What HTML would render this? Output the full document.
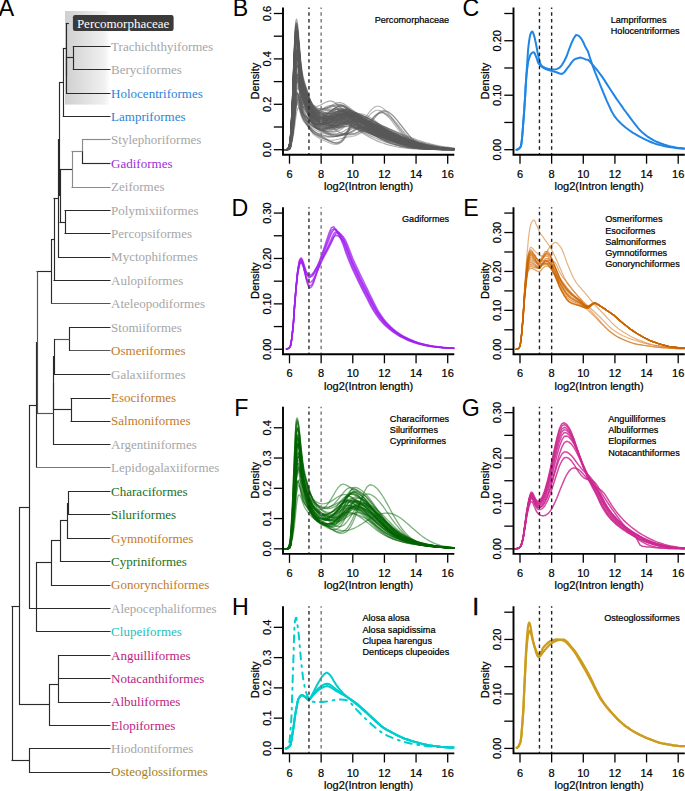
<!DOCTYPE html>
<html><head><meta charset="utf-8"><style>html,body{margin:0;padding:0;background:#fff;}svg{display:block;}</style></head><body>
<svg width="685" height="791" viewBox="0 0 685 791">
<rect width="685" height="791" fill="#fff"/>
<defs><linearGradient id="gbox" x1="0" x2="1" y1="0" y2="0"><stop offset="0" stop-color="#cfcfcf"/><stop offset="0.88" stop-color="#f1f1f1"/><stop offset="1" stop-color="#ffffff"/></linearGradient></defs>
<rect x="65" y="11" width="45" height="93.6" fill="url(#gbox)"/>
<line x1="65.80" y1="23.50" x2="68.90" y2="23.50" stroke="#2a2a2a" stroke-width="1.15"/>
<line x1="66.50" y1="23.00" x2="66.50" y2="76.00" stroke="#2a2a2a" stroke-width="1.15"/>
<line x1="72.80" y1="46.50" x2="110.50" y2="46.50" stroke="#2a2a2a" stroke-width="1.15"/>
<line x1="72.80" y1="69.50" x2="110.50" y2="69.50" stroke="#2a2a2a" stroke-width="1.15"/>
<line x1="73.50" y1="46.00" x2="73.50" y2="70.00" stroke="#2a2a2a" stroke-width="1.15"/>
<line x1="66.30" y1="57.50" x2="73.30" y2="57.50" stroke="#2a2a2a" stroke-width="1.15"/>
<line x1="66.30" y1="93.50" x2="110.50" y2="93.50" stroke="#2a2a2a" stroke-width="1.15"/>
<line x1="66.50" y1="57.00" x2="66.50" y2="94.00" stroke="#2a2a2a" stroke-width="1.15"/>
<line x1="62.80" y1="48.50" x2="66.30" y2="48.50" stroke="#2a2a2a" stroke-width="1.15"/>
<line x1="63.50" y1="48.00" x2="63.50" y2="117.00" stroke="#2a2a2a" stroke-width="1.15"/>
<line x1="62.80" y1="116.50" x2="110.50" y2="116.50" stroke="#2a2a2a" stroke-width="1.15"/>
<line x1="59.20" y1="82.50" x2="63.30" y2="82.50" stroke="#2a2a2a" stroke-width="1.15"/>
<line x1="59.50" y1="82.00" x2="59.50" y2="196.00" stroke="#2a2a2a" stroke-width="1.15"/>
<line x1="82.00" y1="139.50" x2="110.50" y2="139.50" stroke="#8a8a8a" stroke-width="1.15"/>
<line x1="82.00" y1="163.50" x2="110.50" y2="163.50" stroke="#2a2a2a" stroke-width="1.15"/>
<line x1="82.50" y1="139.00" x2="82.50" y2="152.00" stroke="#8a8a8a" stroke-width="1.15"/>
<line x1="82.50" y1="151.00" x2="82.50" y2="164.00" stroke="#2a2a2a" stroke-width="1.15"/>
<line x1="71.50" y1="151.50" x2="82.50" y2="151.50" stroke="#8a8a8a" stroke-width="1.15"/>
<line x1="71.50" y1="187.50" x2="110.50" y2="187.50" stroke="#8a8a8a" stroke-width="1.15"/>
<line x1="72.50" y1="151.00" x2="72.50" y2="188.00" stroke="#8a8a8a" stroke-width="1.15"/>
<line x1="59.50" y1="169.50" x2="72.00" y2="169.50" stroke="#2a2a2a" stroke-width="1.15"/>
<line x1="64.50" y1="210.50" x2="110.50" y2="210.50" stroke="#2a2a2a" stroke-width="1.15"/>
<line x1="64.50" y1="233.50" x2="110.50" y2="233.50" stroke="#2a2a2a" stroke-width="1.15"/>
<line x1="65.50" y1="210.00" x2="65.50" y2="234.00" stroke="#2a2a2a" stroke-width="1.15"/>
<line x1="59.50" y1="222.50" x2="65.00" y2="222.50" stroke="#2a2a2a" stroke-width="1.15"/>
<line x1="60.50" y1="169.00" x2="60.50" y2="223.00" stroke="#2a2a2a" stroke-width="1.15"/>
<line x1="58.10" y1="195.50" x2="60.00" y2="195.50" stroke="#2a2a2a" stroke-width="1.15"/>
<line x1="58.50" y1="139.00" x2="58.50" y2="258.00" stroke="#2a2a2a" stroke-width="1.15"/>
<line x1="58.10" y1="139.50" x2="59.70" y2="139.50" stroke="#2a2a2a" stroke-width="1.15"/>
<line x1="58.10" y1="257.50" x2="110.50" y2="257.50" stroke="#2a2a2a" stroke-width="1.15"/>
<line x1="53.50" y1="198.50" x2="58.60" y2="198.50" stroke="#2a2a2a" stroke-width="1.15"/>
<line x1="54.50" y1="198.00" x2="54.50" y2="281.00" stroke="#2a2a2a" stroke-width="1.15"/>
<line x1="53.50" y1="280.50" x2="110.50" y2="280.50" stroke="#2a2a2a" stroke-width="1.15"/>
<line x1="51.00" y1="239.50" x2="54.00" y2="239.50" stroke="#2a2a2a" stroke-width="1.15"/>
<line x1="51.50" y1="239.00" x2="51.50" y2="304.00" stroke="#2a2a2a" stroke-width="1.15"/>
<line x1="51.00" y1="303.50" x2="110.50" y2="303.50" stroke="#555" stroke-width="1.15"/>
<line x1="36.50" y1="271.50" x2="51.50" y2="271.50" stroke="#2a2a2a" stroke-width="1.15"/>
<line x1="37.50" y1="271.00" x2="37.50" y2="414.00" stroke="#555" stroke-width="1.15"/>
<line x1="69.00" y1="327.50" x2="110.50" y2="327.50" stroke="#2a2a2a" stroke-width="1.15"/>
<line x1="69.00" y1="350.50" x2="110.50" y2="350.50" stroke="#555" stroke-width="1.15"/>
<line x1="69.50" y1="327.00" x2="69.50" y2="351.00" stroke="#2a2a2a" stroke-width="1.15"/>
<line x1="54.00" y1="339.50" x2="69.50" y2="339.50" stroke="#555" stroke-width="1.15"/>
<line x1="54.00" y1="374.50" x2="110.50" y2="374.50" stroke="#2a2a2a" stroke-width="1.15"/>
<line x1="54.50" y1="339.00" x2="54.50" y2="375.00" stroke="#2a2a2a" stroke-width="1.15"/>
<line x1="53.30" y1="356.50" x2="54.50" y2="356.50" stroke="#2a2a2a" stroke-width="1.15"/>
<line x1="70.50" y1="398.50" x2="110.50" y2="398.50" stroke="#2a2a2a" stroke-width="1.15"/>
<line x1="70.50" y1="421.50" x2="110.50" y2="421.50" stroke="#2a2a2a" stroke-width="1.15"/>
<line x1="71.50" y1="398.00" x2="71.50" y2="422.00" stroke="#2a2a2a" stroke-width="1.15"/>
<line x1="53.30" y1="409.50" x2="71.00" y2="409.50" stroke="#2a2a2a" stroke-width="1.15"/>
<line x1="53.50" y1="356.00" x2="53.50" y2="410.00" stroke="#2a2a2a" stroke-width="1.15"/>
<line x1="53.00" y1="383.50" x2="53.80" y2="383.50" stroke="#2a2a2a" stroke-width="1.15"/>
<line x1="53.00" y1="444.50" x2="110.50" y2="444.50" stroke="#2a2a2a" stroke-width="1.15"/>
<line x1="53.50" y1="383.00" x2="53.50" y2="445.00" stroke="#2a2a2a" stroke-width="1.15"/>
<line x1="36.50" y1="413.50" x2="53.50" y2="413.50" stroke="#555" stroke-width="1.15"/>
<line x1="36.00" y1="342.50" x2="37.00" y2="342.50" stroke="#2a2a2a" stroke-width="1.15"/>
<line x1="36.50" y1="342.00" x2="36.50" y2="468.00" stroke="#2a2a2a" stroke-width="1.15"/>
<line x1="36.00" y1="467.50" x2="110.50" y2="467.50" stroke="#777" stroke-width="1.15"/>
<line x1="29.00" y1="405.50" x2="36.50" y2="405.50" stroke="#2a2a2a" stroke-width="1.15"/>
<line x1="29.50" y1="405.00" x2="29.50" y2="609.00" stroke="#2a2a2a" stroke-width="1.15"/>
<line x1="68.00" y1="491.50" x2="110.50" y2="491.50" stroke="#2a2a2a" stroke-width="1.15"/>
<line x1="68.00" y1="514.50" x2="110.50" y2="514.50" stroke="#2a2a2a" stroke-width="1.15"/>
<line x1="68.50" y1="491.00" x2="68.50" y2="515.00" stroke="#2a2a2a" stroke-width="1.15"/>
<line x1="67.00" y1="503.50" x2="68.50" y2="503.50" stroke="#2a2a2a" stroke-width="1.15"/>
<line x1="67.00" y1="538.50" x2="110.50" y2="538.50" stroke="#2a2a2a" stroke-width="1.15"/>
<line x1="67.50" y1="503.00" x2="67.50" y2="539.00" stroke="#2a2a2a" stroke-width="1.15"/>
<line x1="60.00" y1="520.50" x2="67.50" y2="520.50" stroke="#2a2a2a" stroke-width="1.15"/>
<line x1="60.00" y1="561.50" x2="110.50" y2="561.50" stroke="#2a2a2a" stroke-width="1.15"/>
<line x1="60.50" y1="520.00" x2="60.50" y2="562.00" stroke="#2a2a2a" stroke-width="1.15"/>
<line x1="51.00" y1="540.50" x2="60.50" y2="540.50" stroke="#2a2a2a" stroke-width="1.15"/>
<line x1="51.00" y1="585.50" x2="110.50" y2="585.50" stroke="#2a2a2a" stroke-width="1.15"/>
<line x1="51.50" y1="540.00" x2="51.50" y2="586.00" stroke="#2a2a2a" stroke-width="1.15"/>
<line x1="36.00" y1="562.50" x2="51.50" y2="562.50" stroke="#2a2a2a" stroke-width="1.15"/>
<line x1="36.00" y1="631.50" x2="110.50" y2="631.50" stroke="#2a2a2a" stroke-width="1.15"/>
<line x1="36.50" y1="562.00" x2="36.50" y2="632.00" stroke="#2a2a2a" stroke-width="1.15"/>
<line x1="29.00" y1="608.50" x2="110.50" y2="608.50" stroke="#2a2a2a" stroke-width="1.15"/>
<line x1="19.00" y1="507.50" x2="29.50" y2="507.50" stroke="#2a2a2a" stroke-width="1.15"/>
<line x1="19.50" y1="507.00" x2="19.50" y2="705.00" stroke="#2a2a2a" stroke-width="1.15"/>
<line x1="58.00" y1="655.50" x2="110.50" y2="655.50" stroke="#2a2a2a" stroke-width="1.15"/>
<line x1="58.00" y1="678.50" x2="110.50" y2="678.50" stroke="#2a2a2a" stroke-width="1.15"/>
<line x1="58.00" y1="702.50" x2="110.50" y2="702.50" stroke="#2a2a2a" stroke-width="1.15"/>
<line x1="58.50" y1="655.00" x2="58.50" y2="703.00" stroke="#2a2a2a" stroke-width="1.15"/>
<line x1="49.00" y1="684.50" x2="58.50" y2="684.50" stroke="#2a2a2a" stroke-width="1.15"/>
<line x1="49.00" y1="725.50" x2="110.50" y2="725.50" stroke="#2a2a2a" stroke-width="1.15"/>
<line x1="49.50" y1="684.00" x2="49.50" y2="726.00" stroke="#2a2a2a" stroke-width="1.15"/>
<line x1="19.00" y1="704.50" x2="49.50" y2="704.50" stroke="#2a2a2a" stroke-width="1.15"/>
<line x1="11.50" y1="606.50" x2="19.50" y2="606.50" stroke="#2a2a2a" stroke-width="1.15"/>
<line x1="29.00" y1="748.50" x2="110.50" y2="748.50" stroke="#2a2a2a" stroke-width="1.15"/>
<line x1="29.00" y1="772.50" x2="110.50" y2="772.50" stroke="#2a2a2a" stroke-width="1.15"/>
<line x1="29.50" y1="748.00" x2="29.50" y2="773.00" stroke="#2a2a2a" stroke-width="1.15"/>
<line x1="11.50" y1="760.50" x2="29.50" y2="760.50" stroke="#2a2a2a" stroke-width="1.15"/>
<line x1="12.50" y1="606.00" x2="12.50" y2="761.00" stroke="#2a2a2a" stroke-width="1.15"/>
<rect x="72.9" y="15" width="100.7" height="15.9" rx="2.2" fill="#3a3a3a"/>
<g font-family="&quot;Liberation Serif&quot;, serif" font-size="13">
<text x="76.9" y="28.1" fill="#ffffff">Percomorphaceae</text>
<text x="111.1" y="50.90" fill="#a6a6a6">Trachichthyiformes</text>
<text x="111.1" y="73.90" fill="#a6a6a6">Beryciformes</text>
<text x="111.1" y="97.50" fill="#2a84d8">Holocentriformes</text>
<text x="111.1" y="120.70" fill="#2a84d8">Lampriformes</text>
<text x="111.1" y="144.00" fill="#a6a6a6">Stylephoriformes</text>
<text x="111.1" y="167.80" fill="#9a2ed8">Gadiformes</text>
<text x="111.1" y="191.40" fill="#a6a6a6">Zeiformes</text>
<text x="111.1" y="214.80" fill="#a6a6a6">Polymixiiformes</text>
<text x="111.1" y="238.00" fill="#a6a6a6">Percopsiformes</text>
<text x="111.1" y="261.40" fill="#a6a6a6">Myctophiformes</text>
<text x="111.1" y="284.80" fill="#a6a6a6">Aulopiformes</text>
<text x="111.1" y="308.00" fill="#a6a6a6">Ateleopodiformes</text>
<text x="111.1" y="332.00" fill="#a6a6a6">Stomiiformes</text>
<text x="111.1" y="355.00" fill="#c27a2c">Osmeriformes</text>
<text x="111.1" y="378.80" fill="#a6a6a6">Galaxiiformes</text>
<text x="111.1" y="402.40" fill="#c27a2c">Esociformes</text>
<text x="111.1" y="425.40" fill="#c27a2c">Salmoniformes</text>
<text x="111.1" y="448.60" fill="#a6a6a6">Argentiniformes</text>
<text x="111.1" y="472.00" fill="#a6a6a6">Lepidogalaxiiformes</text>
<text x="111.1" y="496.00" fill="#1a701a">Characiformes</text>
<text x="111.1" y="518.80" fill="#1a701a">Siluriformes</text>
<text x="111.1" y="542.60" fill="#c27a2c">Gymnotiformes</text>
<text x="111.1" y="565.80" fill="#1a701a">Cypriniformes</text>
<text x="111.1" y="589.40" fill="#c27a2c">Gonorynchiformes</text>
<text x="111.1" y="612.80" fill="#a6a6a6">Alepocephaliformes</text>
<text x="111.1" y="635.80" fill="#1cc0c0">Clupeiformes</text>
<text x="111.1" y="659.80" fill="#bc2282">Anguilliformes</text>
<text x="111.1" y="683.00" fill="#bc2282">Notacanthiformes</text>
<text x="111.1" y="706.40" fill="#bc2282">Albuliformes</text>
<text x="111.1" y="729.80" fill="#bc2282">Elopiformes</text>
<text x="111.1" y="753.00" fill="#a6a6a6">Hiodontiformes</text>
<text x="111.1" y="776.40" fill="#a27e16">Osteoglossiformes</text>
</g>
<text x="-1.4" y="15.9" font-family="&quot;Liberation Sans&quot;, sans-serif" font-size="23.5" fill="#000">A</text>
<g font-family="&quot;Liberation Sans&quot;, sans-serif" font-size="11" fill="#000" stroke="#000" stroke-width="0.22"><clipPath id="clipB"><rect x="283.00" y="7.60" width="171.30" height="147.10"/></clipPath>
<g fill="none" stroke-linejoin="round" stroke-linecap="round" clip-path="url(#clipB)">
<path d="M283.5,149.7L284.0,149.7 284.5,149.7 285.1,149.7 285.6,149.7 286.1,149.7 286.6,149.6 287.1,149.5 287.7,149.3 288.2,148.9 288.7,148.3 289.2,147.3 289.8,145.5 290.3,142.6 290.8,137.8 291.3,131.0 291.8,122.8 292.4,113.5 292.9,103.1 293.4,91.7 293.9,79.7 294.5,67.8 295.0,56.9 295.5,47.9 296.0,41.7 296.5,38.8 297.1,38.6 297.6,40.3 298.1,43.5 298.6,48.0 299.2,53.2 299.7,58.7 300.2,64.0 300.7,68.9 301.2,73.2 301.8,76.9 302.3,80.0 302.8,82.6 303.3,84.7 303.8,86.5 304.4,88.2 304.9,89.7 305.4,91.1 305.9,92.6 306.5,94.0 307.0,95.4 307.5,96.9 308.0,98.3 308.5,99.8 309.1,101.2 309.6,102.6 310.1,103.8 310.6,105.0 311.2,106.1 311.7,107.1 312.2,108.0 312.7,108.8 313.2,109.6 313.8,110.3 314.3,111.0 314.8,111.6 317.2,113.7 319.6,115.2 321.9,116.3 324.3,117.1 326.7,117.5 329.0,117.7 331.4,117.5 333.8,117.0 336.1,116.5 338.5,116.1 340.9,116.0 343.3,116.5 345.6,117.8 348.0,119.4 350.4,121.0 352.7,122.5 355.1,123.9 357.5,125.3 359.8,126.5 362.2,127.8 364.6,128.9 367.0,130.0 369.3,131.1 371.7,132.1 374.1,133.1 376.4,134.0 378.8,135.0 381.2,135.9 383.6,136.8 385.9,137.6 388.3,138.5 390.7,139.3 393.0,140.1 395.4,140.8 397.8,141.5 400.1,142.2 402.5,142.9 404.9,143.5 407.3,144.1 409.6,144.6 412.0,145.1 414.4,145.6 416.7,146.1 419.1,146.5 421.5,146.8 423.8,147.2 426.2,147.5 428.6,147.8 431.0,148.0 433.3,148.2 435.7,148.4 438.1,148.6 440.4,148.8 442.8,148.9 445.2,149.0 447.5,149.1 449.9,149.2 452.3,149.3 454.7,149.4" stroke="#5a5a5a" stroke-width="1.2" stroke-opacity="0.5"/>
<path d="M283.5,149.7L284.0,149.7 284.5,149.7 285.1,149.7 285.6,149.7 286.1,149.6 286.6,149.5 287.1,149.3 287.7,149.0 288.2,148.4 288.7,147.5 289.2,145.9 289.8,143.4 290.3,139.6 290.8,133.9 291.3,126.0 291.8,116.5 292.4,105.6 292.9,93.7 293.4,80.9 293.9,68.1 294.5,56.1 295.0,46.0 295.5,38.7 296.0,34.8 296.5,34.4 297.1,36.2 297.6,39.8 298.1,44.8 298.6,50.8 299.2,57.2 299.7,63.5 300.2,69.5 300.7,74.9 301.2,79.5 301.8,83.4 302.3,86.7 302.8,89.5 303.3,91.9 303.8,94.0 304.4,95.9 304.9,97.7 305.4,99.5 305.9,101.1 306.5,102.8 307.0,104.4 307.5,106.0 308.0,107.6 308.5,109.1 309.1,110.6 309.6,111.9 310.1,113.2 310.6,114.3 311.2,115.4 311.7,116.4 312.2,117.2 312.7,118.0 313.2,118.7 313.8,119.4 314.3,119.9 314.8,120.4 317.2,122.1 319.6,122.9 321.9,123.3 324.3,123.4 326.7,123.2 329.0,122.7 331.4,122.1 333.8,121.4 336.1,120.7 338.5,120.2 340.9,120.0 343.3,120.3 345.6,121.1 348.0,122.3 350.4,123.5 352.7,124.7 355.1,125.8 357.5,127.0 359.8,128.1 362.2,129.1 364.6,130.2 367.0,131.2 369.3,132.2 371.7,133.2 374.1,134.2 376.4,135.1 378.8,136.0 381.2,136.9 383.6,137.8 385.9,138.7 388.3,139.5 390.7,140.3 393.0,141.1 395.4,141.8 397.8,142.6 400.1,143.2 402.5,143.8 404.9,144.4 407.3,145.0 409.6,145.5 412.0,146.0 414.4,146.4 416.7,146.8 419.1,147.2 421.5,147.5 423.8,147.8 426.2,148.0 428.6,148.3 431.0,148.5 433.3,148.6 435.7,148.8 438.1,148.9 440.4,149.1 442.8,149.2 445.2,149.3 447.5,149.3 449.9,149.4 452.3,149.4 454.7,149.5" stroke="#5a5a5a" stroke-width="1.2" stroke-opacity="0.5"/>
<path d="M283.5,149.7L284.0,149.7 284.5,149.7 285.1,149.7 285.6,149.6 286.1,149.6 286.6,149.5 287.1,149.2 287.7,148.8 288.2,148.1 288.7,146.9 289.2,145.0 289.8,142.1 290.3,137.5 290.8,130.7 291.3,121.4 291.8,110.3 292.4,97.8 292.9,84.3 293.4,70.2 293.9,56.2 294.5,43.4 295.0,32.9 295.5,25.7 296.0,22.4 296.5,22.5 297.1,24.8 297.6,29.0 298.1,34.7 298.6,41.3 299.2,48.1 299.7,54.9 300.2,61.1 300.7,66.6 301.2,71.4 301.8,75.3 302.3,78.7 302.8,81.5 303.3,83.9 303.8,86.0 304.4,88.0 304.9,89.8 305.4,91.6 305.9,93.4 306.5,95.1 307.0,96.8 307.5,98.5 308.0,100.2 308.5,101.8 309.1,103.4 309.6,104.9 310.1,106.3 310.6,107.5 311.2,108.6 311.7,109.7 312.2,110.6 312.7,111.5 313.2,112.2 313.8,112.9 314.3,113.5 314.8,114.0 317.2,115.8 319.6,116.8 321.9,117.4 324.3,117.6 326.7,117.7 329.0,117.6 331.4,117.2 333.8,116.7 336.1,116.1 338.5,115.5 340.9,115.0 343.3,114.7 345.6,114.8 348.0,115.5 350.4,116.7 352.7,118.1 355.1,119.5 357.5,121.0 359.8,122.5 362.2,124.0 364.6,125.5 367.0,127.0 369.3,128.5 371.7,129.9 374.1,131.4 376.4,132.8 378.8,134.1 381.2,135.4 383.6,136.6 385.9,137.8 388.3,139.0 390.7,140.0 393.0,141.0 395.4,141.9 397.8,142.8 400.1,143.6 402.5,144.3 404.9,145.0 407.3,145.6 409.6,146.1 412.0,146.6 414.4,147.0 416.7,147.4 419.1,147.8 421.5,148.1 423.8,148.3 426.2,148.5 428.6,148.7 431.0,148.9 433.3,149.0 435.7,149.2 438.1,149.3 440.4,149.3 442.8,149.4 445.2,149.5 447.5,149.5 449.9,149.6 452.3,149.6 454.7,149.6" stroke="#5a5a5a" stroke-width="1.2" stroke-opacity="0.5"/>
<path d="M283.5,149.7L284.0,149.7 284.5,149.7 285.1,149.7 285.6,149.7 286.1,149.7 286.6,149.7 287.1,149.7 287.7,149.6 288.2,149.6 288.7,149.5 289.2,149.2 289.8,148.7 290.3,147.8 290.8,145.8 291.3,142.9 291.8,139.6 292.4,136.1 292.9,132.3 293.4,127.9 293.9,123.0 294.5,117.7 295.0,112.1 295.5,106.8 296.0,102.0 296.5,98.2 297.1,95.6 297.6,94.4 298.1,94.2 298.6,94.7 299.2,95.8 299.7,97.3 300.2,99.1 300.7,100.9 301.2,102.7 301.8,104.2 302.3,105.5 302.8,106.6 303.3,107.4 303.8,108.1 304.4,108.7 304.9,109.2 305.4,109.6 305.9,110.1 306.5,110.6 307.0,111.1 307.5,111.6 308.0,112.2 308.5,112.9 309.1,113.6 309.6,114.2 310.1,114.8 310.6,115.3 311.2,115.9 311.7,116.4 312.2,116.8 312.7,117.2 313.2,117.6 313.8,118.0 314.3,118.3 314.8,118.6 317.2,119.6 319.6,120.3 321.9,120.8 324.3,121.0 326.7,120.9 329.0,120.6 331.4,119.9 333.8,118.9 336.1,117.7 338.5,116.2 340.9,114.6 343.3,113.3 345.6,112.2 348.0,111.8 350.4,112.1 352.7,113.1 355.1,114.4 357.5,115.7 359.8,117.0 362.2,118.4 364.6,119.9 367.0,121.3 369.3,122.8 371.7,124.3 374.1,125.8 376.4,127.3 378.8,128.7 381.2,130.2 383.6,131.6 385.9,132.9 388.3,134.3 390.7,135.6 393.0,136.8 395.4,138.0 397.8,139.1 400.1,140.1 402.5,141.1 404.9,142.0 407.3,142.9 409.6,143.7 412.0,144.4 414.4,145.0 416.7,145.6 419.1,146.2 421.5,146.6 423.8,147.1 426.2,147.5 428.6,147.8 431.0,148.1 433.3,148.3 435.7,148.5 438.1,148.7 440.4,148.9 442.8,149.0 445.2,149.2 447.5,149.3 449.9,149.3 452.3,149.4 454.7,149.5" stroke="#5a5a5a" stroke-width="1.2" stroke-opacity="0.5"/>
<path d="M283.5,149.7L284.0,149.7 284.5,149.7 285.1,149.7 285.6,149.7 286.1,149.7 286.6,149.7 287.1,149.7 287.7,149.6 288.2,149.6 288.7,149.5 289.2,149.3 289.8,148.8 290.3,147.8 290.8,145.8 291.3,142.8 291.8,139.4 292.4,136.1 292.9,132.6 293.4,128.7 293.9,124.4 294.5,119.7 295.0,114.9 295.5,110.3 296.0,106.2 296.5,102.8 297.1,100.5 297.6,99.3 298.1,98.9 298.6,99.0 299.2,99.6 299.7,100.6 300.2,101.7 300.7,102.9 301.2,103.9 301.8,104.9 302.3,105.6 302.8,106.2 303.3,106.6 303.8,106.9 304.4,107.1 304.9,107.2 305.4,107.4 305.9,107.6 306.5,107.9 307.0,108.2 307.5,108.5 308.0,109.0 308.5,109.5 309.1,110.0 309.6,110.5 310.1,111.0 310.6,111.5 311.2,111.9 311.7,112.4 312.2,112.8 312.7,113.1 313.2,113.5 313.8,113.9 314.3,114.2 314.8,114.5 317.2,115.8 319.6,116.8 321.9,117.8 324.3,118.6 326.7,119.2 329.0,119.7 331.4,119.9 333.8,120.0 336.1,119.8 338.5,119.5 340.9,119.2 343.3,119.0 345.6,119.1 348.0,119.5 350.4,120.4 352.7,121.6 355.1,122.8 357.5,124.0 359.8,125.2 362.2,126.3 364.6,127.4 367.0,128.6 369.3,129.7 371.7,130.8 374.1,131.8 376.4,132.9 378.8,134.0 381.2,135.1 383.6,136.1 385.9,137.1 388.3,138.1 390.7,139.1 393.0,140.0 395.4,140.9 397.8,141.8 400.1,142.6 402.5,143.3 404.9,144.0 407.3,144.7 409.6,145.3 412.0,145.8 414.4,146.3 416.7,146.8 419.1,147.2 421.5,147.5 423.8,147.8 426.2,148.1 428.6,148.4 431.0,148.6 433.3,148.8 435.7,148.9 438.1,149.1 440.4,149.2 442.8,149.3 445.2,149.3 447.5,149.4 449.9,149.5 452.3,149.5 454.7,149.6" stroke="#5a5a5a" stroke-width="1.2" stroke-opacity="0.5"/>
<path d="M283.5,149.7L284.0,149.7 284.5,149.7 285.1,149.7 285.6,149.7 286.1,149.7 286.6,149.7 287.1,149.6 287.7,149.5 288.2,149.3 288.7,149.0 289.2,148.5 289.8,147.5 290.3,145.7 290.8,142.6 291.3,138.1 291.8,132.6 292.4,126.4 292.9,119.4 293.4,111.5 293.9,102.9 294.5,93.9 295.0,85.1 295.5,77.2 296.0,70.9 296.5,66.8 297.1,65.1 297.6,65.2 298.1,66.6 298.6,69.2 299.2,72.5 299.7,76.3 300.2,80.2 300.7,83.9 301.2,87.3 301.8,90.3 302.3,92.8 302.8,94.9 303.3,96.6 303.8,98.0 304.4,99.3 304.9,100.4 305.4,101.5 305.9,102.6 306.5,103.6 307.0,104.7 307.5,105.8 308.0,106.9 308.5,108.0 309.1,109.1 309.6,110.2 310.1,111.2 310.6,112.1 311.2,112.9 311.7,113.7 312.2,114.5 312.7,115.1 313.2,115.8 313.8,116.3 314.3,116.9 314.8,117.3 317.2,119.1 319.6,120.4 321.9,121.5 324.3,122.5 326.7,123.5 329.0,124.4 331.4,125.1 333.8,125.6 336.1,125.8 338.5,125.5 340.9,124.8 343.3,123.5 345.6,121.8 348.0,119.9 350.4,118.0 352.7,116.5 355.1,115.6 357.5,115.5 359.8,116.4 362.2,117.4 364.6,118.5 367.0,119.6 369.3,120.7 371.7,121.8 374.1,123.0 376.4,124.2 378.8,125.4 381.2,126.6 383.6,127.8 385.9,129.0 388.3,130.2 390.7,131.4 393.0,132.6 395.4,133.7 397.8,134.9 400.1,136.0 402.5,137.1 404.9,138.1 407.3,139.1 409.6,140.0 412.0,140.9 414.4,141.8 416.7,142.6 419.1,143.3 421.5,144.0 423.8,144.6 426.2,145.2 428.6,145.8 431.0,146.2 433.3,146.7 435.7,147.1 438.1,147.4 440.4,147.7 442.8,148.0 445.2,148.3 447.5,148.5 449.9,148.7 452.3,148.8 454.7,149.0" stroke="#5a5a5a" stroke-width="1.2" stroke-opacity="0.5"/>
<path d="M283.5,149.7L284.0,149.7 284.5,149.7 285.1,149.7 285.6,149.7 286.1,149.6 286.6,149.6 287.1,149.5 287.7,149.3 288.2,148.9 288.7,148.3 289.2,147.2 289.8,145.5 290.3,142.7 290.8,138.3 291.3,132.1 291.8,124.6 292.4,115.9 292.9,106.3 293.4,95.7 293.9,84.7 294.5,74.0 295.0,64.4 295.5,56.7 296.0,51.7 296.5,49.7 297.1,50.1 297.6,52.1 298.1,55.6 298.6,60.1 299.2,65.2 299.7,70.4 300.2,75.5 300.7,80.1 301.2,84.2 301.8,87.6 302.3,90.6 302.8,93.0 303.3,95.1 303.8,96.8 304.4,98.5 304.9,99.9 305.4,101.4 305.9,102.8 306.5,104.1 307.0,105.5 307.5,106.9 308.0,108.2 308.5,109.6 309.1,110.9 309.6,112.1 310.1,113.2 310.6,114.3 311.2,115.3 311.7,116.2 312.2,117.0 312.7,117.7 313.2,118.4 313.8,119.0 314.3,119.6 314.8,120.1 317.2,121.9 319.6,123.1 321.9,124.0 324.3,124.7 326.7,125.2 329.0,125.6 331.4,125.7 333.8,125.6 336.1,125.3 338.5,124.8 340.9,124.2 343.3,123.7 345.6,123.4 348.0,123.5 350.4,124.0 352.7,125.0 355.1,126.1 357.5,127.2 359.8,128.3 362.2,129.4 364.6,130.5 367.0,131.6 369.3,132.6 371.7,133.6 374.1,134.7 376.4,135.6 378.8,136.6 381.2,137.6 383.6,138.5 385.9,139.4 388.3,140.2 390.7,141.1 393.0,141.8 395.4,142.6 397.8,143.3 400.1,143.9 402.5,144.6 404.9,145.1 407.3,145.6 409.6,146.1 412.0,146.6 414.4,147.0 416.7,147.3 419.1,147.7 421.5,147.9 423.8,148.2 426.2,148.4 428.6,148.6 431.0,148.8 433.3,148.9 435.7,149.1 438.1,149.2 440.4,149.3 442.8,149.3 445.2,149.4 447.5,149.5 449.9,149.5 452.3,149.5 454.7,149.6" stroke="#5a5a5a" stroke-width="1.2" stroke-opacity="0.5"/>
<path d="M283.5,149.7L284.0,149.7 284.5,149.7 285.1,149.7 285.6,149.7 286.1,149.6 286.6,149.5 287.1,149.4 287.7,149.1 288.2,148.6 288.7,147.7 289.2,146.2 289.8,143.9 290.3,140.1 290.8,134.1 291.3,125.7 291.8,115.7 292.4,104.5 292.9,92.3 293.4,79.2 293.9,65.8 294.5,53.1 295.0,42.0 295.5,33.5 296.0,28.4 296.5,26.9 297.1,27.8 297.6,30.6 298.1,35.0 298.6,40.4 299.2,46.4 299.7,52.4 300.2,58.1 300.7,63.2 301.2,67.6 301.8,71.3 302.3,74.4 302.8,76.9 303.3,79.0 303.8,80.9 304.4,82.6 304.9,84.2 305.4,85.7 305.9,87.2 306.5,88.8 307.0,90.3 307.5,91.8 308.0,93.4 308.5,95.0 309.1,96.5 309.6,97.9 310.1,99.2 310.6,100.4 311.2,101.6 311.7,102.6 312.2,103.6 312.7,104.4 313.2,105.2 313.8,105.9 314.3,106.6 314.8,107.2 317.2,109.3 319.6,110.7 321.9,111.8 324.3,112.6 326.7,113.2 329.0,113.6 331.4,113.7 333.8,113.5 336.1,113.0 338.5,112.4 340.9,111.7 343.3,111.1 345.6,110.8 348.0,110.9 350.4,111.5 352.7,112.9 355.1,114.4 357.5,116.0 359.8,117.6 362.2,119.1 364.6,120.7 367.0,122.2 369.3,123.7 371.7,125.3 374.1,126.7 376.4,128.2 378.8,129.7 381.2,131.1 383.6,132.4 385.9,133.8 388.3,135.1 390.7,136.3 393.0,137.5 395.4,138.6 397.8,139.7 400.1,140.7 402.5,141.6 404.9,142.5 407.3,143.3 409.6,144.1 412.0,144.8 414.4,145.4 416.7,146.0 419.1,146.5 421.5,146.9 423.8,147.3 426.2,147.7 428.6,148.0 431.0,148.3 433.3,148.5 435.7,148.7 438.1,148.9 440.4,149.0 442.8,149.1 445.2,149.2 447.5,149.3 449.9,149.4 452.3,149.5 454.7,149.5" stroke="#5a5a5a" stroke-width="1.2" stroke-opacity="0.5"/>
<path d="M283.5,149.7L284.0,149.7 284.5,149.7 285.1,149.7 285.6,149.7 286.1,149.7 286.6,149.6 287.1,149.5 287.7,149.3 288.2,149.0 288.7,148.5 289.2,147.6 289.8,146.0 290.3,143.5 290.8,139.4 291.3,133.6 291.8,126.5 292.4,118.5 292.9,109.5 293.4,99.5 293.9,89.0 294.5,78.7 295.0,69.2 295.5,61.5 296.0,56.2 296.5,53.7 297.1,53.7 297.6,55.3 298.1,58.3 298.6,62.3 299.2,66.9 299.7,71.8 300.2,76.6 300.7,81.0 301.2,84.9 301.8,88.2 302.3,90.9 302.8,93.2 303.3,95.2 303.8,96.8 304.4,98.3 304.9,99.6 305.4,100.9 305.9,102.2 306.5,103.4 307.0,104.6 307.5,105.9 308.0,107.1 308.5,108.3 309.1,109.5 309.6,110.5 310.1,111.5 310.6,112.5 311.2,113.3 311.7,114.0 312.2,114.7 312.7,115.3 313.2,115.8 313.8,116.3 314.3,116.7 314.8,117.0 317.2,117.9 319.6,118.0 321.9,117.5 324.3,116.6 326.7,115.3 329.0,113.8 331.4,112.2 333.8,110.7 336.1,109.4 338.5,108.6 340.9,108.5 343.3,109.3 345.6,110.6 348.0,112.1 350.4,113.5 352.7,114.9 355.1,116.4 357.5,117.8 359.8,119.3 362.2,120.8 364.6,122.2 367.0,123.7 369.3,125.2 371.7,126.7 374.1,128.1 376.4,129.6 378.8,131.0 381.2,132.4 383.6,133.7 385.9,135.0 388.3,136.3 390.7,137.5 393.0,138.7 395.4,139.8 397.8,140.8 400.1,141.7 402.5,142.6 404.9,143.4 407.3,144.2 409.6,144.9 412.0,145.5 414.4,146.0 416.7,146.5 419.1,147.0 421.5,147.4 423.8,147.7 426.2,148.0 428.6,148.3 431.0,148.5 433.3,148.7 435.7,148.9 438.1,149.0 440.4,149.1 442.8,149.2 445.2,149.3 447.5,149.4 449.9,149.5 452.3,149.5 454.7,149.5" stroke="#5a5a5a" stroke-width="1.2" stroke-opacity="0.5"/>
<path d="M283.5,149.7L284.0,149.7 284.5,149.7 285.1,149.7 285.6,149.7 286.1,149.6 286.6,149.5 287.1,149.3 287.7,148.9 288.2,148.3 288.7,147.3 289.2,145.7 289.8,143.1 290.3,139.1 290.8,133.3 291.3,125.3 291.8,115.5 292.4,104.4 292.9,92.0 293.4,78.9 293.9,65.8 294.5,53.5 295.0,43.3 295.5,36.1 296.0,32.4 296.5,32.3 297.1,34.4 297.6,38.4 298.1,43.8 298.6,50.2 299.2,57.0 299.7,63.7 300.2,70.0 300.7,75.7 301.2,80.6 301.8,84.7 302.3,88.3 302.8,91.2 303.3,93.8 303.8,96.1 304.4,98.2 304.9,100.2 305.4,102.0 305.9,103.8 306.5,105.6 307.0,107.3 307.5,109.0 308.0,110.6 308.5,112.2 309.1,113.7 309.6,115.1 310.1,116.4 310.6,117.6 311.2,118.7 311.7,119.7 312.2,120.5 312.7,121.3 313.2,122.0 313.8,122.6 314.3,123.2 314.8,123.6 317.2,125.0 319.6,125.5 321.9,125.4 324.3,124.9 326.7,123.9 329.0,122.5 331.4,120.7 333.8,118.6 336.1,116.3 338.5,114.0 340.9,111.9 343.3,110.2 345.6,109.2 348.0,109.2 350.4,110.0 352.7,111.1 355.1,112.3 357.5,113.5 359.8,114.9 362.2,116.3 364.6,117.8 367.0,119.4 369.3,121.0 371.7,122.6 374.1,124.2 376.4,125.9 378.8,127.5 381.2,129.1 383.6,130.7 385.9,132.2 388.3,133.7 390.7,135.1 393.0,136.5 395.4,137.8 397.8,139.0 400.1,140.1 402.5,141.2 404.9,142.2 407.3,143.1 409.6,143.9 412.0,144.6 414.4,145.3 416.7,145.9 419.1,146.5 421.5,146.9 423.8,147.3 426.2,147.7 428.6,148.0 431.0,148.3 433.3,148.5 435.7,148.7 438.1,148.9 440.4,149.0 442.8,149.2 445.2,149.3 447.5,149.4 449.9,149.4 452.3,149.5 454.7,149.5" stroke="#5a5a5a" stroke-width="1.2" stroke-opacity="0.5"/>
<path d="M283.5,149.7L284.0,149.7 284.5,149.7 285.1,149.7 285.6,149.7 286.1,149.7 286.6,149.7 287.1,149.6 287.7,149.5 288.2,149.4 288.7,149.1 289.2,148.6 289.8,147.7 290.3,146.0 290.8,143.1 291.3,138.8 291.8,133.6 292.4,127.9 292.9,121.5 293.4,114.3 293.9,106.4 294.5,98.2 295.0,90.2 295.5,83.0 296.0,77.3 296.5,73.4 297.1,71.8 297.6,71.8 298.1,72.9 298.6,75.1 299.2,77.9 299.7,81.2 300.2,84.5 300.7,87.8 301.2,90.7 301.8,93.2 302.3,95.3 302.8,97.1 303.3,98.5 303.8,99.7 304.4,100.7 304.9,101.7 305.4,102.6 305.9,103.4 306.5,104.3 307.0,105.2 307.5,106.2 308.0,107.1 308.5,108.1 309.1,109.1 309.6,110.0 310.1,110.9 310.6,111.7 311.2,112.5 311.7,113.2 312.2,113.8 312.7,114.4 313.2,115.0 313.8,115.5 314.3,116.0 314.8,116.4 317.2,118.0 319.6,119.1 321.9,119.8 324.3,120.2 326.7,120.3 329.0,120.0 331.4,119.3 333.8,118.2 336.1,116.9 338.5,115.4 340.9,113.9 343.3,112.7 345.6,112.1 348.0,112.1 350.4,113.0 352.7,114.2 355.1,115.4 357.5,116.6 359.8,117.8 362.2,119.0 364.6,120.3 367.0,121.5 369.3,122.8 371.7,124.1 374.1,125.4 376.4,126.7 378.8,128.1 381.2,129.4 383.6,130.7 385.9,132.0 388.3,133.3 390.7,134.5 393.0,135.8 395.4,136.9 397.8,138.1 400.1,139.2 402.5,140.2 404.9,141.1 407.3,142.0 409.6,142.9 412.0,143.6 414.4,144.4 416.7,145.0 419.1,145.6 421.5,146.1 423.8,146.6 426.2,147.0 428.6,147.4 431.0,147.7 433.3,148.0 435.7,148.3 438.1,148.5 440.4,148.7 442.8,148.9 445.2,149.0 447.5,149.1 449.9,149.2 452.3,149.3 454.7,149.4" stroke="#5a5a5a" stroke-width="1.2" stroke-opacity="0.5"/>
<path d="M283.5,149.7L284.0,149.7 284.5,149.7 285.1,149.7 285.6,149.7 286.1,149.7 286.6,149.7 287.1,149.6 287.7,149.5 288.2,149.3 288.7,149.0 289.2,148.4 289.8,147.4 290.3,145.6 290.8,142.7 291.3,138.4 291.8,133.0 292.4,126.6 292.9,119.1 293.4,110.4 293.9,100.8 294.5,90.7 295.0,80.9 295.5,72.0 296.0,64.9 296.5,60.3 297.1,58.5 297.6,58.9 298.1,60.9 298.6,64.2 299.2,68.5 299.7,73.3 300.2,78.3 300.7,83.2 301.2,87.6 301.8,91.6 302.3,95.0 302.8,97.9 303.3,100.3 303.8,102.4 304.4,104.2 304.9,105.9 305.4,107.4 305.9,108.8 306.5,110.3 307.0,111.6 307.5,113.0 308.0,114.4 308.5,115.7 309.1,117.0 309.6,118.2 310.1,119.3 310.6,120.4 311.2,121.3 311.7,122.2 312.2,123.0 312.7,123.7 313.2,124.4 313.8,125.0 314.3,125.5 314.8,126.0 317.2,127.5 319.6,128.2 321.9,128.5 324.3,128.4 326.7,127.9 329.0,127.1 331.4,125.9 333.8,124.5 336.1,122.8 338.5,121.0 340.9,119.4 343.3,118.1 345.6,117.4 348.0,117.4 350.4,118.1 352.7,119.1 355.1,120.1 357.5,121.1 359.8,122.2 362.2,123.2 364.6,124.3 367.0,125.5 369.3,126.6 371.7,127.7 374.1,128.8 376.4,130.0 378.8,131.1 381.2,132.2 383.6,133.3 385.9,134.3 388.3,135.4 390.7,136.4 393.0,137.4 395.4,138.3 397.8,139.3 400.1,140.1 402.5,141.0 404.9,141.7 407.3,142.5 409.6,143.2 412.0,143.8 414.4,144.4 416.7,145.0 419.1,145.5 421.5,146.0 423.8,146.4 426.2,146.8 428.6,147.2 431.0,147.5 433.3,147.8 435.7,148.0 438.1,148.3 440.4,148.5 442.8,148.6 445.2,148.8 447.5,148.9 449.9,149.1 452.3,149.2 454.7,149.2" stroke="#5a5a5a" stroke-width="1.2" stroke-opacity="0.5"/>
<path d="M283.5,149.7L284.0,149.7 284.5,149.7 285.1,149.7 285.6,149.7 286.1,149.7 286.6,149.7 287.1,149.7 287.7,149.6 288.2,149.6 288.7,149.4 289.2,149.2 289.8,148.7 290.3,147.8 290.8,146.1 291.3,143.7 291.8,140.7 292.4,137.5 292.9,133.9 293.4,129.8 293.9,125.3 294.5,120.4 295.0,115.5 295.5,110.9 296.0,106.9 296.5,104.0 297.1,102.4 297.6,101.9 298.1,102.2 298.6,103.2 299.2,104.6 299.7,106.4 300.2,108.3 300.7,110.2 301.2,112.0 301.8,113.5 302.3,114.8 302.8,115.9 303.3,116.8 303.8,117.5 304.4,118.1 304.9,118.7 305.4,119.2 305.9,119.7 306.5,120.2 307.0,120.7 307.5,121.3 308.0,121.9 308.5,122.5 309.1,123.1 309.6,123.6 310.1,124.2 310.6,124.7 311.2,125.1 311.7,125.6 312.2,126.0 312.7,126.3 313.2,126.7 313.8,127.0 314.3,127.3 314.8,127.5 317.2,128.4 319.6,128.9 321.9,129.1 324.3,129.0 326.7,128.4 329.0,127.4 331.4,125.9 333.8,124.0 336.1,121.8 338.5,119.4 340.9,117.1 343.3,115.2 345.6,114.0 348.0,113.7 350.4,114.3 352.7,115.1 355.1,116.0 357.5,116.9 359.8,117.9 362.2,118.9 364.6,119.9 367.0,121.0 369.3,122.2 371.7,123.4 374.1,124.6 376.4,125.9 378.8,127.1 381.2,128.4 383.6,129.7 385.9,131.0 388.3,132.3 390.7,133.5 393.0,134.8 395.4,135.9 397.8,137.1 400.1,138.2 402.5,139.3 404.9,140.3 407.3,141.2 409.6,142.1 412.0,142.9 414.4,143.7 416.7,144.3 419.1,145.0 421.5,145.6 423.8,146.1 426.2,146.6 428.6,147.0 431.0,147.4 433.3,147.7 435.7,148.0 438.1,148.2 440.4,148.5 442.8,148.7 445.2,148.8 447.5,149.0 449.9,149.1 452.3,149.2 454.7,149.3" stroke="#5a5a5a" stroke-width="1.2" stroke-opacity="0.5"/>
<path d="M283.5,149.7L284.0,149.7 284.5,149.7 285.1,149.7 285.6,149.6 286.1,149.6 286.6,149.5 287.1,149.3 287.7,148.9 288.2,148.2 288.7,147.1 289.2,145.3 289.8,142.5 290.3,138.2 290.8,131.7 291.3,122.9 291.8,112.3 292.4,100.5 292.9,87.7 293.4,74.2 293.9,60.9 294.5,48.7 295.0,38.7 295.5,31.7 296.0,28.5 296.5,28.4 297.1,30.6 297.6,34.5 298.1,39.8 298.6,46.0 299.2,52.5 299.7,58.9 300.2,64.7 300.7,70.0 301.2,74.4 301.8,78.2 302.3,81.4 302.8,84.0 303.3,86.3 303.8,88.3 304.4,90.1 304.9,91.8 305.4,93.5 305.9,95.2 306.5,96.8 307.0,98.4 307.5,100.0 308.0,101.6 308.5,103.1 309.1,104.6 309.6,106.0 310.1,107.3 310.6,108.5 311.2,109.6 311.7,110.6 312.2,111.5 312.7,112.3 313.2,113.0 313.8,113.7 314.3,114.2 314.8,114.8 317.2,116.5 319.6,117.5 321.9,118.0 324.3,118.3 326.7,118.4 329.0,118.3 331.4,118.0 333.8,117.5 336.1,116.8 338.5,116.2 340.9,115.6 343.3,115.3 345.6,115.4 348.0,115.9 350.4,117.0 352.7,118.4 355.1,119.7 357.5,121.0 359.8,122.3 362.2,123.6 364.6,124.8 367.0,126.0 369.3,127.2 371.7,128.4 374.1,129.5 376.4,130.6 378.8,131.7 381.2,132.7 383.6,133.8 385.9,134.7 388.3,135.7 390.7,136.7 393.0,137.6 395.4,138.4 397.8,139.3 400.1,140.1 402.5,140.9 404.9,141.6 407.3,142.3 409.6,143.0 412.0,143.6 414.4,144.2 416.7,144.7 419.1,145.2 421.5,145.7 423.8,146.1 426.2,146.5 428.6,146.9 431.0,147.2 433.3,147.5 435.7,147.8 438.1,148.0 440.4,148.3 442.8,148.4 445.2,148.6 447.5,148.8 449.9,148.9 452.3,149.0 454.7,149.1" stroke="#5a5a5a" stroke-width="1.2" stroke-opacity="0.5"/>
<path d="M283.5,149.7L284.0,149.7 284.5,149.7 285.1,149.7 285.6,149.7 286.1,149.7 286.6,149.7 287.1,149.6 287.7,149.5 288.2,149.4 288.7,149.1 289.2,148.6 289.8,147.8 290.3,146.3 290.8,143.9 291.3,140.3 291.8,135.9 292.4,130.9 292.9,125.1 293.4,118.6 293.9,111.4 294.5,104.1 295.0,97.0 295.5,90.7 296.0,85.9 296.5,82.8 297.1,81.8 297.6,82.2 298.1,83.7 298.6,86.1 299.2,89.1 299.7,92.4 300.2,95.8 300.7,99.1 301.2,102.0 301.8,104.6 302.3,106.8 302.8,108.6 303.3,110.2 303.8,111.5 304.4,112.6 304.9,113.6 305.4,114.6 305.9,115.6 306.5,116.5 307.0,117.4 307.5,118.4 308.0,119.3 308.5,120.2 309.1,121.1 309.6,122.0 310.1,122.8 310.6,123.5 311.2,124.2 311.7,124.8 312.2,125.4 312.7,125.9 313.2,126.4 313.8,126.8 314.3,127.2 314.8,127.6 317.2,128.8 319.6,129.4 321.9,129.8 324.3,129.8 326.7,129.5 329.0,128.9 331.4,127.9 333.8,126.5 336.1,124.7 338.5,122.5 340.9,120.2 343.3,117.9 345.6,116.0 348.0,114.6 350.4,114.0 352.7,114.4 355.1,115.2 357.5,116.1 359.8,117.0 362.2,118.0 364.6,119.0 367.0,120.1 369.3,121.2 371.7,122.3 374.1,123.5 376.4,124.6 378.8,125.8 381.2,127.0 383.6,128.2 385.9,129.4 388.3,130.6 390.7,131.8 393.0,133.0 395.4,134.1 397.8,135.2 400.1,136.3 402.5,137.4 404.9,138.4 407.3,139.3 409.6,140.3 412.0,141.1 414.4,141.9 416.7,142.7 419.1,143.4 421.5,144.1 423.8,144.7 426.2,145.2 428.6,145.8 431.0,146.2 433.3,146.6 435.7,147.0 438.1,147.4 440.4,147.7 442.8,148.0 445.2,148.2 447.5,148.4 449.9,148.6 452.3,148.8 454.7,148.9" stroke="#5a5a5a" stroke-width="1.2" stroke-opacity="0.5"/>
<path d="M283.5,149.7L284.0,149.7 284.5,149.7 285.1,149.7 285.6,149.7 286.1,149.7 286.6,149.7 287.1,149.7 287.7,149.7 288.2,149.6 288.7,149.5 289.2,149.3 289.8,148.9 290.3,147.9 290.8,146.0 291.3,143.0 291.8,139.6 292.4,136.4 292.9,133.0 293.4,129.2 293.9,124.9 294.5,120.2 295.0,115.3 295.5,110.3 296.0,105.8 296.5,101.9 297.1,99.0 297.6,97.2 298.1,96.4 298.6,96.2 299.2,96.6 299.7,97.4 300.2,98.5 300.7,99.7 301.2,100.8 301.8,101.8 302.3,102.7 302.8,103.3 303.3,103.8 303.8,104.1 304.4,104.4 304.9,104.6 305.4,104.8 305.9,105.0 306.5,105.3 307.0,105.6 307.5,106.0 308.0,106.4 308.5,107.0 309.1,107.5 309.6,108.0 310.1,108.5 310.6,109.0 311.2,109.4 311.7,109.9 312.2,110.3 312.7,110.6 313.2,110.9 313.8,111.3 314.3,111.5 314.8,111.8 317.2,112.7 319.6,113.2 321.9,113.3 324.3,113.0 326.7,112.4 329.0,111.4 331.4,110.1 333.8,108.7 336.1,107.3 338.5,106.4 340.9,106.0 343.3,106.6 345.6,108.0 348.0,109.8 350.4,111.6 352.7,113.4 355.1,115.2 357.5,117.0 359.8,118.7 362.2,120.4 364.6,122.1 367.0,123.8 369.3,125.4 371.7,127.0 374.1,128.6 376.4,130.1 378.8,131.5 381.2,132.9 383.6,134.3 385.9,135.6 388.3,136.8 390.7,137.9 393.0,139.0 395.4,140.1 397.8,141.1 400.1,142.0 402.5,142.8 404.9,143.6 407.3,144.3 409.6,144.9 412.0,145.5 414.4,146.1 416.7,146.5 419.1,147.0 421.5,147.4 423.8,147.7 426.2,148.0 428.6,148.2 431.0,148.5 433.3,148.7 435.7,148.8 438.1,149.0 440.4,149.1 442.8,149.2 445.2,149.3 447.5,149.4 449.9,149.4 452.3,149.5 454.7,149.5" stroke="#5a5a5a" stroke-width="1.2" stroke-opacity="0.5"/>
<path d="M283.5,149.7L284.0,149.7 284.5,149.7 285.1,149.7 285.6,149.7 286.1,149.7 286.6,149.6 287.1,149.6 287.7,149.5 288.2,149.3 288.7,148.9 289.2,148.2 289.8,147.1 290.3,145.0 290.8,141.4 291.3,136.2 291.8,130.1 292.4,123.6 292.9,116.6 293.4,108.8 293.9,100.7 294.5,92.5 295.0,84.8 295.5,78.2 296.0,73.4 296.5,70.5 297.1,69.7 297.6,70.0 298.1,71.4 298.6,73.6 299.2,76.4 299.7,79.4 300.2,82.3 300.7,85.0 301.2,87.4 301.8,89.3 302.3,90.9 302.8,92.2 303.3,93.2 303.8,94.0 304.4,94.7 304.9,95.3 305.4,96.0 305.9,96.7 306.5,97.4 307.0,98.1 307.5,99.0 308.0,99.8 308.5,100.8 309.1,101.7 309.6,102.6 310.1,103.4 310.6,104.1 311.2,104.8 311.7,105.5 312.2,106.1 312.7,106.7 313.2,107.2 313.8,107.7 314.3,108.1 314.8,108.5 317.2,110.0 319.6,111.1 321.9,112.0 324.3,112.8 326.7,113.4 329.0,113.9 331.4,114.1 333.8,114.3 336.1,114.3 338.5,114.2 340.9,114.1 343.3,114.1 345.6,114.3 348.0,114.9 350.4,116.0 352.7,117.4 355.1,118.9 357.5,120.4 359.8,121.9 362.2,123.3 364.6,124.7 367.0,126.1 369.3,127.4 371.7,128.6 374.1,129.9 376.4,131.1 378.8,132.3 381.2,133.4 383.6,134.5 385.9,135.6 388.3,136.6 390.7,137.6 393.0,138.6 395.4,139.5 397.8,140.4 400.1,141.2 402.5,142.0 404.9,142.8 407.3,143.5 409.6,144.1 412.0,144.7 414.4,145.3 416.7,145.8 419.1,146.3 421.5,146.7 423.8,147.1 426.2,147.4 428.6,147.7 431.0,148.0 433.3,148.2 435.7,148.5 438.1,148.6 440.4,148.8 442.8,148.9 445.2,149.1 447.5,149.2 449.9,149.3 452.3,149.3 454.7,149.4" stroke="#5a5a5a" stroke-width="1.2" stroke-opacity="0.5"/>
<path d="M283.5,149.7L284.0,149.7 284.5,149.7 285.1,149.7 285.6,149.7 286.1,149.6 286.6,149.5 287.1,149.3 287.7,148.9 288.2,148.3 288.7,147.2 289.2,145.5 289.8,142.8 290.3,138.5 290.8,132.2 291.3,123.4 291.8,112.8 292.4,100.9 292.9,87.8 293.4,73.9 293.9,59.9 294.5,46.9 295.0,36.0 295.5,28.1 296.0,24.1 296.5,23.7 297.1,25.6 297.6,29.5 298.1,35.0 298.6,41.4 299.2,48.3 299.7,55.1 300.2,61.5 300.7,67.2 301.2,72.2 301.8,76.3 302.3,79.8 302.8,82.8 303.3,85.3 303.8,87.5 304.4,89.6 304.9,91.5 305.4,93.3 305.9,95.1 306.5,96.9 307.0,98.6 307.5,100.4 308.0,102.1 308.5,103.8 309.1,105.4 309.6,106.9 310.1,108.3 310.6,109.6 311.2,110.7 311.7,111.8 312.2,112.8 312.7,113.7 313.2,114.5 313.8,115.2 314.3,115.9 314.8,116.5 317.2,118.5 319.6,119.8 321.9,120.8 324.3,121.6 326.7,122.3 329.0,122.8 331.4,123.0 333.8,123.0 336.1,122.5 338.5,121.6 340.9,120.3 343.3,118.7 345.6,116.9 348.0,115.2 350.4,113.8 352.7,112.8 355.1,112.7 357.5,113.3 359.8,114.4 362.2,115.5 364.6,116.7 367.0,117.8 369.3,119.0 371.7,120.2 374.1,121.4 376.4,122.6 378.8,123.8 381.2,125.0 383.6,126.2 385.9,127.4 388.3,128.6 390.7,129.8 393.0,131.0 395.4,132.1 397.8,133.3 400.1,134.4 402.5,135.5 404.9,136.5 407.3,137.6 409.6,138.5 412.0,139.5 414.4,140.4 416.7,141.2 419.1,142.0 421.5,142.7 423.8,143.4 426.2,144.1 428.6,144.7 431.0,145.2 433.3,145.7 435.7,146.2 438.1,146.6 440.4,147.0 442.8,147.3 445.2,147.6 447.5,147.9 449.9,148.1 452.3,148.4 454.7,148.6" stroke="#5a5a5a" stroke-width="1.2" stroke-opacity="0.5"/>
<path d="M283.5,149.7L284.0,149.7 284.5,149.7 285.1,149.7 285.6,149.7 286.1,149.7 286.6,149.6 287.1,149.5 287.7,149.4 288.2,149.1 288.7,148.5 289.2,147.7 289.8,146.2 290.3,143.9 290.8,140.2 291.3,135.0 291.8,128.5 292.4,120.9 292.9,112.4 293.4,102.9 293.9,92.8 294.5,82.9 295.0,73.8 295.5,66.3 296.0,61.2 296.5,58.9 297.1,58.9 297.6,60.6 298.1,63.7 298.6,67.8 299.2,72.6 299.7,77.5 300.2,82.4 300.7,86.9 301.2,91.0 301.8,94.4 302.3,97.4 302.8,99.8 303.3,101.9 303.8,103.7 304.4,105.4 304.9,106.9 305.4,108.3 305.9,109.6 306.5,111.0 307.0,112.3 307.5,113.6 308.0,114.9 308.5,116.2 309.1,117.4 309.6,118.6 310.1,119.7 310.6,120.7 311.2,121.6 311.7,122.4 312.2,123.2 312.7,123.9 313.2,124.6 313.8,125.2 314.3,125.7 314.8,126.2 317.2,127.9 319.6,129.1 321.9,130.1 324.3,130.8 326.7,131.5 329.0,132.0 331.4,132.2 333.8,132.2 336.1,131.7 338.5,130.8 340.9,129.4 343.3,127.7 345.6,125.9 348.0,124.1 350.4,122.5 352.7,121.5 355.1,121.2 357.5,121.7 359.8,122.4 362.2,123.1 364.6,123.9 367.0,124.6 369.3,125.4 371.7,126.2 374.1,127.0 376.4,127.9 378.8,128.8 381.2,129.7 383.6,130.6 385.9,131.5 388.3,132.5 390.7,133.4 393.0,134.3 395.4,135.3 397.8,136.2 400.1,137.1 402.5,138.0 404.9,138.9 407.3,139.8 409.6,140.6 412.0,141.4 414.4,142.1 416.7,142.8 419.1,143.5 421.5,144.1 423.8,144.7 426.2,145.2 428.6,145.7 431.0,146.1 433.3,146.6 435.7,146.9 438.1,147.3 440.4,147.6 442.8,147.9 445.2,148.1 447.5,148.3 449.9,148.5 452.3,148.7 454.7,148.8" stroke="#5a5a5a" stroke-width="1.2" stroke-opacity="0.5"/>
<path d="M283.5,149.7L284.0,149.7 284.5,149.7 285.1,149.7 285.6,149.7 286.1,149.6 286.6,149.6 287.1,149.4 287.7,149.1 288.2,148.7 288.7,147.8 289.2,146.5 289.8,144.4 290.3,140.9 290.8,135.5 291.3,128.0 291.8,119.0 292.4,108.8 292.9,97.6 293.4,85.6 293.9,73.2 294.5,61.5 295.0,51.3 295.5,43.4 296.0,38.8 296.5,37.5 297.1,38.4 297.6,41.1 298.1,45.3 298.6,50.4 299.2,56.1 299.7,61.9 300.2,67.3 300.7,72.2 301.2,76.5 301.8,80.1 302.3,83.1 302.8,85.6 303.3,87.7 303.8,89.5 304.4,91.2 304.9,92.8 305.4,94.3 305.9,95.8 306.5,97.2 307.0,98.7 307.5,100.2 308.0,101.6 308.5,103.1 309.1,104.5 309.6,105.9 310.1,107.1 310.6,108.2 311.2,109.3 311.7,110.2 312.2,111.1 312.7,111.9 313.2,112.6 313.8,113.2 314.3,113.8 314.8,114.3 317.2,116.1 319.6,117.2 321.9,117.8 324.3,118.2 326.7,118.4 329.0,118.3 331.4,117.8 333.8,117.1 336.1,116.1 338.5,115.0 340.9,114.0 343.3,113.3 345.6,113.2 348.0,113.6 350.4,114.9 352.7,116.3 355.1,117.8 357.5,119.3 359.8,120.9 362.2,122.4 364.6,124.0 367.0,125.6 369.3,127.1 371.7,128.7 374.1,130.2 376.4,131.6 378.8,133.1 381.2,134.4 383.6,135.7 385.9,137.0 388.3,138.2 390.7,139.3 393.0,140.4 395.4,141.4 397.8,142.3 400.1,143.2 402.5,143.9 404.9,144.6 407.3,145.3 409.6,145.9 412.0,146.4 414.4,146.9 416.7,147.3 419.1,147.6 421.5,147.9 423.8,148.2 426.2,148.5 428.6,148.7 431.0,148.8 433.3,149.0 435.7,149.1 438.1,149.2 440.4,149.3 442.8,149.4 445.2,149.5 447.5,149.5 449.9,149.5 452.3,149.6 454.7,149.6" stroke="#5a5a5a" stroke-width="1.2" stroke-opacity="0.5"/>
<path d="M283.5,149.7L284.0,149.7 284.5,149.7 285.1,149.7 285.6,149.7 286.1,149.7 286.6,149.7 287.1,149.6 287.7,149.5 288.2,149.3 288.7,149.0 289.2,148.4 289.8,147.4 290.3,145.5 290.8,142.2 291.3,137.3 291.8,131.5 292.4,125.2 292.9,118.2 293.4,110.5 293.9,102.1 294.5,93.5 295.0,85.2 295.5,77.9 296.0,72.2 296.5,68.5 297.1,67.0 297.6,67.0 298.1,68.3 298.6,70.5 299.2,73.4 299.7,76.6 300.2,79.9 300.7,83.0 301.2,85.8 301.8,88.2 302.3,90.2 302.8,91.8 303.3,93.1 303.8,94.2 304.4,95.1 304.9,95.9 305.4,96.8 305.9,97.6 306.5,98.4 307.0,99.3 307.5,100.2 308.0,101.2 308.5,102.3 309.1,103.3 309.6,104.2 310.1,105.2 310.6,106.0 311.2,106.9 311.7,107.6 312.2,108.4 312.7,109.1 313.2,109.7 313.8,110.3 314.3,110.9 314.8,111.4 317.2,113.6 319.6,115.5 321.9,117.3 324.3,119.1 326.7,120.9 329.0,122.5 331.4,124.0 333.8,125.1 336.1,125.8 338.5,126.1 340.9,125.9 343.3,125.3 345.6,124.3 348.0,123.1 350.4,121.9 352.7,120.9 355.1,120.3 357.5,120.3 359.8,121.0 362.2,121.7 364.6,122.5 367.0,123.2 369.3,124.0 371.7,124.8 374.1,125.6 376.4,126.4 378.8,127.3 381.2,128.2 383.6,129.1 385.9,130.0 388.3,131.0 390.7,132.0 393.0,133.0 395.4,134.0 397.8,135.0 400.1,136.0 402.5,137.0 404.9,138.0 407.3,138.9 409.6,139.8 412.0,140.6 414.4,141.5 416.7,142.2 419.1,143.0 421.5,143.6 423.8,144.3 426.2,144.9 428.6,145.4 431.0,145.9 433.3,146.4 435.7,146.8 438.1,147.2 440.4,147.5 442.8,147.8 445.2,148.0 447.5,148.3 449.9,148.5 452.3,148.7 454.7,148.8" stroke="#5a5a5a" stroke-width="1.2" stroke-opacity="0.5"/>
<path d="M283.5,149.7L284.0,149.7 284.5,149.7 285.1,149.7 285.6,149.7 286.1,149.7 286.6,149.6 287.1,149.5 287.7,149.3 288.2,149.0 288.7,148.5 289.2,147.6 289.8,146.1 290.3,143.7 290.8,139.7 291.3,134.1 291.8,127.3 292.4,119.8 292.9,111.5 293.4,102.5 293.9,93.1 294.5,84.0 295.0,75.8 295.5,69.3 296.0,64.9 296.5,63.2 297.1,63.3 297.6,64.8 298.1,67.5 298.6,71.1 299.2,75.1 299.7,79.3 300.2,83.2 300.7,86.9 301.2,90.1 301.8,92.7 302.3,95.0 302.8,96.8 303.3,98.3 303.8,99.6 304.4,100.8 304.9,101.9 305.4,103.0 305.9,104.0 306.5,105.1 307.0,106.2 307.5,107.2 308.0,108.3 308.5,109.5 309.1,110.5 309.6,111.5 310.1,112.5 310.6,113.4 311.2,114.2 311.7,114.9 312.2,115.6 312.7,116.2 313.2,116.7 313.8,117.3 314.3,117.7 314.8,118.1 317.2,119.5 319.6,120.3 321.9,120.7 324.3,120.7 326.7,120.3 329.0,119.5 331.4,118.3 333.8,116.7 336.1,115.0 338.5,113.2 340.9,111.9 343.3,111.2 345.6,111.4 348.0,112.6 350.4,114.0 352.7,115.4 355.1,116.8 357.5,118.3 359.8,119.8 362.2,121.2 364.6,122.7 367.0,124.2 369.3,125.6 371.7,127.1 374.1,128.5 376.4,129.9 378.8,131.2 381.2,132.5 383.6,133.8 385.9,135.1 388.3,136.3 390.7,137.4 393.0,138.5 395.4,139.5 397.8,140.5 400.1,141.4 402.5,142.2 404.9,143.0 407.3,143.8 409.6,144.5 412.0,145.1 414.4,145.6 416.7,146.1 419.1,146.6 421.5,147.0 423.8,147.4 426.2,147.7 428.6,148.0 431.0,148.3 433.3,148.5 435.7,148.7 438.1,148.8 440.4,149.0 442.8,149.1 445.2,149.2 447.5,149.3 449.9,149.4 452.3,149.4 454.7,149.5" stroke="#5a5a5a" stroke-width="1.2" stroke-opacity="0.5"/>
<path d="M283.5,149.7L284.0,149.7 284.5,149.7 285.1,149.7 285.6,149.7 286.1,149.6 286.6,149.5 287.1,149.3 287.7,148.9 288.2,148.3 288.7,147.3 289.2,145.6 289.8,143.0 290.3,138.9 290.8,132.7 291.3,124.1 291.8,113.9 292.4,102.6 292.9,90.3 293.4,77.5 293.9,64.7 294.5,52.9 295.0,43.1 295.5,36.2 296.0,32.7 296.5,32.4 297.1,34.2 297.6,37.7 298.1,42.6 298.6,48.2 299.2,54.3 299.7,60.2 300.2,65.6 300.7,70.5 301.2,74.6 301.8,78.1 302.3,81.0 302.8,83.4 303.3,85.4 303.8,87.2 304.4,88.9 304.9,90.5 305.4,92.0 305.9,93.5 306.5,95.0 307.0,96.4 307.5,97.9 308.0,99.4 308.5,100.9 309.1,102.3 309.6,103.7 310.1,104.9 310.6,106.1 311.2,107.2 311.7,108.1 312.2,109.0 312.7,109.9 313.2,110.6 313.8,111.3 314.3,111.9 314.8,112.5 317.2,114.6 319.6,116.0 321.9,117.1 324.3,118.0 326.7,118.6 329.0,118.8 331.4,118.8 333.8,118.3 336.1,117.6 338.5,116.5 340.9,115.4 343.3,114.2 345.6,113.3 348.0,112.8 350.4,112.8 352.7,113.5 355.1,114.6 357.5,115.7 359.8,116.8 362.2,117.9 364.6,119.0 367.0,120.1 369.3,121.2 371.7,122.4 374.1,123.6 376.4,124.8 378.8,126.0 381.2,127.2 383.6,128.5 385.9,129.8 388.3,131.0 390.7,132.3 393.0,133.5 395.4,134.7 397.8,135.9 400.1,137.0 402.5,138.1 404.9,139.2 407.3,140.1 409.6,141.1 412.0,142.0 414.4,142.8 416.7,143.5 419.1,144.2 421.5,144.9 423.8,145.5 426.2,146.0 428.6,146.5 431.0,146.9 433.3,147.3 435.7,147.6 438.1,147.9 440.4,148.2 442.8,148.4 445.2,148.6 447.5,148.8 449.9,148.9 452.3,149.1 454.7,149.2" stroke="#5a5a5a" stroke-width="1.2" stroke-opacity="0.5"/>
<path d="M283.5,149.7L284.0,149.7 284.5,149.7 285.1,149.7 285.6,149.7 286.1,149.6 286.6,149.5 287.1,149.4 287.7,149.1 288.2,148.6 288.7,147.8 289.2,146.4 289.8,144.2 290.3,140.7 290.8,135.5 291.3,128.3 291.8,119.3 292.4,108.8 292.9,96.8 293.4,83.8 293.9,70.4 294.5,57.5 295.0,46.1 295.5,37.4 296.0,32.1 296.5,30.7 297.1,32.0 297.6,35.3 298.1,40.4 298.6,46.6 299.2,53.5 299.7,60.5 300.2,67.2 300.7,73.4 301.2,78.8 301.8,83.5 302.3,87.4 302.8,90.8 303.3,93.6 303.8,96.2 304.4,98.5 304.9,100.6 305.4,102.6 305.9,104.6 306.5,106.4 307.0,108.3 307.5,110.1 308.0,111.8 308.5,113.5 309.1,115.1 309.6,116.7 310.1,118.1 310.6,119.4 311.2,120.6 311.7,121.7 312.2,122.7 312.7,123.6 313.2,124.5 313.8,125.3 314.3,126.0 314.8,126.6 317.2,128.9 319.6,130.5 321.9,131.8 324.3,132.9 326.7,134.0 329.0,134.9 331.4,135.7 333.8,136.2 336.1,136.3 338.5,136.0 340.9,135.3 343.3,134.2 345.6,132.8 348.0,131.2 350.4,129.7 352.7,128.6 355.1,127.9 357.5,127.9 359.8,128.3 362.2,128.8 364.6,129.3 367.0,129.8 369.3,130.3 371.7,130.8 374.1,131.5 376.4,132.1 378.8,132.8 381.2,133.5 383.6,134.2 385.9,135.0 388.3,135.8 390.7,136.5 393.0,137.3 395.4,138.1 397.8,138.9 400.1,139.7 402.5,140.5 404.9,141.2 407.3,141.9 409.6,142.6 412.0,143.3 414.4,143.9 416.7,144.5 419.1,145.0 421.5,145.5 423.8,146.0 426.2,146.4 428.6,146.8 431.0,147.2 433.3,147.5 435.7,147.8 438.1,148.0 440.4,148.3 442.8,148.5 445.2,148.6 447.5,148.8 449.9,148.9 452.3,149.1 454.7,149.2" stroke="#5a5a5a" stroke-width="1.2" stroke-opacity="0.5"/>
<path d="M283.5,149.7L284.0,149.7 284.5,149.7 285.1,149.7 285.6,149.7 286.1,149.7 286.6,149.7 287.1,149.7 287.7,149.6 288.2,149.5 288.7,149.4 289.2,149.1 289.8,148.5 290.3,147.5 290.8,145.6 291.3,142.7 291.8,139.4 292.4,135.7 292.9,131.7 293.4,127.1 293.9,122.0 294.5,116.6 295.0,111.2 295.5,106.2 296.0,102.1 296.5,99.1 297.1,97.5 297.6,97.1 298.1,97.6 298.6,98.7 299.2,100.3 299.7,102.2 300.2,104.3 300.7,106.4 301.2,108.2 301.8,109.9 302.3,111.2 302.8,112.3 303.3,113.3 303.8,114.0 304.4,114.6 304.9,115.2 305.4,115.8 305.9,116.3 306.5,116.8 307.0,117.4 307.5,118.0 308.0,118.6 308.5,119.3 309.1,119.9 309.6,120.6 310.1,121.1 310.6,121.7 311.2,122.2 311.7,122.7 312.2,123.1 312.7,123.5 313.2,123.9 313.8,124.2 314.3,124.5 314.8,124.8 317.2,125.8 319.6,126.6 321.9,127.1 324.3,127.5 326.7,127.9 329.0,128.0 331.4,128.1 333.8,128.0 336.1,127.7 338.5,127.3 340.9,126.8 343.3,126.4 345.6,126.0 348.0,125.8 350.4,125.9 352.7,126.4 355.1,127.2 357.5,128.1 359.8,128.9 362.2,129.8 364.6,130.7 367.0,131.5 369.3,132.4 371.7,133.2 374.1,134.1 376.4,134.9 378.8,135.7 381.2,136.5 383.6,137.3 385.9,138.1 388.3,138.9 390.7,139.6 393.0,140.4 395.4,141.1 397.8,141.8 400.1,142.4 402.5,143.0 404.9,143.6 407.3,144.2 409.6,144.7 412.0,145.2 414.4,145.7 416.7,146.1 419.1,146.5 421.5,146.9 423.8,147.2 426.2,147.5 428.6,147.8 431.0,148.0 433.3,148.3 435.7,148.5 438.1,148.6 440.4,148.8 442.8,148.9 445.2,149.0 447.5,149.1 449.9,149.2 452.3,149.3 454.7,149.4" stroke="#5a5a5a" stroke-width="1.2" stroke-opacity="0.5"/>
<path d="M283.5,149.7L284.0,149.7 284.5,149.7 285.1,149.7 285.6,149.7 286.1,149.6 286.6,149.5 287.1,149.3 287.7,149.0 288.2,148.5 288.7,147.5 289.2,146.0 289.8,143.5 290.3,139.6 290.8,133.7 291.3,125.5 291.8,115.6 292.4,104.5 292.9,92.3 293.4,79.3 293.9,66.2 294.5,53.9 295.0,43.5 295.5,35.7 296.0,31.5 296.5,30.8 297.1,32.2 297.6,35.6 298.1,40.4 298.6,46.2 299.2,52.4 299.7,58.6 300.2,64.5 300.7,69.7 301.2,74.2 301.8,78.0 302.3,81.2 302.8,83.9 303.3,86.1 303.8,88.1 304.4,89.9 304.9,91.6 305.4,93.3 305.9,94.9 306.5,96.5 307.0,98.1 307.5,99.7 308.0,101.2 308.5,102.8 309.1,104.3 309.6,105.7 310.1,107.0 310.6,108.2 311.2,109.3 311.7,110.4 312.2,111.3 312.7,112.2 313.2,113.0 313.8,113.7 314.3,114.3 314.8,114.9 317.2,117.1 319.6,118.6 321.9,119.8 324.3,120.8 326.7,121.6 329.0,122.2 331.4,122.5 333.8,122.5 336.1,122.1 338.5,121.5 340.9,120.7 343.3,119.8 345.6,119.0 348.0,118.5 350.4,118.4 352.7,118.8 355.1,119.7 357.5,120.7 359.8,121.7 362.2,122.6 364.6,123.5 367.0,124.3 369.3,125.2 371.7,126.1 374.1,127.0 376.4,127.9 378.8,128.8 381.2,129.7 383.6,130.6 385.9,131.6 388.3,132.5 390.7,133.5 393.0,134.4 395.4,135.3 397.8,136.3 400.1,137.2 402.5,138.1 404.9,138.9 407.3,139.8 409.6,140.6 412.0,141.3 414.4,142.1 416.7,142.8 419.1,143.4 421.5,144.0 423.8,144.6 426.2,145.1 428.6,145.6 431.0,146.1 433.3,146.5 435.7,146.8 438.1,147.2 440.4,147.5 442.8,147.8 445.2,148.0 447.5,148.3 449.9,148.4 452.3,148.6 454.7,148.8" stroke="#5a5a5a" stroke-width="1.2" stroke-opacity="0.5"/>
<path d="M283.5,149.7L284.0,149.7 284.5,149.7 285.1,149.7 285.6,149.6 286.1,149.6 286.6,149.5 287.1,149.2 287.7,148.8 288.2,148.1 288.7,147.0 289.2,145.1 289.8,142.3 290.3,137.9 290.8,131.5 291.3,122.8 291.8,112.4 292.4,100.8 292.9,88.1 293.4,74.8 293.9,61.8 294.5,50.1 295.0,40.5 295.5,34.2 296.0,31.5 296.5,31.9 297.1,34.4 297.6,38.7 298.1,44.2 298.6,50.6 299.2,57.2 299.7,63.6 300.2,69.5 300.7,74.8 301.2,79.3 301.8,83.1 302.3,86.3 302.8,89.0 303.3,91.3 303.8,93.4 304.4,95.3 304.9,97.1 305.4,98.9 305.9,100.6 306.5,102.2 307.0,103.9 307.5,105.5 308.0,107.1 308.5,108.6 309.1,110.1 309.6,111.5 310.1,112.8 310.6,113.9 311.2,115.0 311.7,116.0 312.2,116.9 312.7,117.7 313.2,118.4 313.8,119.1 314.3,119.7 314.8,120.2 317.2,122.1 319.6,123.2 321.9,124.1 324.3,124.7 326.7,125.1 329.0,125.4 331.4,125.5 333.8,125.4 336.1,125.1 338.5,124.8 340.9,124.4 343.3,124.2 345.6,124.2 348.0,124.5 350.4,125.2 352.7,126.2 355.1,127.2 357.5,128.2 359.8,129.2 362.2,130.1 364.6,131.1 367.0,132.0 369.3,132.9 371.7,133.8 374.1,134.7 376.4,135.6 378.8,136.4 381.2,137.3 383.6,138.1 385.9,138.9 388.3,139.8 390.7,140.5 393.0,141.3 395.4,142.0 397.8,142.7 400.1,143.4 402.5,144.0 404.9,144.6 407.3,145.1 409.6,145.6 412.0,146.1 414.4,146.5 416.7,146.9 419.1,147.3 421.5,147.6 423.8,147.9 426.2,148.1 428.6,148.4 431.0,148.6 433.3,148.7 435.7,148.9 438.1,149.0 440.4,149.1 442.8,149.2 445.2,149.3 447.5,149.4 449.9,149.4 452.3,149.5 454.7,149.5" stroke="#5a5a5a" stroke-width="1.2" stroke-opacity="0.5"/>
<path d="M283.5,149.7L284.0,149.7 284.5,149.7 285.1,149.7 285.6,149.7 286.1,149.6 286.6,149.5 287.1,149.4 287.7,149.1 288.2,148.6 288.7,147.7 289.2,146.3 289.8,144.1 290.3,140.6 290.8,135.2 291.3,127.9 291.8,118.8 292.4,108.3 292.9,96.5 293.4,83.6 293.9,70.4 294.5,57.8 295.0,46.9 295.5,38.5 296.0,33.6 296.5,32.4 297.1,33.7 297.6,37.1 298.1,42.0 298.6,48.1 299.2,54.8 299.7,61.5 300.2,68.0 300.7,73.8 301.2,79.0 301.8,83.4 302.3,87.1 302.8,90.2 303.3,92.9 303.8,95.3 304.4,97.4 304.9,99.4 305.4,101.3 305.9,103.1 306.5,104.9 307.0,106.7 307.5,108.3 308.0,110.0 308.5,111.6 309.1,113.1 309.6,114.5 310.1,115.8 310.6,117.0 311.2,118.1 311.7,119.1 312.2,119.9 312.7,120.7 313.2,121.4 313.8,122.0 314.3,122.5 314.8,122.9 317.2,124.1 319.6,124.3 321.9,123.8 324.3,122.8 326.7,121.4 329.0,119.6 331.4,117.5 333.8,115.3 336.1,113.1 338.5,111.2 340.9,109.9 343.3,109.2 345.6,109.4 348.0,110.4 350.4,111.6 352.7,112.8 355.1,114.0 357.5,115.3 359.8,116.7 362.2,118.1 364.6,119.5 367.0,120.9 369.3,122.4 371.7,123.8 374.1,125.2 376.4,126.7 378.8,128.1 381.2,129.5 383.6,130.9 385.9,132.2 388.3,133.5 390.7,134.8 393.0,136.0 395.4,137.1 397.8,138.2 400.1,139.3 402.5,140.3 404.9,141.2 407.3,142.0 409.6,142.8 412.0,143.6 414.4,144.3 416.7,144.9 419.1,145.5 421.5,146.0 423.8,146.5 426.2,146.9 428.6,147.3 431.0,147.6 433.3,147.9 435.7,148.1 438.1,148.4 440.4,148.6 442.8,148.8 445.2,148.9 447.5,149.0 449.9,149.1 452.3,149.2 454.7,149.3" stroke="#5a5a5a" stroke-width="1.2" stroke-opacity="0.5"/>
<path d="M283.5,149.7L284.0,149.7 284.5,149.7 285.1,149.7 285.6,149.7 286.1,149.6 286.6,149.5 287.1,149.3 287.7,149.0 288.2,148.5 288.7,147.5 289.2,146.0 289.8,143.7 290.3,139.9 290.8,134.2 291.3,126.3 291.8,116.9 292.4,106.6 292.9,95.3 293.4,83.5 293.9,71.7 294.5,60.8 295.0,51.7 295.5,45.2 296.0,41.8 296.5,41.4 297.1,42.9 297.6,46.0 298.1,50.4 298.6,55.5 299.2,61.0 299.7,66.3 300.2,71.3 300.7,75.8 301.2,79.5 301.8,82.7 302.3,85.3 302.8,87.5 303.3,89.3 303.8,91.0 304.4,92.4 304.9,93.8 305.4,95.2 305.9,96.5 306.5,97.9 307.0,99.2 307.5,100.6 308.0,101.9 308.5,103.3 309.1,104.6 309.6,105.8 310.1,106.9 310.6,107.9 311.2,108.9 311.7,109.7 312.2,110.5 312.7,111.2 313.2,111.8 313.8,112.3 314.3,112.8 314.8,113.2 317.2,114.5 319.6,115.1 321.9,115.1 324.3,114.6 326.7,113.7 329.0,112.5 331.4,110.9 333.8,109.2 336.1,107.6 338.5,106.2 340.9,105.4 343.3,105.5 345.6,106.5 348.0,108.1 350.4,109.7 352.7,111.4 355.1,113.0 357.5,114.7 359.8,116.3 362.2,117.9 364.6,119.5 367.0,121.1 369.3,122.7 371.7,124.2 374.1,125.7 376.4,127.2 378.8,128.6 381.2,130.0 383.6,131.4 385.9,132.7 388.3,134.0 390.7,135.2 393.0,136.3 395.4,137.4 397.8,138.5 400.1,139.5 402.5,140.5 404.9,141.3 407.3,142.2 409.6,142.9 412.0,143.7 414.4,144.3 416.7,144.9 419.1,145.5 421.5,146.0 423.8,146.4 426.2,146.9 428.6,147.2 431.0,147.6 433.3,147.8 435.7,148.1 438.1,148.3 440.4,148.5 442.8,148.7 445.2,148.9 447.5,149.0 449.9,149.1 452.3,149.2 454.7,149.3" stroke="#5a5a5a" stroke-width="1.2" stroke-opacity="0.5"/>
<path d="M283.5,149.7L284.0,149.7 284.5,149.7 285.1,149.7 285.6,149.7 286.1,149.6 286.6,149.5 287.1,149.4 287.7,149.1 288.2,148.6 288.7,147.7 289.2,146.2 289.8,144.0 290.3,140.4 290.8,135.0 291.3,127.5 291.8,118.3 292.4,107.7 292.9,95.8 293.4,82.9 293.9,69.6 294.5,57.0 295.0,46.1 295.5,37.8 296.0,33.0 296.5,31.9 297.1,33.3 297.6,36.7 298.1,41.7 298.6,47.8 299.2,54.5 299.7,61.3 300.2,67.7 300.7,73.5 301.2,78.6 301.8,83.0 302.3,86.7 302.8,89.8 303.3,92.5 303.8,94.9 304.4,97.0 304.9,99.0 305.4,100.9 305.9,102.8 306.5,104.5 307.0,106.3 307.5,108.0 308.0,109.7 308.5,111.4 309.1,112.9 309.6,114.4 310.1,115.8 310.6,117.0 311.2,118.2 311.7,119.3 312.2,120.3 312.7,121.2 313.2,122.0 313.8,122.8 314.3,123.5 314.8,124.1 317.2,126.4 319.6,128.1 321.9,129.5 324.3,130.8 326.7,132.1 329.0,133.2 331.4,134.2 333.8,135.0 336.1,135.4 338.5,135.4 340.9,134.9 343.3,133.9 345.6,132.5 348.0,130.7 350.4,128.7 352.7,126.6 355.1,124.7 357.5,123.2 359.8,122.3 362.2,122.1 364.6,122.5 367.0,122.9 369.3,123.3 371.7,123.8 374.1,124.3 376.4,124.9 378.8,125.5 381.2,126.2 383.6,126.9 385.9,127.7 388.3,128.6 390.7,129.5 393.0,130.4 395.4,131.3 397.8,132.3 400.1,133.2 402.5,134.2 404.9,135.2 407.3,136.1 409.6,137.0 412.0,138.0 414.4,138.8 416.7,139.7 419.1,140.5 421.5,141.3 423.8,142.1 426.2,142.8 428.6,143.4 431.0,144.1 433.3,144.6 435.7,145.2 438.1,145.7 440.4,146.1 442.8,146.5 445.2,146.9 447.5,147.2 449.9,147.6 452.3,147.8 454.7,148.1" stroke="#5a5a5a" stroke-width="1.2" stroke-opacity="0.5"/>
<path d="M283.5,149.7L284.0,149.7 284.5,149.7 285.1,149.7 285.6,149.7 286.1,149.7 286.6,149.6 287.1,149.6 287.7,149.4 288.2,149.2 288.7,148.8 289.2,148.0 289.8,146.8 290.3,144.6 290.8,141.0 291.3,135.8 291.8,129.5 292.4,122.3 292.9,114.1 293.4,105.0 293.9,95.2 294.5,85.1 295.0,75.7 295.5,67.5 296.0,61.4 296.5,57.8 297.1,56.9 297.6,57.8 298.1,60.0 298.6,63.4 299.2,67.6 299.7,72.1 300.2,76.6 300.7,80.9 301.2,84.7 301.8,88.0 302.3,90.8 302.8,93.1 303.3,95.0 303.8,96.7 304.4,98.1 304.9,99.5 305.4,100.7 305.9,102.0 306.5,103.2 307.0,104.4 307.5,105.7 308.0,106.9 308.5,108.2 309.1,109.4 309.6,110.5 310.1,111.6 310.6,112.6 311.2,113.5 311.7,114.4 312.2,115.2 312.7,115.9 313.2,116.6 313.8,117.2 314.3,117.7 314.8,118.2 317.2,120.0 319.6,121.2 321.9,122.2 324.3,122.9 326.7,123.5 329.0,123.9 331.4,124.0 333.8,123.8 336.1,123.4 338.5,122.8 340.9,122.1 343.3,121.5 345.6,121.2 348.0,121.4 350.4,122.2 352.7,123.4 355.1,124.6 357.5,125.8 359.8,126.9 362.2,128.1 364.6,129.2 367.0,130.3 369.3,131.3 371.7,132.3 374.1,133.3 376.4,134.3 378.8,135.2 381.2,136.1 383.6,137.0 385.9,137.9 388.3,138.7 390.7,139.5 393.0,140.3 395.4,141.0 397.8,141.7 400.1,142.4 402.5,143.0 404.9,143.7 407.3,144.2 409.6,144.8 412.0,145.3 414.4,145.7 416.7,146.2 419.1,146.5 421.5,146.9 423.8,147.2 426.2,147.5 428.6,147.8 431.0,148.1 433.3,148.3 435.7,148.5 438.1,148.6 440.4,148.8 442.8,148.9 445.2,149.0 447.5,149.1 449.9,149.2 452.3,149.3 454.7,149.4" stroke="#5a5a5a" stroke-width="1.2" stroke-opacity="0.5"/>
<path d="M283.5,149.7L284.0,149.7 284.5,149.7 285.1,149.7 285.6,149.7 286.1,149.6 286.6,149.5 287.1,149.4 287.7,149.1 288.2,148.6 288.7,147.7 289.2,146.2 289.8,143.9 290.3,140.3 290.8,134.7 291.3,127.0 291.8,117.6 292.4,106.9 292.9,94.9 293.4,82.1 293.9,68.9 294.5,56.4 295.0,45.6 295.5,37.4 296.0,32.7 296.5,31.6 297.1,32.8 297.6,36.0 298.1,40.8 298.6,46.7 299.2,53.0 299.7,59.4 300.2,65.5 300.7,71.0 301.2,75.8 301.8,79.8 302.3,83.2 302.8,86.0 303.3,88.4 303.8,90.5 304.4,92.4 304.9,94.1 305.4,95.7 305.9,97.3 306.5,98.8 307.0,100.3 307.5,101.8 308.0,103.2 308.5,104.6 309.1,105.9 309.6,107.1 310.1,108.2 310.6,109.1 311.2,110.0 311.7,110.7 312.2,111.3 312.7,111.9 313.2,112.3 313.8,112.7 314.3,113.0 314.8,113.2 317.2,113.4 319.6,112.7 321.9,111.8 324.3,111.0 326.7,110.4 329.0,110.3 331.4,110.9 333.8,112.2 336.1,113.7 338.5,115.4 340.9,117.1 343.3,118.9 345.6,120.7 348.0,122.5 350.4,124.3 352.7,126.1 355.1,127.9 357.5,129.6 359.8,131.2 362.2,132.8 364.6,134.3 367.0,135.7 369.3,137.1 371.7,138.3 374.1,139.5 376.4,140.6 378.8,141.6 381.2,142.5 383.6,143.3 385.9,144.1 388.3,144.8 390.7,145.4 393.0,146.0 395.4,146.5 397.8,147.0 400.1,147.4 402.5,147.7 404.9,148.0 407.3,148.3 409.6,148.5 412.0,148.7 414.4,148.9 416.7,149.0 419.1,149.1 421.5,149.2 423.8,149.3 426.2,149.4 428.6,149.5 431.0,149.5 433.3,149.5 435.7,149.6 438.1,149.6 440.4,149.6 442.8,149.6 445.2,149.7 447.5,149.7 449.9,149.7 452.3,149.7 454.7,149.7" stroke="#5a5a5a" stroke-width="1.2" stroke-opacity="0.5"/>
<path d="M283.5,149.7L284.0,149.7 284.5,149.7 285.1,149.7 285.6,149.7 286.1,149.6 286.6,149.5 287.1,149.3 287.7,148.9 288.2,148.3 288.7,147.3 289.2,145.7 289.8,143.1 290.3,139.1 290.8,133.3 291.3,125.2 291.8,115.6 292.4,104.7 292.9,92.8 293.4,80.2 293.9,67.7 294.5,56.2 295.0,46.8 295.5,40.1 296.0,37.0 296.5,37.0 297.1,39.1 297.6,42.9 298.1,48.0 298.6,53.9 299.2,60.2 299.7,66.3 300.2,72.1 300.7,77.2 301.2,81.6 301.8,85.3 302.3,88.4 302.8,91.0 303.3,93.3 303.8,95.3 304.4,97.1 304.9,98.9 305.4,100.6 305.9,102.2 306.5,103.8 307.0,105.4 307.5,106.9 308.0,108.4 308.5,110.0 309.1,111.4 309.6,112.7 310.1,114.0 310.6,115.1 311.2,116.2 311.7,117.2 312.2,118.1 312.7,118.9 313.2,119.7 313.8,120.4 314.3,121.0 314.8,121.6 317.2,123.6 319.6,125.1 321.9,126.2 324.3,127.0 326.7,127.6 329.0,127.8 331.4,127.5 333.8,126.7 336.1,125.4 338.5,123.6 340.9,121.6 343.3,119.6 345.6,118.0 348.0,116.9 350.4,116.8 352.7,117.6 355.1,118.5 357.5,119.5 359.8,120.5 362.2,121.5 364.6,122.5 367.0,123.6 369.3,124.8 371.7,126.0 374.1,127.2 376.4,128.5 378.8,129.7 381.2,131.0 383.6,132.3 385.9,133.5 388.3,134.8 390.7,136.0 393.0,137.2 395.4,138.3 397.8,139.4 400.1,140.5 402.5,141.4 404.9,142.3 407.3,143.2 409.6,144.0 412.0,144.7 414.4,145.3 416.7,145.9 419.1,146.4 421.5,146.9 423.8,147.3 426.2,147.7 428.6,148.0 431.0,148.2 433.3,148.5 435.7,148.7 438.1,148.9 440.4,149.0 442.8,149.1 445.2,149.2 447.5,149.3 449.9,149.4 452.3,149.5 454.7,149.5" stroke="#5a5a5a" stroke-width="1.2" stroke-opacity="0.5"/>
<path d="M283.5,149.7L284.0,149.7 284.5,149.7 285.1,149.7 285.6,149.7 286.1,149.7 286.6,149.7 287.1,149.7 287.7,149.6 288.2,149.6 288.7,149.4 289.2,149.2 289.8,148.6 290.3,147.6 290.8,145.7 291.3,142.8 291.8,139.4 292.4,135.6 292.9,131.3 293.4,126.3 293.9,120.7 294.5,114.4 295.0,108.0 295.5,101.8 296.0,96.2 296.5,91.8 297.1,88.9 297.6,87.8 298.1,87.8 298.6,88.7 299.2,90.4 299.7,92.6 300.2,95.1 300.7,97.7 301.2,100.1 301.8,102.3 302.3,104.3 302.8,105.9 303.3,107.2 303.8,108.3 304.4,109.3 304.9,110.1 305.4,110.8 305.9,111.6 306.5,112.3 307.0,113.0 307.5,113.8 308.0,114.6 308.5,115.4 309.1,116.2 309.6,116.9 310.1,117.7 310.6,118.3 311.2,119.0 311.7,119.6 312.2,120.1 312.7,120.6 313.2,121.1 313.8,121.5 314.3,121.9 314.8,122.2 317.2,123.5 319.6,124.2 321.9,124.4 324.3,124.3 326.7,123.8 329.0,122.7 331.4,121.3 333.8,119.4 336.1,117.3 338.5,115.3 340.9,113.6 343.3,112.5 345.6,112.3 348.0,113.1 350.4,114.3 352.7,115.5 355.1,116.7 357.5,117.9 359.8,119.2 362.2,120.5 364.6,121.8 367.0,123.1 369.3,124.4 371.7,125.7 374.1,127.0 376.4,128.4 378.8,129.7 381.2,131.0 383.6,132.3 385.9,133.5 388.3,134.8 390.7,136.0 393.0,137.1 395.4,138.2 397.8,139.3 400.1,140.3 402.5,141.2 404.9,142.1 407.3,142.9 409.6,143.7 412.0,144.3 414.4,145.0 416.7,145.6 419.1,146.1 421.5,146.6 423.8,147.0 426.2,147.4 428.6,147.7 431.0,148.0 433.3,148.3 435.7,148.5 438.1,148.7 440.4,148.8 442.8,149.0 445.2,149.1 447.5,149.2 449.9,149.3 452.3,149.4 454.7,149.4" stroke="#5a5a5a" stroke-width="1.2" stroke-opacity="0.5"/>
<path d="M283.5,149.7L284.0,149.7 284.5,149.7 285.1,149.7 285.6,149.7 286.1,149.6 286.6,149.5 287.1,149.3 287.7,149.0 288.2,148.5 288.7,147.5 289.2,146.0 289.8,143.5 290.3,139.6 290.8,133.5 291.3,125.2 291.8,115.0 292.4,103.7 292.9,91.1 293.4,77.7 293.9,64.1 294.5,51.3 295.0,40.2 295.5,31.9 296.0,27.2 296.5,26.2 297.1,27.5 297.6,30.7 298.1,35.6 298.6,41.5 299.2,47.8 299.7,54.3 300.2,60.3 300.7,65.7 301.2,70.4 301.8,74.4 302.3,77.7 302.8,80.5 303.3,82.8 303.8,84.9 304.4,86.7 304.9,88.5 305.4,90.1 305.9,91.8 306.5,93.4 307.0,95.0 307.5,96.6 308.0,98.3 308.5,99.8 309.1,101.4 309.6,102.8 310.1,104.1 310.6,105.4 311.2,106.5 311.7,107.5 312.2,108.5 312.7,109.3 313.2,110.1 313.8,110.8 314.3,111.5 314.8,112.0 317.2,114.0 319.6,115.2 321.9,115.9 324.3,116.4 326.7,116.5 329.0,116.3 331.4,115.9 333.8,115.3 336.1,114.6 338.5,113.8 340.9,113.3 343.3,113.1 345.6,113.3 348.0,114.2 350.4,115.6 352.7,116.9 355.1,118.1 357.5,119.4 359.8,120.6 362.2,121.7 364.6,122.9 367.0,124.0 369.3,125.2 371.7,126.3 374.1,127.4 376.4,128.6 378.8,129.7 381.2,130.8 383.6,132.0 385.9,133.1 388.3,134.2 390.7,135.3 393.0,136.3 395.4,137.3 397.8,138.3 400.1,139.3 402.5,140.2 404.9,141.1 407.3,141.9 409.6,142.7 412.0,143.4 414.4,144.0 416.7,144.7 419.1,145.2 421.5,145.8 423.8,146.2 426.2,146.7 428.6,147.1 431.0,147.4 433.3,147.7 435.7,148.0 438.1,148.2 440.4,148.4 442.8,148.6 445.2,148.8 447.5,148.9 449.9,149.1 452.3,149.2 454.7,149.3" stroke="#5a5a5a" stroke-width="1.2" stroke-opacity="0.5"/>
<path d="M283.5,149.7L284.0,149.7 284.5,149.7 285.1,149.7 285.6,149.7 286.1,149.7 286.6,149.6 287.1,149.6 287.7,149.5 288.2,149.2 288.7,148.9 289.2,148.2 289.8,147.0 290.3,144.9 290.8,141.4 291.3,136.3 291.8,130.1 292.4,123.1 292.9,115.1 293.4,106.2 293.9,96.4 294.5,86.4 295.0,76.9 295.5,68.5 296.0,62.0 296.5,58.1 297.1,56.8 297.6,57.4 298.1,59.4 298.6,62.6 299.2,66.5 299.7,70.9 300.2,75.4 300.7,79.6 301.2,83.4 301.8,86.8 302.3,89.5 302.8,91.9 303.3,93.8 303.8,95.4 304.4,96.9 304.9,98.2 305.4,99.4 305.9,100.6 306.5,101.8 307.0,103.0 307.5,104.2 308.0,105.5 308.5,106.7 309.1,107.9 309.6,109.1 310.1,110.1 310.6,111.1 311.2,112.0 311.7,112.9 312.2,113.7 312.7,114.4 313.2,115.0 313.8,115.6 314.3,116.1 314.8,116.6 317.2,118.2 319.6,119.2 321.9,119.8 324.3,120.2 326.7,120.4 329.0,120.3 331.4,120.1 333.8,119.6 336.1,119.0 338.5,118.4 340.9,117.9 343.3,117.7 345.6,117.8 348.0,118.4 350.4,119.6 352.7,120.9 355.1,122.2 357.5,123.5 359.8,124.8 362.2,126.0 364.6,127.2 367.0,128.4 369.3,129.6 371.7,130.7 374.1,131.8 376.4,132.9 378.8,133.9 381.2,134.9 383.6,135.9 385.9,136.9 388.3,137.8 390.7,138.6 393.0,139.5 395.4,140.3 397.8,141.1 400.1,141.8 402.5,142.5 404.9,143.1 407.3,143.7 409.6,144.3 412.0,144.9 414.4,145.4 416.7,145.8 419.1,146.2 421.5,146.6 423.8,147.0 426.2,147.3 428.6,147.6 431.0,147.9 433.3,148.1 435.7,148.3 438.1,148.5 440.4,148.7 442.8,148.8 445.2,149.0 447.5,149.1 449.9,149.2 452.3,149.2 454.7,149.3" stroke="#5a5a5a" stroke-width="1.2" stroke-opacity="0.5"/>
<path d="M283.5,149.7L284.0,149.7 284.5,149.7 285.1,149.7 285.6,149.7 286.1,149.6 286.6,149.5 287.1,149.3 287.7,149.0 288.2,148.5 288.7,147.5 289.2,146.0 289.8,143.5 290.3,139.7 290.8,134.0 291.3,126.2 291.8,116.6 292.4,105.5 292.9,93.3 293.4,80.1 293.9,66.7 294.5,54.1 295.0,43.3 295.5,35.3 296.0,31.0 296.5,30.3 297.1,32.0 297.6,35.6 298.1,40.8 298.6,47.1 299.2,53.9 299.7,60.7 300.2,67.0 300.7,72.8 301.2,77.8 301.8,82.1 302.3,85.7 302.8,88.7 303.3,91.3 303.8,93.6 304.4,95.6 304.9,97.5 305.4,99.3 305.9,101.1 306.5,102.8 307.0,104.4 307.5,106.0 308.0,107.5 308.5,109.0 309.1,110.4 309.6,111.7 310.1,112.9 310.6,114.0 311.2,114.9 311.7,115.7 312.2,116.4 312.7,117.1 313.2,117.6 313.8,118.0 314.3,118.3 314.8,118.6 317.2,119.0 319.6,118.4 321.9,117.2 324.3,115.7 326.7,114.0 329.0,112.4 331.4,111.0 333.8,110.0 336.1,109.4 338.5,109.5 340.9,110.2 343.3,111.4 345.6,112.7 348.0,114.0 350.4,115.3 352.7,116.7 355.1,118.1 357.5,119.5 359.8,121.0 362.2,122.4 364.6,123.8 367.0,125.2 369.3,126.6 371.7,127.9 374.1,129.3 376.4,130.6 378.8,131.8 381.2,133.0 383.6,134.2 385.9,135.3 388.3,136.4 390.7,137.5 393.0,138.5 395.4,139.4 397.8,140.3 400.1,141.1 402.5,141.9 404.9,142.7 407.3,143.4 409.6,144.0 412.0,144.6 414.4,145.1 416.7,145.7 419.1,146.1 421.5,146.5 423.8,146.9 426.2,147.3 428.6,147.6 431.0,147.8 433.3,148.1 435.7,148.3 438.1,148.5 440.4,148.7 442.8,148.8 445.2,148.9 447.5,149.1 449.9,149.2 452.3,149.2 454.7,149.3" stroke="#5a5a5a" stroke-width="1.2" stroke-opacity="0.5"/>
<path d="M283.5,149.7L284.0,149.7 284.5,149.7 285.1,149.7 285.6,149.7 286.1,149.6 286.6,149.6 287.1,149.4 287.7,149.2 288.2,148.7 288.7,148.0 289.2,146.7 289.8,144.6 290.3,141.3 290.8,136.1 291.3,128.8 291.8,119.9 292.4,109.6 292.9,98.0 293.4,85.3 293.9,72.1 294.5,59.3 295.0,47.8 295.5,38.7 296.0,32.8 296.5,30.8 297.1,31.4 297.6,34.1 298.1,38.5 298.6,44.2 299.2,50.5 299.7,57.1 300.2,63.4 300.7,69.1 301.2,74.2 301.8,78.6 302.3,82.2 302.8,85.3 303.3,88.0 303.8,90.2 304.4,92.3 304.9,94.2 305.4,96.0 305.9,97.8 306.5,99.5 307.0,101.2 307.5,102.9 308.0,104.5 308.5,106.2 309.1,107.7 309.6,109.2 310.1,110.6 310.6,111.8 311.2,112.9 311.7,114.0 312.2,114.9 312.7,115.8 313.2,116.6 313.8,117.3 314.3,117.9 314.8,118.5 317.2,120.3 319.6,121.3 321.9,121.9 324.3,122.3 326.7,122.4 329.0,122.3 331.4,122.0 333.8,121.6 336.1,121.0 338.5,120.5 340.9,120.0 343.3,119.8 345.6,119.9 348.0,120.4 350.4,121.4 352.7,122.6 355.1,123.8 357.5,124.9 359.8,126.1 362.2,127.2 364.6,128.3 367.0,129.4 369.3,130.4 371.7,131.5 374.1,132.5 376.4,133.5 378.8,134.4 381.2,135.4 383.6,136.3 385.9,137.2 388.3,138.0 390.7,138.9 393.0,139.7 395.4,140.4 397.8,141.2 400.1,141.9 402.5,142.6 404.9,143.2 407.3,143.8 409.6,144.4 412.0,144.9 414.4,145.4 416.7,145.9 419.1,146.3 421.5,146.7 423.8,147.0 426.2,147.3 428.6,147.6 431.0,147.9 433.3,148.1 435.7,148.3 438.1,148.5 440.4,148.7 442.8,148.8 445.2,149.0 447.5,149.1 449.9,149.2 452.3,149.3 454.7,149.3" stroke="#5a5a5a" stroke-width="1.2" stroke-opacity="0.5"/>
<path d="M283.5,149.7L284.0,149.7 284.5,149.7 285.1,149.7 285.6,149.7 286.1,149.7 286.6,149.6 287.1,149.5 287.7,149.4 288.2,149.1 288.7,148.6 289.2,147.8 289.8,146.4 290.3,144.0 290.8,140.1 291.3,134.6 291.8,127.8 292.4,120.0 292.9,111.2 293.4,101.4 293.9,91.0 294.5,80.5 295.0,70.7 295.5,62.5 296.0,56.5 296.5,53.4 297.1,52.9 297.6,54.1 298.1,56.9 298.6,60.7 299.2,65.3 299.7,70.2 300.2,75.0 300.7,79.5 301.2,83.6 301.8,87.0 302.3,90.0 302.8,92.4 303.3,94.4 303.8,96.2 304.4,97.8 304.9,99.2 305.4,100.5 305.9,101.9 306.5,103.2 307.0,104.5 307.5,105.8 308.0,107.1 308.5,108.4 309.1,109.7 309.6,110.9 310.1,112.1 310.6,113.1 311.2,114.1 311.7,115.0 312.2,115.9 312.7,116.7 313.2,117.4 313.8,118.1 314.3,118.7 314.8,119.3 317.2,121.4 319.6,123.0 321.9,124.3 324.3,125.4 326.7,126.3 329.0,126.9 331.4,127.0 333.8,126.7 336.1,125.9 338.5,124.6 340.9,122.9 343.3,120.9 345.6,119.1 348.0,117.5 350.4,116.5 352.7,116.4 355.1,117.0 357.5,117.8 359.8,118.7 362.2,119.5 364.6,120.4 367.0,121.3 369.3,122.2 371.7,123.2 374.1,124.2 376.4,125.3 378.8,126.4 381.2,127.5 383.6,128.7 385.9,129.9 388.3,131.0 390.7,132.2 393.0,133.4 395.4,134.6 397.8,135.7 400.1,136.8 402.5,137.9 404.9,138.9 407.3,139.9 409.6,140.8 412.0,141.7 414.4,142.5 416.7,143.3 419.1,144.0 421.5,144.7 423.8,145.3 426.2,145.8 428.6,146.3 431.0,146.7 433.3,147.1 435.7,147.5 438.1,147.8 440.4,148.1 442.8,148.3 445.2,148.5 447.5,148.7 449.9,148.9 452.3,149.0 454.7,149.1" stroke="#5a5a5a" stroke-width="1.2" stroke-opacity="0.5"/>
<path d="M283.5,149.7L284.0,149.7 284.5,149.7 285.1,149.7 285.6,149.7 286.1,149.6 286.6,149.6 287.1,149.4 287.7,149.2 288.2,148.7 288.7,147.9 289.2,146.7 289.8,144.5 290.3,141.1 290.8,135.7 291.3,128.0 291.8,118.8 292.4,108.4 292.9,97.0 293.4,84.7 293.9,72.0 294.5,59.7 295.0,48.8 295.5,40.3 296.0,34.9 296.5,33.0 297.1,33.6 297.6,36.0 298.1,40.0 298.6,45.1 299.2,50.7 299.7,56.5 300.2,62.0 300.7,67.1 301.2,71.4 301.8,75.1 302.3,78.2 302.8,80.7 303.3,82.8 303.8,84.7 304.4,86.3 304.9,87.9 305.4,89.4 305.9,90.9 306.5,92.3 307.0,93.8 307.5,95.3 308.0,96.8 308.5,98.3 309.1,99.8 309.6,101.1 310.1,102.4 310.6,103.5 311.2,104.6 311.7,105.6 312.2,106.5 312.7,107.3 313.2,108.0 313.8,108.6 314.3,109.2 314.8,109.7 317.2,111.4 319.6,112.4 321.9,113.0 324.3,113.2 326.7,113.3 329.0,113.1 331.4,112.8 333.8,112.3 336.1,111.6 338.5,111.0 340.9,110.6 343.3,110.4 345.6,110.6 348.0,111.4 350.4,112.8 352.7,114.3 355.1,115.9 357.5,117.4 359.8,119.0 362.2,120.5 364.6,121.9 367.0,123.4 369.3,124.8 371.7,126.2 374.1,127.5 376.4,128.8 378.8,130.0 381.2,131.2 383.6,132.4 385.9,133.5 388.3,134.6 390.7,135.7 393.0,136.7 395.4,137.6 397.8,138.5 400.1,139.4 402.5,140.2 404.9,141.0 407.3,141.8 409.6,142.5 412.0,143.1 414.4,143.8 416.7,144.3 419.1,144.9 421.5,145.4 423.8,145.8 426.2,146.3 428.6,146.6 431.0,147.0 433.3,147.3 435.7,147.6 438.1,147.9 440.4,148.1 442.8,148.3 445.2,148.5 447.5,148.7 449.9,148.8 452.3,148.9 454.7,149.0" stroke="#5a5a5a" stroke-width="1.2" stroke-opacity="0.5"/>
<path d="M283.5,149.7L284.0,149.7 284.5,149.7 285.1,149.7 285.6,149.7 286.1,149.7 286.6,149.7 287.1,149.6 287.7,149.5 288.2,149.4 288.7,149.1 289.2,148.6 289.8,147.7 290.3,146.0 290.8,143.0 291.3,138.5 291.8,133.3 292.4,127.7 292.9,121.5 293.4,114.6 293.9,107.1 294.5,99.3 295.0,91.7 295.5,84.9 296.0,79.4 296.5,75.7 297.1,74.0 297.6,73.7 298.1,74.5 298.6,76.2 299.2,78.6 299.7,81.3 300.2,84.1 300.7,86.8 301.2,89.2 301.8,91.3 302.3,92.9 302.8,94.3 303.3,95.4 303.8,96.2 304.4,96.9 304.9,97.6 305.4,98.2 305.9,98.9 306.5,99.5 307.0,100.2 307.5,101.0 308.0,101.8 308.5,102.6 309.1,103.5 309.6,104.3 310.1,105.0 310.6,105.7 311.2,106.3 311.7,106.8 312.2,107.3 312.7,107.8 313.2,108.2 313.8,108.5 314.3,108.8 314.8,109.1 317.2,109.9 319.6,110.1 321.9,110.1 324.3,109.9 326.7,109.6 329.0,109.3 331.4,109.0 333.8,109.0 336.1,109.2 338.5,109.7 340.9,110.7 343.3,112.1 345.6,113.8 348.0,115.6 350.4,117.4 352.7,119.2 355.1,121.0 357.5,122.8 359.8,124.6 362.2,126.3 364.6,128.0 367.0,129.7 369.3,131.3 371.7,132.8 374.1,134.3 376.4,135.7 378.8,137.0 381.2,138.2 383.6,139.3 385.9,140.4 388.3,141.4 390.7,142.3 393.0,143.2 395.4,144.0 397.8,144.7 400.1,145.3 402.5,145.9 404.9,146.4 407.3,146.8 409.6,147.2 412.0,147.6 414.4,147.9 416.7,148.2 419.1,148.4 421.5,148.6 423.8,148.8 426.2,149.0 428.6,149.1 431.0,149.2 433.3,149.3 435.7,149.4 438.1,149.4 440.4,149.5 442.8,149.5 445.2,149.6 447.5,149.6 449.9,149.6 452.3,149.6 454.7,149.6" stroke="#5a5a5a" stroke-width="1.2" stroke-opacity="0.5"/>
<path d="M283.5,149.7L284.0,149.7 284.5,149.7 285.1,149.7 285.6,149.7 286.1,149.7 286.6,149.7 287.1,149.6 287.7,149.5 288.2,149.4 288.7,149.1 289.2,148.6 289.8,147.7 290.3,146.1 290.8,143.3 291.3,139.1 291.8,134.2 292.4,128.6 292.9,122.4 293.4,115.4 293.9,107.8 294.5,99.8 295.0,92.1 295.5,85.2 296.0,79.7 296.5,76.0 297.1,74.5 297.6,74.6 298.1,75.8 298.6,77.9 299.2,80.8 299.7,84.0 300.2,87.3 300.7,90.5 301.2,93.3 301.8,95.8 302.3,97.9 302.8,99.7 303.3,101.1 303.8,102.3 304.4,103.3 304.9,104.3 305.4,105.2 305.9,106.0 306.5,106.9 307.0,107.8 307.5,108.8 308.0,109.7 308.5,110.7 309.1,111.7 309.6,112.6 310.1,113.5 310.6,114.3 311.2,115.0 311.7,115.7 312.2,116.3 312.7,116.9 313.2,117.5 313.8,118.0 314.3,118.4 314.8,118.9 317.2,120.4 319.6,121.6 321.9,122.5 324.3,123.3 326.7,124.0 329.0,124.5 331.4,124.8 333.8,124.9 336.1,124.6 338.5,124.1 340.9,123.3 343.3,122.4 345.6,121.6 348.0,121.0 350.4,120.9 352.7,121.4 355.1,122.5 357.5,123.6 359.8,124.7 362.2,125.8 364.6,126.8 367.0,127.9 369.3,128.9 371.7,129.9 374.1,130.9 376.4,131.9 378.8,132.9 381.2,133.8 383.6,134.8 385.9,135.7 388.3,136.5 390.7,137.4 393.0,138.2 395.4,139.1 397.8,139.8 400.1,140.6 402.5,141.3 404.9,142.0 407.3,142.7 409.6,143.3 412.0,143.9 414.4,144.5 416.7,145.0 419.1,145.5 421.5,145.9 423.8,146.3 426.2,146.7 428.6,147.1 431.0,147.4 433.3,147.7 435.7,147.9 438.1,148.1 440.4,148.4 442.8,148.5 445.2,148.7 447.5,148.8 449.9,149.0 452.3,149.1 454.7,149.2" stroke="#5a5a5a" stroke-width="1.2" stroke-opacity="0.5"/>
<path d="M283.5,149.7L284.0,149.7 284.5,149.7 285.1,149.7 285.6,149.7 286.1,149.7 286.6,149.7 287.1,149.7 287.7,149.6 288.2,149.5 288.7,149.3 289.2,149.0 289.8,148.4 290.3,147.3 290.8,145.3 291.3,142.4 291.8,138.9 292.4,135.0 292.9,130.5 293.4,125.4 293.9,119.8 294.5,113.8 295.0,107.8 295.5,102.4 296.0,97.9 296.5,94.7 297.1,93.2 297.6,93.0 298.1,93.7 298.6,95.2 299.2,97.2 299.7,99.7 300.2,102.2 300.7,104.8 301.2,107.1 301.8,109.1 302.3,110.8 302.8,112.3 303.3,113.5 303.8,114.5 304.4,115.3 304.9,116.1 305.4,116.8 305.9,117.5 306.5,118.2 307.0,119.0 307.5,119.7 308.0,120.4 308.5,121.2 309.1,122.0 309.6,122.7 310.1,123.3 310.6,124.0 311.2,124.6 311.7,125.1 312.2,125.6 312.7,126.1 313.2,126.6 313.8,127.0 314.3,127.4 314.8,127.7 317.2,129.0 319.6,130.1 321.9,131.0 324.3,131.8 326.7,132.6 329.0,133.2 331.4,133.7 333.8,133.9 336.1,133.8 338.5,133.4 340.9,132.6 343.3,131.5 345.6,130.1 348.0,128.7 350.4,127.4 352.7,126.3 355.1,125.7 357.5,125.7 359.8,126.3 362.2,126.9 364.6,127.5 367.0,128.2 369.3,128.9 371.7,129.7 374.1,130.5 376.4,131.4 378.8,132.3 381.2,133.2 383.6,134.2 385.9,135.1 388.3,136.1 390.7,137.1 393.0,138.0 395.4,139.0 397.8,139.9 400.1,140.8 402.5,141.6 404.9,142.4 407.3,143.2 409.6,143.9 412.0,144.6 414.4,145.2 416.7,145.7 419.1,146.2 421.5,146.7 423.8,147.1 426.2,147.5 428.6,147.8 431.0,148.1 433.3,148.3 435.7,148.6 438.1,148.8 440.4,148.9 442.8,149.1 445.2,149.2 447.5,149.3 449.9,149.3 452.3,149.4 454.7,149.5" stroke="#5a5a5a" stroke-width="1.2" stroke-opacity="0.5"/>
<path d="M283.5,149.7L284.0,149.7 284.5,149.7 285.1,149.7 285.6,149.7 286.1,149.6 286.6,149.5 287.1,149.3 287.7,149.0 288.2,148.4 288.7,147.4 289.2,145.7 289.8,143.0 290.3,138.8 290.8,132.3 291.3,123.3 291.8,112.4 292.4,100.3 292.9,87.0 293.4,72.9 293.9,58.6 294.5,45.1 295.0,33.5 295.5,25.0 296.0,20.2 296.5,19.1 297.1,20.6 297.6,24.0 298.1,29.1 298.6,35.2 299.2,41.8 299.7,48.5 300.2,54.7 300.7,60.3 301.2,65.1 301.8,69.1 302.3,72.5 302.8,75.3 303.3,77.7 303.8,79.8 304.4,81.7 304.9,83.5 305.4,85.2 305.9,86.9 306.5,88.6 307.0,90.3 307.5,92.0 308.0,93.7 308.5,95.4 309.1,97.0 309.6,98.5 310.1,99.9 310.6,101.3 311.2,102.5 311.7,103.6 312.2,104.7 312.7,105.6 313.2,106.5 313.8,107.3 314.3,108.0 314.8,108.7 317.2,111.1 319.6,112.8 321.9,114.1 324.3,115.2 326.7,116.0 329.0,116.5 331.4,116.6 333.8,116.4 336.1,115.9 338.5,115.4 340.9,115.0 343.3,115.0 345.6,115.6 348.0,116.9 350.4,118.5 352.7,120.2 355.1,121.7 357.5,123.2 359.8,124.7 362.2,126.1 364.6,127.5 367.0,128.9 369.3,130.2 371.7,131.5 374.1,132.8 376.4,134.0 378.8,135.2 381.2,136.4 383.6,137.5 385.9,138.5 388.3,139.6 390.7,140.5 393.0,141.5 395.4,142.3 397.8,143.1 400.1,143.9 402.5,144.6 404.9,145.2 407.3,145.8 409.6,146.3 412.0,146.8 414.4,147.2 416.7,147.5 419.1,147.9 421.5,148.1 423.8,148.4 426.2,148.6 428.6,148.8 431.0,149.0 433.3,149.1 435.7,149.2 438.1,149.3 440.4,149.4 442.8,149.4 445.2,149.5 447.5,149.5 449.9,149.6 452.3,149.6 454.7,149.6" stroke="#5a5a5a" stroke-width="1.2" stroke-opacity="0.5"/>
<path d="M283.5,149.7L284.0,149.7 284.5,149.7 285.1,149.7 285.6,149.7 286.1,149.7 286.6,149.6 287.1,149.6 287.7,149.5 288.2,149.3 288.7,148.9 289.2,148.2 289.8,147.1 290.3,145.1 290.8,141.9 291.3,137.1 291.8,131.1 292.4,124.1 292.9,115.9 293.4,106.4 293.9,96.0 294.5,85.2 295.0,74.6 295.5,65.1 296.0,57.6 296.5,52.7 297.1,51.0 297.6,51.5 298.1,53.7 298.6,57.3 299.2,61.9 299.7,67.0 300.2,72.4 300.7,77.6 301.2,82.3 301.8,86.5 302.3,90.1 302.8,93.1 303.3,95.6 303.8,97.8 304.4,99.7 304.9,101.4 305.4,103.0 305.9,104.6 306.5,106.1 307.0,107.5 307.5,109.0 308.0,110.4 308.5,111.8 309.1,113.2 309.6,114.5 310.1,115.6 310.6,116.7 311.2,117.7 311.7,118.7 312.2,119.5 312.7,120.3 313.2,120.9 313.8,121.5 314.3,122.1 314.8,122.5 317.2,124.0 319.6,124.5 321.9,124.6 324.3,124.2 326.7,123.5 329.0,122.6 331.4,121.4 333.8,120.0 336.1,118.5 338.5,117.2 340.9,116.1 343.3,115.4 345.6,115.3 348.0,115.8 350.4,116.9 352.7,118.0 355.1,119.2 357.5,120.4 359.8,121.7 362.2,123.0 364.6,124.3 367.0,125.7 369.3,127.0 371.7,128.4 374.1,129.7 376.4,131.1 378.8,132.4 381.2,133.6 383.6,134.9 385.9,136.1 388.3,137.2 390.7,138.3 393.0,139.4 395.4,140.4 397.8,141.3 400.1,142.2 402.5,143.0 404.9,143.7 407.3,144.4 409.6,145.1 412.0,145.6 414.4,146.2 416.7,146.6 419.1,147.0 421.5,147.4 423.8,147.7 426.2,148.0 428.6,148.3 431.0,148.5 433.3,148.7 435.7,148.9 438.1,149.0 440.4,149.1 442.8,149.2 445.2,149.3 447.5,149.4 449.9,149.4 452.3,149.5 454.7,149.5" stroke="#5a5a5a" stroke-width="1.2" stroke-opacity="0.5"/>
<path d="M283.5,149.7L284.0,149.7 284.5,149.7 285.1,149.7 285.6,149.7 286.1,149.7 286.6,149.6 287.1,149.5 287.7,149.4 288.2,149.1 288.7,148.5 289.2,147.6 289.8,146.1 290.3,143.6 290.8,139.5 291.3,133.5 291.8,126.2 292.4,117.9 292.9,108.6 293.4,98.1 293.9,87.0 294.5,75.8 295.0,65.5 295.5,56.7 296.0,50.4 296.5,47.1 297.1,46.6 297.6,48.0 298.1,50.9 298.6,55.0 299.2,59.9 299.7,65.1 300.2,70.2 300.7,75.0 301.2,79.3 301.8,83.0 302.3,86.1 302.8,88.6 303.3,90.8 303.8,92.7 304.4,94.3 304.9,95.8 305.4,97.2 305.9,98.6 306.5,100.0 307.0,101.4 307.5,102.8 308.0,104.2 308.5,105.5 309.1,106.9 309.6,108.1 310.1,109.3 310.6,110.4 311.2,111.4 311.7,112.3 312.2,113.1 312.7,113.9 313.2,114.6 313.8,115.2 314.3,115.7 314.8,116.2 317.2,117.9 319.6,118.8 321.9,119.3 324.3,119.5 326.7,119.5 329.0,119.2 331.4,118.6 333.8,117.8 336.1,116.9 338.5,115.9 340.9,115.0 343.3,114.3 345.6,114.0 348.0,114.2 350.4,115.1 352.7,116.3 355.1,117.6 357.5,118.9 359.8,120.1 362.2,121.4 364.6,122.6 367.0,123.8 369.3,125.0 371.7,126.2 374.1,127.3 376.4,128.5 378.8,129.6 381.2,130.7 383.6,131.8 385.9,132.9 388.3,134.0 390.7,135.0 393.0,136.0 395.4,137.0 397.8,137.9 400.1,138.8 402.5,139.7 404.9,140.5 407.3,141.3 409.6,142.1 412.0,142.8 414.4,143.4 416.7,144.0 419.1,144.6 421.5,145.2 423.8,145.7 426.2,146.1 428.6,146.5 431.0,146.9 433.3,147.2 435.7,147.5 438.1,147.8 440.4,148.1 442.8,148.3 445.2,148.5 447.5,148.7 449.9,148.8 452.3,148.9 454.7,149.1" stroke="#5a5a5a" stroke-width="1.2" stroke-opacity="0.5"/>
<path d="M283.5,149.7L284.0,149.7 284.5,149.7 285.1,149.7 285.6,149.7 286.1,149.7 286.6,149.7 287.1,149.6 287.7,149.6 288.2,149.4 288.7,149.2 289.2,148.8 289.8,148.0 290.3,146.6 290.8,144.2 291.3,140.7 291.8,136.4 292.4,131.4 292.9,125.7 293.4,119.0 293.9,111.7 294.5,103.9 295.0,96.2 295.5,89.2 296.0,83.3 296.5,79.3 297.1,77.4 297.6,77.2 298.1,78.3 298.6,80.4 299.2,83.3 299.7,86.7 300.2,90.2 300.7,93.7 301.2,96.8 301.8,99.7 302.3,102.0 302.8,104.0 303.3,105.7 303.8,107.1 304.4,108.3 304.9,109.3 305.4,110.3 305.9,111.2 306.5,112.1 307.0,113.0 307.5,113.9 308.0,114.8 308.5,115.7 309.1,116.6 309.6,117.3 310.1,118.1 310.6,118.7 311.2,119.3 311.7,119.8 312.2,120.2 312.7,120.6 313.2,120.9 313.8,121.1 314.3,121.3 314.8,121.4 317.2,121.4 319.6,120.5 321.9,119.1 324.3,117.2 326.7,115.1 329.0,112.9 331.4,110.7 333.8,108.8 336.1,107.2 338.5,106.2 340.9,106.0 343.3,106.5 345.6,107.6 348.0,108.8 350.4,110.2 352.7,111.6 355.1,113.1 357.5,114.7 359.8,116.4 362.2,118.1 364.6,119.9 367.0,121.7 369.3,123.4 371.7,125.2 374.1,126.9 376.4,128.7 378.8,130.3 381.2,131.9 383.6,133.5 385.9,135.0 388.3,136.4 390.7,137.7 393.0,138.9 395.4,140.1 397.8,141.2 400.1,142.2 402.5,143.1 404.9,143.9 407.3,144.6 409.6,145.3 412.0,145.9 414.4,146.4 416.7,146.9 419.1,147.3 421.5,147.7 423.8,148.0 426.2,148.3 428.6,148.5 431.0,148.7 433.3,148.9 435.7,149.0 438.1,149.2 440.4,149.3 442.8,149.3 445.2,149.4 447.5,149.5 449.9,149.5 452.3,149.6 454.7,149.6" stroke="#5a5a5a" stroke-width="1.2" stroke-opacity="0.5"/>
<path d="M283.5,149.7L284.0,149.7 284.5,149.7 285.1,149.7 285.6,149.7 286.1,149.6 286.6,149.5 287.1,149.4 287.7,149.1 288.2,148.7 288.7,147.9 289.2,146.5 289.8,144.4 290.3,141.0 290.8,135.6 291.3,128.1 291.8,119.1 292.4,109.4 292.9,98.8 293.4,87.7 293.9,76.4 294.5,65.8 295.0,56.7 295.5,49.9 296.0,46.1 296.5,45.1 297.1,45.9 297.6,48.3 298.1,52.0 298.6,56.4 299.2,61.2 299.7,66.0 300.2,70.5 300.7,74.5 301.2,77.9 301.8,80.8 302.3,83.1 302.8,85.0 303.3,86.6 303.8,87.9 304.4,89.2 304.9,90.4 305.4,91.6 305.9,92.7 306.5,93.9 307.0,95.1 307.5,96.4 308.0,97.6 308.5,98.9 309.1,100.2 309.6,101.4 310.1,102.5 310.6,103.6 311.2,104.6 311.7,105.5 312.2,106.4 312.7,107.2 313.2,107.9 313.8,108.6 314.3,109.3 314.8,109.9 317.2,112.4 319.6,114.6 321.9,116.8 324.3,119.0 326.7,121.3 329.0,123.7 331.4,126.0 333.8,128.2 336.1,130.2 338.5,131.9 340.9,133.1 343.3,133.8 345.6,133.8 348.0,133.4 350.4,132.3 352.7,131.0 355.1,129.5 357.5,128.1 359.8,127.1 362.2,126.7 364.6,127.0 367.0,127.5 369.3,128.1 371.7,128.6 374.1,129.2 376.4,129.8 378.8,130.5 381.2,131.2 383.6,132.0 385.9,132.8 388.3,133.7 390.7,134.5 393.0,135.4 395.4,136.3 397.8,137.2 400.1,138.1 402.5,139.0 404.9,139.9 407.3,140.7 409.6,141.5 412.0,142.3 414.4,143.0 416.7,143.7 419.1,144.4 421.5,145.0 423.8,145.5 426.2,146.0 428.6,146.5 431.0,146.9 433.3,147.3 435.7,147.6 438.1,147.9 440.4,148.2 442.8,148.4 445.2,148.6 447.5,148.8 449.9,148.9 452.3,149.1 454.7,149.2" stroke="#5a5a5a" stroke-width="1.2" stroke-opacity="0.5"/>
<path d="M283.5,149.7L284.0,149.7 284.5,149.7 285.1,149.7 285.6,149.7 286.1,149.7 286.6,149.6 287.1,149.5 287.7,149.4 288.2,149.1 288.7,148.6 289.2,147.7 289.8,146.2 290.3,143.6 290.8,139.4 291.3,133.3 291.8,126.0 292.4,117.7 292.9,108.5 293.4,98.4 293.9,87.6 294.5,76.7 295.0,66.7 295.5,58.2 296.0,52.0 296.5,48.8 297.1,48.2 297.6,49.3 298.1,51.9 298.6,55.6 299.2,60.0 299.7,64.8 300.2,69.5 300.7,73.8 301.2,77.7 301.8,80.9 302.3,83.7 302.8,85.9 303.3,87.8 303.8,89.3 304.4,90.7 304.9,92.0 305.4,93.2 305.9,94.4 306.5,95.6 307.0,96.8 307.5,98.0 308.0,99.2 308.5,100.5 309.1,101.7 309.6,102.8 310.1,103.9 310.6,104.8 311.2,105.7 311.7,106.4 312.2,107.1 312.7,107.8 313.2,108.3 313.8,108.8 314.3,109.2 314.8,109.5 317.2,110.4 319.6,110.5 321.9,110.0 324.3,109.1 326.7,108.0 329.0,106.7 331.4,105.4 333.8,104.2 336.1,103.2 338.5,102.7 340.9,102.7 343.3,103.5 345.6,105.0 348.0,106.7 350.4,108.4 352.7,110.2 355.1,112.0 357.5,113.8 359.8,115.6 362.2,117.4 364.6,119.2 367.0,120.9 369.3,122.6 371.7,124.3 374.1,125.9 376.4,127.5 378.8,129.0 381.2,130.5 383.6,131.9 385.9,133.3 388.3,134.6 390.7,135.8 393.0,137.0 395.4,138.1 397.8,139.2 400.1,140.2 402.5,141.1 404.9,142.0 407.3,142.8 409.6,143.5 412.0,144.2 414.4,144.8 416.7,145.4 419.1,145.9 421.5,146.4 423.8,146.8 426.2,147.2 428.6,147.5 431.0,147.8 433.3,148.1 435.7,148.3 438.1,148.5 440.4,148.7 442.8,148.9 445.2,149.0 447.5,149.1 449.9,149.2 452.3,149.3 454.7,149.4" stroke="#5a5a5a" stroke-width="1.2" stroke-opacity="0.5"/>
<path d="M283.5,149.7L284.0,149.7 284.5,149.7 285.1,149.7 285.6,149.7 286.1,149.6 286.6,149.5 287.1,149.4 287.7,149.1 288.2,148.6 288.7,147.7 289.2,146.3 289.8,144.1 290.3,140.6 290.8,135.4 291.3,128.2 291.8,119.3 292.4,109.1 292.9,97.8 293.4,85.6 293.9,73.2 294.5,61.4 295.0,51.3 295.5,43.7 296.0,39.4 296.5,38.6 297.1,40.0 297.6,43.3 298.1,48.0 298.6,53.8 299.2,60.0 299.7,66.3 300.2,72.2 300.7,77.6 301.2,82.3 301.8,86.2 302.3,89.6 302.8,92.5 303.3,94.9 303.8,97.0 304.4,99.0 304.9,100.8 305.4,102.5 305.9,104.2 306.5,105.9 307.0,107.5 307.5,109.1 308.0,110.6 308.5,112.1 309.1,113.6 309.6,114.9 310.1,116.2 310.6,117.3 311.2,118.4 311.7,119.3 312.2,120.2 312.7,121.0 313.2,121.7 313.8,122.3 314.3,122.8 314.8,123.3 317.2,124.9 319.6,125.7 321.9,126.1 324.3,126.1 326.7,126.0 329.0,125.6 331.4,125.0 333.8,124.2 336.1,123.4 338.5,122.5 340.9,121.8 343.3,121.3 345.6,121.2 348.0,121.6 350.4,122.6 352.7,123.6 355.1,124.7 357.5,125.8 359.8,126.9 362.2,128.0 364.6,129.1 367.0,130.2 369.3,131.3 371.7,132.4 374.1,133.5 376.4,134.5 378.8,135.6 381.2,136.6 383.6,137.6 385.9,138.5 388.3,139.4 390.7,140.3 393.0,141.1 395.4,141.9 397.8,142.7 400.1,143.4 402.5,144.0 404.9,144.6 407.3,145.2 409.6,145.7 412.0,146.2 414.4,146.6 416.7,147.0 419.1,147.4 421.5,147.7 423.8,148.0 426.2,148.2 428.6,148.4 431.0,148.6 433.3,148.8 435.7,148.9 438.1,149.1 440.4,149.2 442.8,149.3 445.2,149.3 447.5,149.4 449.9,149.5 452.3,149.5 454.7,149.5" stroke="#5a5a5a" stroke-width="1.2" stroke-opacity="0.5"/>
<path d="M283.5,149.7L284.0,149.7 284.5,149.7 285.1,149.7 285.6,149.7 286.1,149.6 286.6,149.5 287.1,149.3 287.7,148.9 288.2,148.3 288.7,147.3 289.2,145.6 289.8,142.9 290.3,138.8 290.8,132.5 291.3,123.9 291.8,113.5 292.4,101.8 292.9,88.9 293.4,75.2 293.9,61.5 294.5,48.7 295.0,38.0 295.5,30.2 296.0,26.2 296.5,25.7 297.1,27.6 297.6,31.4 298.1,36.7 298.6,43.0 299.2,49.7 299.7,56.4 300.2,62.7 300.7,68.2 301.2,73.1 301.8,77.1 302.3,80.5 302.8,83.4 303.3,85.9 303.8,88.0 304.4,90.0 304.9,91.8 305.4,93.6 305.9,95.3 306.5,97.0 307.0,98.7 307.5,100.4 308.0,102.0 308.5,103.6 309.1,105.1 309.6,106.5 310.1,107.8 310.6,109.0 311.2,110.1 311.7,111.1 312.2,112.0 312.7,112.8 313.2,113.5 313.8,114.2 314.3,114.8 314.8,115.3 317.2,116.8 319.6,117.5 321.9,117.6 324.3,117.3 326.7,116.6 329.0,115.7 331.4,114.5 333.8,113.1 336.1,111.8 338.5,110.6 340.9,109.8 343.3,109.7 345.6,110.2 348.0,111.4 350.4,112.7 352.7,114.1 355.1,115.4 357.5,116.8 359.8,118.1 362.2,119.5 364.6,120.9 367.0,122.3 369.3,123.7 371.7,125.1 374.1,126.6 376.4,128.0 378.8,129.4 381.2,130.8 383.6,132.2 385.9,133.5 388.3,134.8 390.7,136.1 393.0,137.3 395.4,138.5 397.8,139.6 400.1,140.6 402.5,141.6 404.9,142.5 407.3,143.3 409.6,144.1 412.0,144.8 414.4,145.4 416.7,146.0 419.1,146.5 421.5,146.9 423.8,147.3 426.2,147.7 428.6,148.0 431.0,148.3 433.3,148.5 435.7,148.7 438.1,148.9 440.4,149.0 442.8,149.1 445.2,149.2 447.5,149.3 449.9,149.4 452.3,149.5 454.7,149.5" stroke="#5a5a5a" stroke-width="1.2" stroke-opacity="0.5"/>
<path d="M283.5,149.7L284.0,149.7 284.5,149.7 285.1,149.7 285.6,149.7 286.1,149.6 286.6,149.6 287.1,149.5 287.7,149.3 288.2,148.9 288.7,148.2 289.2,147.1 289.8,145.2 290.3,142.1 290.8,137.1 291.3,130.0 291.8,121.3 292.4,111.4 292.9,100.2 293.4,87.8 293.9,74.8 294.5,61.8 295.0,50.0 295.5,40.3 296.0,33.6 296.5,30.5 297.1,30.4 297.6,32.5 298.1,36.3 298.6,41.4 299.2,47.3 299.7,53.5 300.2,59.6 300.7,65.2 301.2,70.2 301.8,74.5 302.3,78.1 302.8,81.1 303.3,83.6 303.8,85.8 304.4,87.7 304.9,89.5 305.4,91.3 305.9,92.9 306.5,94.6 307.0,96.2 307.5,97.9 308.0,99.5 308.5,101.1 309.1,102.7 309.6,104.2 310.1,105.5 310.6,106.8 311.2,108.0 311.7,109.1 312.2,110.0 312.7,110.9 313.2,111.7 313.8,112.5 314.3,113.1 314.8,113.7 317.2,115.8 319.6,117.1 321.9,118.0 324.3,118.7 326.7,119.3 329.0,119.6 331.4,119.8 333.8,119.7 336.1,119.3 338.5,118.7 340.9,117.9 343.3,117.0 345.6,116.1 348.0,115.4 350.4,115.0 352.7,115.2 355.1,116.0 357.5,117.2 359.8,118.4 362.2,119.7 364.6,120.9 367.0,122.1 369.3,123.3 371.7,124.5 374.1,125.7 376.4,126.9 378.8,128.1 381.2,129.3 383.6,130.4 385.9,131.5 388.3,132.6 390.7,133.7 393.0,134.7 395.4,135.7 397.8,136.7 400.1,137.7 402.5,138.6 404.9,139.5 407.3,140.3 409.6,141.1 412.0,141.9 414.4,142.6 416.7,143.3 419.1,143.9 421.5,144.5 423.8,145.0 426.2,145.5 428.6,146.0 431.0,146.4 433.3,146.8 435.7,147.1 438.1,147.5 440.4,147.7 442.8,148.0 445.2,148.2 447.5,148.4 449.9,148.6 452.3,148.8 454.7,148.9" stroke="#5a5a5a" stroke-width="1.2" stroke-opacity="0.5"/>
<path d="M283.5,149.7L284.0,149.7 284.5,149.7 285.1,149.7 285.6,149.7 286.1,149.7 286.6,149.7 287.1,149.6 287.7,149.5 288.2,149.3 288.7,149.0 289.2,148.4 289.8,147.4 290.3,145.6 290.8,142.7 291.3,138.3 291.8,132.9 292.4,126.7 292.9,119.4 293.4,111.2 293.9,102.1 294.5,92.6 295.0,83.3 295.5,75.0 296.0,68.4 296.5,64.1 297.1,62.5 297.6,62.8 298.1,64.5 298.6,67.5 299.2,71.4 299.7,75.7 300.2,80.2 300.7,84.5 301.2,88.4 301.8,91.9 302.3,94.9 302.8,97.4 303.3,99.4 303.8,101.2 304.4,102.7 304.9,104.1 305.4,105.4 305.9,106.6 306.5,107.8 307.0,109.0 307.5,110.2 308.0,111.4 308.5,112.6 309.1,113.7 309.6,114.7 310.1,115.7 310.6,116.6 311.2,117.4 311.7,118.2 312.2,118.8 312.7,119.4 313.2,119.9 313.8,120.4 314.3,120.7 314.8,121.1 317.2,121.9 319.6,121.9 321.9,121.3 324.3,120.2 326.7,118.8 329.0,117.2 331.4,115.5 333.8,113.8 336.1,112.2 338.5,111.1 340.9,110.6 343.3,110.8 345.6,111.7 348.0,113.0 350.4,114.3 352.7,115.7 355.1,117.2 357.5,118.7 359.8,120.3 362.2,121.8 364.6,123.4 367.0,125.1 369.3,126.7 371.7,128.3 374.1,129.8 376.4,131.4 378.8,132.9 381.2,134.3 383.6,135.7 385.9,137.0 388.3,138.3 390.7,139.4 393.0,140.5 395.4,141.6 397.8,142.5 400.1,143.4 402.5,144.2 404.9,144.9 407.3,145.6 409.6,146.1 412.0,146.7 414.4,147.1 416.7,147.5 419.1,147.9 421.5,148.2 423.8,148.4 426.2,148.6 428.6,148.8 431.0,149.0 433.3,149.1 435.7,149.2 438.1,149.3 440.4,149.4 442.8,149.5 445.2,149.5 447.5,149.5 449.9,149.6 452.3,149.6 454.7,149.6" stroke="#5a5a5a" stroke-width="1.2" stroke-opacity="0.5"/>
<path d="M283.5,149.7L284.0,149.7 284.5,149.7 285.1,149.7 285.6,149.6 286.1,149.6 286.6,149.5 287.1,149.2 287.7,148.8 288.2,148.1 288.7,146.9 289.2,145.0 289.8,142.1 290.3,137.6 290.8,131.0 291.3,122.0 291.8,111.3 292.4,99.1 292.9,85.9 293.4,72.1 293.9,58.4 294.5,46.0 295.0,35.9 295.5,29.0 296.0,26.0 296.5,26.2 297.1,28.7 297.6,33.0 298.1,38.8 298.6,45.4 299.2,52.3 299.7,59.0 300.2,65.3 300.7,70.8 301.2,75.6 301.8,79.6 302.3,83.0 302.8,85.9 303.3,88.3 303.8,90.5 304.4,92.5 304.9,94.4 305.4,96.3 305.9,98.1 306.5,99.8 307.0,101.6 307.5,103.3 308.0,104.9 308.5,106.6 309.1,108.2 309.6,109.6 310.1,111.0 310.6,112.2 311.2,113.4 311.7,114.4 312.2,115.4 312.7,116.2 313.2,117.0 313.8,117.7 314.3,118.4 314.8,119.0 317.2,121.0 319.6,122.4 321.9,123.5 324.3,124.4 326.7,125.3 329.0,126.1 331.4,126.6 333.8,126.9 336.1,126.7 338.5,126.1 340.9,125.1 343.3,123.6 345.6,121.9 348.0,120.2 350.4,118.8 352.7,117.9 355.1,117.8 357.5,118.6 359.8,119.6 362.2,120.6 364.6,121.7 367.0,122.7 369.3,123.8 371.7,124.8 374.1,125.9 376.4,127.0 378.8,128.1 381.2,129.3 383.6,130.4 385.9,131.5 388.3,132.6 390.7,133.7 393.0,134.7 395.4,135.8 397.8,136.8 400.1,137.8 402.5,138.8 404.9,139.7 407.3,140.6 409.6,141.4 412.0,142.2 414.4,142.9 416.7,143.6 419.1,144.3 421.5,144.9 423.8,145.4 426.2,145.9 428.6,146.4 431.0,146.8 433.3,147.2 435.7,147.5 438.1,147.8 440.4,148.1 442.8,148.3 445.2,148.5 447.5,148.7 449.9,148.8 452.3,149.0 454.7,149.1" stroke="#5a5a5a" stroke-width="1.2" stroke-opacity="0.5"/>
<path d="M283.5,149.7L284.0,149.7 284.5,149.7 285.1,149.7 285.6,149.7 286.1,149.6 286.6,149.6 287.1,149.4 287.7,149.2 288.2,148.7 288.7,148.0 289.2,146.8 289.8,144.8 290.3,141.8 290.8,137.2 291.3,130.8 291.8,122.9 292.4,113.9 292.9,103.8 293.4,92.9 293.9,81.7 294.5,71.0 295.0,61.8 295.5,54.8 296.0,50.7 296.5,49.7 297.1,50.9 297.6,53.7 298.1,57.9 298.6,63.0 299.2,68.6 299.7,74.3 300.2,79.7 300.7,84.6 301.2,88.8 301.8,92.5 302.3,95.6 302.8,98.2 303.3,100.4 303.8,102.4 304.4,104.1 304.9,105.8 305.4,107.4 305.9,108.9 306.5,110.4 307.0,111.9 307.5,113.3 308.0,114.7 308.5,116.1 309.1,117.4 309.6,118.6 310.1,119.8 310.6,120.8 311.2,121.8 311.7,122.7 312.2,123.5 312.7,124.2 313.2,124.8 313.8,125.4 314.3,125.9 314.8,126.4 317.2,128.0 319.6,128.8 321.9,129.2 324.3,129.1 326.7,128.7 329.0,127.9 331.4,126.5 333.8,124.8 336.1,122.8 338.5,120.6 340.9,118.7 343.3,117.2 345.6,116.5 348.0,116.8 350.4,117.8 352.7,118.7 355.1,119.8 357.5,120.8 359.8,121.9 362.2,122.9 364.6,124.0 367.0,125.2 369.3,126.3 371.7,127.4 374.1,128.6 376.4,129.7 378.8,130.9 381.2,132.0 383.6,133.2 385.9,134.3 388.3,135.4 390.7,136.4 393.0,137.5 395.4,138.4 397.8,139.4 400.1,140.3 402.5,141.2 404.9,142.0 407.3,142.8 409.6,143.5 412.0,144.1 414.4,144.8 416.7,145.3 419.1,145.8 421.5,146.3 423.8,146.7 426.2,147.1 428.6,147.5 431.0,147.8 433.3,148.0 435.7,148.3 438.1,148.5 440.4,148.7 442.8,148.8 445.2,149.0 447.5,149.1 449.9,149.2 452.3,149.3 454.7,149.3" stroke="#5a5a5a" stroke-width="1.2" stroke-opacity="0.5"/>
<path d="M283.5,149.7L284.0,149.7 284.5,149.7 285.1,149.7 285.6,149.7 286.1,149.7 286.6,149.6 287.1,149.6 287.7,149.5 288.2,149.2 288.7,148.9 289.2,148.2 289.8,147.0 290.3,144.9 290.8,141.3 291.3,136.0 291.8,129.8 292.4,123.1 292.9,115.7 293.4,107.6 293.9,99.0 294.5,90.3 295.0,82.1 295.5,75.1 296.0,69.9 296.5,66.9 297.1,66.0 297.6,66.4 298.1,68.0 298.6,70.5 299.2,73.5 299.7,76.8 300.2,80.1 300.7,83.2 301.2,85.9 301.8,88.2 302.3,90.0 302.8,91.5 303.3,92.7 303.8,93.7 304.4,94.6 304.9,95.4 305.4,96.2 305.9,97.0 306.5,97.8 307.0,98.6 307.5,99.6 308.0,100.5 308.5,101.5 309.1,102.5 309.6,103.5 310.1,104.4 310.6,105.2 311.2,106.0 311.7,106.7 312.2,107.4 312.7,108.0 313.2,108.6 313.8,109.2 314.3,109.7 314.8,110.2 317.2,112.0 319.6,113.5 321.9,114.7 324.3,115.8 326.7,116.6 329.0,117.3 331.4,117.7 333.8,117.9 336.1,117.7 338.5,117.5 340.9,117.1 343.3,116.9 345.6,116.9 348.0,117.3 350.4,118.2 352.7,119.6 355.1,120.9 357.5,122.1 359.8,123.3 362.2,124.5 364.6,125.6 367.0,126.7 369.3,127.8 371.7,128.8 374.1,129.9 376.4,130.9 378.8,131.9 381.2,133.0 383.6,134.0 385.9,135.0 388.3,135.9 390.7,136.9 393.0,137.8 395.4,138.8 397.8,139.6 400.1,140.5 402.5,141.3 404.9,142.1 407.3,142.8 409.6,143.5 412.0,144.1 414.4,144.7 416.7,145.3 419.1,145.8 421.5,146.3 423.8,146.7 426.2,147.1 428.6,147.4 431.0,147.7 433.3,148.0 435.7,148.2 438.1,148.4 440.4,148.6 442.8,148.8 445.2,148.9 447.5,149.1 449.9,149.2 452.3,149.3 454.7,149.3" stroke="#5a5a5a" stroke-width="1.2" stroke-opacity="0.5"/>
<path d="M283.5,149.7L284.0,149.7 284.5,149.7 285.1,149.7 285.6,149.7 286.1,149.6 286.6,149.5 287.1,149.3 287.7,149.0 288.2,148.4 288.7,147.5 289.2,145.9 289.8,143.4 290.3,139.5 290.8,133.6 291.3,125.4 291.8,115.4 292.4,104.3 292.9,92.1 293.4,79.2 293.9,66.1 294.5,53.8 295.0,43.4 295.5,35.8 296.0,31.6 296.5,30.9 297.1,32.4 297.6,35.8 298.1,40.6 298.6,46.4 299.2,52.6 299.7,58.8 300.2,64.6 300.7,69.8 301.2,74.3 301.8,78.1 302.3,81.2 302.8,83.8 303.3,86.1 303.8,88.1 304.4,89.9 304.9,91.6 305.4,93.2 305.9,94.8 306.5,96.4 307.0,98.0 307.5,99.5 308.0,101.1 308.5,102.6 309.1,104.1 309.6,105.5 310.1,106.8 310.6,108.0 311.2,109.1 311.7,110.1 312.2,111.0 312.7,111.8 313.2,112.5 313.8,113.2 314.3,113.8 314.8,114.3 317.2,116.0 319.6,117.0 321.9,117.6 324.3,117.8 326.7,117.6 329.0,117.2 331.4,116.4 333.8,115.2 336.1,113.8 338.5,112.3 340.9,110.9 343.3,109.8 345.6,109.3 348.0,109.5 350.4,110.6 352.7,112.0 355.1,113.5 357.5,114.9 359.8,116.4 362.2,117.9 364.6,119.4 367.0,120.9 369.3,122.4 371.7,123.9 374.1,125.4 376.4,126.8 378.8,128.3 381.2,129.7 383.6,131.0 385.9,132.3 388.3,133.6 390.7,134.8 393.0,136.0 395.4,137.2 397.8,138.3 400.1,139.3 402.5,140.3 404.9,141.2 407.3,142.0 409.6,142.8 412.0,143.6 414.4,144.2 416.7,144.9 419.1,145.4 421.5,145.9 423.8,146.4 426.2,146.8 428.6,147.2 431.0,147.6 433.3,147.9 435.7,148.1 438.1,148.4 440.4,148.6 442.8,148.7 445.2,148.9 447.5,149.0 449.9,149.1 452.3,149.2 454.7,149.3" stroke="#5a5a5a" stroke-width="1.2" stroke-opacity="0.5"/>
<path d="M283.5,149.7L284.0,149.7 284.5,149.7 285.1,149.7 285.6,149.7 286.1,149.7 286.6,149.6 287.1,149.6 287.7,149.5 288.2,149.3 288.7,148.9 289.2,148.2 289.8,147.1 290.3,145.1 290.8,141.7 291.3,136.8 291.8,130.8 292.4,123.9 292.9,116.0 293.4,107.0 293.9,97.2 294.5,87.0 295.0,77.3 295.5,68.6 296.0,61.9 296.5,57.7 297.1,56.3 297.6,56.8 298.1,58.8 298.6,62.1 299.2,66.2 299.7,70.8 300.2,75.5 300.7,80.0 301.2,84.1 301.8,87.6 302.3,90.6 302.8,93.2 303.3,95.3 303.8,97.1 304.4,98.7 304.9,100.1 305.4,101.4 305.9,102.8 306.5,104.0 307.0,105.3 307.5,106.6 308.0,107.9 308.5,109.2 309.1,110.4 309.6,111.6 310.1,112.7 310.6,113.8 311.2,114.7 311.7,115.6 312.2,116.4 312.7,117.2 313.2,117.8 313.8,118.5 314.3,119.0 314.8,119.5 317.2,121.3 319.6,122.5 321.9,123.3 324.3,123.7 326.7,123.9 329.0,123.7 331.4,123.1 333.8,122.1 336.1,120.7 338.5,119.0 340.9,117.2 343.3,115.5 345.6,114.3 348.0,113.6 350.4,113.8 352.7,114.8 355.1,115.9 357.5,117.0 359.8,118.1 362.2,119.2 364.6,120.4 367.0,121.5 369.3,122.6 371.7,123.8 374.1,124.9 376.4,126.1 378.8,127.3 381.2,128.4 383.6,129.6 385.9,130.7 388.3,131.9 390.7,133.0 393.0,134.1 395.4,135.2 397.8,136.2 400.1,137.2 402.5,138.2 404.9,139.2 407.3,140.1 409.6,140.9 412.0,141.7 414.4,142.5 416.7,143.2 419.1,143.9 421.5,144.5 423.8,145.1 426.2,145.6 428.6,146.1 431.0,146.5 433.3,146.9 435.7,147.3 438.1,147.6 440.4,147.9 442.8,148.1 445.2,148.3 447.5,148.5 449.9,148.7 452.3,148.8 454.7,149.0" stroke="#5a5a5a" stroke-width="1.2" stroke-opacity="0.5"/>
<path d="M283.5,149.7L284.0,149.7 284.5,149.7 285.1,149.7 285.6,149.7 286.1,149.6 286.6,149.6 287.1,149.5 287.7,149.3 288.2,148.9 288.7,148.3 289.2,147.2 289.8,145.5 290.3,142.6 290.8,138.0 291.3,131.5 291.8,123.8 292.4,115.2 292.9,106.0 293.4,96.0 293.9,85.8 294.5,76.0 295.0,67.3 295.5,60.4 296.0,56.1 296.5,54.5 297.1,54.8 297.6,56.6 298.1,59.5 298.6,63.4 299.2,67.6 299.7,71.9 300.2,76.0 300.7,79.7 301.2,82.9 301.8,85.6 302.3,87.8 302.8,89.5 303.3,91.0 303.8,92.3 304.4,93.4 304.9,94.5 305.4,95.6 305.9,96.6 306.5,97.7 307.0,98.7 307.5,99.9 308.0,101.0 308.5,102.2 309.1,103.3 309.6,104.4 310.1,105.3 310.6,106.3 311.2,107.1 311.7,107.9 312.2,108.6 312.7,109.3 313.2,109.9 313.8,110.4 314.3,110.9 314.8,111.3 317.2,112.9 319.6,113.9 321.9,114.5 324.3,114.9 326.7,115.1 329.0,115.0 331.4,114.6 333.8,114.0 336.1,113.2 338.5,112.4 340.9,111.6 343.3,111.0 345.6,110.8 348.0,111.2 350.4,112.1 352.7,113.6 355.1,115.0 357.5,116.4 359.8,117.8 362.2,119.2 364.6,120.6 367.0,121.9 369.3,123.2 371.7,124.6 374.1,125.9 376.4,127.2 378.8,128.4 381.2,129.7 383.6,130.9 385.9,132.2 388.3,133.4 390.7,134.5 393.0,135.7 395.4,136.8 397.8,137.8 400.1,138.8 402.5,139.8 404.9,140.7 407.3,141.6 409.6,142.4 412.0,143.1 414.4,143.8 416.7,144.5 419.1,145.1 421.5,145.6 423.8,146.1 426.2,146.6 428.6,147.0 431.0,147.3 433.3,147.7 435.7,147.9 438.1,148.2 440.4,148.4 442.8,148.6 445.2,148.8 447.5,148.9 449.9,149.1 452.3,149.2 454.7,149.3" stroke="#5a5a5a" stroke-width="1.2" stroke-opacity="0.5"/>
<path d="M283.5,149.7L284.0,149.7 284.5,149.7 285.1,149.7 285.6,149.7 286.1,149.6 286.6,149.6 287.1,149.4 287.7,149.2 288.2,148.8 288.7,148.1 289.2,146.9 289.8,145.0 290.3,141.9 290.8,137.0 291.3,130.0 291.8,121.6 292.4,112.2 292.9,101.9 293.4,90.7 293.9,79.1 294.5,68.0 295.0,58.1 295.5,50.4 296.0,45.5 296.5,43.8 297.1,44.2 297.6,46.4 298.1,50.0 298.6,54.6 299.2,59.7 299.7,65.0 300.2,70.0 300.7,74.5 301.2,78.4 301.8,81.8 302.3,84.5 302.8,86.8 303.3,88.8 303.8,90.4 304.4,91.9 304.9,93.3 305.4,94.7 305.9,96.0 306.5,97.4 307.0,98.7 307.5,100.1 308.0,101.4 308.5,102.8 309.1,104.1 309.6,105.3 310.1,106.5 310.6,107.6 311.2,108.5 311.7,109.4 312.2,110.3 312.7,111.0 313.2,111.7 313.8,112.3 314.3,112.9 314.8,113.3 317.2,115.0 319.6,116.0 321.9,116.6 324.3,116.9 326.7,116.8 329.0,116.5 331.4,115.9 333.8,115.0 336.1,114.1 338.5,113.3 340.9,112.8 343.3,112.7 345.6,113.4 348.0,114.8 350.4,116.3 352.7,117.9 355.1,119.4 357.5,121.0 359.8,122.5 362.2,124.0 364.6,125.5 367.0,127.0 369.3,128.4 371.7,129.8 374.1,131.1 376.4,132.4 378.8,133.7 381.2,134.9 383.6,136.1 385.9,137.2 388.3,138.3 390.7,139.3 393.0,140.3 395.4,141.2 397.8,142.1 400.1,142.9 402.5,143.6 404.9,144.3 407.3,144.9 409.6,145.5 412.0,146.0 414.4,146.5 416.7,146.9 419.1,147.3 421.5,147.6 423.8,147.9 426.2,148.2 428.6,148.4 431.0,148.6 433.3,148.8 435.7,148.9 438.1,149.1 440.4,149.2 442.8,149.3 445.2,149.4 447.5,149.4 449.9,149.5 452.3,149.5 454.7,149.6" stroke="#5a5a5a" stroke-width="1.2" stroke-opacity="0.5"/>
<path d="M283.5,149.7L284.0,149.7 284.5,149.7 285.1,149.7 285.6,149.7 286.1,149.7 286.6,149.6 287.1,149.5 287.7,149.3 288.2,149.0 288.7,148.4 289.2,147.4 289.8,145.8 290.3,143.1 290.8,138.9 291.3,132.8 291.8,125.5 292.4,117.3 292.9,108.1 293.4,98.1 293.9,87.7 294.5,77.5 295.0,68.3 295.5,60.9 296.0,56.0 296.5,54.0 297.1,54.2 297.6,56.0 298.1,59.1 298.6,63.2 299.2,67.9 299.7,72.7 300.2,77.3 300.7,81.6 301.2,85.3 301.8,88.5 302.3,91.1 302.8,93.3 303.3,95.2 303.8,96.8 304.4,98.2 304.9,99.5 305.4,100.8 305.9,102.0 306.5,103.3 307.0,104.5 307.5,105.7 308.0,107.0 308.5,108.2 309.1,109.4 309.6,110.5 310.1,111.6 310.6,112.5 311.2,113.4 311.7,114.2 312.2,115.0 312.7,115.6 313.2,116.2 313.8,116.8 314.3,117.2 314.8,117.7 317.2,119.1 319.6,119.9 321.9,120.2 324.3,120.3 326.7,120.1 329.0,119.7 331.4,119.0 333.8,118.2 336.1,117.2 338.5,116.3 340.9,115.6 343.3,115.1 345.6,115.1 348.0,115.7 350.4,116.8 352.7,118.0 355.1,119.2 357.5,120.5 359.8,121.7 362.2,122.9 364.6,124.2 367.0,125.4 369.3,126.6 371.7,127.8 374.1,129.1 376.4,130.3 378.8,131.5 381.2,132.7 383.6,133.8 385.9,135.0 388.3,136.1 390.7,137.2 393.0,138.2 395.4,139.2 397.8,140.2 400.1,141.1 402.5,141.9 404.9,142.7 407.3,143.5 409.6,144.1 412.0,144.8 414.4,145.4 416.7,145.9 419.1,146.4 421.5,146.8 423.8,147.2 426.2,147.6 428.6,147.9 431.0,148.1 433.3,148.4 435.7,148.6 438.1,148.8 440.4,148.9 442.8,149.0 445.2,149.2 447.5,149.2 449.9,149.3 452.3,149.4 454.7,149.5" stroke="#5a5a5a" stroke-width="1.2" stroke-opacity="0.5"/>
<path d="M283.5,149.7L284.0,149.7 284.5,149.7 285.1,149.7 285.6,149.7 286.1,149.7 286.6,149.7 287.1,149.6 287.7,149.5 288.2,149.3 288.7,149.0 289.2,148.5 289.8,147.5 290.3,145.7 290.8,142.6 291.3,138.0 291.8,132.5 292.4,126.4 292.9,119.4 293.4,111.5 293.9,102.8 294.5,93.8 295.0,85.1 295.5,77.2 296.0,71.0 296.5,67.0 297.1,65.3 297.6,65.5 298.1,66.9 298.6,69.5 299.2,72.9 299.7,76.6 300.2,80.5 300.7,84.3 301.2,87.7 301.8,90.6 302.3,93.1 302.8,95.2 303.3,96.9 303.8,98.4 304.4,99.6 304.9,100.8 305.4,101.8 305.9,102.9 306.5,103.9 307.0,105.0 307.5,106.1 308.0,107.2 308.5,108.3 309.1,109.4 309.6,110.4 310.1,111.4 310.6,112.3 311.2,113.1 311.7,113.9 312.2,114.6 312.7,115.2 313.2,115.8 313.8,116.3 314.3,116.8 314.8,117.2 317.2,118.7 319.6,119.5 321.9,120.0 324.3,120.2 326.7,120.1 329.0,119.8 331.4,119.4 333.8,118.8 336.1,118.2 338.5,117.9 340.9,117.9 343.3,118.4 345.6,119.5 348.0,120.9 350.4,122.3 352.7,123.7 355.1,125.1 357.5,126.5 359.8,127.9 362.2,129.2 364.6,130.5 367.0,131.7 369.3,133.0 371.7,134.1 374.1,135.2 376.4,136.3 378.8,137.3 381.2,138.3 383.6,139.3 385.9,140.1 388.3,141.0 390.7,141.8 393.0,142.5 395.4,143.2 397.8,143.9 400.1,144.5 402.5,145.0 404.9,145.5 407.3,146.0 409.6,146.5 412.0,146.8 414.4,147.2 416.7,147.5 419.1,147.8 421.5,148.1 423.8,148.3 426.2,148.5 428.6,148.7 431.0,148.8 433.3,149.0 435.7,149.1 438.1,149.2 440.4,149.3 442.8,149.3 445.2,149.4 447.5,149.5 449.9,149.5 452.3,149.5 454.7,149.6" stroke="#5a5a5a" stroke-width="1.2" stroke-opacity="0.5"/>
<path d="M283.5,149.7L284.0,149.7 284.5,149.7 285.1,149.7 285.6,149.6 286.1,149.6 286.6,149.5 287.1,149.3 287.7,148.9 288.2,148.2 288.7,147.2 289.2,145.4 289.8,142.7 290.3,138.5 290.8,132.3 291.3,123.7 291.8,113.5 292.4,102.0 292.9,89.5 293.4,76.3 293.9,63.3 294.5,51.4 295.0,41.5 295.5,34.7 296.0,31.5 296.5,31.5 297.1,33.5 297.6,37.4 298.1,42.6 298.6,48.7 299.2,55.1 299.7,61.3 300.2,67.1 300.7,72.2 301.2,76.6 301.8,80.3 302.3,83.3 302.8,85.9 303.3,88.1 303.8,90.0 304.4,91.7 304.9,93.4 305.4,94.9 305.9,96.4 306.5,97.9 307.0,99.3 307.5,100.7 308.0,102.1 308.5,103.5 309.1,104.8 309.6,105.9 310.1,106.9 310.6,107.9 311.2,108.7 311.7,109.4 312.2,110.0 312.7,110.5 313.2,110.9 313.8,111.2 314.3,111.4 314.8,111.6 317.2,111.5 319.6,110.6 321.9,109.3 324.3,107.9 326.7,106.6 329.0,105.8 331.4,105.5 333.8,105.9 336.1,107.2 338.5,108.7 340.9,110.4 343.3,112.2 345.6,114.0 348.0,115.9 350.4,117.8 352.7,119.7 355.1,121.6 357.5,123.5 359.8,125.4 362.2,127.2 364.6,129.0 367.0,130.7 369.3,132.3 371.7,133.9 374.1,135.3 376.4,136.7 378.8,138.0 381.2,139.2 383.6,140.4 385.9,141.4 388.3,142.4 390.7,143.2 393.0,144.0 395.4,144.7 397.8,145.4 400.1,146.0 402.5,146.5 404.9,146.9 407.3,147.3 409.6,147.7 412.0,148.0 414.4,148.3 416.7,148.5 419.1,148.7 421.5,148.9 423.8,149.0 426.2,149.1 428.6,149.2 431.0,149.3 433.3,149.4 435.7,149.5 438.1,149.5 440.4,149.5 442.8,149.6 445.2,149.6 447.5,149.6 449.9,149.6 452.3,149.7 454.7,149.7" stroke="#5a5a5a" stroke-width="1.2" stroke-opacity="0.5"/>
<path d="M283.5,149.7L284.0,149.7 284.5,149.7 285.1,149.7 285.6,149.7 286.1,149.7 286.6,149.6 287.1,149.5 287.7,149.4 288.2,149.1 288.7,148.7 289.2,147.8 289.8,146.5 290.3,144.1 290.8,140.1 291.3,134.4 291.8,127.6 292.4,120.1 292.9,111.8 293.4,102.7 293.9,93.2 294.5,83.6 295.0,74.8 295.5,67.5 296.0,62.2 296.5,59.5 297.1,59.0 297.6,60.0 298.1,62.2 298.6,65.4 299.2,69.2 299.7,73.2 300.2,77.1 300.7,80.7 301.2,83.9 301.8,86.5 302.3,88.8 302.8,90.6 303.3,92.0 303.8,93.3 304.4,94.4 304.9,95.4 305.4,96.4 305.9,97.4 306.5,98.5 307.0,99.5 307.5,100.6 308.0,101.7 308.5,102.9 309.1,104.0 309.6,105.1 310.1,106.1 310.6,107.0 311.2,107.9 311.7,108.8 312.2,109.5 312.7,110.3 313.2,111.0 313.8,111.6 314.3,112.2 314.8,112.8 317.2,115.1 319.6,117.0 321.9,118.9 324.3,120.7 326.7,122.5 329.0,124.1 331.4,125.5 333.8,126.6 336.1,127.3 338.5,127.4 340.9,126.9 343.3,125.9 345.6,124.6 348.0,122.9 350.4,121.3 352.7,119.9 355.1,119.0 357.5,118.8 359.8,119.4 362.2,120.1 364.6,120.9 367.0,121.7 369.3,122.6 371.7,123.5 374.1,124.5 376.4,125.6 378.8,126.7 381.2,127.9 383.6,129.0 385.9,130.3 388.3,131.5 390.7,132.8 393.0,134.0 395.4,135.2 397.8,136.5 400.1,137.6 402.5,138.7 404.9,139.8 407.3,140.8 409.6,141.8 412.0,142.7 414.4,143.5 416.7,144.3 419.1,144.9 421.5,145.6 423.8,146.1 426.2,146.6 428.6,147.1 431.0,147.5 433.3,147.8 435.7,148.1 438.1,148.4 440.4,148.6 442.8,148.8 445.2,149.0 447.5,149.1 449.9,149.2 452.3,149.3 454.7,149.4" stroke="#5a5a5a" stroke-width="1.2" stroke-opacity="0.5"/>
<path d="M283.5,149.7L284.0,149.7 284.5,149.7 285.1,149.7 285.6,149.6 286.1,149.6 286.6,149.5 287.1,149.3 287.7,148.9 288.2,148.2 288.7,147.1 289.2,145.4 289.8,142.7 290.3,138.5 290.8,132.2 291.3,123.7 291.8,113.6 292.4,102.5 292.9,90.6 293.4,78.2 293.9,66.1 294.5,55.1 295.0,46.2 295.5,40.3 296.0,37.8 296.5,38.0 297.1,40.1 297.6,43.7 298.1,48.6 298.6,54.2 299.2,59.9 299.7,65.5 300.2,70.7 300.7,75.2 301.2,79.0 301.8,82.2 302.3,84.9 302.8,87.1 303.3,89.0 303.8,90.7 304.4,92.2 304.9,93.7 305.4,95.1 305.9,96.6 306.5,98.0 307.0,99.4 307.5,100.8 308.0,102.2 308.5,103.6 309.1,105.0 309.6,106.3 310.1,107.4 310.6,108.5 311.2,109.5 311.7,110.4 312.2,111.3 312.7,112.0 313.2,112.7 313.8,113.3 314.3,113.9 314.8,114.4 317.2,116.3 319.6,117.5 321.9,118.4 324.3,119.0 326.7,119.3 329.0,119.4 331.4,119.1 333.8,118.4 336.1,117.5 338.5,116.4 340.9,115.3 343.3,114.4 345.6,113.9 348.0,114.0 350.4,114.8 352.7,116.1 355.1,117.4 357.5,118.7 359.8,120.0 362.2,121.2 364.6,122.5 367.0,123.7 369.3,124.9 371.7,126.2 374.1,127.4 376.4,128.6 378.8,129.8 381.2,131.0 383.6,132.2 385.9,133.3 388.3,134.5 390.7,135.6 393.0,136.6 395.4,137.7 397.8,138.7 400.1,139.6 402.5,140.5 404.9,141.4 407.3,142.2 409.6,143.0 412.0,143.7 414.4,144.4 416.7,145.0 419.1,145.5 421.5,146.0 423.8,146.5 426.2,146.9 428.6,147.3 431.0,147.6 433.3,147.9 435.7,148.2 438.1,148.4 440.4,148.6 442.8,148.8 445.2,148.9 447.5,149.0 449.9,149.1 452.3,149.2 454.7,149.3" stroke="#5a5a5a" stroke-width="1.2" stroke-opacity="0.5"/>
<path d="M283.5,149.7L284.0,149.7 284.5,149.7 285.1,149.7 285.6,149.7 286.1,149.7 286.6,149.6 287.1,149.5 287.7,149.4 288.2,149.1 288.7,148.6 289.2,147.7 289.8,146.2 290.3,143.6 290.8,139.2 291.3,132.7 291.8,124.9 292.4,116.1 292.9,106.2 293.4,95.1 293.9,83.2 294.5,71.0 295.0,59.4 295.5,49.3 296.0,41.6 296.5,37.1 297.1,35.7 297.6,36.5 298.1,39.0 298.6,42.9 299.2,47.7 299.7,53.0 300.2,58.3 300.7,63.4 301.2,67.9 301.8,71.8 302.3,75.0 302.8,77.7 303.3,80.0 303.8,81.9 304.4,83.6 304.9,85.1 305.4,86.6 305.9,88.0 306.5,89.4 307.0,90.9 307.5,92.3 308.0,93.8 308.5,95.3 309.1,96.8 309.6,98.2 310.1,99.5 310.6,100.8 311.2,101.9 311.7,103.0 312.2,104.0 312.7,104.9 313.2,105.7 313.8,106.5 314.3,107.3 314.8,107.9 317.2,110.5 319.6,112.4 321.9,114.1 324.3,115.6 326.7,116.9 329.0,118.0 331.4,118.8 333.8,119.2 336.1,119.2 338.5,118.9 340.9,118.5 343.3,118.0 345.6,117.9 348.0,118.2 350.4,119.2 352.7,120.7 355.1,122.2 357.5,123.5 359.8,124.9 362.2,126.1 364.6,127.3 367.0,128.5 369.3,129.6 371.7,130.7 374.1,131.8 376.4,132.9 378.8,133.9 381.2,134.9 383.6,135.9 385.9,136.8 388.3,137.8 390.7,138.7 393.0,139.5 395.4,140.4 397.8,141.2 400.1,142.0 402.5,142.7 404.9,143.4 407.3,144.0 409.6,144.6 412.0,145.2 414.4,145.7 416.7,146.2 419.1,146.6 421.5,147.0 423.8,147.3 426.2,147.7 428.6,147.9 431.0,148.2 433.3,148.4 435.7,148.6 438.1,148.8 440.4,148.9 442.8,149.0 445.2,149.2 447.5,149.2 449.9,149.3 452.3,149.4 454.7,149.4" stroke="#5a5a5a" stroke-width="1.2" stroke-opacity="0.5"/>
<path d="M283.5,149.7L284.0,149.7 284.5,149.7 285.1,149.7 285.6,149.7 286.1,149.6 286.6,149.5 287.1,149.3 287.7,148.9 288.2,148.3 288.7,147.3 289.2,145.7 289.8,143.1 290.3,139.2 290.8,133.4 291.3,125.5 291.8,115.9 292.4,105.0 292.9,93.1 293.4,80.5 293.9,67.9 294.5,56.4 295.0,46.8 295.5,40.1 296.0,37.0 296.5,37.0 297.1,39.0 297.6,42.9 298.1,48.1 298.6,54.2 299.2,60.6 299.7,66.9 300.2,72.8 300.7,78.0 301.2,82.5 301.8,86.4 302.3,89.6 302.8,92.3 303.3,94.7 303.8,96.8 304.4,98.7 304.9,100.5 305.4,102.3 305.9,103.9 306.5,105.6 307.0,107.2 307.5,108.8 308.0,110.3 308.5,111.8 309.1,113.3 309.6,114.6 310.1,115.9 310.6,117.0 311.2,118.1 311.7,119.1 312.2,120.0 312.7,120.8 313.2,121.5 313.8,122.2 314.3,122.7 314.8,123.3 317.2,125.1 319.6,126.3 321.9,127.1 324.3,127.6 326.7,127.9 329.0,127.9 331.4,127.6 333.8,127.0 336.1,126.2 338.5,125.3 340.9,124.3 343.3,123.5 345.6,123.1 348.0,123.1 350.4,123.7 352.7,124.6 355.1,125.5 357.5,126.3 359.8,127.1 362.2,127.9 364.6,128.7 367.0,129.5 369.3,130.3 371.7,131.0 374.1,131.8 376.4,132.6 378.8,133.4 381.2,134.2 383.6,135.0 385.9,135.8 388.3,136.6 390.7,137.4 393.0,138.2 395.4,139.0 397.8,139.7 400.1,140.5 402.5,141.2 404.9,141.9 407.3,142.5 409.6,143.1 412.0,143.7 414.4,144.3 416.7,144.8 419.1,145.3 421.5,145.8 423.8,146.2 426.2,146.6 428.6,146.9 431.0,147.3 433.3,147.6 435.7,147.8 438.1,148.1 440.4,148.3 442.8,148.5 445.2,148.6 447.5,148.8 449.9,148.9 452.3,149.0 454.7,149.1" stroke="#5a5a5a" stroke-width="1.2" stroke-opacity="0.5"/>
<path d="M283.5,149.7L284.0,149.7 284.5,149.7 285.1,149.7 285.6,149.7 286.1,149.6 286.6,149.6 287.1,149.4 287.7,149.2 288.2,148.7 288.7,147.9 289.2,146.6 289.8,144.5 290.3,141.1 290.8,135.7 291.3,128.2 291.8,119.1 292.4,109.0 292.9,97.8 293.4,85.9 293.9,73.6 294.5,61.9 295.0,51.6 295.5,43.6 296.0,38.8 296.5,37.3 297.1,38.0 297.6,40.5 298.1,44.5 298.6,49.4 299.2,54.9 299.7,60.5 300.2,65.8 300.7,70.6 301.2,74.7 301.8,78.2 302.3,81.1 302.8,83.5 303.3,85.5 303.8,87.3 304.4,88.8 304.9,90.3 305.4,91.8 305.9,93.2 306.5,94.6 307.0,96.0 307.5,97.5 308.0,98.9 308.5,100.4 309.1,101.8 309.6,103.1 310.1,104.3 310.6,105.5 311.2,106.5 311.7,107.5 312.2,108.3 312.7,109.1 313.2,109.9 313.8,110.5 314.3,111.1 314.8,111.7 317.2,113.6 319.6,114.8 321.9,115.8 324.3,116.5 326.7,117.0 329.0,117.3 331.4,117.4 333.8,117.1 336.1,116.7 338.5,116.0 340.9,115.3 343.3,114.8 345.6,114.5 348.0,114.7 350.4,115.5 352.7,116.8 355.1,118.3 357.5,119.7 359.8,121.2 362.2,122.6 364.6,124.0 367.0,125.4 369.3,126.7 371.7,128.0 374.1,129.3 376.4,130.6 378.8,131.8 381.2,133.0 383.6,134.1 385.9,135.2 388.3,136.3 390.7,137.4 393.0,138.3 395.4,139.3 397.8,140.2 400.1,141.1 402.5,141.9 404.9,142.6 407.3,143.3 409.6,144.0 412.0,144.6 414.4,145.2 416.7,145.7 419.1,146.2 421.5,146.6 423.8,147.0 426.2,147.3 428.6,147.7 431.0,147.9 433.3,148.2 435.7,148.4 438.1,148.6 440.4,148.8 442.8,148.9 445.2,149.0 447.5,149.1 449.9,149.2 452.3,149.3 454.7,149.4" stroke="#5a5a5a" stroke-width="1.2" stroke-opacity="0.5"/>
<path d="M283.5,149.7L284.0,149.7 284.5,149.7 285.1,149.7 285.6,149.7 286.1,149.7 286.6,149.6 287.1,149.6 287.7,149.5 288.2,149.3 288.7,148.9 289.2,148.3 289.8,147.3 290.3,145.4 290.8,142.2 291.3,137.6 291.8,132.1 292.4,126.2 292.9,119.7 293.4,112.6 293.9,105.1 294.5,97.6 295.0,90.6 295.5,84.6 296.0,80.2 296.5,77.7 297.1,77.0 297.6,77.4 298.1,78.8 298.6,81.0 299.2,83.7 299.7,86.6 300.2,89.5 300.7,92.1 301.2,94.4 301.8,96.3 302.3,97.9 302.8,99.2 303.3,100.2 303.8,101.0 304.4,101.8 304.9,102.5 305.4,103.2 305.9,103.8 306.5,104.6 307.0,105.3 307.5,106.1 308.0,106.9 308.5,107.8 309.1,108.7 309.6,109.5 310.1,110.3 310.6,111.0 311.2,111.7 311.7,112.4 312.2,113.0 312.7,113.5 313.2,114.1 313.8,114.6 314.3,115.0 314.8,115.5 317.2,117.2 319.6,118.5 321.9,119.7 324.3,120.8 326.7,121.6 329.0,122.3 331.4,122.7 333.8,122.8 336.1,122.7 338.5,122.5 340.9,122.3 343.3,122.3 345.6,122.7 348.0,123.6 350.4,124.8 352.7,126.1 355.1,127.2 357.5,128.3 359.8,129.3 362.2,130.2 364.6,131.1 367.0,132.0 369.3,132.8 371.7,133.6 374.1,134.3 376.4,135.1 378.8,135.8 381.2,136.5 383.6,137.3 385.9,138.0 388.3,138.7 390.7,139.4 393.0,140.1 395.4,140.7 397.8,141.4 400.1,142.0 402.5,142.6 404.9,143.2 407.3,143.7 409.6,144.2 412.0,144.7 414.4,145.2 416.7,145.6 419.1,146.1 421.5,146.4 423.8,146.8 426.2,147.1 428.6,147.4 431.0,147.7 433.3,147.9 435.7,148.1 438.1,148.3 440.4,148.5 442.8,148.7 445.2,148.8 447.5,148.9 449.9,149.0 452.3,149.1 454.7,149.2" stroke="#5a5a5a" stroke-width="1.2" stroke-opacity="0.5"/>
<path d="M283.5,149.7L284.0,149.7 284.5,149.7 285.1,149.7 285.6,149.7 286.1,149.7 286.6,149.7 287.1,149.7 287.7,149.6 288.2,149.6 288.7,149.5 289.2,149.2 289.8,148.8 290.3,147.9 290.8,146.3 291.3,143.8 291.8,140.8 292.4,137.7 292.9,134.2 293.4,130.2 293.9,125.7 294.5,120.8 295.0,115.8 295.5,110.9 296.0,106.6 296.5,103.3 297.1,101.1 297.6,100.2 298.1,100.2 298.6,100.8 299.2,102.0 299.7,103.6 300.2,105.5 300.7,107.3 301.2,109.0 301.8,110.6 302.3,111.9 302.8,113.0 303.3,113.9 303.8,114.7 304.4,115.3 304.9,115.8 305.4,116.3 305.9,116.8 306.5,117.3 307.0,117.8 307.5,118.4 308.0,119.0 308.5,119.6 309.1,120.2 309.6,120.8 310.1,121.4 310.6,121.9 311.2,122.4 311.7,122.9 312.2,123.3 312.7,123.7 313.2,124.1 313.8,124.5 314.3,124.8 314.8,125.1 317.2,126.3 319.6,127.2 321.9,128.0 324.3,128.6 326.7,129.1 329.0,129.5 331.4,129.6 333.8,129.5 336.1,129.1 338.5,128.6 340.9,127.9 343.3,127.2 345.6,126.7 348.0,126.5 350.4,126.8 352.7,127.6 355.1,128.5 357.5,129.3 359.8,130.2 362.2,131.0 364.6,131.8 367.0,132.6 369.3,133.4 371.7,134.2 374.1,134.9 376.4,135.7 378.8,136.4 381.2,137.1 383.6,137.8 385.9,138.5 388.3,139.2 390.7,139.9 393.0,140.6 395.4,141.2 397.8,141.8 400.1,142.4 402.5,143.0 404.9,143.6 407.3,144.1 409.6,144.6 412.0,145.1 414.4,145.5 416.7,145.9 419.1,146.3 421.5,146.7 423.8,147.0 426.2,147.3 428.6,147.6 431.0,147.9 433.3,148.1 435.7,148.3 438.1,148.5 440.4,148.6 442.8,148.8 445.2,148.9 447.5,149.0 449.9,149.1 452.3,149.2 454.7,149.3" stroke="#5a5a5a" stroke-width="1.2" stroke-opacity="0.5"/>
<path d="M283.5,149.7L284.0,149.7 284.5,149.7 285.1,149.7 285.6,149.7 286.1,149.7 286.6,149.6 287.1,149.6 287.7,149.5 288.2,149.3 288.7,148.9 289.2,148.3 289.8,147.2 290.3,145.3 290.8,142.1 291.3,137.6 291.8,132.1 292.4,126.1 292.9,119.3 293.4,111.8 293.9,103.9 294.5,96.0 295.0,88.5 295.5,82.2 296.0,77.6 296.5,75.1 297.1,74.5 297.6,75.2 298.1,77.0 298.6,79.6 299.2,82.7 299.7,86.1 300.2,89.5 300.7,92.6 301.2,95.3 301.8,97.6 302.3,99.6 302.8,101.2 303.3,102.5 303.8,103.6 304.4,104.6 304.9,105.5 305.4,106.4 305.9,107.2 306.5,108.1 307.0,109.0 307.5,109.9 308.0,110.8 308.5,111.8 309.1,112.7 309.6,113.6 310.1,114.4 310.6,115.1 311.2,115.8 311.7,116.5 312.2,117.1 312.7,117.6 313.2,118.1 313.8,118.6 314.3,119.0 314.8,119.4 317.2,120.7 319.6,121.5 321.9,122.1 324.3,122.4 326.7,122.4 329.0,122.2 331.4,121.7 333.8,120.8 336.1,119.7 338.5,118.4 340.9,116.9 343.3,115.6 345.6,114.4 348.0,113.7 350.4,113.5 352.7,114.0 355.1,115.0 357.5,116.1 359.8,117.1 362.2,118.1 364.6,119.2 367.0,120.2 369.3,121.3 371.7,122.4 374.1,123.5 376.4,124.6 378.8,125.7 381.2,126.8 383.6,128.0 385.9,129.1 388.3,130.2 390.7,131.4 393.0,132.5 395.4,133.6 397.8,134.7 400.1,135.8 402.5,136.8 404.9,137.8 407.3,138.7 409.6,139.7 412.0,140.5 414.4,141.4 416.7,142.2 419.1,142.9 421.5,143.6 423.8,144.2 426.2,144.8 428.6,145.3 431.0,145.8 433.3,146.3 435.7,146.7 438.1,147.1 440.4,147.4 442.8,147.7 445.2,148.0 447.5,148.2 449.9,148.4 452.3,148.6 454.7,148.8" stroke="#5a5a5a" stroke-width="1.2" stroke-opacity="0.5"/>
<path d="M283.5,149.7L284.0,149.7 284.5,149.7 285.1,149.7 285.6,149.7 286.1,149.6 286.6,149.6 287.1,149.5 287.7,149.3 288.2,148.9 288.7,148.3 289.2,147.2 289.8,145.4 290.3,142.4 290.8,137.6 291.3,130.8 291.8,122.5 292.4,113.1 292.9,102.5 293.4,90.9 293.9,78.6 294.5,66.5 295.0,55.5 295.5,46.4 296.0,40.2 296.5,37.4 297.1,37.3 297.6,39.2 298.1,42.7 298.6,47.4 299.2,52.9 299.7,58.6 300.2,64.1 300.7,69.3 301.2,73.8 301.8,77.7 302.3,80.9 302.8,83.6 303.3,85.9 303.8,87.8 304.4,89.6 304.9,91.2 305.4,92.7 305.9,94.3 306.5,95.8 307.0,97.3 307.5,98.8 308.0,100.3 308.5,101.8 309.1,103.2 309.6,104.6 310.1,105.9 310.6,107.1 311.2,108.2 311.7,109.2 312.2,110.1 312.7,110.9 313.2,111.7 313.8,112.4 314.3,113.1 314.8,113.6 317.2,115.7 319.6,117.1 321.9,118.1 324.3,119.0 326.7,119.7 329.0,120.2 331.4,120.5 333.8,120.5 336.1,120.2 338.5,119.5 340.9,118.6 343.3,117.4 345.6,116.2 348.0,115.0 350.4,114.1 352.7,113.6 355.1,113.6 357.5,114.3 359.8,115.4 362.2,116.5 364.6,117.5 367.0,118.6 369.3,119.7 371.7,120.8 374.1,121.8 376.4,122.9 378.8,124.1 381.2,125.2 383.6,126.3 385.9,127.4 388.3,128.6 390.7,129.7 393.0,130.8 395.4,132.0 397.8,133.1 400.1,134.2 402.5,135.2 404.9,136.3 407.3,137.3 409.6,138.2 412.0,139.2 414.4,140.1 416.7,140.9 419.1,141.7 421.5,142.5 423.8,143.2 426.2,143.9 428.6,144.5 431.0,145.0 433.3,145.6 435.7,146.0 438.1,146.5 440.4,146.9 442.8,147.2 445.2,147.5 447.5,147.8 449.9,148.1 452.3,148.3 454.7,148.5" stroke="#5a5a5a" stroke-width="1.2" stroke-opacity="0.5"/>
<path d="M283.5,149.7L284.0,149.7 284.5,149.7 285.1,149.7 285.6,149.7 286.1,149.7 286.6,149.7 287.1,149.7 287.7,149.6 288.2,149.5 288.7,149.4 289.2,149.1 289.8,148.6 290.3,147.6 290.8,145.8 291.3,143.0 291.8,139.7 292.4,135.9 292.9,131.4 293.4,126.2 293.9,120.1 294.5,113.5 295.0,106.6 295.5,100.0 296.0,94.1 296.5,89.4 297.1,86.5 297.6,85.4 298.1,85.6 298.6,86.8 299.2,88.9 299.7,91.5 300.2,94.5 300.7,97.6 301.2,100.5 301.8,103.2 302.3,105.5 302.8,107.5 303.3,109.1 303.8,110.5 304.4,111.6 304.9,112.6 305.4,113.6 305.9,114.4 306.5,115.3 307.0,116.1 307.5,116.9 308.0,117.7 308.5,118.6 309.1,119.4 309.6,120.1 310.1,120.8 310.6,121.4 311.2,122.0 311.7,122.5 312.2,122.9 312.7,123.3 313.2,123.6 313.8,123.8 314.3,124.0 314.8,124.2 317.2,124.3 319.6,123.6 321.9,122.2 324.3,120.4 326.7,118.2 329.0,115.8 331.4,113.4 333.8,111.2 336.1,109.3 338.5,108.2 340.9,107.9 343.3,108.5 345.6,109.5 348.0,110.7 350.4,111.9 352.7,113.2 355.1,114.6 357.5,116.0 359.8,117.4 362.2,118.9 364.6,120.4 367.0,121.9 369.3,123.4 371.7,124.9 374.1,126.4 376.4,127.9 378.8,129.4 381.2,130.8 383.6,132.2 385.9,133.5 388.3,134.8 390.7,136.0 393.0,137.2 395.4,138.3 397.8,139.4 400.1,140.3 402.5,141.3 404.9,142.1 407.3,142.9 409.6,143.7 412.0,144.4 414.4,145.0 416.7,145.5 419.1,146.1 421.5,146.5 423.8,146.9 426.2,147.3 428.6,147.6 431.0,147.9 433.3,148.2 435.7,148.4 438.1,148.6 440.4,148.8 442.8,148.9 445.2,149.0 447.5,149.2 449.9,149.2 452.3,149.3 454.7,149.4" stroke="#5a5a5a" stroke-width="1.2" stroke-opacity="0.5"/>
<path d="M283.5,149.7L284.0,149.7 284.5,149.7 285.1,149.7 285.6,149.7 286.1,149.6 286.6,149.6 287.1,149.4 287.7,149.2 288.2,148.7 288.7,147.9 289.2,146.6 289.8,144.5 290.3,141.0 290.8,135.5 291.3,127.7 291.8,118.4 292.4,108.1 292.9,96.8 293.4,84.6 293.9,72.1 294.5,60.1 295.0,49.5 295.5,41.2 296.0,36.1 296.5,34.3 297.1,34.8 297.6,37.2 298.1,41.1 298.6,46.0 299.2,51.4 299.7,56.9 300.2,62.2 300.7,67.0 301.2,71.1 301.8,74.5 302.3,77.4 302.8,79.7 303.3,81.7 303.8,83.4 304.4,85.0 304.9,86.4 305.4,87.8 305.9,89.2 306.5,90.6 307.0,92.0 307.5,93.5 308.0,94.9 308.5,96.4 309.1,97.9 309.6,99.2 310.1,100.5 310.6,101.6 311.2,102.7 311.7,103.7 312.2,104.6 312.7,105.5 313.2,106.2 313.8,106.9 314.3,107.6 314.8,108.2 317.2,110.3 319.6,111.9 321.9,113.2 324.3,114.4 326.7,115.3 329.0,116.0 331.4,116.4 333.8,116.5 336.1,116.2 338.5,115.6 340.9,114.9 343.3,114.3 345.6,114.0 348.0,114.4 350.4,115.5 352.7,117.2 355.1,118.7 357.5,120.3 359.8,121.8 362.2,123.2 364.6,124.6 367.0,126.0 369.3,127.3 371.7,128.5 374.1,129.7 376.4,130.9 378.8,132.1 381.2,133.2 383.6,134.2 385.9,135.3 388.3,136.3 390.7,137.2 393.0,138.1 395.4,139.0 397.8,139.9 400.1,140.7 402.5,141.5 404.9,142.2 407.3,142.9 409.6,143.5 412.0,144.2 414.4,144.7 416.7,145.2 419.1,145.7 421.5,146.2 423.8,146.6 426.2,147.0 428.6,147.3 431.0,147.6 433.3,147.9 435.7,148.1 438.1,148.3 440.4,148.5 442.8,148.7 445.2,148.8 447.5,149.0 449.9,149.1 452.3,149.2 454.7,149.3" stroke="#5a5a5a" stroke-width="1.2" stroke-opacity="0.5"/>
<path d="M283.5,149.7L284.0,149.7 284.5,149.7 285.1,149.7 285.6,149.7 286.1,149.6 286.6,149.6 287.1,149.5 287.7,149.3 288.2,148.9 288.7,148.2 289.2,147.1 289.8,145.2 290.3,142.1 290.8,137.0 291.3,129.8 291.8,121.1 292.4,111.4 292.9,100.4 293.4,88.5 293.9,76.0 294.5,63.6 295.0,52.4 295.5,43.3 296.0,37.0 296.5,34.2 297.1,34.2 297.6,36.1 298.1,39.6 298.6,44.3 299.2,49.7 299.7,55.4 300.2,60.9 300.7,66.0 301.2,70.4 301.8,74.2 302.3,77.4 302.8,80.0 303.3,82.2 303.8,84.1 304.4,85.8 304.9,87.3 305.4,88.8 305.9,90.3 306.5,91.8 307.0,93.3 307.5,94.8 308.0,96.3 308.5,97.8 309.1,99.3 309.6,100.6 310.1,101.9 310.6,103.1 311.2,104.2 311.7,105.2 312.2,106.1 312.7,107.0 313.2,107.7 313.8,108.4 314.3,109.1 314.8,109.6 317.2,111.5 319.6,112.7 321.9,113.5 324.3,113.9 326.7,114.0 329.0,113.8 331.4,113.3 333.8,112.6 336.1,111.8 338.5,111.1 340.9,110.7 343.3,110.8 345.6,111.6 348.0,113.2 350.4,114.9 352.7,116.7 355.1,118.4 357.5,120.2 359.8,121.9 362.2,123.6 364.6,125.2 367.0,126.8 369.3,128.4 371.7,130.0 374.1,131.4 376.4,132.9 378.8,134.2 381.2,135.5 383.6,136.8 385.9,137.9 388.3,139.0 390.7,140.1 393.0,141.1 395.4,142.0 397.8,142.8 400.1,143.6 402.5,144.3 404.9,144.9 407.3,145.5 409.6,146.1 412.0,146.6 414.4,147.0 416.7,147.4 419.1,147.7 421.5,148.0 423.8,148.3 426.2,148.5 428.6,148.7 431.0,148.8 433.3,149.0 435.7,149.1 438.1,149.2 440.4,149.3 442.8,149.4 445.2,149.4 447.5,149.5 449.9,149.5 452.3,149.6 454.7,149.6" stroke="#5a5a5a" stroke-width="1.2" stroke-opacity="0.5"/>
<path d="M283.5,149.7L284.0,149.7 284.5,149.7 285.1,149.7 285.6,149.7 286.1,149.7 286.6,149.7 287.1,149.6 287.7,149.5 288.2,149.4 288.7,149.1 289.2,148.6 289.8,147.7 290.3,145.8 290.8,142.6 291.3,137.7 291.8,132.0 292.4,125.6 292.9,118.5 293.4,110.4 293.9,101.4 294.5,91.8 295.0,82.3 295.5,73.4 296.0,66.0 296.5,60.7 297.1,57.8 297.6,57.1 298.1,57.9 298.6,60.0 299.2,63.0 299.7,66.5 300.2,70.3 300.7,74.1 301.2,77.5 301.8,80.6 302.3,83.1 302.8,85.2 303.3,86.9 303.8,88.3 304.4,89.5 304.9,90.6 305.4,91.6 305.9,92.6 306.5,93.5 307.0,94.5 307.5,95.6 308.0,96.7 308.5,97.8 309.1,98.9 309.6,99.9 310.1,100.9 310.6,101.8 311.2,102.7 311.7,103.4 312.2,104.1 312.7,104.8 313.2,105.3 313.8,105.8 314.3,106.3 314.8,106.7 317.2,108.0 319.6,108.6 321.9,108.7 324.3,108.4 326.7,107.9 329.0,107.2 331.4,106.3 333.8,105.5 336.1,104.8 338.5,104.4 340.9,104.5 343.3,105.3 345.6,106.7 348.0,108.5 350.4,110.4 352.7,112.1 355.1,113.9 357.5,115.6 359.8,117.3 362.2,119.0 364.6,120.6 367.0,122.2 369.3,123.8 371.7,125.4 374.1,126.9 376.4,128.4 378.8,129.8 381.2,131.2 383.6,132.6 385.9,133.9 388.3,135.2 390.7,136.5 393.0,137.6 395.4,138.7 397.8,139.8 400.1,140.8 402.5,141.7 404.9,142.6 407.3,143.4 409.6,144.1 412.0,144.8 414.4,145.4 416.7,145.9 419.1,146.4 421.5,146.9 423.8,147.3 426.2,147.6 428.6,147.9 431.0,148.2 433.3,148.4 435.7,148.6 438.1,148.8 440.4,149.0 442.8,149.1 445.2,149.2 447.5,149.3 449.9,149.4 452.3,149.4 454.7,149.5" stroke="#5a5a5a" stroke-width="1.2" stroke-opacity="0.5"/>
<path d="M283.5,149.7L284.0,149.7 284.5,149.7 285.1,149.7 285.6,149.7 286.1,149.7 286.6,149.7 287.1,149.7 287.7,149.7 288.2,149.6 288.7,149.6 289.2,149.4 289.8,149.1 290.3,148.5 290.8,147.1 291.3,145.0 291.8,142.6 292.4,140.2 292.9,137.7 293.4,134.8 293.9,131.5 294.5,127.8 295.0,123.8 295.5,119.8 296.0,116.1 296.5,112.8 297.1,110.3 297.6,108.7 298.1,108.0 298.6,107.8 299.2,108.2 299.7,109.0 300.2,110.0 300.7,111.1 301.2,112.3 301.8,113.3 302.3,114.2 302.8,114.9 303.3,115.5 303.8,116.0 304.4,116.3 304.9,116.6 305.4,116.9 305.9,117.2 306.5,117.5 307.0,117.8 307.5,118.2 308.0,118.6 308.5,119.1 309.1,119.5 309.6,120.0 310.1,120.4 310.6,120.8 311.2,121.2 311.7,121.6 312.2,121.9 312.7,122.2 313.2,122.5 313.8,122.8 314.3,123.1 314.8,123.3 317.2,124.1 319.6,124.6 321.9,124.8 324.3,124.5 326.7,123.9 329.0,122.8 331.4,121.2 333.8,119.4 336.1,117.5 338.5,115.6 340.9,114.3 343.3,113.6 345.6,113.9 348.0,114.9 350.4,116.1 352.7,117.3 355.1,118.5 357.5,119.7 359.8,120.9 362.2,122.2 364.6,123.5 367.0,124.8 369.3,126.1 371.7,127.4 374.1,128.7 376.4,130.1 378.8,131.4 381.2,132.7 383.6,133.9 385.9,135.2 388.3,136.4 390.7,137.5 393.0,138.6 395.4,139.7 397.8,140.7 400.1,141.6 402.5,142.5 404.9,143.3 407.3,144.1 409.6,144.7 412.0,145.4 414.4,145.9 416.7,146.4 419.1,146.9 421.5,147.3 423.8,147.6 426.2,148.0 428.6,148.2 431.0,148.5 433.3,148.7 435.7,148.8 438.1,149.0 440.4,149.1 442.8,149.2 445.2,149.3 447.5,149.4 449.9,149.4 452.3,149.5 454.7,149.5" stroke="#5a5a5a" stroke-width="1.2" stroke-opacity="0.5"/>
<path d="M283.5,149.7L284.0,149.7 284.5,149.7 285.1,149.7 285.6,149.7 286.1,149.6 286.6,149.5 287.1,149.4 287.7,149.0 288.2,148.5 288.7,147.6 289.2,146.1 289.8,143.6 290.3,139.7 290.8,133.7 291.3,125.3 291.8,115.1 292.4,103.7 292.9,91.0 293.4,77.3 293.9,63.4 294.5,50.1 295.0,38.6 295.5,29.8 296.0,24.7 296.5,23.3 297.1,24.4 297.6,27.6 298.1,32.5 298.6,38.4 299.2,44.9 299.7,51.5 300.2,57.7 300.7,63.3 301.2,68.1 301.8,72.2 302.3,75.6 302.8,78.4 303.3,80.8 303.8,82.9 304.4,84.7 304.9,86.4 305.4,88.0 305.9,89.6 306.5,91.1 307.0,92.7 307.5,94.1 308.0,95.6 308.5,97.1 309.1,98.4 309.6,99.7 310.1,100.8 310.6,101.8 311.2,102.7 311.7,103.5 312.2,104.2 312.7,104.7 313.2,105.2 313.8,105.6 314.3,105.9 314.8,106.1 317.2,106.3 319.6,105.5 321.9,104.3 324.3,103.0 326.7,101.8 329.0,101.2 331.4,101.1 333.8,101.9 336.1,103.6 338.5,105.7 340.9,107.9 343.3,110.1 345.6,112.3 348.0,114.5 350.4,116.7 352.7,118.8 355.1,120.9 357.5,122.9 359.8,124.8 362.2,126.7 364.6,128.5 367.0,130.2 369.3,131.9 371.7,133.4 374.1,134.9 376.4,136.3 378.8,137.6 381.2,138.9 383.6,140.0 385.9,141.1 388.3,142.1 390.7,143.0 393.0,143.8 395.4,144.6 397.8,145.3 400.1,145.9 402.5,146.4 404.9,146.9 407.3,147.3 409.6,147.7 412.0,148.0 414.4,148.3 416.7,148.5 419.1,148.7 421.5,148.9 423.8,149.1 426.2,149.2 428.6,149.3 431.0,149.4 433.3,149.4 435.7,149.5 438.1,149.5 440.4,149.6 442.8,149.6 445.2,149.6 447.5,149.6 449.9,149.7 452.3,149.7 454.7,149.7" stroke="#5a5a5a" stroke-width="1.2" stroke-opacity="0.5"/>
<path d="M283.5,149.7L284.0,149.7 284.5,149.7 285.1,149.7 285.6,149.7 286.1,149.7 286.6,149.6 287.1,149.6 287.7,149.5 288.2,149.3 288.7,148.9 289.2,148.2 289.8,147.0 290.3,145.0 290.8,141.8 291.3,137.0 291.8,131.0 292.4,123.8 292.9,115.5 293.4,105.8 293.9,95.1 294.5,83.9 295.0,73.0 295.5,63.3 296.0,55.6 296.5,50.7 297.1,49.0 297.6,49.6 298.1,51.9 298.6,55.7 299.2,60.6 299.7,66.0 300.2,71.6 300.7,77.1 301.2,82.1 301.8,86.5 302.3,90.3 302.8,93.5 303.3,96.2 303.8,98.5 304.4,100.6 304.9,102.4 305.4,104.1 305.9,105.8 306.5,107.4 307.0,108.9 307.5,110.5 308.0,112.0 308.5,113.5 309.1,114.9 309.6,116.3 310.1,117.5 310.6,118.7 311.2,119.8 311.7,120.8 312.2,121.8 312.7,122.6 313.2,123.4 313.8,124.1 314.3,124.7 314.8,125.3 317.2,127.4 319.6,128.8 321.9,129.8 324.3,130.6 326.7,131.2 329.0,131.5 331.4,131.5 333.8,131.1 336.1,130.2 338.5,128.7 340.9,126.9 343.3,124.8 345.6,122.5 348.0,120.5 350.4,118.8 352.7,117.9 355.1,117.9 357.5,118.6 359.8,119.3 362.2,120.0 364.6,120.8 367.0,121.6 369.3,122.5 371.7,123.4 374.1,124.4 376.4,125.4 378.8,126.4 381.2,127.5 383.6,128.5 385.9,129.7 388.3,130.8 390.7,131.9 393.0,133.0 395.4,134.1 397.8,135.2 400.1,136.3 402.5,137.4 404.9,138.4 407.3,139.3 409.6,140.3 412.0,141.2 414.4,142.0 416.7,142.8 419.1,143.5 421.5,144.2 423.8,144.8 426.2,145.3 428.6,145.9 431.0,146.3 433.3,146.8 435.7,147.1 438.1,147.5 440.4,147.8 442.8,148.1 445.2,148.3 447.5,148.5 449.9,148.7 452.3,148.8 454.7,149.0" stroke="#5a5a5a" stroke-width="1.2" stroke-opacity="0.5"/>
<path d="M283.5,149.7L284.0,149.7 284.5,149.7 285.1,149.7 285.6,149.7 286.1,149.7 286.6,149.7 287.1,149.6 287.7,149.5 288.2,149.4 288.7,149.1 289.2,148.5 289.8,147.5 290.3,145.8 290.8,142.8 291.3,138.3 291.8,132.8 292.4,126.3 292.9,118.8 293.4,110.0 293.9,100.1 294.5,89.6 295.0,79.1 295.5,69.5 296.0,61.4 296.5,55.8 297.1,53.0 297.6,52.8 298.1,54.3 298.6,57.3 299.2,61.3 299.7,66.1 300.2,71.1 300.7,76.1 301.2,80.7 301.8,84.8 302.3,88.4 302.8,91.4 303.3,93.9 303.8,96.1 304.4,97.9 304.9,99.6 305.4,101.1 305.9,102.6 306.5,104.1 307.0,105.5 307.5,106.9 308.0,108.3 308.5,109.7 309.1,111.1 309.6,112.4 310.1,113.6 310.6,114.7 311.2,115.8 311.7,116.7 312.2,117.6 312.7,118.4 313.2,119.2 313.8,119.9 314.3,120.5 314.8,121.1 317.2,123.1 319.6,124.4 321.9,125.4 324.3,126.3 326.7,127.0 329.0,127.6 331.4,128.0 333.8,128.1 336.1,127.9 338.5,127.3 340.9,126.2 343.3,124.8 345.6,123.0 348.0,121.2 350.4,119.5 352.7,118.1 355.1,117.3 357.5,117.3 359.8,118.0 362.2,118.9 364.6,119.8 367.0,120.7 369.3,121.7 371.7,122.7 374.1,123.7 376.4,124.7 378.8,125.7 381.2,126.8 383.6,127.9 385.9,129.0 388.3,130.1 390.7,131.2 393.0,132.3 395.4,133.4 397.8,134.4 400.1,135.5 402.5,136.5 404.9,137.5 407.3,138.5 409.6,139.4 412.0,140.3 414.4,141.1 416.7,141.9 419.1,142.7 421.5,143.4 423.8,144.0 426.2,144.6 428.6,145.2 431.0,145.7 433.3,146.2 435.7,146.6 438.1,147.0 440.4,147.3 442.8,147.6 445.2,147.9 447.5,148.2 449.9,148.4 452.3,148.6 454.7,148.7" stroke="#5a5a5a" stroke-width="1.2" stroke-opacity="0.5"/>
<path d="M283.5,149.7L284.0,149.7 284.5,149.7 285.1,149.7 285.6,149.7 286.1,149.6 286.6,149.6 287.1,149.4 287.7,149.2 288.2,148.7 288.7,148.0 289.2,146.7 289.8,144.7 290.3,141.6 290.8,136.8 291.3,130.1 291.8,121.9 292.4,112.4 292.9,101.6 293.4,89.8 293.9,77.7 294.5,66.0 295.0,55.7 295.5,47.8 296.0,43.0 296.5,41.7 297.1,42.7 297.6,45.7 298.1,50.1 298.6,55.7 299.2,61.8 299.7,68.0 300.2,74.0 300.7,79.4 301.2,84.2 301.8,88.3 302.3,91.8 302.8,94.7 303.3,97.2 303.8,99.4 304.4,101.3 304.9,103.1 305.4,104.9 305.9,106.5 306.5,108.1 307.0,109.7 307.5,111.2 308.0,112.7 308.5,114.1 309.1,115.5 309.6,116.7 310.1,117.8 310.6,118.9 311.2,119.8 311.7,120.6 312.2,121.3 312.7,121.9 313.2,122.4 313.8,122.9 314.3,123.3 314.8,123.5 317.2,124.0 319.6,123.5 321.9,122.4 324.3,120.8 326.7,118.9 329.0,116.8 331.4,114.8 333.8,112.9 336.1,111.5 338.5,110.6 340.9,110.5 343.3,111.2 345.6,112.2 348.0,113.3 350.4,114.6 352.7,115.9 355.1,117.3 357.5,118.7 359.8,120.3 362.2,121.8 364.6,123.4 367.0,124.9 369.3,126.5 371.7,128.0 374.1,129.6 376.4,131.1 378.8,132.5 381.2,134.0 383.6,135.3 385.9,136.6 388.3,137.8 390.7,139.0 393.0,140.1 395.4,141.1 397.8,142.1 400.1,142.9 402.5,143.7 404.9,144.4 407.3,145.1 409.6,145.7 412.0,146.2 414.4,146.7 416.7,147.1 419.1,147.5 421.5,147.8 423.8,148.1 426.2,148.4 428.6,148.6 431.0,148.8 433.3,148.9 435.7,149.1 438.1,149.2 440.4,149.3 442.8,149.4 445.2,149.4 447.5,149.5 449.9,149.5 452.3,149.6 454.7,149.6" stroke="#5a5a5a" stroke-width="1.2" stroke-opacity="0.5"/>
<path d="M283.5,149.7L284.0,149.7 284.5,149.7 285.1,149.7 285.6,149.7 286.1,149.6 286.6,149.6 287.1,149.4 287.7,149.2 288.2,148.8 288.7,148.1 289.2,146.9 289.8,145.0 290.3,142.0 290.8,137.2 291.3,130.6 291.8,122.7 292.4,113.8 292.9,103.9 293.4,93.4 293.9,82.7 294.5,72.4 295.0,63.5 295.5,56.7 296.0,52.7 296.5,51.6 297.1,52.4 297.6,54.8 298.1,58.5 298.6,63.0 299.2,67.9 299.7,72.9 300.2,77.6 300.7,81.8 301.2,85.5 301.8,88.6 302.3,91.2 302.8,93.4 303.3,95.2 303.8,96.8 304.4,98.2 304.9,99.6 305.4,100.9 305.9,102.2 306.5,103.4 307.0,104.7 307.5,106.0 308.0,107.3 308.5,108.5 309.1,109.8 309.6,110.9 310.1,112.0 310.6,113.0 311.2,113.9 311.7,114.8 312.2,115.6 312.7,116.3 313.2,116.9 313.8,117.5 314.3,118.1 314.8,118.6 317.2,120.3 319.6,121.5 321.9,122.4 324.3,123.0 326.7,123.4 329.0,123.4 331.4,123.2 333.8,122.6 336.1,121.9 338.5,121.0 340.9,120.3 343.3,119.8 345.6,119.9 348.0,120.6 350.4,121.8 352.7,123.0 355.1,124.2 357.5,125.4 359.8,126.6 362.2,127.7 364.6,128.8 367.0,129.9 369.3,131.0 371.7,132.1 374.1,133.2 376.4,134.2 378.8,135.3 381.2,136.3 383.6,137.3 385.9,138.2 388.3,139.1 390.7,140.0 393.0,140.9 395.4,141.7 397.8,142.5 400.1,143.2 402.5,143.9 404.9,144.5 407.3,145.1 409.6,145.6 412.0,146.1 414.4,146.6 416.7,147.0 419.1,147.4 421.5,147.7 423.8,148.0 426.2,148.2 428.6,148.4 431.0,148.6 433.3,148.8 435.7,149.0 438.1,149.1 440.4,149.2 442.8,149.3 445.2,149.4 447.5,149.4 449.9,149.5 452.3,149.5 454.7,149.6" stroke="#5a5a5a" stroke-width="1.2" stroke-opacity="0.5"/>
<path d="M283.5,149.7L284.0,149.7 284.5,149.7 285.1,149.7 285.6,149.7 286.1,149.7 286.6,149.7 287.1,149.6 287.7,149.5 288.2,149.4 288.7,149.1 289.2,148.5 289.8,147.6 290.3,145.9 290.8,143.0 291.3,138.8 291.8,133.7 292.4,128.1 292.9,121.7 293.4,114.7 293.9,107.0 294.5,99.1 295.0,91.5 295.5,84.7 296.0,79.4 296.5,76.1 297.1,74.8 297.6,75.0 298.1,76.3 298.6,78.5 299.2,81.4 299.7,84.6 300.2,87.8 300.7,90.9 301.2,93.7 301.8,96.1 302.3,98.2 302.8,99.8 303.3,101.2 303.8,102.3 304.4,103.3 304.9,104.2 305.4,105.1 305.9,105.9 306.5,106.8 307.0,107.7 307.5,108.6 308.0,109.5 308.5,110.5 309.1,111.5 309.6,112.4 310.1,113.2 310.6,114.0 311.2,114.8 311.7,115.5 312.2,116.1 312.7,116.8 313.2,117.3 313.8,117.9 314.3,118.4 314.8,118.8 317.2,120.6 319.6,122.0 321.9,123.3 324.3,124.4 326.7,125.4 329.0,126.2 331.4,126.6 333.8,126.6 336.1,126.1 338.5,125.1 340.9,123.7 343.3,121.9 345.6,120.1 348.0,118.5 350.4,117.3 352.7,116.9 355.1,117.4 357.5,118.3 359.8,119.2 362.2,120.1 364.6,121.0 367.0,121.9 369.3,122.9 371.7,123.9 374.1,124.9 376.4,126.0 378.8,127.0 381.2,128.1 383.6,129.3 385.9,130.4 388.3,131.5 390.7,132.6 393.0,133.8 395.4,134.9 397.8,136.0 400.1,137.0 402.5,138.1 404.9,139.0 407.3,140.0 409.6,140.9 412.0,141.7 414.4,142.5 416.7,143.3 419.1,144.0 421.5,144.6 423.8,145.2 426.2,145.7 428.6,146.2 431.0,146.7 433.3,147.1 435.7,147.4 438.1,147.7 440.4,148.0 442.8,148.3 445.2,148.5 447.5,148.7 449.9,148.8 452.3,149.0 454.7,149.1" stroke="#5a5a5a" stroke-width="1.2" stroke-opacity="0.5"/>
<path d="M283.5,149.7L284.0,149.7 284.5,149.7 285.1,149.7 285.6,149.7 286.1,149.7 286.6,149.6 287.1,149.5 287.7,149.3 288.2,149.0 288.7,148.4 289.2,147.4 289.8,145.8 290.3,143.2 290.8,139.2 291.3,133.4 291.8,126.3 292.4,118.1 292.9,108.8 293.4,98.5 293.9,87.6 294.5,77.0 295.0,67.3 295.5,59.4 296.0,54.2 296.5,52.0 297.1,52.2 297.6,54.2 298.1,57.7 298.6,62.2 299.2,67.4 299.7,72.8 300.2,78.0 300.7,82.9 301.2,87.2 301.8,90.9 302.3,94.0 302.8,96.6 303.3,98.9 303.8,100.8 304.4,102.6 304.9,104.2 305.4,105.7 305.9,107.2 306.5,108.6 307.0,110.1 307.5,111.5 308.0,112.8 308.5,114.2 309.1,115.5 309.6,116.7 310.1,117.9 310.6,118.9 311.2,119.9 311.7,120.8 312.2,121.6 312.7,122.3 313.2,122.9 313.8,123.5 314.3,124.0 314.8,124.5 317.2,126.0 319.6,126.7 321.9,127.0 324.3,126.8 326.7,126.3 329.0,125.4 331.4,124.1 333.8,122.4 336.1,120.6 338.5,118.7 340.9,117.1 343.3,116.0 345.6,115.7 348.0,116.3 350.4,117.4 352.7,118.5 355.1,119.6 357.5,120.8 359.8,122.0 362.2,123.2 364.6,124.4 367.0,125.7 369.3,126.9 371.7,128.2 374.1,129.4 376.4,130.6 378.8,131.8 381.2,133.0 383.6,134.2 385.9,135.3 388.3,136.4 390.7,137.4 393.0,138.4 395.4,139.4 397.8,140.3 400.1,141.2 402.5,142.0 404.9,142.8 407.3,143.5 409.6,144.1 412.0,144.7 414.4,145.3 416.7,145.8 419.1,146.3 421.5,146.7 423.8,147.1 426.2,147.4 428.6,147.7 431.0,148.0 433.3,148.2 435.7,148.4 438.1,148.6 440.4,148.8 442.8,148.9 445.2,149.1 447.5,149.2 449.9,149.3 452.3,149.3 454.7,149.4" stroke="#5a5a5a" stroke-width="1.2" stroke-opacity="0.5"/>
<path d="M283.5,149.7L284.0,149.7 284.5,149.7 285.1,149.7 285.6,149.7 286.1,149.7 286.6,149.6 287.1,149.5 287.7,149.3 288.2,149.0 288.7,148.4 289.2,147.5 289.8,145.8 290.3,143.2 290.8,139.0 291.3,133.0 291.8,125.5 292.4,116.5 292.9,105.9 293.4,93.9 293.9,81.0 294.5,67.9 295.0,55.6 295.5,45.2 296.0,37.5 296.5,33.5 297.1,33.0 297.6,34.9 298.1,38.7 298.6,44.0 299.2,50.4 299.7,57.2 300.2,64.0 300.7,70.5 301.2,76.3 301.8,81.4 302.3,85.7 302.8,89.4 303.3,92.6 303.8,95.3 304.4,97.8 304.9,100.0 305.4,102.0 305.9,104.0 306.5,105.9 307.0,107.8 307.5,109.6 308.0,111.4 308.5,113.2 309.1,114.8 309.6,116.4 310.1,117.8 310.6,119.2 311.2,120.4 311.7,121.5 312.2,122.6 312.7,123.5 313.2,124.3 313.8,125.1 314.3,125.8 314.8,126.4 317.2,128.5 319.6,129.7 321.9,130.4 324.3,130.8 326.7,130.9 329.0,130.7 331.4,130.1 333.8,129.1 336.1,127.8 338.5,126.2 340.9,124.5 343.3,123.0 345.6,121.9 348.0,121.4 350.4,121.7 352.7,122.6 355.1,123.5 357.5,124.4 359.8,125.4 362.2,126.3 364.6,127.4 367.0,128.4 369.3,129.4 371.7,130.5 374.1,131.6 376.4,132.6 378.8,133.7 381.2,134.7 383.6,135.8 385.9,136.8 388.3,137.8 390.7,138.8 393.0,139.7 395.4,140.6 397.8,141.5 400.1,142.3 402.5,143.0 404.9,143.7 407.3,144.4 409.6,145.0 412.0,145.6 414.4,146.1 416.7,146.5 419.1,146.9 421.5,147.3 423.8,147.7 426.2,147.9 428.6,148.2 431.0,148.4 433.3,148.6 435.7,148.8 438.1,149.0 440.4,149.1 442.8,149.2 445.2,149.3 447.5,149.4 449.9,149.4 452.3,149.5 454.7,149.5" stroke="#5a5a5a" stroke-width="1.2" stroke-opacity="0.5"/>
<path d="M283.5,149.7L284.0,149.7 284.5,149.7 285.1,149.7 285.6,149.7 286.1,149.6 286.6,149.5 287.1,149.3 287.7,148.9 288.2,148.3 288.7,147.3 289.2,145.6 289.8,143.0 290.3,139.0 290.8,132.9 291.3,124.6 291.8,114.6 292.4,103.4 292.9,91.1 293.4,78.1 293.9,65.1 294.5,53.2 295.0,43.2 295.5,36.1 296.0,32.7 296.5,32.5 297.1,34.4 297.6,38.1 298.1,43.3 298.6,49.3 299.2,55.6 299.7,61.9 300.2,67.8 300.7,73.0 301.2,77.5 301.8,81.2 302.3,84.4 302.8,87.1 303.3,89.4 303.8,91.4 304.4,93.3 304.9,95.0 305.4,96.7 305.9,98.3 306.5,99.9 307.0,101.5 307.5,103.1 308.0,104.7 308.5,106.2 309.1,107.7 309.6,109.0 310.1,110.3 310.6,111.4 311.2,112.5 311.7,113.4 312.2,114.3 312.7,115.1 313.2,115.8 313.8,116.4 314.3,116.9 314.8,117.4 317.2,118.9 319.6,119.6 321.9,119.8 324.3,119.7 326.7,119.2 329.0,118.5 331.4,117.6 333.8,116.5 336.1,115.4 338.5,114.4 340.9,113.8 343.3,113.6 345.6,114.1 348.0,115.3 350.4,116.7 352.7,118.1 355.1,119.5 357.5,121.0 359.8,122.5 362.2,124.0 364.6,125.5 367.0,127.1 369.3,128.5 371.7,130.0 374.1,131.4 376.4,132.8 378.8,134.2 381.2,135.5 383.6,136.7 385.9,137.9 388.3,139.0 390.7,140.1 393.0,141.1 395.4,142.0 397.8,142.8 400.1,143.6 402.5,144.3 404.9,145.0 407.3,145.6 409.6,146.1 412.0,146.6 414.4,147.0 416.7,147.4 419.1,147.8 421.5,148.1 423.8,148.3 426.2,148.5 428.6,148.7 431.0,148.9 433.3,149.0 435.7,149.1 438.1,149.2 440.4,149.3 442.8,149.4 445.2,149.5 447.5,149.5 449.9,149.5 452.3,149.6 454.7,149.6" stroke="#5a5a5a" stroke-width="1.2" stroke-opacity="0.5"/>
<path d="M283.5,149.7L284.0,149.7 284.5,149.7 285.1,149.7 285.6,149.7 286.1,149.7 286.6,149.7 287.1,149.7 287.7,149.6 288.2,149.5 288.7,149.3 289.2,149.0 289.8,148.3 290.3,146.9 290.8,144.3 291.3,140.4 291.8,135.8 292.4,131.2 292.9,126.1 293.4,120.4 293.9,114.1 294.5,107.4 295.0,100.6 295.5,94.2 296.0,88.6 296.5,84.3 297.1,81.7 297.6,80.6 298.1,80.6 298.6,81.4 299.2,82.8 299.7,84.7 300.2,86.8 300.7,88.9 301.2,90.8 301.8,92.5 302.3,93.9 302.8,94.9 303.3,95.8 303.8,96.4 304.4,96.9 304.9,97.4 305.4,97.8 305.9,98.3 306.5,98.8 307.0,99.3 307.5,100.0 308.0,100.6 308.5,101.4 309.1,102.2 309.6,102.9 310.1,103.5 310.6,104.2 311.2,104.7 311.7,105.3 312.2,105.8 312.7,106.2 313.2,106.6 313.8,107.0 314.3,107.3 314.8,107.6 317.2,108.6 319.6,109.1 321.9,109.2 324.3,109.0 326.7,108.6 329.0,107.9 331.4,107.0 333.8,106.2 336.1,105.4 338.5,105.0 340.9,105.1 343.3,105.8 345.6,107.3 348.0,109.2 350.4,111.1 352.7,112.9 355.1,114.7 357.5,116.5 359.8,118.3 362.2,119.9 364.6,121.6 367.0,123.2 369.3,124.7 371.7,126.2 374.1,127.7 376.4,129.1 378.8,130.4 381.2,131.8 383.6,133.0 385.9,134.2 388.3,135.4 390.7,136.5 393.0,137.6 395.4,138.6 397.8,139.5 400.1,140.4 402.5,141.3 404.9,142.1 407.3,142.8 409.6,143.5 412.0,144.2 414.4,144.8 416.7,145.3 419.1,145.8 421.5,146.3 423.8,146.7 426.2,147.1 428.6,147.4 431.0,147.7 433.3,148.0 435.7,148.2 438.1,148.4 440.4,148.6 442.8,148.8 445.2,148.9 447.5,149.0 449.9,149.1 452.3,149.2 454.7,149.3" stroke="#5a5a5a" stroke-width="1.2" stroke-opacity="0.5"/>
<path d="M283.5,149.7L284.0,149.7 284.5,149.7 285.1,149.7 285.6,149.7 286.1,149.6 286.6,149.6 287.1,149.5 287.7,149.2 288.2,148.9 288.7,148.2 289.2,147.0 289.8,145.2 290.3,142.2 290.8,137.4 291.3,130.7 291.8,122.5 292.4,113.2 292.9,102.9 293.4,91.6 293.9,79.9 294.5,68.6 295.0,58.4 295.5,50.3 296.0,45.0 296.5,43.0 297.1,43.4 297.6,45.5 298.1,49.1 298.6,53.8 299.2,59.1 299.7,64.6 300.2,69.9 300.7,74.7 301.2,78.9 301.8,82.5 302.3,85.4 302.8,87.9 303.3,90.0 303.8,91.9 304.4,93.5 304.9,95.0 305.4,96.5 305.9,97.9 306.5,99.3 307.0,100.7 307.5,102.1 308.0,103.5 308.5,104.9 309.1,106.3 309.6,107.6 310.1,108.7 310.6,109.8 311.2,110.9 311.7,111.8 312.2,112.6 312.7,113.4 313.2,114.1 313.8,114.8 314.3,115.3 314.8,115.9 317.2,117.6 319.6,118.7 321.9,119.2 324.3,119.4 326.7,119.1 329.0,118.5 331.4,117.5 333.8,116.3 336.1,115.1 338.5,114.2 340.9,113.7 343.3,113.9 345.6,115.0 348.0,116.4 350.4,117.8 352.7,119.2 355.1,120.6 357.5,121.9 359.8,123.2 362.2,124.5 364.6,125.7 367.0,126.9 369.3,128.1 371.7,129.3 374.1,130.4 376.4,131.6 378.8,132.7 381.2,133.8 383.6,134.9 385.9,135.9 388.3,136.9 390.7,137.9 393.0,138.9 395.4,139.8 397.8,140.6 400.1,141.5 402.5,142.3 404.9,143.0 407.3,143.7 409.6,144.3 412.0,144.9 414.4,145.5 416.7,146.0 419.1,146.4 421.5,146.8 423.8,147.2 426.2,147.5 428.6,147.8 431.0,148.1 433.3,148.3 435.7,148.5 438.1,148.7 440.4,148.8 442.8,149.0 445.2,149.1 447.5,149.2 449.9,149.3 452.3,149.4 454.7,149.4" stroke="#5a5a5a" stroke-width="1.2" stroke-opacity="0.5"/>
<path d="M283.5,149.7L284.0,149.7 284.5,149.7 285.1,149.7 285.6,149.7 286.1,149.6 286.6,149.5 287.1,149.4 287.7,149.1 288.2,148.5 288.7,147.7 289.2,146.2 289.8,143.9 290.3,140.2 290.8,134.5 291.3,126.6 291.8,117.1 292.4,106.2 292.9,94.2 293.4,81.4 293.9,68.2 294.5,55.8 295.0,45.0 295.5,36.8 296.0,32.1 296.5,30.9 297.1,32.1 297.6,35.3 298.1,40.0 298.6,45.7 299.2,52.0 299.7,58.3 300.2,64.2 300.7,69.6 301.2,74.3 301.8,78.3 302.3,81.6 302.8,84.4 303.3,86.8 303.8,88.8 304.4,90.7 304.9,92.5 305.4,94.2 305.9,95.8 306.5,97.5 307.0,99.1 307.5,100.7 308.0,102.3 308.5,103.9 309.1,105.4 309.6,106.8 310.1,108.1 310.6,109.3 311.2,110.4 311.7,111.4 312.2,112.4 312.7,113.2 313.2,113.9 313.8,114.6 314.3,115.2 314.8,115.8 317.2,117.6 319.6,118.7 321.9,119.3 324.3,119.6 326.7,119.6 329.0,119.3 331.4,118.8 333.8,117.9 336.1,116.9 338.5,115.9 340.9,115.0 343.3,114.4 345.6,114.3 348.0,114.9 350.4,116.2 352.7,117.6 355.1,119.0 357.5,120.3 359.8,121.7 362.2,123.1 364.6,124.4 367.0,125.8 369.3,127.1 371.7,128.4 374.1,129.7 376.4,130.9 378.8,132.1 381.2,133.3 383.6,134.5 385.9,135.6 388.3,136.6 390.7,137.7 393.0,138.7 395.4,139.6 397.8,140.5 400.1,141.3 402.5,142.1 404.9,142.9 407.3,143.6 409.6,144.2 412.0,144.8 414.4,145.4 416.7,145.9 419.1,146.3 421.5,146.7 423.8,147.1 426.2,147.5 428.6,147.8 431.0,148.0 433.3,148.3 435.7,148.5 438.1,148.7 440.4,148.8 442.8,149.0 445.2,149.1 447.5,149.2 449.9,149.3 452.3,149.3 454.7,149.4" stroke="#5a5a5a" stroke-width="1.2" stroke-opacity="0.5"/>
<path d="M283.5,149.7L284.0,149.7 284.5,149.7 285.1,149.7 285.6,149.7 286.1,149.6 286.6,149.5 287.1,149.4 287.7,149.1 288.2,148.7 288.7,147.9 289.2,146.5 289.8,144.4 290.3,141.1 290.8,136.2 291.3,129.3 291.8,120.8 292.4,111.0 292.9,100.1 293.4,88.3 293.9,76.2 294.5,64.7 295.0,54.7 295.5,47.1 296.0,42.7 296.5,41.7 297.1,43.0 297.6,46.1 298.1,50.6 298.6,56.2 299.2,62.3 299.7,68.4 300.2,74.2 300.7,79.5 301.2,84.1 301.8,88.1 302.3,91.4 302.8,94.3 303.3,96.7 303.8,98.8 304.4,100.7 304.9,102.6 305.4,104.3 305.9,105.9 306.5,107.6 307.0,109.1 307.5,110.7 308.0,112.2 308.5,113.7 309.1,115.2 309.6,116.5 310.1,117.7 310.6,118.9 311.2,119.9 311.7,120.9 312.2,121.8 312.7,122.5 313.2,123.3 313.8,123.9 314.3,124.5 314.8,125.0 317.2,126.7 319.6,127.8 321.9,128.5 324.3,128.9 326.7,129.1 329.0,129.0 331.4,128.6 333.8,127.7 336.1,126.3 338.5,124.4 340.9,122.0 343.3,119.4 345.6,116.8 348.0,114.6 350.4,112.9 352.7,112.1 355.1,112.4 357.5,113.3 359.8,114.3 362.2,115.4 364.6,116.5 367.0,117.7 369.3,119.0 371.7,120.4 374.1,121.8 376.4,123.2 378.8,124.7 381.2,126.2 383.6,127.7 385.9,129.2 388.3,130.7 390.7,132.1 393.0,133.5 395.4,134.9 397.8,136.2 400.1,137.5 402.5,138.7 404.9,139.8 407.3,140.9 409.6,141.9 412.0,142.8 414.4,143.6 416.7,144.4 419.1,145.0 421.5,145.7 423.8,146.2 426.2,146.7 428.6,147.1 431.0,147.5 433.3,147.9 435.7,148.2 438.1,148.4 440.4,148.6 442.8,148.8 445.2,149.0 447.5,149.1 449.9,149.2 452.3,149.3 454.7,149.4" stroke="#5a5a5a" stroke-width="1.2" stroke-opacity="0.5"/>
<path d="M283.5,149.7L284.0,149.7 284.5,149.7 285.1,149.7 285.6,149.7 286.1,149.6 286.6,149.5 287.1,149.3 287.7,149.0 288.2,148.5 288.7,147.5 289.2,146.0 289.8,143.6 290.3,140.0 290.8,134.5 291.3,126.9 291.8,117.6 292.4,106.9 292.9,95.0 293.4,82.1 293.9,69.1 294.5,56.9 295.0,46.4 295.5,38.7 296.0,34.5 296.5,34.0 297.1,35.7 297.6,39.4 298.1,44.6 298.6,50.9 299.2,57.6 299.7,64.3 300.2,70.6 300.7,76.4 301.2,81.4 301.8,85.6 302.3,89.2 302.8,92.3 303.3,94.9 303.8,97.2 304.4,99.3 304.9,101.3 305.4,103.1 305.9,104.9 306.5,106.6 307.0,108.3 307.5,109.9 308.0,111.5 308.5,113.0 309.1,114.4 309.6,115.8 310.1,117.0 310.6,118.1 311.2,119.1 311.7,120.0 312.2,120.8 312.7,121.5 313.2,122.1 313.8,122.6 314.3,123.1 314.8,123.4 317.2,124.4 319.6,124.5 321.9,124.1 324.3,123.5 326.7,122.7 329.0,121.9 331.4,121.2 333.8,120.7 336.1,120.5 338.5,120.7 340.9,121.4 343.3,122.5 345.6,123.6 348.0,124.8 350.4,126.0 352.7,127.2 355.1,128.4 357.5,129.6 359.8,130.8 362.2,132.0 364.6,133.1 367.0,134.2 369.3,135.4 371.7,136.4 374.1,137.5 376.4,138.5 378.8,139.5 381.2,140.4 383.6,141.3 385.9,142.1 388.3,142.9 390.7,143.6 393.0,144.3 395.4,144.9 397.8,145.5 400.1,146.0 402.5,146.5 404.9,146.9 407.3,147.3 409.6,147.6 412.0,147.9 414.4,148.2 416.7,148.4 419.1,148.6 421.5,148.8 423.8,149.0 426.2,149.1 428.6,149.2 431.0,149.3 433.3,149.4 435.7,149.4 438.1,149.5 440.4,149.5 442.8,149.6 445.2,149.6 447.5,149.6 449.9,149.6 452.3,149.6 454.7,149.7" stroke="#5a5a5a" stroke-width="1.2" stroke-opacity="0.5"/>
<path d="M283.5,149.7L284.0,149.7 284.5,149.7 285.1,149.7 285.6,149.7 286.1,149.7 286.6,149.7 287.1,149.6 287.7,149.5 288.2,149.4 288.7,149.1 289.2,148.6 289.8,147.7 290.3,146.1 290.8,143.3 291.3,139.1 291.8,134.1 292.4,128.5 292.9,122.3 293.4,115.4 293.9,107.7 294.5,99.8 295.0,92.1 295.5,85.2 296.0,79.6 296.5,75.9 297.1,74.4 297.6,74.3 298.1,75.4 298.6,77.5 299.2,80.2 299.7,83.3 300.2,86.5 300.7,89.6 301.2,92.4 301.8,94.9 302.3,96.9 302.8,98.6 303.3,99.9 303.8,101.1 304.4,102.0 304.9,102.9 305.4,103.8 305.9,104.6 306.5,105.5 307.0,106.4 307.5,107.3 308.0,108.2 308.5,109.2 309.1,110.1 309.6,111.0 310.1,111.9 310.6,112.7 311.2,113.4 311.7,114.1 312.2,114.7 312.7,115.3 313.2,115.9 313.8,116.3 314.3,116.8 314.8,117.2 317.2,118.7 319.6,119.8 321.9,120.6 324.3,121.2 326.7,121.7 329.0,121.9 331.4,121.8 333.8,121.4 336.1,120.6 338.5,119.6 340.9,118.5 343.3,117.3 345.6,116.4 348.0,115.9 350.4,116.1 352.7,117.0 355.1,118.2 357.5,119.4 359.8,120.6 362.2,121.8 364.6,123.0 367.0,124.1 369.3,125.3 371.7,126.4 374.1,127.5 376.4,128.6 378.8,129.7 381.2,130.7 383.6,131.8 385.9,132.8 388.3,133.8 390.7,134.8 393.0,135.7 395.4,136.7 397.8,137.6 400.1,138.4 402.5,139.3 404.9,140.1 407.3,140.9 409.6,141.6 412.0,142.3 414.4,143.0 416.7,143.6 419.1,144.2 421.5,144.7 423.8,145.2 426.2,145.7 428.6,146.1 431.0,146.5 433.3,146.9 435.7,147.2 438.1,147.5 440.4,147.8 442.8,148.0 445.2,148.3 447.5,148.4 449.9,148.6 452.3,148.8 454.7,148.9" stroke="#5a5a5a" stroke-width="1.2" stroke-opacity="0.5"/>
<path d="M283.5,149.7L284.0,149.7 284.5,149.7 285.1,149.7 285.6,149.6 286.1,149.6 286.6,149.4 287.1,149.2 287.7,148.8 288.2,148.1 288.7,146.9 289.2,145.0 289.8,142.1 290.3,137.7 290.8,131.0 291.3,121.9 291.8,111.1 292.4,99.4 292.9,86.9 293.4,74.0 293.9,61.4 294.5,50.1 295.0,41.1 295.5,35.1 296.0,32.8 296.5,33.0 297.1,35.3 297.6,39.2 298.1,44.2 298.6,49.9 299.2,55.8 299.7,61.6 300.2,66.8 300.7,71.3 301.2,75.2 301.8,78.3 302.3,81.0 302.8,83.2 303.3,85.1 303.8,86.8 304.4,88.3 304.9,89.8 305.4,91.2 305.9,92.6 306.5,94.1 307.0,95.5 307.5,96.9 308.0,98.4 308.5,99.8 309.1,101.2 309.6,102.5 310.1,103.7 310.6,104.8 311.2,105.8 311.7,106.7 312.2,107.6 312.7,108.4 313.2,109.1 313.8,109.7 314.3,110.3 314.8,110.8 317.2,112.6 319.6,113.9 321.9,114.7 324.3,115.4 326.7,115.7 329.0,115.8 331.4,115.6 333.8,115.2 336.1,114.5 338.5,113.6 340.9,112.7 343.3,112.0 345.6,111.6 348.0,111.7 350.4,112.3 352.7,113.6 355.1,115.0 357.5,116.3 359.8,117.7 362.2,119.1 364.6,120.5 367.0,121.9 369.3,123.2 371.7,124.6 374.1,126.0 376.4,127.4 378.8,128.8 381.2,130.2 383.6,131.6 385.9,132.9 388.3,134.2 390.7,135.5 393.0,136.7 395.4,137.9 397.8,139.0 400.1,140.1 402.5,141.1 404.9,142.0 407.3,142.9 409.6,143.7 412.0,144.4 414.4,145.1 416.7,145.7 419.1,146.2 421.5,146.7 423.8,147.1 426.2,147.5 428.6,147.9 431.0,148.1 433.3,148.4 435.7,148.6 438.1,148.8 440.4,149.0 442.8,149.1 445.2,149.2 447.5,149.3 449.9,149.4 452.3,149.4 454.7,149.5" stroke="#5a5a5a" stroke-width="1.2" stroke-opacity="0.5"/>
<path d="M283.5,149.7L284.0,149.7 284.5,149.7 285.1,149.7 285.6,149.7 286.1,149.7 286.6,149.6 287.1,149.6 287.7,149.4 288.2,149.2 288.7,148.7 289.2,147.9 289.8,146.5 290.3,144.2 290.8,140.4 291.3,134.9 291.8,128.1 292.4,120.4 292.9,111.6 293.4,101.9 293.9,91.3 294.5,80.7 295.0,70.6 295.5,62.0 296.0,55.6 296.5,52.0 297.1,51.1 297.6,52.1 298.1,54.6 298.6,58.3 299.2,62.8 299.7,67.6 300.2,72.5 300.7,77.1 301.2,81.2 301.8,84.7 302.3,87.7 302.8,90.2 303.3,92.2 303.8,94.0 304.4,95.6 304.9,97.0 305.4,98.4 305.9,99.7 306.5,101.0 307.0,102.3 307.5,103.7 308.0,105.0 308.5,106.3 309.1,107.6 309.6,108.9 310.1,110.0 310.6,111.1 311.2,112.1 311.7,113.0 312.2,113.9 312.7,114.7 313.2,115.4 313.8,116.1 314.3,116.7 314.8,117.3 317.2,119.4 319.6,120.9 321.9,122.1 324.3,123.1 326.7,123.8 329.0,124.3 331.4,124.5 333.8,124.3 336.1,123.9 338.5,123.4 340.9,122.9 343.3,122.8 345.6,123.0 348.0,123.9 350.4,125.2 352.7,126.4 355.1,127.5 357.5,128.6 359.8,129.7 362.2,130.8 364.6,131.8 367.0,132.8 369.3,133.7 371.7,134.7 374.1,135.6 376.4,136.5 378.8,137.4 381.2,138.3 383.6,139.2 385.9,140.0 388.3,140.8 390.7,141.6 393.0,142.3 395.4,143.0 397.8,143.7 400.1,144.3 402.5,144.9 404.9,145.4 407.3,145.9 409.6,146.4 412.0,146.8 414.4,147.2 416.7,147.5 419.1,147.8 421.5,148.1 423.8,148.3 426.2,148.5 428.6,148.7 431.0,148.9 433.3,149.0 435.7,149.1 438.1,149.2 440.4,149.3 442.8,149.4 445.2,149.4 447.5,149.5 449.9,149.5 452.3,149.6 454.7,149.6" stroke="#5a5a5a" stroke-width="1.2" stroke-opacity="0.5"/>
<path d="M283.5,149.7L284.0,149.7 284.5,149.7 285.1,149.7 285.6,149.7 286.1,149.7 286.6,149.7 287.1,149.7 287.7,149.6 288.2,149.6 288.7,149.4 289.2,149.2 289.8,148.7 290.3,147.7 290.8,145.7 291.3,142.7 291.8,139.1 292.4,135.2 292.9,130.7 293.4,125.4 293.9,119.2 294.5,112.4 295.0,105.1 295.5,97.9 296.0,91.3 296.5,85.8 297.1,81.9 297.6,79.9 298.1,79.6 298.6,80.3 299.2,82.0 299.7,84.4 300.2,87.2 300.7,90.3 301.2,93.2 301.8,95.9 302.3,98.3 302.8,100.4 303.3,102.1 303.8,103.5 304.4,104.7 304.9,105.7 305.4,106.6 305.9,107.5 306.5,108.4 307.0,109.3 307.5,110.2 308.0,111.1 308.5,112.1 309.1,113.0 309.6,113.9 310.1,114.7 310.6,115.5 311.2,116.3 311.7,116.9 312.2,117.6 312.7,118.2 313.2,118.7 313.8,119.2 314.3,119.6 314.8,120.0 317.2,121.4 319.6,122.2 321.9,122.7 324.3,122.8 326.7,122.7 329.0,122.2 331.4,121.5 333.8,120.7 336.1,119.7 338.5,118.8 340.9,118.1 343.3,117.9 345.6,118.3 348.0,119.3 350.4,120.6 352.7,121.8 355.1,123.0 357.5,124.2 359.8,125.4 362.2,126.6 364.6,127.8 367.0,128.9 369.3,130.0 371.7,131.1 374.1,132.2 376.4,133.2 378.8,134.2 381.2,135.2 383.6,136.2 385.9,137.1 388.3,138.0 390.7,138.8 393.0,139.7 395.4,140.5 397.8,141.2 400.1,142.0 402.5,142.6 404.9,143.3 407.3,143.9 409.6,144.5 412.0,145.0 414.4,145.5 416.7,146.0 419.1,146.4 421.5,146.8 423.8,147.1 426.2,147.4 428.6,147.7 431.0,148.0 433.3,148.2 435.7,148.4 438.1,148.6 440.4,148.7 442.8,148.9 445.2,149.0 447.5,149.1 449.9,149.2 452.3,149.3 454.7,149.4" stroke="#5a5a5a" stroke-width="1.2" stroke-opacity="0.5"/>
<path d="M283.5,149.7L284.0,149.7 284.5,149.7 285.1,149.7 285.6,149.7 286.1,149.7 286.6,149.7 287.1,149.6 287.7,149.5 288.2,149.4 288.7,149.1 289.2,148.7 289.8,147.9 290.3,146.6 290.8,144.5 291.3,141.5 291.8,137.8 292.4,133.6 292.9,129.0 293.4,123.9 293.9,118.4 294.5,113.0 295.0,108.0 295.5,103.7 296.0,100.7 296.5,99.1 297.1,98.9 297.6,99.5 298.1,100.9 298.6,102.8 299.2,105.1 299.7,107.5 300.2,109.9 300.7,112.1 301.2,114.1 301.8,115.8 302.3,117.2 302.8,118.4 303.3,119.3 303.8,120.2 304.4,120.9 304.9,121.6 305.4,122.2 305.9,122.9 306.5,123.5 307.0,124.1 307.5,124.8 308.0,125.5 308.5,126.1 309.1,126.8 309.6,127.4 310.1,128.0 310.6,128.5 311.2,129.0 311.7,129.5 312.2,129.9 312.7,130.4 313.2,130.7 313.8,131.1 314.3,131.4 314.8,131.7 317.2,132.9 319.6,133.8 321.9,134.6 324.3,135.3 326.7,135.8 329.0,136.2 331.4,136.3 333.8,136.4 336.1,136.2 338.5,135.9 340.9,135.6 343.3,135.3 345.6,135.0 348.0,134.9 350.4,134.9 352.7,134.8 355.1,134.4 357.5,133.6 359.8,132.5 362.2,130.9 364.6,128.9 367.0,126.4 369.3,123.6 371.7,120.6 374.1,117.6 376.4,114.8 378.8,112.5 381.2,111.0 383.6,110.4 385.9,110.7 388.3,111.8 390.7,113.4 393.0,115.6 395.4,118.2 397.8,121.0 400.1,124.1 402.5,127.2 404.9,130.3 407.3,133.3 409.6,136.1 412.0,138.6 414.4,140.8 416.7,142.7 419.1,144.3 421.5,145.6 423.8,146.6 426.2,147.5 428.6,148.1 431.0,148.6 433.3,148.9 435.7,149.2 438.1,149.3 440.4,149.5 442.8,149.6 445.2,149.6 447.5,149.6 449.9,149.7 452.3,149.7 454.7,149.7" stroke="#5a5a5a" stroke-width="1.1" stroke-opacity="0.45"/>
<path d="M283.5,149.7L284.0,149.7 284.5,149.7 285.1,149.7 285.6,149.7 286.1,149.7 286.6,149.6 287.1,149.6 287.7,149.4 288.2,149.2 288.7,148.8 289.2,148.2 289.8,147.1 290.3,145.3 290.8,142.4 291.3,138.3 291.8,133.3 292.4,127.4 292.9,120.6 293.4,113.1 293.9,105.0 294.5,97.0 295.0,89.6 295.5,83.4 296.0,79.1 296.5,77.0 297.1,76.9 297.6,78.2 298.1,80.6 298.6,83.9 299.2,87.7 299.7,91.7 300.2,95.7 300.7,99.5 301.2,102.8 301.8,105.7 302.3,108.1 302.8,110.2 303.3,111.9 303.8,113.5 304.4,114.8 304.9,116.1 305.4,117.2 305.9,118.4 306.5,119.5 307.0,120.5 307.5,121.6 308.0,122.7 308.5,123.7 309.1,124.7 309.6,125.6 310.1,126.5 310.6,127.3 311.2,128.1 311.7,128.8 312.2,129.4 312.7,130.0 313.2,130.5 313.8,131.0 314.3,131.5 314.8,131.9 317.2,133.4 319.6,134.5 321.9,135.3 324.3,135.9 326.7,136.4 329.0,136.7 331.4,136.8 333.8,136.7 336.1,136.5 338.5,136.0 340.9,135.5 343.3,134.9 345.6,134.2 348.0,133.6 350.4,132.9 352.7,131.9 355.1,130.6 357.5,128.8 359.8,126.5 362.2,124.0 364.6,121.1 367.0,118.2 369.3,115.4 371.7,113.0 374.1,111.2 376.4,110.3 378.8,110.3 381.2,111.1 383.6,112.6 385.9,114.5 388.3,117.0 390.7,119.7 393.0,122.7 395.4,125.8 397.8,129.0 400.1,132.0 402.5,134.9 404.9,137.5 407.3,139.8 409.6,141.8 412.0,143.6 414.4,145.0 416.7,146.2 419.1,147.1 421.5,147.8 423.8,148.3 426.2,148.8 428.6,149.1 431.0,149.3 433.3,149.4 435.7,149.5 438.1,149.6 440.4,149.6 442.8,149.7 445.2,149.7 447.5,149.7 449.9,149.7 452.3,149.7 454.7,149.7" stroke="#5a5a5a" stroke-width="1.1" stroke-opacity="0.45"/>
<path d="M283.5,149.7L284.0,149.7 284.5,149.7 285.1,149.7 285.6,149.7 286.1,149.7 286.6,149.7 287.1,149.6 287.7,149.5 288.2,149.3 288.7,149.0 289.2,148.5 289.8,147.7 290.3,146.2 290.8,143.8 291.3,140.4 291.8,136.2 292.4,131.5 292.9,126.2 293.4,120.3 293.9,114.1 294.5,107.9 295.0,102.2 295.5,97.3 296.0,93.9 296.5,92.1 297.1,91.9 297.6,92.6 298.1,94.2 298.6,96.4 299.2,99.0 299.7,101.9 300.2,104.6 300.7,107.2 301.2,109.5 301.8,111.4 302.3,113.1 302.8,114.4 303.3,115.6 303.8,116.5 304.4,117.4 304.9,118.2 305.4,118.9 305.9,119.7 306.5,120.4 307.0,121.1 307.5,121.9 308.0,122.7 308.5,123.4 309.1,124.2 309.6,124.9 310.1,125.5 310.6,126.1 311.2,126.7 311.7,127.3 312.2,127.8 312.7,128.2 313.2,128.7 313.8,129.0 314.3,129.4 314.8,129.8 317.2,131.0 319.6,132.0 321.9,132.8 324.3,133.5 326.7,134.0 329.0,134.5 331.4,134.7 333.8,134.8 336.1,134.7 338.5,134.5 340.9,134.3 343.3,134.0 345.6,133.9 348.0,133.8 350.4,133.8 352.7,133.7 355.1,133.3 357.5,132.5 359.8,131.3 362.2,129.7 364.6,127.7 367.0,125.3 369.3,122.6 371.7,119.9 374.1,117.2 376.4,115.0 378.8,113.3 381.2,112.4 383.6,112.5 385.9,113.3 388.3,114.7 390.7,116.6 393.0,118.9 395.4,121.5 397.8,124.3 400.1,127.3 402.5,130.3 404.9,133.1 407.3,135.8 409.6,138.3 412.0,140.5 414.4,142.4 416.7,144.0 419.1,145.4 421.5,146.4 423.8,147.3 426.2,148.0 428.6,148.5 431.0,148.8 433.3,149.1 435.7,149.3 438.1,149.4 440.4,149.5 442.8,149.6 445.2,149.6 447.5,149.7 449.9,149.7 452.3,149.7 454.7,149.7" stroke="#5a5a5a" stroke-width="1.1" stroke-opacity="0.45"/>
<path d="M283.5,149.7L284.0,149.7 284.5,149.7 285.1,149.7 285.6,149.7 286.1,149.7 286.6,149.7 287.1,149.6 287.7,149.5 288.2,149.3 288.7,149.0 289.2,148.5 289.8,147.6 290.3,146.2 290.8,144.0 291.3,140.7 291.8,136.7 292.4,132.1 292.9,126.8 293.4,120.9 293.9,114.7 294.5,108.4 295.0,102.7 295.5,97.8 296.0,94.4 296.5,92.8 297.1,92.7 297.6,93.6 298.1,95.3 298.6,97.8 299.2,100.7 299.7,103.7 300.2,106.7 300.7,109.5 301.2,112.0 301.8,114.1 302.3,116.0 302.8,117.5 303.3,118.8 303.8,119.9 304.4,120.9 304.9,121.8 305.4,122.7 305.9,123.5 306.5,124.3 307.0,125.1 307.5,125.9 308.0,126.7 308.5,127.5 309.1,128.3 309.6,129.0 310.1,129.7 310.6,130.3 311.2,130.9 311.7,131.4 312.2,131.9 312.7,132.3 313.2,132.8 313.8,133.1 314.3,133.5 314.8,133.8 317.2,134.9 319.6,135.7 321.9,136.3 324.3,136.7 326.7,137.0 329.0,137.1 331.4,137.0 333.8,136.7 336.1,136.3 338.5,135.8 340.9,135.1 343.3,134.4 345.6,133.6 348.0,132.9 350.4,132.1 352.7,130.9 355.1,129.3 357.5,127.3 359.8,124.7 362.2,121.8 364.6,118.6 367.0,115.3 369.3,112.1 371.7,109.4 374.1,107.3 376.4,106.2 378.8,106.2 381.2,107.1 383.6,108.7 385.9,110.9 388.3,113.5 390.7,116.6 393.0,119.9 395.4,123.4 397.8,126.8 400.1,130.2 402.5,133.3 404.9,136.2 407.3,138.8 409.6,141.0 412.0,143.0 414.4,144.5 416.7,145.8 419.1,146.8 421.5,147.6 423.8,148.2 426.2,148.7 428.6,149.0 431.0,149.2 433.3,149.4 435.7,149.5 438.1,149.6 440.4,149.6 442.8,149.6 445.2,149.7 447.5,149.7 449.9,149.7 452.3,149.7 454.7,149.7" stroke="#5a5a5a" stroke-width="1.1" stroke-opacity="0.45"/>
<path d="M283.5,149.7L284.0,149.7 284.5,149.7 285.1,149.7 285.6,149.7 286.1,149.7 286.6,149.6 287.1,149.6 287.7,149.4 288.2,149.2 288.7,148.8 289.2,148.2 289.8,147.1 290.3,145.3 290.8,142.6 291.3,138.6 291.8,133.7 292.4,127.9 292.9,121.3 293.4,113.8 293.9,105.9 294.5,97.9 295.0,90.6 295.5,84.5 296.0,80.3 296.5,78.2 297.1,78.2 297.6,79.6 298.1,82.0 298.6,85.3 299.2,89.2 299.7,93.3 300.2,97.3 300.7,101.1 301.2,104.4 301.8,107.3 302.3,109.8 302.8,111.9 303.3,113.7 303.8,115.3 304.4,116.7 304.9,117.9 305.4,119.1 305.9,120.3 306.5,121.4 307.0,122.5 307.5,123.6 308.0,124.6 308.5,125.6 309.1,126.6 309.6,127.6 310.1,128.4 310.6,129.3 311.2,130.0 311.7,130.8 312.2,131.4 312.7,132.0 313.2,132.6 313.8,133.1 314.3,133.6 314.8,134.1 317.2,135.8 319.6,137.1 321.9,138.1 324.3,139.0 326.7,139.6 329.0,140.0 331.4,140.2 333.8,140.1 336.1,139.7 338.5,139.2 340.9,138.5 343.3,137.9 345.6,137.4 348.0,136.9 350.4,136.7 352.7,136.3 355.1,135.7 357.5,134.8 359.8,133.6 362.2,132.0 364.6,130.0 367.0,127.6 369.3,124.8 371.7,121.8 374.1,118.8 376.4,116.0 378.8,113.6 381.2,112.0 383.6,111.2 385.9,111.4 388.3,112.3 390.7,113.9 393.0,115.9 395.4,118.3 397.8,121.1 400.1,124.1 402.5,127.2 404.9,130.2 407.3,133.2 409.6,135.9 412.0,138.4 414.4,140.6 416.7,142.5 419.1,144.1 421.5,145.5 423.8,146.5 426.2,147.4 428.6,148.0 431.0,148.5 433.3,148.9 435.7,149.1 438.1,149.3 440.4,149.5 442.8,149.5 445.2,149.6 447.5,149.6 449.9,149.7 452.3,149.7 454.7,149.7" stroke="#5a5a5a" stroke-width="1.1" stroke-opacity="0.45"/>
<path d="M283.5,149.7L284.0,149.7 284.5,149.7 285.1,149.7 285.6,149.7 286.1,149.7 286.6,149.7 287.1,149.6 287.7,149.6 288.2,149.4 288.7,149.2 289.2,148.8 289.8,148.2 290.3,147.0 290.8,145.0 291.3,142.0 291.8,138.5 292.4,134.8 292.9,130.7 293.4,126.3 293.9,121.6 294.5,116.9 295.0,112.6 295.5,108.9 296.0,106.1 296.5,104.6 297.1,104.1 297.6,104.4 298.1,105.3 298.6,106.6 299.2,108.2 299.7,110.0 300.2,111.7 300.7,113.3 301.2,114.6 301.8,115.8 302.3,116.7 302.8,117.5 303.3,118.1 303.8,118.5 304.4,119.0 304.9,119.4 305.4,119.8 305.9,120.2 306.5,120.6 307.0,121.0 307.5,121.5 308.0,122.0 308.5,122.6 309.1,123.1 309.6,123.6 310.1,124.1 310.6,124.6 311.2,125.0 311.7,125.4 312.2,125.8 312.7,126.2 313.2,126.6 313.8,126.9 314.3,127.3 314.8,127.6 317.2,128.9 319.6,130.1 321.9,131.2 324.3,132.2 326.7,133.2 329.0,133.9 331.4,134.5 333.8,134.8 336.1,135.0 338.5,135.0 340.9,134.8 343.3,134.6 345.6,134.5 348.0,134.3 350.4,134.2 352.7,133.9 355.1,133.3 357.5,132.3 359.8,130.9 362.2,129.0 364.6,126.8 367.0,124.3 369.3,121.6 371.7,118.9 374.1,116.4 376.4,114.5 378.8,113.2 381.2,112.8 383.6,113.3 385.9,114.4 388.3,116.0 390.7,118.1 393.0,120.5 395.4,123.2 397.8,126.1 400.1,129.1 402.5,131.9 404.9,134.7 407.3,137.2 409.6,139.5 412.0,141.6 414.4,143.3 416.7,144.8 419.1,146.0 421.5,146.9 423.8,147.7 426.2,148.2 428.6,148.7 431.0,149.0 433.3,149.2 435.7,149.4 438.1,149.5 440.4,149.6 442.8,149.6 445.2,149.6 447.5,149.7 449.9,149.7 452.3,149.7 454.7,149.7" stroke="#5a5a5a" stroke-width="1.1" stroke-opacity="0.45"/>
<path d="M283.5,149.7L284.0,149.7 284.5,149.7 285.1,149.7 285.6,149.7 286.1,149.7 286.6,149.7 287.1,149.6 287.7,149.5 288.2,149.3 288.7,149.0 289.2,148.5 289.8,147.7 290.3,146.3 290.8,144.0 291.3,140.7 291.8,136.7 292.4,132.1 292.9,126.9 293.4,121.1 293.9,114.9 294.5,108.7 295.0,103.0 295.5,98.2 296.0,94.8 296.5,93.2 297.1,93.0 297.6,93.9 298.1,95.7 298.6,98.1 299.2,100.9 299.7,103.9 300.2,106.8 300.7,109.6 301.2,112.0 301.8,114.1 302.3,115.9 302.8,117.4 303.3,118.7 303.8,119.8 304.4,120.7 304.9,121.6 305.4,122.5 305.9,123.3 306.5,124.1 307.0,124.9 307.5,125.7 308.0,126.5 308.5,127.3 309.1,128.0 309.6,128.8 310.1,129.4 310.6,130.1 311.2,130.7 311.7,131.2 312.2,131.8 312.7,132.3 313.2,132.7 313.8,133.1 314.3,133.5 314.8,133.9 317.2,135.3 319.6,136.5 321.9,137.7 324.3,138.8 326.7,139.9 329.0,141.0 331.4,142.0 333.8,142.8 336.1,143.2 338.5,143.1 340.9,142.2 343.3,140.3 345.6,137.2 348.0,133.0 350.4,128.0 352.7,123.0 355.1,118.8 357.5,116.3 359.8,115.9 362.2,116.2 364.6,116.9 367.0,117.7 369.3,118.8 371.7,120.1 374.1,121.6 376.4,123.3 378.8,125.0 381.2,126.9 383.6,128.8 385.9,130.7 388.3,132.5 390.7,134.4 393.0,136.1 395.4,137.8 397.8,139.3 400.1,140.7 402.5,142.0 404.9,143.2 407.3,144.2 409.6,145.2 412.0,145.9 414.4,146.6 416.7,147.2 419.1,147.7 421.5,148.1 423.8,148.4 426.2,148.7 428.6,148.9 431.0,149.1 433.3,149.2 435.7,149.4 438.1,149.4 440.4,149.5 442.8,149.6 445.2,149.6 447.5,149.6 449.9,149.6 452.3,149.7 454.7,149.7" stroke="#5a5a5a" stroke-width="1.1" stroke-opacity="0.45"/>
<path d="M283.5,149.7L284.0,149.7 284.5,149.7 285.1,149.7 285.6,149.7 286.1,149.7 286.6,149.7 287.1,149.6 287.7,149.5 288.2,149.4 288.7,149.2 289.2,148.8 289.8,148.0 290.3,146.8 290.8,144.9 291.3,142.0 291.8,138.6 292.4,134.7 292.9,130.4 293.4,125.6 293.9,120.6 294.5,115.6 295.0,110.9 295.5,107.0 296.0,104.2 296.5,102.7 297.1,102.4 297.6,103.0 298.1,104.2 298.6,105.9 299.2,108.0 299.7,110.2 300.2,112.4 300.7,114.4 301.2,116.2 301.8,117.7 302.3,119.0 302.8,120.1 303.3,120.9 303.8,121.7 304.4,122.3 304.9,122.9 305.4,123.5 305.9,124.1 306.5,124.7 307.0,125.3 307.5,125.9 308.0,126.5 308.5,127.1 309.1,127.7 309.6,128.3 310.1,128.8 310.6,129.4 311.2,129.9 311.7,130.3 312.2,130.8 312.7,131.2 313.2,131.6 313.8,132.0 314.3,132.4 314.8,132.7 317.2,134.2 319.6,135.6 321.9,136.9 324.3,138.3 326.7,139.6 329.0,140.9 331.4,142.0 333.8,142.9 336.1,143.2 338.5,142.9 340.9,141.6 343.3,139.2 345.6,135.5 348.0,130.7 350.4,125.5 352.7,120.5 355.1,116.8 357.5,115.1 359.8,115.2 362.2,115.6 364.6,116.3 367.0,117.3 369.3,118.5 371.7,119.9 374.1,121.5 376.4,123.3 378.8,125.1 381.2,127.0 383.6,129.0 385.9,130.9 388.3,132.8 390.7,134.7 393.0,136.5 395.4,138.1 397.8,139.7 400.1,141.1 402.5,142.3 404.9,143.5 407.3,144.5 409.6,145.4 412.0,146.1 414.4,146.8 416.7,147.4 419.1,147.8 421.5,148.2 423.8,148.5 426.2,148.8 428.6,149.0 431.0,149.2 433.3,149.3 435.7,149.4 438.1,149.5 440.4,149.5 442.8,149.6 445.2,149.6 447.5,149.6 449.9,149.7 452.3,149.7 454.7,149.7" stroke="#5a5a5a" stroke-width="1.1" stroke-opacity="0.45"/>
<path d="M283.5,149.7L284.0,149.7 284.5,149.7 285.1,149.7 285.6,149.7 286.1,149.7 286.6,149.6 287.1,149.6 287.7,149.4 288.2,149.2 288.7,148.8 289.2,148.1 289.8,147.0 290.3,145.2 290.8,142.4 291.3,138.4 291.8,133.3 292.4,127.4 292.9,120.5 293.4,112.8 293.9,104.5 294.5,96.3 295.0,88.7 295.5,82.4 296.0,78.0 296.5,75.9 297.1,76.0 297.6,77.5 298.1,80.1 298.6,83.6 299.2,87.7 299.7,92.1 300.2,96.3 300.7,100.3 301.2,103.9 301.8,107.0 302.3,109.7 302.8,111.9 303.3,113.9 303.8,115.5 304.4,117.0 304.9,118.4 305.4,119.7 305.9,120.9 306.5,122.1 307.0,123.3 307.5,124.5 308.0,125.6 308.5,126.7 309.1,127.7 309.6,128.7 310.1,129.6 310.6,130.5 311.2,131.3 311.7,132.0 312.2,132.7 312.7,133.3 313.2,133.9 313.8,134.4 314.3,134.9 314.8,135.4 317.2,137.1 319.6,138.5 321.9,139.6 324.3,140.7 326.7,141.8 329.0,142.7 331.4,143.6 333.8,144.2 336.1,144.4 338.5,143.9 340.9,142.6 343.3,140.1 345.6,136.4 348.0,131.5 350.4,125.9 352.7,120.5 355.1,116.2 357.5,113.9 359.8,113.7 362.2,114.1 364.6,114.8 367.0,115.7 369.3,116.9 371.7,118.4 374.1,120.0 376.4,121.8 378.8,123.7 381.2,125.7 383.6,127.7 385.9,129.7 388.3,131.7 390.7,133.7 393.0,135.5 395.4,137.3 397.8,138.9 400.1,140.4 402.5,141.8 404.9,143.0 407.3,144.1 409.6,145.0 412.0,145.8 414.4,146.5 416.7,147.1 419.1,147.6 421.5,148.1 423.8,148.4 426.2,148.7 428.6,148.9 431.0,149.1 433.3,149.2 435.7,149.4 438.1,149.4 440.4,149.5 442.8,149.6 445.2,149.6 447.5,149.6 449.9,149.6 452.3,149.7 454.7,149.7" stroke="#5a5a5a" stroke-width="1.1" stroke-opacity="0.45"/>
<path d="M283.5,149.7L284.0,149.7 284.5,149.7 285.1,149.7 285.6,149.7 286.1,149.7 286.6,149.7 287.1,149.6 287.7,149.5 288.2,149.4 288.7,149.1 289.2,148.6 289.8,147.8 290.3,146.4 290.8,144.1 291.3,140.8 291.8,136.9 292.4,132.4 292.9,127.4 293.4,121.8 293.9,115.9 294.5,110.0 295.0,104.5 295.5,99.9 296.0,96.6 296.5,94.9 297.1,94.7 297.6,95.4 298.1,96.9 298.6,99.1 299.2,101.6 299.7,104.3 300.2,107.0 300.7,109.5 301.2,111.7 301.8,113.5 302.3,115.1 302.8,116.4 303.3,117.5 303.8,118.5 304.4,119.3 304.9,120.1 305.4,120.8 305.9,121.5 306.5,122.2 307.0,122.9 307.5,123.7 308.0,124.4 308.5,125.1 309.1,125.9 309.6,126.6 310.1,127.2 310.6,127.8 311.2,128.4 311.7,129.0 312.2,129.5 312.7,130.0 313.2,130.4 313.8,130.9 314.3,131.3 314.8,131.7 317.2,133.4 319.6,134.8 321.9,136.3 324.3,137.7 326.7,139.1 329.0,140.4 331.4,141.6 333.8,142.3 336.1,142.6 338.5,142.1 340.9,140.6 343.3,138.0 345.6,134.3 348.0,129.8 350.4,125.3 352.7,121.4 355.1,119.1 357.5,118.7 359.8,119.0 362.2,119.6 364.6,120.4 367.0,121.4 369.3,122.5 371.7,123.9 374.1,125.4 376.4,127.0 378.8,128.7 381.2,130.4 383.6,132.2 385.9,133.9 388.3,135.6 390.7,137.2 393.0,138.7 395.4,140.1 397.8,141.4 400.1,142.6 402.5,143.7 404.9,144.7 407.3,145.5 409.6,146.2 412.0,146.9 414.4,147.4 416.7,147.8 419.1,148.2 421.5,148.5 423.8,148.8 426.2,149.0 428.6,149.2 431.0,149.3 433.3,149.4 435.7,149.5 438.1,149.5 440.4,149.6 442.8,149.6 445.2,149.6 447.5,149.7 449.9,149.7 452.3,149.7 454.7,149.7" stroke="#5a5a5a" stroke-width="1.1" stroke-opacity="0.45"/>
</g>
<line x1="308.96" y1="7.60" x2="308.96" y2="154.70" stroke="#2a2a2a" stroke-width="1.4" stroke-dasharray="3.4 3.3" stroke-dashoffset="2.0"/>
<line x1="321.14" y1="7.60" x2="321.14" y2="154.70" stroke="#777" stroke-width="1.4" stroke-dasharray="3.4 3.3" stroke-dashoffset="2.0"/>
<path d="M283.00,7.60 L283.00,154.70 L454.30,154.70" fill="none" stroke="#000" stroke-width="1.9"/>
<line x1="273.80" y1="149.70" x2="283.00" y2="149.70" stroke="#000" stroke-width="1.3"/>
<line x1="273.80" y1="127.00" x2="283.00" y2="127.00" stroke="#000" stroke-width="1.3"/>
<line x1="273.80" y1="104.30" x2="283.00" y2="104.30" stroke="#000" stroke-width="1.3"/>
<line x1="273.80" y1="81.60" x2="283.00" y2="81.60" stroke="#000" stroke-width="1.3"/>
<line x1="273.80" y1="58.90" x2="283.00" y2="58.90" stroke="#000" stroke-width="1.3"/>
<line x1="273.80" y1="36.20" x2="283.00" y2="36.20" stroke="#000" stroke-width="1.3"/>
<line x1="273.80" y1="13.50" x2="283.00" y2="13.50" stroke="#000" stroke-width="1.3"/>
<text transform="translate(270.60,149.70) rotate(-90)" text-anchor="middle">0.0</text>
<text transform="translate(270.60,104.30) rotate(-90)" text-anchor="middle">0.2</text>
<text transform="translate(270.60,58.90) rotate(-90)" text-anchor="middle">0.4</text>
<text transform="translate(270.60,13.50) rotate(-90)" text-anchor="middle">0.6</text>
<line x1="289.50" y1="154.70" x2="289.50" y2="163.70" stroke="#000" stroke-width="1.3"/>
<text x="289.50" y="177.90" text-anchor="middle">6</text>
<line x1="321.14" y1="154.70" x2="321.14" y2="163.70" stroke="#000" stroke-width="1.3"/>
<text x="321.14" y="177.90" text-anchor="middle">8</text>
<line x1="352.78" y1="154.70" x2="352.78" y2="163.70" stroke="#000" stroke-width="1.3"/>
<text x="352.78" y="177.90" text-anchor="middle">10</text>
<line x1="384.42" y1="154.70" x2="384.42" y2="163.70" stroke="#000" stroke-width="1.3"/>
<text x="384.42" y="177.90" text-anchor="middle">12</text>
<line x1="416.06" y1="154.70" x2="416.06" y2="163.70" stroke="#000" stroke-width="1.3"/>
<text x="416.06" y="177.90" text-anchor="middle">14</text>
<line x1="447.70" y1="154.70" x2="447.70" y2="163.70" stroke="#000" stroke-width="1.3"/>
<text x="447.70" y="177.90" text-anchor="middle">16</text>
<text x="368.65" y="190.30" text-anchor="middle">log2(Intron length)</text>
<text transform="translate(258.80,81.15) rotate(-90)" text-anchor="middle">Density</text>
<text x="374.64" y="22.70" font-size="9.15">Percomorphaceae</text>
<text x="232.80" y="16.40" font-size="23.2" stroke="none" stroke-width="0.5">B</text></g>
<g font-family="&quot;Liberation Sans&quot;, sans-serif" font-size="11" fill="#000" stroke="#000" stroke-width="0.22"><clipPath id="clipC"><rect x="513.50" y="7.60" width="171.30" height="147.10"/></clipPath>
<g fill="none" stroke-linejoin="round" stroke-linecap="round" clip-path="url(#clipC)">
<path d="M516.5,149.7L517.0,149.7 517.5,149.5 518.0,149.3 518.4,149.0 518.9,148.7 519.4,148.2 519.9,147.7 520.4,147.1 520.8,146.3 521.3,144.3 521.8,140.3 522.3,135.2 522.8,129.3 523.2,123.5 523.7,117.4 524.2,110.4 524.7,102.9 525.2,95.4 525.6,87.5 526.1,79.5 526.6,72.0 527.1,64.7 527.6,57.5 528.0,50.9 528.5,45.9 529.0,42.0 529.5,38.6 530.0,35.9 530.4,34.2 530.9,33.2 531.4,32.3 531.9,31.7 532.4,31.5 532.8,32.0 533.3,33.4 533.8,34.9 534.3,36.4 534.8,38.3 535.2,40.3 535.7,42.5 536.2,45.0 536.7,47.7 537.2,50.3 537.6,52.7 538.1,54.8 538.6,56.9 539.1,59.0 539.6,60.9 540.0,62.6 540.5,64.0 541.0,65.0 541.5,65.5 542.0,66.0 542.4,66.3 542.9,66.7 543.4,67.0 543.9,67.3 544.4,67.5 544.8,67.8 545.3,67.9 547.7,68.6 550.1,69.2 552.4,69.5 554.8,69.6 557.2,68.9 559.5,67.7 561.9,65.1 564.3,61.0 566.6,56.3 569.0,49.5 571.4,43.4 573.8,38.2 576.1,34.9 578.5,35.6 580.9,38.1 583.2,42.0 585.6,47.3 588.0,51.5 590.3,58.8 592.7,66.0 595.1,72.3 597.5,78.2 599.8,84.0 602.2,89.9 604.6,95.6 606.9,101.1 609.3,106.4 611.7,111.5 614.1,115.6 616.4,118.6 618.8,121.3 621.2,123.7 623.5,125.7 625.9,127.7 628.3,129.5 630.6,131.2 633.0,132.8 635.4,134.2 637.8,135.6 640.1,136.9 642.5,138.1 644.9,139.3 647.2,140.4 649.6,141.5 652.0,142.5 654.3,143.4 656.7,144.2 659.1,144.8 661.5,145.4 663.8,146.0 666.2,146.5 668.6,146.9 670.9,147.3 673.3,147.6 675.7,147.9 678.0,148.2 680.4,148.4 682.8,148.6 685.2,148.8" stroke="#1f86e6" stroke-width="2.0" stroke-opacity="1"/>
<path d="M516.5,149.7L517.0,149.7 517.5,149.5 518.0,149.3 518.4,149.0 518.9,148.7 519.4,148.2 519.9,147.7 520.4,147.1 520.8,146.3 521.3,144.3 521.8,140.3 522.3,135.2 522.8,129.3 523.2,123.5 523.7,117.4 524.2,110.2 524.7,102.7 525.2,95.4 525.6,87.6 526.1,80.0 526.6,73.9 527.1,69.6 527.6,66.0 528.0,62.9 528.5,60.5 529.0,58.7 529.5,57.2 530.0,55.8 530.4,54.8 530.9,54.0 531.4,53.5 531.9,53.0 532.4,52.7 532.8,52.4 533.3,52.2 533.8,52.2 534.3,52.7 534.8,53.6 535.2,54.7 535.7,55.8 536.2,56.9 536.7,58.3 537.2,59.8 537.6,61.3 538.1,62.6 538.6,63.5 539.1,64.1 539.6,64.6 540.0,65.1 540.5,65.6 541.0,66.0 541.5,66.4 542.0,66.8 542.4,67.2 542.9,67.5 543.4,67.8 543.9,68.1 544.4,68.3 544.8,68.6 545.3,68.8 547.7,69.8 550.1,70.5 552.4,71.1 554.8,71.7 557.2,72.5 559.5,73.5 561.9,74.0 564.3,72.3 566.6,69.2 569.0,66.2 571.4,62.6 573.8,59.8 576.1,58.7 578.5,58.0 580.9,57.6 583.2,58.4 585.6,59.4 588.0,59.8 590.3,62.0 592.7,64.8 595.1,67.6 597.5,70.5 599.8,73.6 602.2,76.9 604.6,80.4 606.9,84.1 609.3,87.8 611.7,91.5 614.1,95.1 616.4,98.6 618.8,102.0 621.2,105.4 623.5,108.8 625.9,112.0 628.3,115.2 630.6,118.3 633.0,121.5 635.4,124.6 637.8,127.6 640.1,130.3 642.5,132.6 644.9,134.6 647.2,136.3 649.6,137.9 652.0,139.3 654.3,140.6 656.7,141.8 659.1,142.7 661.5,143.6 663.8,144.5 666.2,145.2 668.6,145.9 670.9,146.5 673.3,146.9 675.7,147.4 678.0,147.8 680.4,148.1 682.8,148.4 685.2,148.6" stroke="#1f86e6" stroke-width="2.0" stroke-opacity="1"/>
</g>
<line x1="539.46" y1="7.60" x2="539.46" y2="154.70" stroke="#222" stroke-width="1.4" stroke-dasharray="3.4 3.3" stroke-dashoffset="2.0"/>
<line x1="551.64" y1="7.60" x2="551.64" y2="154.70" stroke="#222" stroke-width="1.4" stroke-dasharray="3.4 3.3" stroke-dashoffset="2.0"/>
<path d="M513.50,7.60 L513.50,154.70 L684.80,154.70" fill="none" stroke="#000" stroke-width="1.9"/>
<line x1="504.30" y1="149.70" x2="513.50" y2="149.70" stroke="#000" stroke-width="1.3"/>
<line x1="504.30" y1="122.46" x2="513.50" y2="122.46" stroke="#000" stroke-width="1.3"/>
<line x1="504.30" y1="95.22" x2="513.50" y2="95.22" stroke="#000" stroke-width="1.3"/>
<line x1="504.30" y1="67.98" x2="513.50" y2="67.98" stroke="#000" stroke-width="1.3"/>
<line x1="504.30" y1="40.74" x2="513.50" y2="40.74" stroke="#000" stroke-width="1.3"/>
<line x1="504.30" y1="13.50" x2="513.50" y2="13.50" stroke="#000" stroke-width="1.3"/>
<text transform="translate(501.10,149.70) rotate(-90)" text-anchor="middle">0.00</text>
<text transform="translate(501.10,95.22) rotate(-90)" text-anchor="middle">0.10</text>
<text transform="translate(501.10,40.74) rotate(-90)" text-anchor="middle">0.20</text>
<line x1="520.00" y1="154.70" x2="520.00" y2="163.70" stroke="#000" stroke-width="1.3"/>
<text x="520.00" y="177.90" text-anchor="middle">6</text>
<line x1="551.64" y1="154.70" x2="551.64" y2="163.70" stroke="#000" stroke-width="1.3"/>
<text x="551.64" y="177.90" text-anchor="middle">8</text>
<line x1="583.28" y1="154.70" x2="583.28" y2="163.70" stroke="#000" stroke-width="1.3"/>
<text x="583.28" y="177.90" text-anchor="middle">10</text>
<line x1="614.92" y1="154.70" x2="614.92" y2="163.70" stroke="#000" stroke-width="1.3"/>
<text x="614.92" y="177.90" text-anchor="middle">12</text>
<line x1="646.56" y1="154.70" x2="646.56" y2="163.70" stroke="#000" stroke-width="1.3"/>
<text x="646.56" y="177.90" text-anchor="middle">14</text>
<line x1="678.20" y1="154.70" x2="678.20" y2="163.70" stroke="#000" stroke-width="1.3"/>
<text x="678.20" y="177.90" text-anchor="middle">16</text>
<text x="599.15" y="190.30" text-anchor="middle">log2(Intron length)</text>
<text transform="translate(489.30,81.15) rotate(-90)" text-anchor="middle">Density</text>
<text x="610.72" y="22.70" font-size="9.15">Lampriformes</text>
<text x="610.72" y="33.95" font-size="9.15">Holocentriformes</text>
<text x="462.60" y="16.40" font-size="23.2" stroke="none" stroke-width="0.5">C</text></g>
<g font-family="&quot;Liberation Sans&quot;, sans-serif" font-size="11" fill="#000" stroke="#000" stroke-width="0.22"><clipPath id="clipD"><rect x="283.00" y="207.17" width="171.30" height="147.10"/></clipPath>
<g fill="none" stroke-linejoin="round" stroke-linecap="round" clip-path="url(#clipD)">
<path d="M286.5,349.0L287.0,349.0 287.4,348.9 287.9,348.6 288.4,348.3 288.9,348.0 289.3,347.5 289.8,347.0 290.3,346.3 290.7,344.7 291.2,342.1 291.7,338.8 292.2,334.9 292.6,330.9 293.1,326.2 293.6,320.2 294.0,313.4 294.5,306.4 295.0,299.7 295.5,294.0 295.9,288.6 296.4,283.3 296.9,278.3 297.3,273.8 297.8,270.0 298.3,266.9 298.8,264.0 299.2,261.6 299.7,259.9 300.2,259.0 300.7,258.3 301.1,258.0 301.6,258.3 302.1,259.0 302.5,260.0 303.0,261.2 303.5,262.8 304.0,264.4 304.4,266.0 304.9,267.5 305.4,269.2 305.8,270.7 306.3,272.1 306.8,273.2 307.3,274.1 307.7,275.0 308.2,275.8 308.7,276.3 309.1,276.6 309.6,276.6 310.1,276.5 310.6,276.3 311.0,276.1 311.5,275.8 312.0,275.5 312.5,275.0 312.9,274.4 313.4,273.6 313.9,272.8 314.3,272.0 314.8,271.2 317.2,266.4 319.6,260.6 321.9,254.0 324.3,247.2 326.7,240.1 329.0,233.1 331.4,227.6 333.8,226.7 336.1,230.3 338.5,234.5 340.9,239.2 343.3,245.0 345.6,251.9 348.0,258.5 350.4,264.2 352.7,269.6 355.1,274.6 357.5,279.6 359.8,284.5 362.2,289.3 364.6,293.9 367.0,298.5 369.3,303.1 371.7,307.6 374.1,311.6 376.4,315.1 378.8,318.4 381.2,321.3 383.6,323.9 385.9,326.2 388.3,328.3 390.7,330.2 393.0,332.0 395.4,333.7 397.8,335.2 400.1,336.5 402.5,337.7 404.9,338.9 407.3,340.0 409.6,341.0 412.0,341.9 414.4,342.7 416.7,343.4 419.1,344.0 421.5,344.6 423.8,345.2 426.2,345.7 428.6,346.1 431.0,346.4 433.3,346.7 435.7,347.0 438.1,347.3 440.4,347.5 442.8,347.7 445.2,347.9 447.5,348.1 449.9,348.2 452.3,348.3 454.7,348.4" stroke="#a020f0" stroke-width="1.5" stroke-opacity="0.75"/>
<path d="M286.5,349.0L287.0,349.0 287.4,348.9 287.9,348.6 288.4,348.3 288.9,348.0 289.3,347.5 289.8,347.0 290.3,346.3 290.7,344.7 291.2,342.2 291.7,338.8 292.2,335.1 292.6,331.1 293.1,326.5 293.6,320.5 294.0,313.8 294.5,306.9 295.0,300.5 295.5,294.9 295.9,289.7 296.4,284.6 296.9,279.8 297.3,275.5 297.8,271.8 298.3,268.9 298.8,266.3 299.2,264.0 299.7,262.3 300.2,261.5 300.7,260.8 301.1,260.5 301.6,260.6 302.1,261.2 302.5,262.0 303.0,263.0 303.5,264.3 304.0,265.7 304.4,266.9 304.9,268.2 305.4,269.5 305.8,270.8 306.3,271.9 306.8,272.8 307.3,273.5 307.7,274.1 308.2,274.7 308.7,275.1 309.1,275.4 309.6,275.3 310.1,275.1 310.6,274.9 311.0,274.6 311.5,274.4 312.0,274.1 312.5,273.7 312.9,273.2 313.4,272.6 313.9,271.9 314.3,271.2 314.8,270.5 317.2,266.5 319.6,261.5 321.9,255.5 324.3,249.3 326.7,243.0 329.0,236.5 331.4,230.5 333.8,228.6 336.1,230.2 338.5,234.1 340.9,238.1 343.3,243.0 345.6,249.3 348.0,256.0 350.4,262.1 352.7,267.5 355.1,272.6 357.5,277.6 359.8,282.5 362.2,287.4 364.6,292.1 367.0,296.6 369.3,301.2 371.7,305.8 374.1,310.1 376.4,313.8 378.8,317.1 381.2,320.2 383.6,322.9 385.9,325.3 388.3,327.4 390.7,329.4 393.0,331.3 395.4,333.0 397.8,334.6 400.1,336.0 402.5,337.3 404.9,338.4 407.3,339.6 409.6,340.6 412.0,341.5 414.4,342.4 416.7,343.1 419.1,343.8 421.5,344.4 423.8,345.0 426.2,345.5 428.6,345.9 431.0,346.3 433.3,346.6 435.7,346.9 438.1,347.2 440.4,347.4 442.8,347.7 445.2,347.9 447.5,348.1 449.9,348.2 452.3,348.3 454.7,348.4" stroke="#a020f0" stroke-width="1.5" stroke-opacity="0.75"/>
<path d="M286.5,349.0L287.0,349.0 287.4,348.9 287.9,348.6 288.4,348.3 288.9,348.0 289.3,347.5 289.8,347.0 290.3,346.3 290.7,344.8 291.2,342.2 291.7,338.9 292.2,335.1 292.6,331.2 293.1,326.5 293.6,320.6 294.0,313.9 294.5,306.9 295.0,300.4 295.5,294.7 295.9,289.4 296.4,284.2 296.9,279.4 297.3,275.0 297.8,271.2 298.3,268.3 298.8,265.6 299.2,263.4 299.7,261.8 300.2,261.0 300.7,260.6 301.1,260.5 301.6,261.0 302.1,261.9 302.5,263.2 303.0,264.7 303.5,266.6 304.0,268.7 304.4,270.6 304.9,272.6 305.4,274.7 305.8,276.7 306.3,278.6 306.8,280.3 307.3,281.6 307.7,282.9 308.2,284.0 308.7,284.9 309.1,285.5 309.6,285.8 310.1,285.8 310.6,285.6 311.0,285.3 311.5,284.8 312.0,284.3 312.5,283.6 312.9,282.7 313.4,281.7 313.9,280.6 314.3,279.3 314.8,278.1 317.2,271.6 319.6,265.5 321.9,259.7 324.3,254.3 326.7,249.4 329.0,244.4 331.4,238.9 333.8,233.6 336.1,231.5 338.5,232.5 340.9,235.2 343.3,238.4 345.6,242.9 348.0,249.0 350.4,255.5 352.7,261.3 355.1,266.6 357.5,271.6 359.8,276.6 362.2,281.5 364.6,286.4 367.0,291.2 369.3,295.9 371.7,300.6 374.1,305.3 376.4,309.7 378.8,313.5 381.2,317.0 383.6,320.1 385.9,322.9 388.3,325.3 390.7,327.5 393.0,329.5 395.4,331.4 397.8,333.1 400.1,334.7 402.5,336.1 404.9,337.3 407.3,338.5 409.6,339.6 412.0,340.6 414.4,341.6 416.7,342.4 419.1,343.2 421.5,343.8 423.8,344.4 426.2,345.0 428.6,345.5 431.0,345.9 433.3,346.3 435.7,346.6 438.1,346.9 440.4,347.2 442.8,347.4 445.2,347.7 447.5,347.9 449.9,348.1 452.3,348.2 454.7,348.3" stroke="#a020f0" stroke-width="1.5" stroke-opacity="0.75"/>
<path d="M286.5,349.0L287.0,349.0 287.4,348.9 287.9,348.6 288.4,348.3 288.9,348.0 289.3,347.5 289.8,347.0 290.3,346.4 290.7,344.8 291.2,342.3 291.7,339.0 292.2,335.2 292.6,331.3 293.1,326.7 293.6,320.9 294.0,314.3 294.5,307.5 295.0,301.1 295.5,295.6 295.9,290.4 296.4,285.5 296.9,280.8 297.3,276.6 297.8,273.0 298.3,270.2 298.8,267.7 299.2,265.6 299.7,264.0 300.2,263.3 300.7,262.8 301.1,262.6 301.6,262.9 302.1,263.7 302.5,264.7 303.0,265.9 303.5,267.4 304.0,269.1 304.4,270.7 304.9,272.3 305.4,274.0 305.8,275.6 306.3,277.1 306.8,278.4 307.3,279.5 307.7,280.4 308.2,281.3 308.7,282.0 309.1,282.5 309.6,282.6 310.1,282.6 310.6,282.3 311.0,282.0 311.5,281.6 312.0,281.1 312.5,280.6 312.9,280.0 313.4,279.2 313.9,278.2 314.3,277.3 314.8,276.2 317.2,271.0 319.6,265.9 321.9,260.9 324.3,256.1 326.7,251.8 329.0,247.5 331.4,242.5 333.8,236.9 336.1,233.2 338.5,232.0 340.9,234.2 343.3,236.8 345.6,240.5 348.0,245.9 350.4,252.3 352.7,258.3 355.1,263.6 357.5,268.6 359.8,273.6 362.2,278.5 364.6,283.5 367.0,288.4 369.3,293.3 371.7,298.1 374.1,303.0 376.4,307.7 378.8,311.9 381.2,315.5 383.6,318.9 385.9,321.8 388.3,324.4 390.7,326.7 393.0,328.8 395.4,330.8 397.8,332.5 400.1,334.2 402.5,335.6 404.9,336.9 407.3,338.1 409.6,339.3 412.0,340.3 414.4,341.3 416.7,342.1 419.1,342.9 421.5,343.6 423.8,344.2 426.2,344.8 428.6,345.3 431.0,345.8 433.3,346.2 435.7,346.5 438.1,346.8 440.4,347.1 442.8,347.4 445.2,347.6 447.5,347.8 449.9,348.0 452.3,348.2 454.7,348.3" stroke="#a020f0" stroke-width="1.5" stroke-opacity="0.75"/>
<path d="M286.5,349.0L287.0,349.0 287.4,348.9 287.9,348.6 288.4,348.3 288.9,348.0 289.3,347.5 289.8,347.0 290.3,346.3 290.7,344.7 291.2,342.2 291.7,338.8 292.2,335.0 292.6,331.0 293.1,326.3 293.6,320.3 294.0,313.5 294.5,306.5 295.0,299.8 295.5,294.1 295.9,288.7 296.4,283.3 296.9,278.3 297.3,273.8 297.8,270.0 298.3,266.9 298.8,264.1 299.2,261.8 299.7,260.2 300.2,259.5 300.7,259.1 301.1,259.0 301.6,259.6 302.1,260.8 302.5,262.2 303.0,264.0 303.5,266.1 304.0,268.4 304.4,270.6 304.9,272.9 305.4,275.2 305.8,277.5 306.3,279.6 306.8,281.5 307.3,283.1 307.7,284.5 308.2,285.8 308.7,286.8 309.1,287.5 309.6,287.8 310.1,287.8 310.6,287.6 311.0,287.2 311.5,286.7 312.0,286.1 312.5,285.3 312.9,284.3 313.4,283.1 313.9,281.7 314.3,280.3 314.8,278.9 317.2,271.5 319.6,264.4 321.9,257.6 324.3,251.4 326.7,245.4 329.0,239.4 331.4,233.4 333.8,229.7 336.1,229.3 338.5,232.7 340.9,236.2 343.3,240.3 345.6,245.8 348.0,252.3 350.4,258.5 352.7,263.9 355.1,268.9 357.5,273.9 359.8,278.8 362.2,283.6 364.6,288.5 367.0,293.2 369.3,297.9 371.7,302.7 374.1,307.4 376.4,311.5 378.8,315.2 381.2,318.5 383.6,321.5 385.9,324.1 388.3,326.4 390.7,328.5 393.0,330.5 395.4,332.3 397.8,333.9 400.1,335.4 402.5,336.8 404.9,338.0 407.3,339.1 409.6,340.2 412.0,341.2 414.4,342.0 416.7,342.8 419.1,343.5 421.5,344.1 423.8,344.7 426.2,345.3 428.6,345.7 431.0,346.2 433.3,346.5 435.7,346.8 438.1,347.1 440.4,347.3 442.8,347.6 445.2,347.8 447.5,348.0 449.9,348.1 452.3,348.3 454.7,348.3" stroke="#a020f0" stroke-width="1.5" stroke-opacity="0.75"/>
<path d="M286.5,349.0L287.0,349.0 287.4,348.9 287.9,348.6 288.4,348.3 288.9,348.0 289.3,347.5 289.8,347.0 290.3,346.3 290.7,344.8 291.2,342.2 291.7,338.9 292.2,335.2 292.6,331.3 293.1,326.7 293.6,320.8 294.0,314.2 294.5,307.5 295.0,301.1 295.5,295.7 295.9,290.6 296.4,285.6 296.9,281.0 297.3,276.8 297.8,273.3 298.3,270.6 298.8,268.0 299.2,265.9 299.7,264.3 300.2,263.5 300.7,262.9 301.1,262.6 301.6,262.7 302.1,263.3 302.5,264.1 303.0,265.0 303.5,266.3 304.0,267.6 304.4,268.9 304.9,270.1 305.4,271.4 305.8,272.6 306.3,273.8 306.8,274.7 307.3,275.4 307.7,276.0 308.2,276.6 308.7,277.1 309.1,277.4 309.6,277.4 310.1,277.2 310.6,277.0 311.0,276.7 311.5,276.4 312.0,276.1 312.5,275.7 312.9,275.2 313.4,274.6 313.9,274.0 314.3,273.2 314.8,272.5 317.2,268.5 319.6,264.1 321.9,259.2 324.3,254.5 326.7,250.3 329.0,246.2 331.4,241.7 333.8,237.0 336.1,235.2 338.5,236.2 340.9,238.2 343.3,240.9 345.6,245.4 348.0,251.7 350.4,258.4 352.7,264.3 355.1,269.8 357.5,274.9 359.8,280.0 362.2,284.9 364.6,289.6 367.0,294.2 369.3,298.6 371.7,303.1 374.1,307.5 376.4,311.5 378.8,315.0 381.2,318.1 383.6,321.0 385.9,323.6 388.3,325.8 390.7,327.9 393.0,329.9 395.4,331.7 397.8,333.4 400.1,334.9 402.5,336.3 404.9,337.5 407.3,338.7 409.6,339.8 412.0,340.8 414.4,341.7 416.7,342.5 419.1,343.2 421.5,343.9 423.8,344.5 426.2,345.1 428.6,345.6 431.0,346.0 433.3,346.4 435.7,346.7 438.1,346.9 440.4,347.2 442.8,347.5 445.2,347.7 447.5,347.9 449.9,348.1 452.3,348.2 454.7,348.3" stroke="#a020f0" stroke-width="1.5" stroke-opacity="0.75"/>
</g>
<line x1="308.96" y1="207.17" x2="308.96" y2="354.27" stroke="#2a2a2a" stroke-width="1.4" stroke-dasharray="3.4 3.3" stroke-dashoffset="2.0"/>
<line x1="321.14" y1="207.17" x2="321.14" y2="354.27" stroke="#777" stroke-width="1.4" stroke-dasharray="3.4 3.3" stroke-dashoffset="2.0"/>
<path d="M283.00,207.17 L283.00,354.27 L454.30,354.27" fill="none" stroke="#000" stroke-width="1.9"/>
<line x1="273.80" y1="349.27" x2="283.00" y2="349.27" stroke="#000" stroke-width="1.3"/>
<line x1="273.80" y1="326.57" x2="283.00" y2="326.57" stroke="#000" stroke-width="1.3"/>
<line x1="273.80" y1="303.87" x2="283.00" y2="303.87" stroke="#000" stroke-width="1.3"/>
<line x1="273.80" y1="281.17" x2="283.00" y2="281.17" stroke="#000" stroke-width="1.3"/>
<line x1="273.80" y1="258.47" x2="283.00" y2="258.47" stroke="#000" stroke-width="1.3"/>
<line x1="273.80" y1="235.77" x2="283.00" y2="235.77" stroke="#000" stroke-width="1.3"/>
<line x1="273.80" y1="213.07" x2="283.00" y2="213.07" stroke="#000" stroke-width="1.3"/>
<text transform="translate(270.60,349.27) rotate(-90)" text-anchor="middle">0.00</text>
<text transform="translate(270.60,303.87) rotate(-90)" text-anchor="middle">0.10</text>
<text transform="translate(270.60,258.47) rotate(-90)" text-anchor="middle">0.20</text>
<text transform="translate(270.60,213.07) rotate(-90)" text-anchor="middle">0.30</text>
<line x1="289.50" y1="354.27" x2="289.50" y2="363.27" stroke="#000" stroke-width="1.3"/>
<text x="289.50" y="377.47" text-anchor="middle">6</text>
<line x1="321.14" y1="354.27" x2="321.14" y2="363.27" stroke="#000" stroke-width="1.3"/>
<text x="321.14" y="377.47" text-anchor="middle">8</text>
<line x1="352.78" y1="354.27" x2="352.78" y2="363.27" stroke="#000" stroke-width="1.3"/>
<text x="352.78" y="377.47" text-anchor="middle">10</text>
<line x1="384.42" y1="354.27" x2="384.42" y2="363.27" stroke="#000" stroke-width="1.3"/>
<text x="384.42" y="377.47" text-anchor="middle">12</text>
<line x1="416.06" y1="354.27" x2="416.06" y2="363.27" stroke="#000" stroke-width="1.3"/>
<text x="416.06" y="377.47" text-anchor="middle">14</text>
<line x1="447.70" y1="354.27" x2="447.70" y2="363.27" stroke="#000" stroke-width="1.3"/>
<text x="447.70" y="377.47" text-anchor="middle">16</text>
<text x="368.65" y="389.87" text-anchor="middle">log2(Intron length)</text>
<text transform="translate(258.80,280.72) rotate(-90)" text-anchor="middle">Density</text>
<text x="401.97" y="222.27" font-size="9.15">Gadiformes</text>
<text x="231.50" y="215.97" font-size="23.2" stroke="none" stroke-width="0.5">D</text></g>
<g font-family="&quot;Liberation Sans&quot;, sans-serif" font-size="11" fill="#000" stroke="#000" stroke-width="0.22"><clipPath id="clipE"><rect x="513.50" y="207.17" width="171.30" height="147.10"/></clipPath>
<g fill="none" stroke-linejoin="round" stroke-linecap="round" clip-path="url(#clipE)">
<path d="M516.0,349.3L516.5,349.2 517.0,349.1 517.5,349.0 518.0,348.7 518.5,348.5 519.0,348.0 519.5,347.2 519.9,346.0 520.4,344.0 520.9,340.7 521.4,336.9 521.9,332.1 522.4,326.6 522.9,321.1 523.4,315.2 523.8,308.9 524.3,302.7 524.8,296.9 525.3,291.8 525.8,287.3 526.3,282.8 526.8,278.6 527.3,275.0 527.8,272.5 528.2,271.1 528.7,270.1 529.2,269.3 529.7,268.7 530.2,268.3 530.7,268.1 531.2,268.1 531.7,268.3 532.1,268.5 532.6,268.7 533.1,269.0 533.6,269.3 534.1,269.6 534.6,269.8 535.1,270.0 535.6,270.2 536.0,270.5 536.5,270.7 537.0,271.0 537.5,271.2 538.0,271.3 538.5,271.5 539.0,271.6 539.5,271.6 539.9,271.5 540.4,271.1 540.9,270.5 541.4,269.9 541.9,269.2 542.4,268.6 542.9,268.1 543.4,267.7 543.8,267.3 544.3,266.8 544.8,266.4 545.3,266.1 547.7,265.9 550.1,267.7 552.4,270.4 554.8,273.8 557.2,278.0 559.5,282.3 561.9,285.9 564.3,289.4 566.6,292.6 569.0,295.2 571.4,297.2 573.8,298.8 576.1,300.2 578.5,301.6 580.9,303.0 583.2,304.9 585.6,306.6 588.0,307.0 590.3,305.6 592.7,303.7 595.1,302.9 597.5,304.2 599.8,305.7 602.2,307.3 604.6,308.9 606.9,310.5 609.3,312.0 611.7,313.7 614.1,315.4 616.4,317.5 618.8,319.7 621.2,321.8 623.5,323.8 625.9,325.6 628.3,327.4 630.6,329.2 633.0,330.9 635.4,332.5 637.8,334.0 640.1,335.3 642.5,336.7 644.9,338.0 647.2,339.2 649.6,340.3 652.0,341.3 654.3,342.2 656.7,343.0 659.1,343.8 661.5,344.5 663.8,345.2 666.2,345.8 668.6,346.3 670.9,346.6 673.3,347.0 675.7,347.3 678.0,347.6 680.4,347.8 682.8,348.0 685.2,348.1" stroke="#cd6600" stroke-width="1.3" stroke-opacity="0.6"/>
<path d="M516.0,349.3L516.5,349.2 517.0,349.1 517.5,349.0 518.0,348.7 518.5,348.5 519.0,348.0 519.5,347.1 519.9,346.0 520.4,344.0 520.9,340.7 521.4,336.8 521.9,331.9 522.4,326.4 522.9,320.8 523.4,314.7 523.8,308.3 524.3,302.0 524.8,296.0 525.3,290.8 525.8,286.2 526.3,281.5 526.8,277.2 527.3,273.5 527.8,270.9 528.2,269.4 528.7,268.4 529.2,267.5 529.7,266.9 530.2,266.4 530.7,266.2 531.2,266.2 531.7,266.4 532.1,266.7 532.6,267.0 533.1,267.3 533.6,267.5 534.1,267.7 534.6,267.8 535.1,267.9 535.6,267.9 536.0,268.0 536.5,268.1 537.0,268.1 537.5,268.2 538.0,268.2 538.5,268.3 539.0,268.3 539.5,268.3 539.9,268.0 540.4,267.4 540.9,266.5 541.4,265.4 541.9,264.3 542.4,263.3 542.9,262.4 543.4,261.7 543.8,260.9 544.3,260.1 544.8,259.4 545.3,258.7 547.7,258.3 550.1,260.8 552.4,265.4 554.8,270.8 557.2,276.8 559.5,282.4 561.9,286.7 564.3,290.5 566.6,293.8 569.0,296.5 571.4,298.4 573.8,299.8 576.1,301.1 578.5,302.3 580.9,303.6 583.2,305.4 585.6,306.9 588.0,307.2 590.3,305.7 592.7,303.8 595.1,303.0 597.5,304.2 599.8,305.7 602.2,307.3 604.6,308.9 606.9,310.5 609.3,312.0 611.7,313.7 614.1,315.4 616.4,317.5 618.8,319.7 621.2,321.8 623.5,323.8 625.9,325.6 628.3,327.4 630.6,329.2 633.0,330.9 635.4,332.5 637.8,334.0 640.1,335.3 642.5,336.7 644.9,338.0 647.2,339.2 649.6,340.3 652.0,341.3 654.3,342.2 656.7,343.0 659.1,343.8 661.5,344.5 663.8,345.2 666.2,345.8 668.6,346.3 670.9,346.6 673.3,347.0 675.7,347.3 678.0,347.6 680.4,347.8 682.8,348.0 685.2,348.1" stroke="#cd6600" stroke-width="1.3" stroke-opacity="0.6"/>
<path d="M516.0,349.3L516.5,349.2 517.0,349.1 517.5,349.0 518.0,348.7 518.5,348.5 519.0,348.0 519.5,347.1 519.9,346.0 520.4,343.9 520.9,340.6 521.4,336.7 521.9,331.8 522.4,326.1 522.9,320.4 523.4,314.2 523.8,307.7 524.3,301.3 524.8,295.2 525.3,289.9 525.8,285.1 526.3,280.3 526.8,275.8 527.3,272.0 527.8,269.3 528.2,267.8 528.7,266.7 529.2,265.8 529.7,265.1 530.2,264.6 530.7,264.4 531.2,264.5 531.7,264.7 532.1,265.0 532.6,265.3 533.1,265.7 533.6,266.0 534.1,266.3 534.6,266.5 535.1,266.7 535.6,267.0 536.0,267.2 536.5,267.4 537.0,267.6 537.5,267.8 538.0,268.0 538.5,268.1 539.0,268.2 539.5,268.2 539.9,268.0 540.4,267.5 540.9,266.7 541.4,265.8 541.9,264.9 542.4,264.1 542.9,263.4 543.4,262.8 543.8,262.2 544.3,261.6 544.8,261.1 545.3,260.6 547.7,260.5 550.1,263.5 552.4,268.4 554.8,274.2 557.2,280.6 559.5,286.7 561.9,291.4 564.3,295.6 566.6,299.2 569.0,301.8 571.4,303.1 573.8,304.0 576.1,304.7 578.5,305.4 580.9,306.2 583.2,307.2 585.6,308.1 588.0,308.2 590.3,306.4 592.7,304.2 595.1,303.2 597.5,304.4 599.8,305.8 602.2,307.3 604.6,308.9 606.9,310.5 609.3,312.0 611.7,313.7 614.1,315.4 616.4,317.5 618.8,319.7 621.2,321.8 623.5,323.8 625.9,325.6 628.3,327.4 630.6,329.2 633.0,330.9 635.4,332.5 637.8,334.0 640.1,335.3 642.5,336.7 644.9,338.0 647.2,339.2 649.6,340.3 652.0,341.3 654.3,342.2 656.7,343.0 659.1,343.8 661.5,344.5 663.8,345.2 666.2,345.8 668.6,346.3 670.9,346.6 673.3,347.0 675.7,347.3 678.0,347.6 680.4,347.8 682.8,348.0 685.2,348.1" stroke="#cd6600" stroke-width="1.3" stroke-opacity="0.6"/>
<path d="M516.0,349.3L516.5,349.2 517.0,349.1 517.5,349.0 518.0,348.7 518.5,348.5 519.0,348.0 519.5,347.1 519.9,346.0 520.4,343.9 520.9,340.5 521.4,336.6 521.9,331.6 522.4,325.9 522.9,320.1 523.4,313.8 523.8,307.2 524.3,300.6 524.8,294.3 525.3,288.9 525.8,284.0 526.3,279.0 526.8,274.4 527.3,270.5 527.8,267.7 528.2,266.1 528.7,265.0 529.2,264.1 529.7,263.3 530.2,262.8 530.7,262.6 531.2,262.7 531.7,262.9 532.1,263.2 532.6,263.6 533.1,264.0 533.6,264.4 534.1,264.8 534.6,265.1 535.1,265.5 535.6,265.9 536.0,266.2 536.5,266.6 537.0,267.0 537.5,267.3 538.0,267.6 538.5,267.8 539.0,267.9 539.5,268.0 539.9,267.8 540.4,267.4 540.9,266.8 541.4,266.1 541.9,265.4 542.4,264.7 542.9,264.1 543.4,263.6 543.8,263.0 544.3,262.5 544.8,262.0 545.3,261.5 547.7,261.3 550.1,263.3 552.4,266.7 554.8,270.9 557.2,275.5 559.5,280.1 561.9,283.9 564.3,287.3 566.6,290.4 569.0,293.0 571.4,295.2 573.8,297.0 576.1,298.7 578.5,300.3 580.9,302.0 583.2,304.2 585.6,306.1 588.0,306.5 590.3,305.3 592.7,303.6 595.1,302.8 597.5,304.1 599.8,305.7 602.2,307.3 604.6,308.9 606.9,310.5 609.3,312.0 611.7,313.7 614.1,315.4 616.4,317.5 618.8,319.7 621.2,321.8 623.5,323.8 625.9,325.6 628.3,327.4 630.6,329.2 633.0,330.9 635.4,332.5 637.8,334.0 640.1,335.3 642.5,336.7 644.9,338.0 647.2,339.2 649.6,340.3 652.0,341.3 654.3,342.2 656.7,343.0 659.1,343.8 661.5,344.5 663.8,345.2 666.2,345.8 668.6,346.3 670.9,346.6 673.3,347.0 675.7,347.3 678.0,347.6 680.4,347.8 682.8,348.0 685.2,348.1" stroke="#cd6600" stroke-width="1.3" stroke-opacity="0.6"/>
<path d="M516.0,349.3L516.5,349.2 517.0,349.1 517.5,349.0 518.0,348.7 518.5,348.5 519.0,347.9 519.5,347.1 519.9,345.9 520.4,343.9 520.9,340.4 521.4,336.5 521.9,331.4 522.4,325.6 522.9,319.7 523.4,313.3 523.8,306.6 524.3,299.8 524.8,293.5 525.3,287.9 525.8,282.9 526.3,277.8 526.8,273.1 527.3,269.0 527.8,266.1 528.2,264.5 528.7,263.3 529.2,262.4 529.7,261.6 530.2,261.1 530.7,260.8 531.2,260.9 531.7,261.1 532.1,261.5 532.6,261.9 533.1,262.4 533.6,262.9 534.1,263.3 534.6,263.7 535.1,264.1 535.6,264.6 536.0,265.0 536.5,265.5 537.0,265.9 537.5,266.3 538.0,266.7 538.5,267.0 539.0,267.1 539.5,267.2 539.9,267.0 540.4,266.6 540.9,266.1 541.4,265.4 541.9,264.7 542.4,264.1 542.9,263.6 543.4,263.1 543.8,262.7 544.3,262.3 544.8,261.8 545.3,261.5 547.7,261.6 550.1,264.7 552.4,269.4 554.8,274.9 557.2,281.1 559.5,287.0 561.9,291.6 564.3,295.9 566.6,299.5 569.0,302.0 571.4,303.3 573.8,304.2 576.1,304.9 578.5,305.6 580.9,306.3 583.2,307.3 585.6,308.1 588.0,308.3 590.3,306.4 592.7,304.2 595.1,303.3 597.5,304.4 599.8,305.8 602.2,307.3 604.6,308.9 606.9,310.5 609.3,312.0 611.7,313.7 614.1,315.4 616.4,317.5 618.8,319.7 621.2,321.8 623.5,323.8 625.9,325.6 628.3,327.4 630.6,329.2 633.0,330.9 635.4,332.5 637.8,334.0 640.1,335.3 642.5,336.7 644.9,338.0 647.2,339.2 649.6,340.3 652.0,341.3 654.3,342.2 656.7,343.0 659.1,343.8 661.5,344.5 663.8,345.2 666.2,345.8 668.6,346.3 670.9,346.6 673.3,347.0 675.7,347.3 678.0,347.6 680.4,347.8 682.8,348.0 685.2,348.1" stroke="#cd6600" stroke-width="1.3" stroke-opacity="0.6"/>
<path d="M516.0,349.3L516.5,349.2 517.0,349.1 517.5,348.9 518.0,348.7 518.5,348.5 519.0,347.9 519.5,347.1 519.9,345.9 520.4,343.8 520.9,340.4 521.4,336.3 521.9,331.2 522.4,325.3 522.9,319.4 523.4,312.9 523.8,306.0 524.3,299.1 524.8,292.6 525.3,286.9 525.8,281.7 526.3,276.5 526.8,271.7 527.3,267.5 527.8,264.5 528.2,262.8 528.7,261.6 529.2,260.5 529.7,259.7 530.2,259.2 530.7,258.9 531.2,259.0 531.7,259.3 532.1,259.6 532.6,260.1 533.1,260.6 533.6,261.0 534.1,261.4 534.6,261.7 535.1,262.1 535.6,262.4 536.0,262.8 536.5,263.1 537.0,263.4 537.5,263.7 538.0,263.9 538.5,264.1 539.0,264.2 539.5,264.2 539.9,264.0 540.4,263.4 540.9,262.6 541.4,261.6 541.9,260.5 542.4,259.5 542.9,258.6 543.4,257.9 543.8,257.0 544.3,256.2 544.8,255.4 545.3,254.7 547.7,254.2 550.1,256.6 552.4,261.2 554.8,266.7 557.2,272.3 559.5,277.6 561.9,281.7 564.3,285.1 566.6,288.1 569.0,290.8 571.4,293.1 573.8,295.2 576.1,297.1 578.5,298.9 580.9,300.9 583.2,303.4 585.6,305.5 588.0,306.1 590.3,305.0 592.7,303.4 595.1,302.7 597.5,304.0 599.8,305.6 602.2,307.2 604.6,308.9 606.9,310.5 609.3,312.0 611.7,313.7 614.1,315.4 616.4,317.5 618.8,319.7 621.2,321.8 623.5,323.8 625.9,325.6 628.3,327.4 630.6,329.2 633.0,330.9 635.4,332.5 637.8,334.0 640.1,335.3 642.5,336.7 644.9,338.0 647.2,339.2 649.6,340.3 652.0,341.3 654.3,342.2 656.7,343.0 659.1,343.8 661.5,344.5 663.8,345.2 666.2,345.8 668.6,346.3 670.9,346.6 673.3,347.0 675.7,347.3 678.0,347.6 680.4,347.8 682.8,348.0 685.2,348.1" stroke="#cd6600" stroke-width="1.3" stroke-opacity="0.6"/>
<path d="M516.0,349.3L516.5,349.2 517.0,349.1 517.5,348.9 518.0,348.7 518.5,348.4 519.0,347.9 519.5,347.1 519.9,345.9 520.4,343.8 520.9,340.3 521.4,336.2 521.9,331.0 522.4,325.1 522.9,319.0 523.4,312.4 523.8,305.4 524.3,298.4 524.8,291.8 525.3,285.9 525.8,280.6 526.3,275.3 526.8,270.3 527.3,266.0 527.8,262.9 528.2,261.1 528.7,259.9 529.2,258.8 529.7,258.0 530.2,257.4 530.7,257.1 531.2,257.2 531.7,257.5 532.1,257.9 532.6,258.4 533.1,258.9 533.6,259.4 534.1,259.9 534.6,260.2 535.1,260.6 535.6,261.0 536.0,261.4 536.5,261.8 537.0,262.1 537.5,262.4 538.0,262.7 538.5,262.9 539.0,263.1 539.5,263.1 539.9,262.9 540.4,262.3 540.9,261.4 541.4,260.4 541.9,259.3 542.4,258.3 542.9,257.4 543.4,256.7 543.8,255.8 544.3,255.0 544.8,254.2 545.3,253.5 547.7,253.0 550.1,255.6 552.4,260.7 554.8,266.6 557.2,272.7 559.5,278.3 561.9,282.6 564.3,286.2 566.6,289.2 569.0,291.9 571.4,294.2 573.8,296.1 576.1,297.9 578.5,299.6 580.9,301.4 583.2,303.8 585.6,305.8 588.0,306.3 590.3,305.2 592.7,303.5 595.1,302.7 597.5,304.1 599.8,305.6 602.2,307.2 604.6,308.9 606.9,310.5 609.3,312.0 611.7,313.7 614.1,315.4 616.4,317.5 618.8,319.7 621.2,321.8 623.5,323.8 625.9,325.6 628.3,327.4 630.6,329.2 633.0,330.9 635.4,332.5 637.8,334.0 640.1,335.3 642.5,336.7 644.9,338.0 647.2,339.2 649.6,340.3 652.0,341.3 654.3,342.2 656.7,343.0 659.1,343.8 661.5,344.5 663.8,345.2 666.2,345.8 668.6,346.3 670.9,346.6 673.3,347.0 675.7,347.3 678.0,347.6 680.4,347.8 682.8,348.0 685.2,348.1" stroke="#cd6600" stroke-width="1.3" stroke-opacity="0.6"/>
<path d="M516.0,349.3L516.5,349.2 517.0,349.1 517.5,348.9 518.0,348.7 518.5,348.4 519.0,347.9 519.5,347.1 519.9,345.9 520.4,343.7 520.9,340.2 521.4,336.1 521.9,330.9 522.4,324.8 522.9,318.7 523.4,312.0 523.8,304.8 524.3,297.7 524.8,290.9 525.3,285.0 525.8,279.5 526.3,274.1 526.8,268.9 527.3,264.5 527.8,261.3 528.2,259.5 528.7,258.3 529.2,257.2 529.7,256.3 530.2,255.7 530.7,255.5 531.2,255.5 531.7,255.9 532.1,256.3 532.6,256.9 533.1,257.6 533.6,258.3 534.1,258.9 534.6,259.5 535.1,260.3 535.6,261.1 536.0,262.0 536.5,262.8 537.0,263.7 537.5,264.5 538.0,265.2 538.5,265.7 539.0,266.1 539.5,266.2 539.9,266.1 540.4,266.0 540.9,265.8 541.4,265.6 541.9,265.3 542.4,265.1 542.9,264.9 543.4,264.8 543.8,264.6 544.3,264.5 544.8,264.3 545.3,264.2 547.7,264.5 550.1,267.3 552.4,270.9 554.8,275.2 557.2,280.2 559.5,285.1 561.9,289.2 564.3,293.0 566.6,296.5 569.0,299.0 571.4,300.7 573.8,301.9 576.1,302.9 578.5,303.8 580.9,304.9 583.2,306.3 585.6,307.5 588.0,307.7 590.3,306.0 592.7,304.0 595.1,303.1 597.5,304.3 599.8,305.7 602.2,307.3 604.6,308.9 606.9,310.5 609.3,312.0 611.7,313.7 614.1,315.4 616.4,317.5 618.8,319.7 621.2,321.8 623.5,323.8 625.9,325.6 628.3,327.4 630.6,329.2 633.0,330.9 635.4,332.5 637.8,334.0 640.1,335.3 642.5,336.7 644.9,338.0 647.2,339.2 649.6,340.3 652.0,341.3 654.3,342.2 656.7,343.0 659.1,343.8 661.5,344.5 663.8,345.2 666.2,345.8 668.6,346.3 670.9,346.6 673.3,347.0 675.7,347.3 678.0,347.6 680.4,347.8 682.8,348.0 685.2,348.1" stroke="#cd6600" stroke-width="1.3" stroke-opacity="0.6"/>
<path d="M516.0,349.3L516.5,349.2 517.0,349.1 517.5,348.9 518.0,348.7 518.5,348.4 519.0,347.9 519.5,347.0 519.9,345.8 520.4,343.7 520.9,340.1 521.4,336.0 521.9,330.7 522.4,324.6 522.9,318.3 523.4,311.5 523.8,304.3 524.3,297.0 524.8,290.1 525.3,284.0 525.8,278.4 526.3,272.8 526.8,267.5 527.3,263.0 527.8,259.7 528.2,257.9 528.7,256.5 529.2,255.4 529.7,254.5 530.2,253.9 530.7,253.7 531.2,253.7 531.7,254.1 532.1,254.6 532.6,255.2 533.1,256.0 533.6,256.7 534.1,257.4 534.6,258.0 535.1,258.8 535.6,259.7 536.0,260.6 536.5,261.5 537.0,262.5 537.5,263.3 538.0,264.0 538.5,264.6 539.0,265.0 539.5,265.1 539.9,265.1 540.4,264.9 540.9,264.7 541.4,264.5 541.9,264.2 542.4,264.0 542.9,263.8 543.4,263.7 543.8,263.5 544.3,263.4 544.8,263.2 545.3,263.1 547.7,263.5 550.1,266.7 552.4,270.8 554.8,275.7 557.2,281.3 559.5,286.7 561.9,291.1 564.3,295.1 566.6,298.7 569.0,301.2 571.4,302.6 573.8,303.6 576.1,304.4 578.5,305.1 580.9,305.9 583.2,307.0 585.6,308.0 588.0,308.1 590.3,306.3 592.7,304.1 595.1,303.2 597.5,304.4 599.8,305.8 602.2,307.3 604.6,308.9 606.9,310.5 609.3,312.0 611.7,313.7 614.1,315.4 616.4,317.5 618.8,319.7 621.2,321.8 623.5,323.8 625.9,325.6 628.3,327.4 630.6,329.2 633.0,330.9 635.4,332.5 637.8,334.0 640.1,335.3 642.5,336.7 644.9,338.0 647.2,339.2 649.6,340.3 652.0,341.3 654.3,342.2 656.7,343.0 659.1,343.8 661.5,344.5 663.8,345.2 666.2,345.8 668.6,346.3 670.9,346.6 673.3,347.0 675.7,347.3 678.0,347.6 680.4,347.8 682.8,348.0 685.2,348.1" stroke="#cd6600" stroke-width="1.3" stroke-opacity="0.6"/>
<path d="M516.0,349.3L516.5,349.2 517.0,349.1 517.5,348.9 518.0,348.7 518.5,348.4 519.0,347.9 519.5,347.0 519.9,345.8 520.4,343.6 520.9,340.1 521.4,335.9 521.9,330.5 522.4,324.3 522.9,318.0 523.4,311.0 523.8,303.7 524.3,296.3 524.8,289.2 525.3,283.0 525.8,277.3 526.3,271.6 526.8,266.1 527.3,261.5 527.8,258.1 528.2,256.2 528.7,254.8 529.2,253.6 529.7,252.6 530.2,252.0 530.7,251.7 531.2,251.8 531.7,252.1 532.1,252.7 532.6,253.3 533.1,254.0 533.6,254.6 534.1,255.2 534.6,255.8 535.1,256.3 535.6,257.0 536.0,257.6 536.5,258.2 537.0,258.8 537.5,259.3 538.0,259.8 538.5,260.2 539.0,260.4 539.5,260.5 539.9,260.3 540.4,259.7 540.9,259.0 541.4,258.1 541.9,257.1 542.4,256.2 542.9,255.4 543.4,254.7 543.8,253.9 544.3,253.1 544.8,252.4 545.3,251.7 547.7,251.3 550.1,254.3 552.4,259.7 554.8,265.9 557.2,272.3 559.5,278.1 561.9,282.5 564.3,286.1 566.6,289.1 569.0,291.8 571.4,294.1 573.8,296.0 576.1,297.8 578.5,299.5 580.9,301.4 583.2,303.7 585.6,305.8 588.0,306.3 590.3,305.1 592.7,303.5 595.1,302.7 597.5,304.1 599.8,305.6 602.2,307.2 604.6,308.9 606.9,310.5 609.3,312.0 611.7,313.7 614.1,315.4 616.4,317.5 618.8,319.7 621.2,321.8 623.5,323.8 625.9,325.6 628.3,327.4 630.6,329.2 633.0,330.9 635.4,332.5 637.8,334.0 640.1,335.3 642.5,336.7 644.9,338.0 647.2,339.2 649.6,340.3 652.0,341.3 654.3,342.2 656.7,343.0 659.1,343.8 661.5,344.5 663.8,345.2 666.2,345.8 668.6,346.3 670.9,346.6 673.3,347.0 675.7,347.3 678.0,347.6 680.4,347.8 682.8,348.0 685.2,348.1" stroke="#cd6600" stroke-width="1.3" stroke-opacity="0.6"/>
<path d="M516.0,349.3L516.5,349.2 517.0,349.1 517.5,348.9 518.0,348.7 518.5,348.4 519.0,347.9 519.5,347.0 519.9,345.8 520.4,343.6 520.9,340.0 521.4,335.7 521.9,330.3 522.4,324.1 522.9,317.6 523.4,310.6 523.8,303.1 524.3,295.6 524.8,288.4 525.3,282.0 525.8,276.2 526.3,270.3 526.8,264.8 527.3,260.0 527.8,256.5 528.2,254.5 528.7,253.1 529.2,251.9 529.7,250.9 530.2,250.3 530.7,250.0 531.2,250.1 531.7,250.4 532.1,251.0 532.6,251.7 533.1,252.5 533.6,253.3 534.1,254.0 534.6,254.6 535.1,255.4 535.6,256.2 536.0,257.1 536.5,258.0 537.0,258.8 537.5,259.6 538.0,260.3 538.5,260.8 539.0,261.1 539.5,261.3 539.9,261.1 540.4,260.8 540.9,260.4 541.4,259.8 541.9,259.2 542.4,258.7 542.9,258.2 543.4,257.8 543.8,257.3 544.3,256.8 544.8,256.4 545.3,256.0 547.7,256.0 550.1,259.3 552.4,264.5 554.8,270.4 557.2,276.7 559.5,282.5 561.9,287.0 564.3,290.9 566.6,294.2 569.0,296.8 571.4,298.7 573.8,300.1 576.1,301.4 578.5,302.5 580.9,303.8 583.2,305.5 585.6,306.9 588.0,307.3 590.3,305.8 592.7,303.8 595.1,303.0 597.5,304.2 599.8,305.7 602.2,307.3 604.6,308.9 606.9,310.5 609.3,312.0 611.7,313.7 614.1,315.4 616.4,317.5 618.8,319.7 621.2,321.8 623.5,323.8 625.9,325.6 628.3,327.4 630.6,329.2 633.0,330.9 635.4,332.5 637.8,334.0 640.1,335.3 642.5,336.7 644.9,338.0 647.2,339.2 649.6,340.3 652.0,341.3 654.3,342.2 656.7,343.0 659.1,343.8 661.5,344.5 663.8,345.2 666.2,345.8 668.6,346.3 670.9,346.6 673.3,347.0 675.7,347.3 678.0,347.6 680.4,347.8 682.8,348.0 685.2,348.1" stroke="#cd6600" stroke-width="1.3" stroke-opacity="0.6"/>
<path d="M516.0,349.3L516.5,349.2 517.0,349.1 517.5,348.9 518.0,348.7 518.5,348.5 519.0,348.0 519.5,347.1 519.9,345.9 520.4,343.4 520.9,338.9 521.4,333.6 521.9,328.2 522.4,321.9 522.9,315.1 523.4,308.1 523.8,301.1 524.3,293.7 524.8,285.9 525.3,278.0 525.8,270.3 526.3,263.0 526.8,256.5 527.3,250.9 527.8,246.1 528.2,241.3 528.7,236.8 529.2,232.7 529.7,229.2 530.2,226.4 530.7,224.6 531.2,223.4 531.7,222.4 532.1,221.5 532.6,220.8 533.1,220.3 533.6,220.1 534.1,220.2 534.6,220.7 535.1,221.6 535.6,222.7 536.0,223.9 536.5,225.0 537.0,226.1 537.5,227.2 538.0,228.4 538.5,229.6 539.0,230.8 539.5,231.8 539.9,232.7 540.4,233.5 540.9,234.2 541.4,234.9 541.9,235.5 542.4,236.2 542.9,236.8 543.4,237.4 543.8,238.1 544.3,238.8 544.8,239.5 545.3,240.2 547.7,243.5 550.1,247.0 552.4,251.2 554.8,256.1 557.2,261.3 559.5,266.7 561.9,272.3 564.3,277.5 566.6,281.8 569.0,285.4 571.4,288.6 573.8,291.5 576.1,294.2 578.5,296.8 580.9,299.2 583.2,301.5 585.6,303.7 588.0,306.0 590.3,308.2 592.7,310.3 595.1,312.5 597.5,314.7 599.8,316.9 602.2,319.3 604.6,321.8 606.9,324.3 609.3,326.7 611.7,328.8 614.1,330.6 616.4,332.1 618.8,333.6 621.2,334.8 623.5,336.0 625.9,337.0 628.3,338.0 630.6,338.9 633.0,339.7 635.4,340.5 637.8,341.2 640.1,341.9 642.5,342.6 644.9,343.3 647.2,343.9 649.6,344.5 652.0,345.0 654.3,345.4 656.7,345.7 659.1,346.1 661.5,346.4 663.8,346.7 666.2,347.1 668.6,347.3 670.9,347.6 673.3,347.9 675.7,348.1 678.0,348.2 680.4,348.4 682.8,348.5 685.2,348.5" stroke="#cd6600" stroke-width="1.2" stroke-opacity="0.5"/>
<path d="M516.0,349.3L516.5,349.2 517.0,349.1 517.5,348.9 518.0,348.7 518.5,348.5 519.0,347.9 519.5,347.1 519.9,345.9 520.4,343.7 520.9,339.9 521.4,335.3 521.9,330.4 522.4,324.5 522.9,318.0 523.4,311.6 523.8,304.6 524.3,297.2 524.8,289.7 525.3,282.7 525.8,276.6 526.3,271.8 526.8,267.9 527.3,264.0 527.8,260.3 528.2,256.9 528.7,253.9 529.2,251.3 529.7,249.2 530.2,247.9 530.7,247.3 531.2,247.4 531.7,247.6 532.1,248.0 532.6,248.4 533.1,249.0 533.6,249.6 534.1,250.2 534.6,250.8 535.1,251.3 535.6,251.8 536.0,252.1 536.5,252.5 537.0,252.9 537.5,253.3 538.0,253.7 538.5,254.1 539.0,254.4 539.5,254.8 539.9,255.1 540.4,255.4 540.9,255.7 541.4,255.9 541.9,256.1 542.4,256.2 542.9,256.3 543.4,256.2 543.8,256.0 544.3,255.7 544.8,255.1 545.3,254.5 547.7,250.4 550.1,246.7 552.4,244.2 554.8,242.4 557.2,242.9 559.5,245.6 561.9,249.2 564.3,255.1 566.6,261.9 569.0,267.8 571.4,273.4 573.8,278.5 576.1,282.4 578.5,285.5 580.9,288.2 583.2,290.9 585.6,293.7 588.0,296.6 590.3,299.5 592.7,302.3 595.1,305.0 597.5,307.5 599.8,310.0 602.2,312.5 604.6,315.0 606.9,317.6 609.3,320.2 611.7,322.7 614.1,324.9 616.4,327.0 618.8,328.9 621.2,330.6 623.5,332.2 625.9,333.6 628.3,335.0 630.6,336.3 633.0,337.5 635.4,338.6 637.8,339.6 640.1,340.5 642.5,341.4 644.9,342.3 647.2,343.1 649.6,343.8 652.0,344.5 654.3,345.0 656.7,345.4 659.1,345.8 661.5,346.2 663.8,346.6 666.2,346.9 668.6,347.3 670.9,347.6 673.3,347.8 675.7,348.1 678.0,348.2 680.4,348.4 682.8,348.5 685.2,348.5" stroke="#cd6600" stroke-width="1.2" stroke-opacity="0.5"/>
<path d="M516.0,349.3L516.5,349.2 517.0,349.1 517.5,348.9 518.0,348.7 518.5,348.5 519.0,347.9 519.5,347.1 519.9,345.9 520.4,343.8 520.9,340.4 521.4,336.3 521.9,331.2 522.4,325.3 522.9,319.4 523.4,313.0 523.8,306.2 524.3,299.5 524.8,293.2 525.3,287.7 525.8,283.0 526.3,278.5 526.8,274.5 527.3,270.8 527.8,267.5 528.2,264.6 528.7,261.7 529.2,258.9 529.7,256.5 530.2,254.7 530.7,253.9 531.2,254.0 531.7,254.4 532.1,254.9 532.6,255.6 533.1,256.3 533.6,257.0 534.1,257.7 534.6,258.2 535.1,258.9 535.6,259.6 536.0,260.3 536.5,261.0 537.0,261.7 537.5,262.3 538.0,262.9 538.5,263.3 539.0,263.6 539.5,263.7 539.9,263.7 540.4,263.7 540.9,263.7 541.4,263.7 541.9,263.7 542.4,263.7 542.9,263.7 543.4,263.7 543.8,263.7 544.3,263.7 544.8,263.7 545.3,263.7 547.7,263.7 550.1,264.1 552.4,265.0 554.8,266.6 557.2,271.2 559.5,276.8 561.9,280.9 564.3,284.2 566.6,287.2 569.0,290.1 571.4,292.9 573.8,295.6 576.1,298.2 578.5,300.7 580.9,303.2 583.2,305.6 585.6,307.9 588.0,310.2 590.3,312.5 592.7,314.7 595.1,317.1 597.5,319.5 599.8,322.0 602.2,324.5 604.6,326.9 606.9,329.1 609.3,331.2 611.7,333.1 614.1,334.8 616.4,336.3 618.8,337.6 621.2,338.8 623.5,339.8 625.9,340.8 628.3,341.7 630.6,342.5 633.0,343.3 635.4,343.9 637.8,344.4 640.1,344.8 642.5,345.2 644.9,345.5 647.2,345.9 649.6,346.2 652.0,346.5 654.3,346.8 656.7,347.1 659.1,347.4 661.5,347.6 663.8,347.8 666.2,348.0 668.6,348.2 670.9,348.4 673.3,348.5 675.7,348.7 678.0,348.8 680.4,348.8 682.8,348.9 685.2,348.9" stroke="#cd6600" stroke-width="1.2" stroke-opacity="0.5"/>
<path d="M516.0,349.3L516.5,349.2 517.0,349.1 517.5,348.9 518.0,348.7 518.5,348.4 519.0,347.9 519.5,347.0 519.9,345.8 520.4,343.7 520.9,340.1 521.4,336.0 521.9,330.8 522.4,324.8 522.9,318.7 523.4,312.2 523.8,305.3 524.3,298.4 524.8,291.9 525.3,286.3 525.8,281.5 526.3,277.0 526.8,272.8 527.3,269.0 527.8,265.7 528.2,262.7 528.7,259.8 529.2,256.9 529.7,254.4 530.2,252.6 530.7,251.8 531.2,251.9 531.7,252.2 532.1,252.7 532.6,253.4 533.1,254.1 533.6,254.8 534.1,255.4 534.6,256.0 535.1,256.6 535.6,257.2 536.0,257.9 536.5,258.6 537.0,259.3 537.5,259.9 538.0,260.4 538.5,260.8 539.0,261.0 539.5,261.1 539.9,261.1 540.4,261.1 540.9,261.0 541.4,261.0 541.9,260.9 542.4,260.8 542.9,260.8 543.4,260.7 543.8,260.6 544.3,260.5 544.8,260.4 545.3,260.4 547.7,260.3 550.1,260.5 552.4,260.9 554.8,262.1 557.2,266.4 559.5,271.9 561.9,275.9 564.3,279.1 566.6,282.1 569.0,285.0 571.4,288.0 573.8,291.0 576.1,293.9 578.5,296.7 580.9,299.5 583.2,302.3 585.6,305.0 588.0,307.7 590.3,310.4 592.7,313.0 595.1,315.6 597.5,318.2 599.8,320.9 602.2,323.6 604.6,326.1 606.9,328.5 609.3,330.7 611.7,332.7 614.1,334.4 616.4,336.0 618.8,337.4 621.2,338.6 623.5,339.6 625.9,340.6 628.3,341.6 630.6,342.4 633.0,343.2 635.4,343.8 637.8,344.4 640.1,344.7 642.5,345.1 644.9,345.5 647.2,345.8 649.6,346.1 652.0,346.5 654.3,346.8 656.7,347.1 659.1,347.3 661.5,347.6 663.8,347.8 666.2,348.0 668.6,348.2 670.9,348.4 673.3,348.5 675.7,348.7 678.0,348.7 680.4,348.8 682.8,348.9 685.2,348.9" stroke="#cd6600" stroke-width="1.2" stroke-opacity="0.5"/>
</g>
<line x1="539.46" y1="207.17" x2="539.46" y2="354.27" stroke="#222" stroke-width="1.4" stroke-dasharray="3.4 3.3" stroke-dashoffset="2.0"/>
<line x1="551.64" y1="207.17" x2="551.64" y2="354.27" stroke="#222" stroke-width="1.4" stroke-dasharray="3.4 3.3" stroke-dashoffset="2.0"/>
<path d="M513.50,207.17 L513.50,354.27 L684.80,354.27" fill="none" stroke="#000" stroke-width="1.9"/>
<line x1="504.30" y1="349.27" x2="513.50" y2="349.27" stroke="#000" stroke-width="1.3"/>
<line x1="504.30" y1="329.81" x2="513.50" y2="329.81" stroke="#000" stroke-width="1.3"/>
<line x1="504.30" y1="310.36" x2="513.50" y2="310.36" stroke="#000" stroke-width="1.3"/>
<line x1="504.30" y1="290.90" x2="513.50" y2="290.90" stroke="#000" stroke-width="1.3"/>
<line x1="504.30" y1="271.44" x2="513.50" y2="271.44" stroke="#000" stroke-width="1.3"/>
<line x1="504.30" y1="251.98" x2="513.50" y2="251.98" stroke="#000" stroke-width="1.3"/>
<line x1="504.30" y1="232.53" x2="513.50" y2="232.53" stroke="#000" stroke-width="1.3"/>
<line x1="504.30" y1="213.07" x2="513.50" y2="213.07" stroke="#000" stroke-width="1.3"/>
<text transform="translate(501.10,349.27) rotate(-90)" text-anchor="middle">0.00</text>
<text transform="translate(501.10,310.36) rotate(-90)" text-anchor="middle">0.10</text>
<text transform="translate(501.10,271.44) rotate(-90)" text-anchor="middle">0.20</text>
<text transform="translate(501.10,232.53) rotate(-90)" text-anchor="middle">0.30</text>
<line x1="520.00" y1="354.27" x2="520.00" y2="363.27" stroke="#000" stroke-width="1.3"/>
<text x="520.00" y="377.47" text-anchor="middle">6</text>
<line x1="551.64" y1="354.27" x2="551.64" y2="363.27" stroke="#000" stroke-width="1.3"/>
<text x="551.64" y="377.47" text-anchor="middle">8</text>
<line x1="583.28" y1="354.27" x2="583.28" y2="363.27" stroke="#000" stroke-width="1.3"/>
<text x="583.28" y="377.47" text-anchor="middle">10</text>
<line x1="614.92" y1="354.27" x2="614.92" y2="363.27" stroke="#000" stroke-width="1.3"/>
<text x="614.92" y="377.47" text-anchor="middle">12</text>
<line x1="646.56" y1="354.27" x2="646.56" y2="363.27" stroke="#000" stroke-width="1.3"/>
<text x="646.56" y="377.47" text-anchor="middle">14</text>
<line x1="678.20" y1="354.27" x2="678.20" y2="363.27" stroke="#000" stroke-width="1.3"/>
<text x="678.20" y="377.47" text-anchor="middle">16</text>
<text x="599.15" y="389.87" text-anchor="middle">log2(Intron length)</text>
<text transform="translate(489.30,280.72) rotate(-90)" text-anchor="middle">Density</text>
<text x="605.16" y="222.27" font-size="9.15">Osmeriformes</text>
<text x="605.16" y="233.52" font-size="9.15">Esociformes</text>
<text x="605.16" y="244.77" font-size="9.15">Salmoniformes</text>
<text x="605.16" y="256.02" font-size="9.15">Gymnotiformes</text>
<text x="605.16" y="267.27" font-size="9.15">Gonorynchiformes</text>
<text x="463.20" y="215.97" font-size="23.2" stroke="none" stroke-width="0.5">E</text></g>
<g font-family="&quot;Liberation Sans&quot;, sans-serif" font-size="11" fill="#000" stroke="#000" stroke-width="0.22"><clipPath id="clipF"><rect x="283.00" y="406.74" width="171.30" height="147.10"/></clipPath>
<g fill="none" stroke-linejoin="round" stroke-linecap="round" clip-path="url(#clipF)">
<path d="M283.5,548.8L284.0,548.8 284.5,548.8 285.1,548.8 285.6,548.8 286.1,548.8 286.6,548.8 287.1,548.7 287.7,548.6 288.2,548.4 288.7,548.1 289.2,547.5 289.8,546.4 290.3,544.6 290.8,541.4 291.3,536.7 291.8,531.0 292.4,524.6 292.9,517.2 293.4,508.7 293.9,499.2 294.5,488.8 295.0,478.2 295.5,468.0 296.0,458.8 296.5,451.5 297.1,446.5 297.6,444.4 298.1,444.1 298.6,445.2 299.2,447.4 299.7,450.6 300.2,454.5 300.7,458.7 301.2,463.2 301.8,467.5 302.3,471.7 302.8,475.5 303.3,478.9 303.8,481.9 304.4,484.6 304.9,487.0 305.4,489.0 305.9,490.9 306.5,492.7 307.0,494.4 307.5,496.0 308.0,497.6 308.5,499.1 309.1,500.7 309.6,502.1 310.1,503.5 310.6,504.7 311.2,505.9 311.7,507.1 312.2,508.1 312.7,509.1 313.2,510.0 313.8,510.9 314.3,511.7 314.8,512.4 317.2,515.1 319.6,516.9 321.9,518.2 324.3,519.2 326.7,520.0 329.0,520.4 331.4,520.6 333.8,520.2 336.1,519.5 338.5,518.2 340.9,516.6 343.3,514.7 345.6,512.7 348.0,510.7 350.4,509.1 352.7,508.0 355.1,507.6 357.5,507.9 359.8,508.4 362.2,509.2 364.6,510.2 367.0,511.5 369.3,512.9 371.7,514.6 374.1,516.5 376.4,518.4 378.8,520.4 381.2,522.4 383.6,524.4 385.9,526.3 388.3,528.2 390.7,529.9 393.0,531.6 395.4,533.2 397.8,534.6 400.1,535.9 402.5,537.1 404.9,538.2 407.3,539.2 409.6,540.1 412.0,541.0 414.4,541.7 416.7,542.4 419.1,543.0 421.5,543.6 423.8,544.1 426.2,544.6 428.6,545.0 431.0,545.4 433.3,545.8 435.7,546.1 438.1,546.4 440.4,546.7 442.8,546.9 445.2,547.2 447.5,547.4 449.9,547.6 452.3,547.7 454.7,547.9" stroke="#006400" stroke-width="1.3" stroke-opacity="0.5"/>
<path d="M283.5,548.8L284.0,548.8 284.5,548.8 285.1,548.8 285.6,548.8 286.1,548.8 286.6,548.7 287.1,548.6 287.7,548.4 288.2,548.0 288.7,547.4 289.2,546.4 289.8,544.7 290.3,541.9 290.8,537.6 291.3,531.4 291.8,523.8 292.4,515.1 292.9,505.2 293.4,494.0 293.9,481.8 294.5,469.3 295.0,457.1 295.5,446.1 296.0,437.2 296.5,431.1 297.1,428.4 297.6,428.2 298.1,429.7 298.6,432.5 299.2,436.5 299.7,441.4 300.2,446.9 300.7,452.5 301.2,458.1 301.8,463.4 302.3,468.3 302.8,472.7 303.3,476.7 303.8,480.1 304.4,483.1 304.9,485.8 305.4,488.3 305.9,490.5 306.5,492.5 307.0,494.5 307.5,496.4 308.0,498.2 308.5,500.1 309.1,501.8 309.6,503.5 310.1,505.0 310.6,506.5 311.2,507.8 311.7,509.1 312.2,510.3 312.7,511.4 313.2,512.5 313.8,513.4 314.3,514.3 314.8,515.1 317.2,518.0 319.6,520.0 321.9,521.5 324.3,522.7 326.7,523.6 329.0,524.1 331.4,524.2 333.8,523.7 336.1,522.5 338.5,520.6 340.9,518.1 343.3,515.2 345.6,512.1 348.0,509.3 350.4,507.1 352.7,505.8 355.1,505.7 357.5,506.2 359.8,506.9 362.2,508.0 364.6,509.3 367.0,510.9 369.3,512.8 371.7,514.9 374.1,517.1 376.4,519.4 378.8,521.6 381.2,523.8 383.6,526.0 385.9,528.0 388.3,529.9 390.7,531.7 393.0,533.3 395.4,534.7 397.8,536.1 400.1,537.2 402.5,538.3 404.9,539.3 407.3,540.1 409.6,540.9 412.0,541.6 414.4,542.3 416.7,542.9 419.1,543.4 421.5,543.9 423.8,544.4 426.2,544.8 428.6,545.2 431.0,545.5 433.3,545.9 435.7,546.2 438.1,546.5 440.4,546.7 442.8,547.0 445.2,547.2 447.5,547.4 449.9,547.6 452.3,547.8 454.7,547.9" stroke="#006400" stroke-width="1.3" stroke-opacity="0.5"/>
<path d="M283.5,548.8L284.0,548.8 284.5,548.8 285.1,548.8 285.6,548.8 286.1,548.8 286.6,548.8 287.1,548.7 287.7,548.7 288.2,548.5 288.7,548.2 289.2,547.7 289.8,546.8 290.3,545.1 290.8,542.1 291.3,537.6 291.8,532.3 292.4,526.8 292.9,520.7 293.4,513.8 293.9,506.2 294.5,498.0 295.0,489.7 295.5,481.8 296.0,474.8 296.5,469.2 297.1,465.5 297.6,463.8 298.1,463.4 298.6,463.9 299.2,465.3 299.7,467.3 300.2,469.8 300.7,472.5 301.2,475.4 301.8,478.2 302.3,480.8 302.8,483.2 303.3,485.3 303.8,487.1 304.4,488.7 304.9,490.1 305.4,491.4 305.9,492.5 306.5,493.6 307.0,494.7 307.5,495.8 308.0,496.9 308.5,498.0 309.1,499.1 309.6,500.2 310.1,501.2 310.6,502.2 311.2,503.1 311.7,503.9 312.2,504.7 312.7,505.5 313.2,506.2 313.8,506.8 314.3,507.4 314.8,508.0 317.2,510.2 319.6,511.8 321.9,513.3 324.3,514.5 326.7,515.7 329.0,516.6 331.4,517.2 333.8,517.3 336.1,516.7 338.5,515.2 340.9,512.9 343.3,509.8 345.6,506.5 348.0,503.4 350.4,501.2 352.7,500.2 355.1,500.8 357.5,501.8 359.8,503.1 362.2,504.7 364.6,506.6 367.0,508.6 369.3,510.8 371.7,513.2 374.1,515.7 376.4,518.2 378.8,520.7 381.2,523.1 383.6,525.4 385.9,527.5 388.3,529.5 390.7,531.4 393.0,533.0 395.4,534.6 397.8,535.9 400.1,537.2 402.5,538.3 404.9,539.3 407.3,540.2 409.6,541.0 412.0,541.7 414.4,542.4 416.7,543.0 419.1,543.5 421.5,544.0 423.8,544.5 426.2,544.9 428.6,545.3 431.0,545.6 433.3,546.0 435.7,546.3 438.1,546.6 440.4,546.8 442.8,547.0 445.2,547.3 447.5,547.5 449.9,547.6 452.3,547.8 454.7,547.9" stroke="#006400" stroke-width="1.3" stroke-opacity="0.5"/>
<path d="M283.5,548.8L284.0,548.8 284.5,548.8 285.1,548.8 285.6,548.8 286.1,548.8 286.6,548.8 287.1,548.8 287.7,548.7 288.2,548.6 288.7,548.4 289.2,548.1 289.8,547.4 290.3,546.0 290.8,543.4 291.3,539.5 291.8,534.9 292.4,530.0 292.9,524.5 293.4,518.1 293.9,510.7 294.5,502.5 295.0,493.6 295.5,484.7 296.0,476.1 296.5,468.6 297.1,462.7 297.6,458.8 298.1,457.2 298.6,456.9 299.2,457.7 299.7,459.4 300.2,461.8 300.7,464.7 301.2,467.9 301.8,471.3 302.3,474.5 302.8,477.6 303.3,480.4 303.8,482.9 304.4,485.1 304.9,487.1 305.4,488.8 305.9,490.4 306.5,491.8 307.0,493.2 307.5,494.5 308.0,495.9 308.5,497.2 309.1,498.5 309.6,499.8 310.1,500.9 310.6,502.1 311.2,503.1 311.7,504.1 312.2,505.1 312.7,506.0 313.2,506.8 313.8,507.6 314.3,508.3 314.8,509.0 317.2,511.5 319.6,513.5 321.9,514.9 324.3,516.1 326.7,517.0 329.0,517.5 331.4,517.5 333.8,516.8 336.1,515.3 338.5,513.2 340.9,510.8 343.3,508.3 345.6,506.3 348.0,505.3 350.4,505.6 352.7,506.7 355.1,507.8 357.5,509.1 359.8,510.5 362.2,512.0 364.6,513.6 367.0,515.3 369.3,517.1 371.7,519.0 374.1,520.9 376.4,522.9 378.8,524.8 381.2,526.6 383.6,528.4 385.9,530.1 388.3,531.7 390.7,533.2 393.0,534.6 395.4,535.9 397.8,537.1 400.1,538.2 402.5,539.3 404.9,540.2 407.3,541.0 409.6,541.8 412.0,542.5 414.4,543.1 416.7,543.7 419.1,544.2 421.5,544.7 423.8,545.1 426.2,545.5 428.6,545.9 431.0,546.2 433.3,546.5 435.7,546.7 438.1,547.0 440.4,547.2 442.8,547.4 445.2,547.6 447.5,547.7 449.9,547.9 452.3,548.0 454.7,548.1" stroke="#006400" stroke-width="1.3" stroke-opacity="0.5"/>
<path d="M283.5,548.8L284.0,548.8 284.5,548.8 285.1,548.8 285.6,548.8 286.1,548.8 286.6,548.8 287.1,548.7 287.7,548.6 288.2,548.5 288.7,548.2 289.2,547.6 289.8,546.6 290.3,544.8 290.8,541.5 291.3,536.5 291.8,530.8 292.4,524.7 292.9,518.0 293.4,510.5 293.9,502.1 294.5,493.2 295.0,484.0 295.5,475.2 296.0,467.4 296.5,461.1 297.1,456.8 297.6,454.7 298.1,454.1 298.6,454.5 299.2,455.8 299.7,457.9 300.2,460.6 300.7,463.5 301.2,466.6 301.8,469.6 302.3,472.4 302.8,475.0 303.3,477.2 303.8,479.2 304.4,480.9 304.9,482.4 305.4,483.7 305.9,485.0 306.5,486.1 307.0,487.2 307.5,488.4 308.0,489.5 308.5,490.7 309.1,491.9 309.6,492.9 310.1,494.0 310.6,495.0 311.2,495.9 311.7,496.7 312.2,497.5 312.7,498.3 313.2,499.0 313.8,499.6 314.3,500.2 314.8,500.7 317.2,502.4 319.6,503.4 321.9,503.8 324.3,503.7 326.7,503.2 329.0,502.3 331.4,501.1 333.8,499.6 336.1,498.0 338.5,496.5 340.9,495.3 343.3,494.6 345.6,494.6 348.0,495.4 350.4,496.7 352.7,498.4 355.1,500.5 357.5,502.8 359.8,505.4 362.2,508.1 364.6,511.0 367.0,514.0 369.3,517.0 371.7,519.8 374.1,522.6 376.4,525.2 378.8,527.6 381.2,529.8 383.6,531.7 385.9,533.3 388.3,534.8 390.7,536.1 393.0,537.2 395.4,538.1 397.8,539.0 400.1,539.7 402.5,540.4 404.9,541.0 407.3,541.6 409.6,542.1 412.0,542.6 414.4,543.1 416.7,543.5 419.1,543.9 421.5,544.3 423.8,544.7 426.2,545.1 428.6,545.4 431.0,545.8 433.3,546.1 435.7,546.4 438.1,546.6 440.4,546.9 442.8,547.1 445.2,547.3 447.5,547.5 449.9,547.7 452.3,547.8 454.7,548.0" stroke="#006400" stroke-width="1.3" stroke-opacity="0.5"/>
<path d="M283.5,548.8L284.0,548.8 284.5,548.8 285.1,548.8 285.6,548.8 286.1,548.8 286.6,548.7 287.1,548.6 287.7,548.4 288.2,548.1 288.7,547.5 289.2,546.6 289.8,545.1 290.3,542.6 290.8,538.5 291.3,532.6 291.8,525.6 292.4,517.6 292.9,508.5 293.4,498.4 293.9,487.3 294.5,475.9 295.0,464.7 295.5,454.7 296.0,446.5 296.5,440.8 297.1,438.1 297.6,437.7 298.1,438.8 298.6,441.2 299.2,444.6 299.7,448.9 300.2,453.6 300.7,458.5 301.2,463.4 301.8,468.0 302.3,472.3 302.8,476.2 303.3,479.6 303.8,482.6 304.4,485.2 304.9,487.5 305.4,489.6 305.9,491.5 306.5,493.3 307.0,495.1 307.5,496.7 308.0,498.4 308.5,500.0 309.1,501.6 309.6,503.1 310.1,504.5 310.6,505.8 311.2,507.0 311.7,508.2 312.2,509.2 312.7,510.2 313.2,511.2 313.8,512.0 314.3,512.8 314.8,513.5 317.2,516.1 319.6,517.8 321.9,518.9 324.3,519.7 326.7,520.1 329.0,520.1 331.4,519.7 333.8,518.8 336.1,517.6 338.5,516.2 340.9,514.7 343.3,513.3 345.6,512.4 348.0,512.0 350.4,512.4 352.7,513.2 355.1,514.2 357.5,515.5 359.8,516.9 362.2,518.5 364.6,520.3 367.0,522.2 369.3,524.1 371.7,526.1 374.1,528.0 376.4,529.9 378.8,531.6 381.2,533.2 383.6,534.6 385.9,536.0 388.3,537.1 390.7,538.2 393.0,539.1 395.4,539.9 397.8,540.6 400.1,541.2 402.5,541.8 404.9,542.3 407.3,542.8 409.6,543.3 412.0,543.7 414.4,544.1 416.7,544.5 419.1,544.8 421.5,545.1 423.8,545.5 426.2,545.8 428.6,546.1 431.0,546.3 433.3,546.6 435.7,546.8 438.1,547.0 440.4,547.2 442.8,547.4 445.2,547.6 447.5,547.7 449.9,547.9 452.3,548.0 454.7,548.1" stroke="#006400" stroke-width="1.3" stroke-opacity="0.5"/>
<path d="M283.5,548.8L284.0,548.8 284.5,548.8 285.1,548.8 285.6,548.8 286.1,548.8 286.6,548.8 287.1,548.8 287.7,548.7 288.2,548.6 288.7,548.4 289.2,548.0 289.8,547.3 290.3,546.0 290.8,543.7 291.3,540.2 291.8,536.0 292.4,531.2 292.9,525.6 293.4,518.9 293.9,511.2 294.5,502.5 295.0,493.3 295.5,483.9 296.0,475.0 296.5,467.3 297.1,461.4 297.6,457.7 298.1,456.5 298.6,456.7 299.2,458.1 299.7,460.4 300.2,463.5 300.7,467.2 301.2,471.2 301.8,475.2 302.3,479.2 302.8,482.9 303.3,486.3 303.8,489.4 304.4,492.1 304.9,494.5 305.4,496.6 305.9,498.5 306.5,500.3 307.0,501.9 307.5,503.5 308.0,505.0 308.5,506.4 309.1,507.9 309.6,509.2 310.1,510.5 310.6,511.6 311.2,512.8 311.7,513.8 312.2,514.8 312.7,515.7 313.2,516.5 313.8,517.3 314.3,518.0 314.8,518.6 317.2,520.9 319.6,522.3 321.9,523.2 324.3,523.6 326.7,523.8 329.0,523.7 331.4,523.1 333.8,522.2 336.1,520.7 338.5,518.7 340.9,516.2 343.3,513.3 345.6,510.3 348.0,507.3 350.4,504.7 352.7,502.8 355.1,501.7 357.5,501.6 359.8,502.3 362.2,503.5 364.6,505.1 367.0,507.1 369.3,509.5 371.7,512.1 374.1,515.0 376.4,517.9 378.8,520.8 381.2,523.6 383.6,526.2 385.9,528.7 388.3,531.0 390.7,533.0 393.0,534.9 395.4,536.5 397.8,537.9 400.1,539.1 402.5,540.1 404.9,541.0 407.3,541.8 409.6,542.5 412.0,543.1 414.4,543.6 416.7,544.1 419.1,544.5 421.5,544.9 423.8,545.3 426.2,545.6 428.6,545.9 431.0,546.2 433.3,546.5 435.7,546.7 438.1,547.0 440.4,547.2 442.8,547.4 445.2,547.6 447.5,547.7 449.9,547.9 452.3,548.0 454.7,548.1" stroke="#006400" stroke-width="1.3" stroke-opacity="0.5"/>
<path d="M283.5,548.8L284.0,548.8 284.5,548.8 285.1,548.8 285.6,548.8 286.1,548.7 286.6,548.6 287.1,548.4 287.7,548.1 288.2,547.5 288.7,546.6 289.2,545.1 289.8,542.7 290.3,539.0 290.8,533.2 291.3,525.2 291.8,515.6 292.4,504.9 292.9,493.1 293.4,480.2 293.9,466.6 294.5,453.3 295.0,440.9 295.5,430.5 296.0,422.9 296.5,418.8 297.1,417.9 297.6,418.8 298.1,421.3 298.6,425.1 299.2,429.9 299.7,435.4 300.2,441.2 300.7,447.1 301.2,452.7 301.8,457.9 302.3,462.6 302.8,466.8 303.3,470.4 303.8,473.6 304.4,476.4 304.9,478.9 305.4,481.2 305.9,483.3 306.5,485.3 307.0,487.3 307.5,489.1 308.0,491.0 308.5,492.9 309.1,494.7 309.6,496.4 310.1,498.0 310.6,499.5 311.2,500.9 311.7,502.3 312.2,503.5 312.7,504.7 313.2,505.8 313.8,506.8 314.3,507.7 314.8,508.6 317.2,511.9 319.6,514.4 321.9,516.5 324.3,518.3 326.7,519.7 329.0,520.7 331.4,521.1 333.8,520.8 336.1,519.7 338.5,517.8 340.9,515.3 343.3,512.5 345.6,510.0 348.0,508.1 350.4,507.4 352.7,507.8 355.1,508.7 357.5,509.9 359.8,511.4 362.2,513.2 364.6,515.2 367.0,517.4 369.3,519.8 371.7,522.2 374.1,524.6 376.4,526.9 378.8,529.1 381.2,531.2 383.6,533.0 385.9,534.7 388.3,536.2 390.7,537.5 393.0,538.6 395.4,539.6 397.8,540.5 400.1,541.2 402.5,541.9 404.9,542.5 407.3,543.0 409.6,543.5 412.0,543.9 414.4,544.3 416.7,544.7 419.1,545.0 421.5,545.3 423.8,545.6 426.2,545.9 428.6,546.2 431.0,546.5 433.3,546.7 435.7,546.9 438.1,547.1 440.4,547.3 442.8,547.5 445.2,547.7 447.5,547.8 449.9,547.9 452.3,548.1 454.7,548.2" stroke="#006400" stroke-width="1.3" stroke-opacity="0.5"/>
<path d="M283.5,548.8L284.0,548.8 284.5,548.8 285.1,548.8 285.6,548.8 286.1,548.8 286.6,548.8 287.1,548.7 287.7,548.6 288.2,548.4 288.7,548.0 289.2,547.3 289.8,546.1 290.3,544.1 290.8,540.8 291.3,535.9 291.8,529.9 292.4,523.0 292.9,514.9 293.4,505.6 293.9,495.1 294.5,483.8 295.0,472.2 295.5,461.1 296.0,451.4 296.5,443.7 297.1,438.8 297.6,437.0 298.1,437.1 298.6,438.7 299.2,441.6 299.7,445.4 300.2,450.0 300.7,455.1 301.2,460.2 301.8,465.3 302.3,470.1 302.8,474.5 303.3,478.4 303.8,481.9 304.4,485.0 304.9,487.8 305.4,490.2 305.9,492.4 306.5,494.4 307.0,496.3 307.5,498.2 308.0,500.0 308.5,501.7 309.1,503.4 309.6,505.0 310.1,506.5 310.6,507.9 311.2,509.2 311.7,510.4 312.2,511.5 312.7,512.6 313.2,513.6 313.8,514.4 314.3,515.3 314.8,516.0 317.2,518.6 319.6,520.4 321.9,521.6 324.3,522.5 326.7,523.3 329.0,523.9 331.4,524.3 333.8,524.3 336.1,523.8 338.5,522.6 340.9,520.6 343.3,517.7 345.6,514.1 348.0,510.2 350.4,506.4 352.7,503.3 355.1,501.5 357.5,501.3 359.8,501.8 362.2,502.6 364.6,503.7 367.0,505.0 369.3,506.7 371.7,508.5 374.1,510.6 376.4,512.8 378.8,515.0 381.2,517.3 383.6,519.6 385.9,521.8 388.3,524.0 390.7,526.2 393.0,528.2 395.4,530.1 397.8,531.9 400.1,533.5 402.5,535.0 404.9,536.4 407.3,537.7 409.6,538.8 412.0,539.9 414.4,540.8 416.7,541.7 419.1,542.4 421.5,543.1 423.8,543.7 426.2,544.3 428.6,544.8 431.0,545.2 433.3,545.6 435.7,546.0 438.1,546.3 440.4,546.6 442.8,546.9 445.2,547.1 447.5,547.4 449.9,547.6 452.3,547.7 454.7,547.9" stroke="#006400" stroke-width="1.3" stroke-opacity="0.5"/>
<path d="M283.5,548.8L284.0,548.8 284.5,548.8 285.1,548.8 285.6,548.8 286.1,548.8 286.6,548.8 287.1,548.7 287.7,548.6 288.2,548.5 288.7,548.2 289.2,547.6 289.8,546.7 290.3,545.0 290.8,542.1 291.3,537.9 291.8,532.6 292.4,526.6 292.9,519.5 293.4,511.1 293.9,501.6 294.5,491.1 295.0,480.1 295.5,469.3 296.0,459.4 296.5,451.2 297.1,445.4 297.6,442.4 298.1,441.9 298.6,442.9 299.2,445.1 299.7,448.4 300.2,452.5 300.7,457.1 301.2,462.0 301.8,466.9 302.3,471.6 302.8,475.9 303.3,479.8 303.8,483.3 304.4,486.4 304.9,489.2 305.4,491.6 305.9,493.8 306.5,495.8 307.0,497.7 307.5,499.5 308.0,501.2 308.5,502.9 309.1,504.5 309.6,506.1 310.1,507.5 310.6,508.9 311.2,510.2 311.7,511.4 312.2,512.6 312.7,513.6 313.2,514.6 313.8,515.5 314.3,516.3 314.8,517.1 317.2,519.8 319.6,521.7 321.9,522.9 324.3,523.6 326.7,524.0 329.0,524.0 331.4,523.5 333.8,522.5 336.1,520.8 338.5,518.6 340.9,515.9 343.3,512.9 345.6,509.7 348.0,506.6 350.4,504.0 352.7,502.0 355.1,500.9 357.5,500.9 359.8,501.2 362.2,502.0 364.6,503.0 367.0,504.4 369.3,506.1 371.7,508.1 374.1,510.3 376.4,512.7 378.8,515.1 381.2,517.6 383.6,520.0 385.9,522.5 388.3,524.8 390.7,527.0 393.0,529.1 395.4,531.1 397.8,532.9 400.1,534.6 402.5,536.1 404.9,537.4 407.3,538.7 409.6,539.8 412.0,540.7 414.4,541.6 416.7,542.4 419.1,543.1 421.5,543.7 423.8,544.2 426.2,544.7 428.6,545.2 431.0,545.6 433.3,545.9 435.7,546.3 438.1,546.6 440.4,546.8 442.8,547.1 445.2,547.3 447.5,547.5 449.9,547.7 452.3,547.8 454.7,548.0" stroke="#006400" stroke-width="1.3" stroke-opacity="0.5"/>
<path d="M283.5,548.8L284.0,548.8 284.5,548.8 285.1,548.8 285.6,548.8 286.1,548.8 286.6,548.8 287.1,548.8 287.7,548.8 288.2,548.8 288.7,548.7 289.2,548.5 289.8,548.2 290.3,547.5 290.8,546.0 291.3,543.8 291.8,541.2 292.4,538.7 292.9,536.0 293.4,532.8 293.9,529.1 294.5,524.9 295.0,520.2 295.5,515.3 296.0,510.3 296.5,505.5 297.1,501.4 297.6,498.2 298.1,496.1 298.6,495.1 299.2,494.8 299.7,495.0 300.2,495.8 300.7,496.9 301.2,498.2 301.8,499.7 302.3,501.3 302.8,502.8 303.3,504.3 303.8,505.6 304.4,506.7 304.9,507.7 305.4,508.6 305.9,509.4 306.5,510.2 307.0,510.9 307.5,511.6 308.0,512.3 308.5,513.0 309.1,513.7 309.6,514.3 310.1,515.0 310.6,515.6 311.2,516.1 311.7,516.7 312.2,517.2 312.7,517.6 313.2,518.1 313.8,518.5 314.3,518.9 314.8,519.2 317.2,520.4 319.6,521.1 321.9,521.3 324.3,520.9 326.7,520.1 329.0,518.6 331.4,516.7 333.8,514.2 336.1,511.4 338.5,508.4 340.9,505.5 343.3,502.9 345.6,501.1 348.0,500.2 350.4,500.3 352.7,501.0 355.1,501.9 357.5,503.2 359.8,504.9 362.2,506.8 364.6,508.9 367.0,511.3 369.3,513.8 371.7,516.3 374.1,519.0 376.4,521.6 378.8,524.1 381.2,526.5 383.6,528.7 385.9,530.8 388.3,532.7 390.7,534.4 393.0,535.9 395.4,537.3 397.8,538.5 400.1,539.5 402.5,540.5 404.9,541.3 407.3,542.0 409.6,542.7 412.0,543.3 414.4,543.8 416.7,544.2 419.1,544.7 421.5,545.1 423.8,545.4 426.2,545.8 428.6,546.1 431.0,546.3 433.3,546.6 435.7,546.8 438.1,547.1 440.4,547.3 442.8,547.4 445.2,547.6 447.5,547.8 449.9,547.9 452.3,548.0 454.7,548.1" stroke="#006400" stroke-width="1.3" stroke-opacity="0.5"/>
<path d="M283.5,548.8L284.0,548.8 284.5,548.8 285.1,548.8 285.6,548.8 286.1,548.8 286.6,548.8 287.1,548.8 287.7,548.8 288.2,548.7 288.7,548.6 289.2,548.4 289.8,547.8 290.3,546.7 290.8,544.4 291.3,540.8 291.8,536.9 292.4,533.1 292.9,529.2 293.4,524.8 293.9,519.8 294.5,514.3 295.0,508.3 295.5,502.2 296.0,496.3 296.5,490.9 297.1,486.4 297.6,483.1 298.1,481.2 298.6,480.2 299.2,479.8 299.7,480.1 300.2,480.8 300.7,481.8 301.2,483.1 301.8,484.5 302.3,485.9 302.8,487.2 303.3,488.4 303.8,489.5 304.4,490.4 304.9,491.2 305.4,491.9 305.9,492.6 306.5,493.2 307.0,493.8 307.5,494.5 308.0,495.3 308.5,496.1 309.1,496.9 309.6,497.7 310.1,498.4 310.6,499.2 311.2,499.9 311.7,500.6 312.2,501.2 312.7,501.9 313.2,502.5 313.8,503.1 314.3,503.7 314.8,504.2 317.2,506.5 319.6,508.6 321.9,510.5 324.3,512.1 326.7,513.5 329.0,514.3 331.4,514.4 333.8,513.7 336.1,512.0 338.5,509.4 340.9,506.1 343.3,502.4 345.6,498.8 348.0,495.9 350.4,494.3 352.7,494.4 355.1,495.4 357.5,496.8 359.8,498.4 362.2,500.4 364.6,502.7 367.0,505.2 369.3,507.9 371.7,510.8 374.1,513.7 376.4,516.7 378.8,519.6 381.2,522.5 383.6,525.1 385.9,527.7 388.3,530.0 390.7,532.1 393.0,534.1 395.4,535.8 397.8,537.3 400.1,538.7 402.5,539.9 404.9,540.9 407.3,541.8 409.6,542.6 412.0,543.3 414.4,543.9 416.7,544.4 419.1,544.9 421.5,545.3 423.8,545.7 426.2,546.0 428.6,546.3 431.0,546.6 433.3,546.8 435.7,547.0 438.1,547.3 440.4,547.4 442.8,547.6 445.2,547.7 447.5,547.9 449.9,548.0 452.3,548.1 454.7,548.2" stroke="#006400" stroke-width="1.3" stroke-opacity="0.5"/>
<path d="M283.5,548.8L284.0,548.8 284.5,548.8 285.1,548.8 285.6,548.8 286.1,548.8 286.6,548.7 287.1,548.6 287.7,548.5 288.2,548.2 288.7,547.7 289.2,546.8 289.8,545.4 290.3,543.0 290.8,538.9 291.3,533.0 291.8,526.1 292.4,518.5 292.9,510.0 293.4,500.6 293.9,490.4 294.5,479.9 295.0,469.6 295.5,460.2 296.0,452.5 296.5,447.1 297.1,444.4 297.6,443.8 298.1,444.4 298.6,446.2 299.2,449.0 299.7,452.4 300.2,456.3 300.7,460.4 301.2,464.5 301.8,468.3 302.3,471.9 302.8,475.1 303.3,477.9 303.8,480.3 304.4,482.4 304.9,484.3 305.4,486.0 305.9,487.6 306.5,489.1 307.0,490.5 307.5,491.9 308.0,493.4 308.5,494.8 309.1,496.2 309.6,497.6 310.1,498.8 310.6,500.0 311.2,501.2 311.7,502.2 312.2,503.2 312.7,504.1 313.2,505.0 313.8,505.8 314.3,506.5 314.8,507.2 317.2,509.7 319.6,511.6 321.9,513.1 324.3,514.3 326.7,515.2 329.0,515.7 331.4,515.5 333.8,514.6 336.1,512.8 338.5,510.0 340.9,506.3 343.3,502.1 345.6,497.7 348.0,493.7 350.4,490.7 352.7,489.2 355.1,489.3 357.5,490.2 359.8,491.5 362.2,493.3 364.6,495.4 367.0,498.0 369.3,500.8 371.7,503.9 374.1,507.1 376.4,510.4 378.8,513.7 381.2,516.8 383.6,519.8 385.9,522.6 388.3,525.2 390.7,527.6 393.0,529.8 395.4,531.7 397.8,533.4 400.1,535.0 402.5,536.3 404.9,537.5 407.3,538.6 409.6,539.5 412.0,540.4 414.4,541.2 416.7,541.9 419.1,542.5 421.5,543.1 423.8,543.6 426.2,544.1 428.6,544.6 431.0,545.0 433.3,545.4 435.7,545.8 438.1,546.1 440.4,546.4 442.8,546.7 445.2,547.0 447.5,547.2 449.9,547.4 452.3,547.6 454.7,547.8" stroke="#006400" stroke-width="1.3" stroke-opacity="0.5"/>
<path d="M283.5,548.8L284.0,548.8 284.5,548.8 285.1,548.8 285.6,548.8 286.1,548.8 286.6,548.8 287.1,548.7 287.7,548.6 288.2,548.4 288.7,548.0 289.2,547.3 289.8,546.2 290.3,544.4 290.8,541.2 291.3,536.6 291.8,531.0 292.4,524.5 292.9,516.9 293.4,508.2 293.9,498.5 294.5,488.0 295.0,477.3 295.5,467.2 296.0,458.3 296.5,451.4 297.1,447.1 297.6,445.6 298.1,445.8 298.6,447.4 299.2,450.1 299.7,453.7 300.2,458.0 300.7,462.6 301.2,467.4 301.8,472.0 302.3,476.4 302.8,480.4 303.3,484.0 303.8,487.2 304.4,490.0 304.9,492.5 305.4,494.7 305.9,496.7 306.5,498.6 307.0,500.3 307.5,502.0 308.0,503.7 308.5,505.3 309.1,506.8 309.6,508.3 310.1,509.6 310.6,510.9 311.2,512.1 311.7,513.2 312.2,514.3 312.7,515.2 313.2,516.1 313.8,516.9 314.3,517.6 314.8,518.3 317.2,520.6 319.6,522.0 321.9,522.9 324.3,523.4 326.7,523.6 329.0,523.4 331.4,522.8 333.8,521.6 336.1,519.8 338.5,517.4 340.9,514.3 343.3,510.7 345.6,507.0 348.0,503.4 350.4,500.3 352.7,498.1 355.1,497.0 357.5,497.3 359.8,498.0 362.2,499.2 364.6,500.7 367.0,502.5 369.3,504.7 371.7,507.1 374.1,509.7 376.4,512.5 378.8,515.2 381.2,518.0 383.6,520.7 385.9,523.3 388.3,525.8 390.7,528.1 393.0,530.3 395.4,532.2 397.8,534.0 400.1,535.6 402.5,537.1 404.9,538.4 407.3,539.5 409.6,540.5 412.0,541.4 414.4,542.2 416.7,542.9 419.1,543.5 421.5,544.1 423.8,544.6 426.2,545.0 428.6,545.4 431.0,545.8 433.3,546.1 435.7,546.4 438.1,546.7 440.4,546.9 442.8,547.2 445.2,547.4 447.5,547.6 449.9,547.7 452.3,547.9 454.7,548.0" stroke="#006400" stroke-width="1.3" stroke-opacity="0.5"/>
<path d="M283.5,548.8L284.0,548.8 284.5,548.8 285.1,548.8 285.6,548.8 286.1,548.7 286.6,548.6 287.1,548.4 287.7,548.1 288.2,547.5 288.7,546.5 289.2,545.0 289.8,542.6 290.3,539.0 290.8,533.5 291.3,525.9 291.8,516.8 292.4,506.4 292.9,494.7 293.4,482.0 293.9,468.8 294.5,455.8 295.0,443.8 295.5,433.9 296.0,426.9 296.5,423.3 297.1,422.9 297.6,424.2 298.1,427.1 298.6,431.3 299.2,436.5 299.7,442.3 300.2,448.4 300.7,454.5 301.2,460.3 301.8,465.8 302.3,470.7 302.8,475.1 303.3,478.9 303.8,482.3 304.4,485.2 304.9,487.9 305.4,490.3 305.9,492.5 306.5,494.6 307.0,496.6 307.5,498.6 308.0,500.4 308.5,502.3 309.1,504.1 309.6,505.7 310.1,507.3 310.6,508.8 311.2,510.2 311.7,511.4 312.2,512.6 312.7,513.7 313.2,514.7 313.8,515.7 314.3,516.5 314.8,517.3 317.2,520.2 319.6,522.2 321.9,523.7 324.3,525.0 326.7,526.0 329.0,526.7 331.4,527.0 333.8,526.9 336.1,526.1 338.5,524.7 340.9,522.6 343.3,520.0 345.6,516.9 348.0,513.6 350.4,510.5 352.7,507.8 355.1,505.8 357.5,504.9 359.8,504.8 362.2,505.1 364.6,505.7 367.0,506.7 369.3,507.9 371.7,509.4 374.1,511.2 376.4,513.2 378.8,515.2 381.2,517.4 383.6,519.6 385.9,521.8 388.3,524.0 390.7,526.1 393.0,528.2 395.4,530.1 397.8,531.9 400.1,533.6 402.5,535.2 404.9,536.6 407.3,537.9 409.6,539.0 412.0,540.1 414.4,541.0 416.7,541.9 419.1,542.6 421.5,543.3 423.8,543.9 426.2,544.5 428.6,545.0 431.0,545.4 433.3,545.8 435.7,546.1 438.1,546.5 440.4,546.7 442.8,547.0 445.2,547.2 447.5,547.4 449.9,547.6 452.3,547.8 454.7,547.9" stroke="#006400" stroke-width="1.3" stroke-opacity="0.5"/>
<path d="M283.5,548.8L284.0,548.8 284.5,548.8 285.1,548.8 285.6,548.8 286.1,548.8 286.6,548.8 287.1,548.8 287.7,548.8 288.2,548.7 288.7,548.5 289.2,548.2 289.8,547.7 290.3,546.6 290.8,544.6 291.3,541.6 291.8,538.0 292.4,534.0 292.9,529.4 293.4,523.9 293.9,517.4 294.5,510.0 295.0,502.0 295.5,493.8 296.0,485.8 296.5,478.6 297.1,472.8 297.6,468.9 298.1,467.0 298.6,466.8 299.2,467.5 299.7,469.2 300.2,471.6 300.7,474.5 301.2,477.8 301.8,481.2 302.3,484.6 302.8,487.8 303.3,490.8 303.8,493.5 304.4,495.8 304.9,497.9 305.4,499.8 305.9,501.5 306.5,503.0 307.0,504.4 307.5,505.8 308.0,507.1 308.5,508.4 309.1,509.7 309.6,510.8 310.1,512.0 310.6,513.0 311.2,514.0 311.7,514.9 312.2,515.8 312.7,516.6 313.2,517.4 313.8,518.1 314.3,518.7 314.8,519.3 317.2,521.3 319.6,522.7 321.9,523.5 324.3,524.0 326.7,524.2 329.0,524.1 331.4,523.7 333.8,522.9 336.1,521.8 338.5,520.3 340.9,518.5 343.3,516.5 345.6,514.4 348.0,512.5 350.4,510.8 352.7,509.6 355.1,509.0 357.5,509.1 359.8,509.6 362.2,510.4 364.6,511.5 367.0,512.8 369.3,514.4 371.7,516.2 374.1,518.1 376.4,520.2 378.8,522.3 381.2,524.4 383.6,526.4 385.9,528.5 388.3,530.4 390.7,532.2 393.0,533.9 395.4,535.5 397.8,536.9 400.1,538.2 402.5,539.4 404.9,540.4 407.3,541.3 409.6,542.2 412.0,542.9 414.4,543.5 416.7,544.1 419.1,544.6 421.5,545.1 423.8,545.5 426.2,545.8 428.6,546.2 431.0,546.5 433.3,546.7 435.7,547.0 438.1,547.2 440.4,547.4 442.8,547.5 445.2,547.7 447.5,547.8 449.9,548.0 452.3,548.1 454.7,548.2" stroke="#006400" stroke-width="1.3" stroke-opacity="0.5"/>
<path d="M283.5,548.8L284.0,548.8 284.5,548.8 285.1,548.8 285.6,548.8 286.1,548.8 286.6,548.8 287.1,548.7 287.7,548.5 288.2,548.3 288.7,547.9 289.2,547.2 289.8,546.0 290.3,544.0 290.8,540.7 291.3,536.0 291.8,530.2 292.4,523.5 292.9,516.0 293.4,507.3 293.9,497.8 294.5,487.7 295.0,477.7 295.5,468.3 296.0,460.4 296.5,454.6 297.1,451.3 297.6,450.5 298.1,451.1 298.6,452.9 299.2,455.7 299.7,459.3 300.2,463.4 300.7,467.8 301.2,472.2 301.8,476.5 302.3,480.5 302.8,484.1 303.3,487.3 303.8,490.2 304.4,492.7 304.9,494.9 305.4,496.9 305.9,498.7 306.5,500.4 307.0,501.9 307.5,503.5 308.0,505.0 308.5,506.5 309.1,507.9 309.6,509.3 310.1,510.5 310.6,511.7 311.2,512.9 311.7,513.9 312.2,514.9 312.7,515.8 313.2,516.7 313.8,517.5 314.3,518.2 314.8,518.9 317.2,521.4 319.6,523.1 321.9,524.3 324.3,525.2 326.7,525.7 329.0,525.9 331.4,525.6 333.8,524.9 336.1,523.5 338.5,521.7 340.9,519.6 343.3,517.4 345.6,515.5 348.0,514.1 350.4,513.5 352.7,513.7 355.1,514.2 357.5,514.9 359.8,515.7 362.2,516.8 364.6,518.0 367.0,519.4 369.3,520.9 371.7,522.6 374.1,524.3 376.4,526.0 378.8,527.7 381.2,529.4 383.6,531.0 385.9,532.5 388.3,533.9 390.7,535.2 393.0,536.4 395.4,537.5 397.8,538.5 400.1,539.5 402.5,540.3 404.9,541.0 407.3,541.7 409.6,542.3 412.0,542.9 414.4,543.4 416.7,543.9 419.1,544.4 421.5,544.8 423.8,545.1 426.2,545.5 428.6,545.8 431.0,546.1 433.3,546.4 435.7,546.7 438.1,546.9 440.4,547.1 442.8,547.3 445.2,547.5 447.5,547.7 449.9,547.8 452.3,548.0 454.7,548.1" stroke="#006400" stroke-width="1.3" stroke-opacity="0.5"/>
<path d="M283.5,548.8L284.0,548.8 284.5,548.8 285.1,548.8 285.6,548.8 286.1,548.8 286.6,548.8 287.1,548.7 287.7,548.6 288.2,548.3 288.7,547.9 289.2,547.1 289.8,545.8 290.3,543.5 290.8,539.4 291.3,533.6 291.8,526.5 292.4,518.7 292.9,509.9 293.4,499.9 293.9,488.8 294.5,476.9 295.0,464.8 295.5,453.4 296.0,443.4 296.5,435.6 297.1,430.6 297.6,428.7 298.1,428.6 298.6,430.0 299.2,432.6 299.7,436.2 300.2,440.5 300.7,445.2 301.2,450.0 301.8,454.7 302.3,459.1 302.8,463.1 303.3,466.7 303.8,469.8 304.4,472.6 304.9,475.0 305.4,477.2 305.9,479.2 306.5,481.0 307.0,482.8 307.5,484.5 308.0,486.3 308.5,488.0 309.1,489.7 309.6,491.2 310.1,492.7 310.6,494.1 311.2,495.5 311.7,496.7 312.2,497.8 312.7,498.9 313.2,499.8 313.8,500.7 314.3,501.6 314.8,502.3 317.2,504.9 319.6,506.6 321.9,507.7 324.3,508.3 326.7,508.6 329.0,508.6 331.4,508.1 333.8,507.2 336.1,505.9 338.5,504.1 340.9,501.9 343.3,499.6 345.6,497.3 348.0,495.2 350.4,493.6 352.7,492.7 355.1,492.7 357.5,493.5 359.8,494.8 362.2,496.4 364.6,498.4 367.0,500.7 369.3,503.3 371.7,506.1 374.1,509.1 376.4,512.1 378.8,515.1 381.2,518.0 383.6,520.8 385.9,523.5 388.3,526.0 390.7,528.2 393.0,530.3 395.4,532.2 397.8,533.9 400.1,535.4 402.5,536.7 404.9,537.9 407.3,539.0 409.6,539.9 412.0,540.8 414.4,541.5 416.7,542.2 419.1,542.8 421.5,543.4 423.8,543.9 426.2,544.4 428.6,544.8 431.0,545.2 433.3,545.6 435.7,546.0 438.1,546.3 440.4,546.6 442.8,546.8 445.2,547.1 447.5,547.3 449.9,547.5 452.3,547.7 454.7,547.8" stroke="#006400" stroke-width="1.3" stroke-opacity="0.5"/>
<path d="M283.5,548.8L284.0,548.8 284.5,548.8 285.1,548.8 285.6,548.8 286.1,548.8 286.6,548.8 287.1,548.8 287.7,548.7 288.2,548.7 288.7,548.5 289.2,548.2 289.8,547.5 290.3,546.3 290.8,544.0 291.3,540.5 291.8,536.3 292.4,531.8 292.9,526.6 293.4,520.4 293.9,513.2 294.5,505.0 295.0,496.1 295.5,486.9 296.0,478.1 296.5,470.1 297.1,463.6 297.6,459.1 298.1,457.0 298.6,456.6 299.2,457.3 299.7,459.0 300.2,461.6 300.7,464.7 301.2,468.2 301.8,471.9 302.3,475.5 302.8,479.0 303.3,482.1 303.8,485.0 304.4,487.6 304.9,489.8 305.4,491.8 305.9,493.6 306.5,495.3 307.0,496.8 307.5,498.3 308.0,499.7 308.5,501.1 309.1,502.5 309.6,503.8 310.1,505.0 310.6,506.2 311.2,507.3 311.7,508.3 312.2,509.3 312.7,510.2 313.2,511.0 313.8,511.8 314.3,512.5 314.8,513.2 317.2,515.5 319.6,517.1 321.9,518.0 324.3,518.5 326.7,518.6 329.0,518.2 331.4,517.3 333.8,515.7 336.1,513.6 338.5,510.8 340.9,507.5 343.3,503.8 345.6,500.1 348.0,496.7 350.4,493.9 352.7,492.0 355.1,491.2 357.5,491.6 359.8,492.5 362.2,493.8 364.6,495.5 367.0,497.6 369.3,500.0 371.7,502.7 374.1,505.7 376.4,508.7 378.8,511.9 381.2,515.0 383.6,518.0 385.9,520.9 388.3,523.7 390.7,526.4 393.0,528.8 395.4,531.0 397.8,533.0 400.1,534.8 402.5,536.5 404.9,537.9 407.3,539.2 409.6,540.3 412.0,541.2 414.4,542.1 416.7,542.8 419.1,543.5 421.5,544.1 423.8,544.6 426.2,545.1 428.6,545.5 431.0,545.9 433.3,546.2 435.7,546.5 438.1,546.8 440.4,547.0 442.8,547.2 445.2,547.4 447.5,547.6 449.9,547.8 452.3,547.9 454.7,548.0" stroke="#006400" stroke-width="1.3" stroke-opacity="0.5"/>
<path d="M283.5,548.8L284.0,548.8 284.5,548.8 285.1,548.8 285.6,548.8 286.1,548.8 286.6,548.8 287.1,548.8 287.7,548.7 288.2,548.5 288.7,548.3 289.2,547.8 289.8,546.9 290.3,545.4 290.8,542.7 291.3,538.6 291.8,533.7 292.4,528.2 292.9,521.9 293.4,514.6 293.9,506.2 294.5,497.0 295.0,487.3 295.5,477.9 296.0,469.2 296.5,461.9 297.1,456.7 297.6,453.9 298.1,453.2 298.6,453.8 299.2,455.5 299.7,458.1 300.2,461.4 300.7,465.2 301.2,469.1 301.8,473.1 302.3,476.9 302.8,480.5 303.3,483.7 303.8,486.5 304.4,489.0 304.9,491.2 305.4,493.2 305.9,494.9 306.5,496.6 307.0,498.1 307.5,499.6 308.0,501.1 308.5,502.5 309.1,503.9 309.6,505.2 310.1,506.5 310.6,507.6 311.2,508.7 311.7,509.7 312.2,510.7 312.7,511.6 313.2,512.4 313.8,513.2 314.3,513.9 314.8,514.5 317.2,516.8 319.6,518.2 321.9,519.1 324.3,519.7 326.7,519.9 329.0,519.9 331.4,519.6 333.8,518.9 336.1,517.8 338.5,516.4 340.9,514.7 343.3,512.9 345.6,511.0 348.0,509.3 350.4,507.8 352.7,506.9 355.1,506.5 357.5,506.8 359.8,507.2 362.2,507.8 364.6,508.7 367.0,509.8 369.3,511.0 371.7,512.5 374.1,514.1 376.4,515.9 378.8,517.7 381.2,519.5 383.6,521.3 385.9,523.2 388.3,525.0 390.7,526.8 393.0,528.5 395.4,530.2 397.8,531.7 400.1,533.2 402.5,534.6 404.9,535.9 407.3,537.1 409.6,538.2 412.0,539.2 414.4,540.2 416.7,541.0 419.1,541.8 421.5,542.5 423.8,543.2 426.2,543.8 428.6,544.3 431.0,544.8 433.3,545.3 435.7,545.7 438.1,546.0 440.4,546.4 442.8,546.7 445.2,546.9 447.5,547.2 449.9,547.4 452.3,547.6 454.7,547.8" stroke="#006400" stroke-width="1.3" stroke-opacity="0.5"/>
<path d="M283.5,548.8L284.0,548.8 284.5,548.8 285.1,548.8 285.6,548.8 286.1,548.8 286.6,548.7 287.1,548.6 287.7,548.4 288.2,548.0 288.7,547.4 289.2,546.3 289.8,544.5 290.3,541.5 290.8,536.6 291.3,529.6 291.8,521.2 292.4,511.9 292.9,501.5 293.4,489.9 293.9,477.3 294.5,464.4 295.0,451.8 295.5,440.5 296.0,431.2 296.5,424.8 297.1,421.7 297.6,421.2 298.1,422.2 298.6,424.6 299.2,428.3 299.7,432.7 300.2,437.7 300.7,443.0 301.2,448.1 301.8,453.1 302.3,457.6 302.8,461.6 303.3,465.2 303.8,468.3 304.4,471.0 304.9,473.4 305.4,475.6 305.9,477.6 306.5,479.5 307.0,481.3 307.5,483.1 308.0,484.9 308.5,486.7 309.1,488.4 309.6,490.1 310.1,491.7 310.6,493.2 311.2,494.6 311.7,495.9 312.2,497.1 312.7,498.3 313.2,499.3 313.8,500.3 314.3,501.3 314.8,502.2 317.2,505.4 319.6,507.8 321.9,509.6 324.3,511.1 326.7,512.1 329.0,512.5 331.4,512.4 333.8,511.4 336.1,509.7 338.5,507.4 340.9,504.5 343.3,501.3 345.6,498.4 348.0,495.9 350.4,494.4 352.7,494.0 355.1,494.7 357.5,495.8 359.8,497.3 362.2,499.0 364.6,501.1 367.0,503.4 369.3,506.0 371.7,508.8 374.1,511.6 376.4,514.6 378.8,517.5 381.2,520.4 383.6,523.1 385.9,525.7 388.3,528.1 390.7,530.4 393.0,532.4 395.4,534.3 397.8,535.9 400.1,537.4 402.5,538.7 404.9,539.8 407.3,540.8 409.6,541.7 412.0,542.5 414.4,543.2 416.7,543.8 419.1,544.3 421.5,544.8 423.8,545.2 426.2,545.6 428.6,545.9 431.0,546.2 433.3,546.5 435.7,546.8 438.1,547.0 440.4,547.2 442.8,547.4 445.2,547.6 447.5,547.7 449.9,547.9 452.3,548.0 454.7,548.1" stroke="#006400" stroke-width="1.3" stroke-opacity="0.5"/>
<path d="M283.5,548.8L284.0,548.8 284.5,548.8 285.1,548.8 285.6,548.8 286.1,548.8 286.6,548.8 287.1,548.7 287.7,548.6 288.2,548.4 288.7,548.1 289.2,547.5 289.8,546.5 290.3,544.7 290.8,541.6 291.3,537.1 291.8,531.6 292.4,525.3 292.9,517.9 293.4,509.3 293.9,499.6 294.5,489.1 295.0,478.3 295.5,467.8 296.0,458.5 296.5,451.0 297.1,446.0 297.6,443.8 298.1,443.7 298.6,445.0 299.2,447.4 299.7,450.9 300.2,455.0 300.7,459.6 301.2,464.4 301.8,469.1 302.3,473.6 302.8,477.7 303.3,481.4 303.8,484.7 304.4,487.6 304.9,490.2 305.4,492.5 305.9,494.6 306.5,496.5 307.0,498.3 307.5,500.0 308.0,501.7 308.5,503.3 309.1,504.9 309.6,506.4 310.1,507.8 310.6,509.2 311.2,510.5 311.7,511.7 312.2,512.8 312.7,513.8 313.2,514.8 313.8,515.7 314.3,516.6 314.8,517.4 317.2,520.3 319.6,522.5 321.9,524.3 324.3,525.9 326.7,527.3 329.0,528.5 331.4,529.4 333.8,529.7 336.1,529.4 338.5,528.0 340.9,525.6 343.3,522.0 345.6,517.5 348.0,512.3 350.4,507.1 352.7,502.5 355.1,499.4 357.5,498.1 359.8,498.4 362.2,499.2 364.6,500.6 367.0,502.6 369.3,505.0 371.7,507.8 374.1,510.8 376.4,514.0 378.8,517.2 381.2,520.4 383.6,523.5 385.9,526.3 388.3,529.0 390.7,531.3 393.0,533.5 395.4,535.3 397.8,537.0 400.1,538.4 402.5,539.6 404.9,540.6 407.3,541.5 409.6,542.2 412.0,542.9 414.4,543.5 416.7,544.0 419.1,544.5 421.5,544.9 423.8,545.2 426.2,545.6 428.6,545.9 431.0,546.2 433.3,546.5 435.7,546.7 438.1,547.0 440.4,547.2 442.8,547.4 445.2,547.5 447.5,547.7 449.9,547.8 452.3,548.0 454.7,548.1" stroke="#006400" stroke-width="1.3" stroke-opacity="0.5"/>
<path d="M283.5,548.8L284.0,548.8 284.5,548.8 285.1,548.8 285.6,548.8 286.1,548.8 286.6,548.8 287.1,548.8 287.7,548.7 288.2,548.6 288.7,548.4 289.2,548.1 289.8,547.4 290.3,546.0 290.8,543.5 291.3,539.7 291.8,535.3 292.4,530.7 292.9,525.6 293.4,519.8 293.9,513.2 294.5,505.9 295.0,498.4 295.5,490.8 296.0,483.8 296.5,477.8 297.1,473.3 297.6,470.6 298.1,469.6 298.6,469.5 299.2,470.3 299.7,471.7 300.2,473.7 300.7,476.1 301.2,478.6 301.8,481.2 302.3,483.7 302.8,486.0 303.3,488.0 303.8,489.8 304.4,491.4 304.9,492.8 305.4,494.1 305.9,495.2 306.5,496.3 307.0,497.3 307.5,498.3 308.0,499.3 308.5,500.4 309.1,501.4 309.6,502.4 310.1,503.4 310.6,504.3 311.2,505.1 311.7,505.9 312.2,506.6 312.7,507.3 313.2,508.0 313.8,508.6 314.3,509.2 314.8,509.7 317.2,511.6 319.6,512.9 321.9,513.7 324.3,514.0 326.7,513.9 329.0,513.4 331.4,512.3 333.8,510.8 336.1,508.9 338.5,506.7 340.9,504.5 343.3,502.5 345.6,501.1 348.0,500.5 350.4,500.8 352.7,501.7 355.1,503.0 357.5,504.5 359.8,506.3 362.2,508.3 364.6,510.5 367.0,512.9 369.3,515.4 371.7,517.9 374.1,520.5 376.4,523.0 378.8,525.3 381.2,527.5 383.6,529.6 385.9,531.5 388.3,533.2 390.7,534.7 393.0,536.1 395.4,537.3 397.8,538.3 400.1,539.3 402.5,540.1 404.9,540.9 407.3,541.6 409.6,542.2 412.0,542.7 414.4,543.3 416.7,543.7 419.1,544.2 421.5,544.6 423.8,545.0 426.2,545.3 428.6,545.7 431.0,546.0 433.3,546.3 435.7,546.5 438.1,546.8 440.4,547.0 442.8,547.2 445.2,547.4 447.5,547.6 449.9,547.8 452.3,547.9 454.7,548.0" stroke="#006400" stroke-width="1.3" stroke-opacity="0.5"/>
<path d="M283.5,548.8L284.0,548.8 284.5,548.8 285.1,548.8 285.6,548.8 286.1,548.8 286.6,548.8 287.1,548.7 287.7,548.6 288.2,548.4 288.7,548.0 289.2,547.4 289.8,546.3 290.3,544.5 290.8,541.3 291.3,536.6 291.8,530.9 292.4,524.5 292.9,517.1 293.4,508.6 293.9,499.0 294.5,488.7 295.0,478.2 295.5,468.2 296.0,459.4 296.5,452.4 297.1,447.9 297.6,446.2 298.1,446.2 298.6,447.5 299.2,450.0 299.7,453.3 300.2,457.3 300.7,461.6 301.2,466.1 301.8,470.5 302.3,474.6 302.8,478.4 303.3,481.9 303.8,484.9 304.4,487.5 304.9,489.8 305.4,491.9 305.9,493.8 306.5,495.6 307.0,497.2 307.5,498.8 308.0,500.4 308.5,502.0 309.1,503.5 309.6,504.9 310.1,506.2 310.6,507.5 311.2,508.6 311.7,509.7 312.2,510.7 312.7,511.7 313.2,512.6 313.8,513.4 314.3,514.1 314.8,514.8 317.2,517.1 319.6,518.6 321.9,519.6 324.3,520.1 326.7,520.2 329.0,519.8 331.4,519.0 333.8,517.5 336.1,515.4 338.5,512.8 340.9,509.8 343.3,506.8 345.6,504.1 348.0,502.0 350.4,501.0 352.7,501.1 355.1,501.7 357.5,502.6 359.8,503.8 362.2,505.2 364.6,506.9 367.0,508.8 369.3,510.9 371.7,513.1 374.1,515.4 376.4,517.8 378.8,520.1 381.2,522.4 383.6,524.5 385.9,526.6 388.3,528.5 390.7,530.2 393.0,531.9 395.4,533.4 397.8,534.7 400.1,536.0 402.5,537.1 404.9,538.1 407.3,539.1 409.6,539.9 412.0,540.7 414.4,541.4 416.7,542.1 419.1,542.7 421.5,543.2 423.8,543.8 426.2,544.2 428.6,544.7 431.0,545.1 433.3,545.5 435.7,545.9 438.1,546.2 440.4,546.5 442.8,546.8 445.2,547.0 447.5,547.2 449.9,547.4 452.3,547.6 454.7,547.8" stroke="#006400" stroke-width="1.3" stroke-opacity="0.5"/>
<path d="M283.5,548.8L284.0,548.8 284.5,548.8 285.1,548.8 285.6,548.8 286.1,548.7 286.6,548.6 287.1,548.5 287.7,548.2 288.2,547.7 288.7,546.8 289.2,545.5 289.8,543.5 290.3,540.2 290.8,535.3 291.3,528.5 291.8,520.3 292.4,511.1 292.9,500.8 293.4,489.6 293.9,477.8 294.5,466.2 295.0,455.6 295.5,446.7 296.0,440.3 296.5,436.9 297.1,436.3 297.6,437.3 298.1,439.6 298.6,443.1 299.2,447.5 299.7,452.5 300.2,457.8 300.7,463.0 301.2,468.0 301.8,472.7 302.3,477.0 302.8,480.7 303.3,484.0 303.8,486.9 304.4,489.4 304.9,491.7 305.4,493.7 305.9,495.6 306.5,497.4 307.0,499.1 307.5,500.8 308.0,502.4 308.5,504.0 309.1,505.5 309.6,507.0 310.1,508.3 310.6,509.6 311.2,510.7 311.7,511.8 312.2,512.7 312.7,513.6 313.2,514.4 313.8,515.1 314.3,515.7 314.8,516.3 317.2,518.1 319.6,519.0 321.9,519.2 324.3,518.9 326.7,518.4 329.0,517.5 331.4,516.3 333.8,514.9 336.1,513.4 338.5,511.8 340.9,510.3 343.3,509.0 345.6,508.2 348.0,507.8 350.4,508.0 352.7,508.8 355.1,509.9 357.5,511.3 359.8,512.9 362.2,514.8 364.6,516.9 367.0,519.1 369.3,521.4 371.7,523.7 374.1,526.0 376.4,528.2 378.8,530.2 381.2,532.1 383.6,533.8 385.9,535.3 388.3,536.6 390.7,537.8 393.0,538.8 395.4,539.7 397.8,540.5 400.1,541.2 402.5,541.8 404.9,542.4 407.3,542.9 409.6,543.3 412.0,543.8 414.4,544.2 416.7,544.5 419.1,544.9 421.5,545.2 423.8,545.5 426.2,545.8 428.6,546.1 431.0,546.4 433.3,546.6 435.7,546.9 438.1,547.1 440.4,547.3 442.8,547.5 445.2,547.6 447.5,547.8 449.9,547.9 452.3,548.0 454.7,548.1" stroke="#006400" stroke-width="1.3" stroke-opacity="0.5"/>
<path d="M283.5,548.8L284.0,548.8 284.5,548.8 285.1,548.8 285.6,548.8 286.1,548.8 286.6,548.8 287.1,548.7 287.7,548.6 288.2,548.5 288.7,548.1 289.2,547.6 289.8,546.6 290.3,544.9 290.8,541.9 291.3,537.5 291.8,532.2 292.4,526.6 292.9,520.3 293.4,513.2 293.9,505.3 294.5,496.9 295.0,488.5 295.5,480.5 296.0,473.5 296.5,468.1 297.1,464.7 297.6,463.4 298.1,463.2 298.6,464.1 299.2,465.8 299.7,468.1 300.2,470.9 300.7,474.0 301.2,477.1 301.8,480.2 302.3,483.1 302.8,485.6 303.3,487.9 303.8,489.9 304.4,491.7 304.9,493.2 305.4,494.6 305.9,495.9 306.5,497.1 307.0,498.3 307.5,499.4 308.0,500.6 308.5,501.8 309.1,502.9 309.6,504.0 310.1,505.0 310.6,506.0 311.2,506.9 311.7,507.8 312.2,508.6 312.7,509.4 313.2,510.1 313.8,510.8 314.3,511.4 314.8,511.9 317.2,514.1 319.6,515.7 321.9,516.9 324.3,518.0 326.7,518.9 329.0,519.6 331.4,520.0 333.8,520.0 336.1,519.6 338.5,518.7 340.9,517.3 343.3,515.5 345.6,513.2 348.0,510.8 350.4,508.4 352.7,506.2 355.1,504.6 357.5,503.6 359.8,503.5 362.2,504.0 364.6,504.8 367.0,505.8 369.3,507.1 371.7,508.6 374.1,510.4 376.4,512.3 378.8,514.4 381.2,516.5 383.6,518.7 385.9,520.8 388.3,523.0 390.7,525.1 393.0,527.2 395.4,529.2 397.8,531.0 400.1,532.8 402.5,534.4 404.9,535.9 407.3,537.2 409.6,538.5 412.0,539.6 414.4,540.6 416.7,541.5 419.1,542.4 421.5,543.1 423.8,543.7 426.2,544.3 428.6,544.8 431.0,545.3 433.3,545.7 435.7,546.1 438.1,546.4 440.4,546.7 442.8,547.0 445.2,547.2 447.5,547.4 449.9,547.6 452.3,547.8 454.7,547.9" stroke="#006400" stroke-width="1.3" stroke-opacity="0.5"/>
<path d="M283.5,548.8L284.0,548.8 284.5,548.8 285.1,548.8 285.6,548.8 286.1,548.8 286.6,548.8 287.1,548.8 287.7,548.7 288.2,548.6 288.7,548.5 289.2,548.1 289.8,547.5 290.3,546.2 290.8,543.7 291.3,540.0 291.8,535.7 292.4,531.3 292.9,526.3 293.4,520.7 293.9,514.2 294.5,507.1 295.0,499.5 295.5,491.8 296.0,484.5 296.5,478.2 297.1,473.2 297.6,470.0 298.1,468.6 298.6,468.3 299.2,468.8 299.7,470.1 300.2,472.0 300.7,474.3 301.2,476.8 301.8,479.4 302.3,481.9 302.8,484.2 303.3,486.4 303.8,488.3 304.4,490.0 304.9,491.4 305.4,492.7 305.9,493.9 306.5,495.0 307.0,496.1 307.5,497.1 308.0,498.2 308.5,499.3 309.1,500.4 309.6,501.4 310.1,502.4 310.6,503.3 311.2,504.2 311.7,505.1 312.2,505.8 312.7,506.6 313.2,507.3 313.8,508.0 314.3,508.6 314.8,509.2 317.2,511.4 319.6,513.1 321.9,514.4 324.3,515.4 326.7,516.1 329.0,516.2 331.4,515.8 333.8,514.6 336.1,512.6 338.5,509.8 340.9,506.4 343.3,502.6 345.6,498.8 348.0,495.5 350.4,493.0 352.7,491.8 355.1,492.0 357.5,492.9 359.8,494.4 362.2,496.3 364.6,498.7 367.0,501.4 369.3,504.4 371.7,507.7 374.1,511.0 376.4,514.4 378.8,517.7 381.2,520.8 383.6,523.8 385.9,526.5 388.3,528.9 390.7,531.1 393.0,533.1 395.4,534.8 397.8,536.3 400.1,537.6 402.5,538.7 404.9,539.7 407.3,540.6 409.6,541.3 412.0,542.0 414.4,542.6 416.7,543.2 419.1,543.7 421.5,544.1 423.8,544.6 426.2,545.0 428.6,545.3 431.0,545.7 433.3,546.0 435.7,546.3 438.1,546.6 440.4,546.8 442.8,547.1 445.2,547.3 447.5,547.5 449.9,547.6 452.3,547.8 454.7,547.9" stroke="#006400" stroke-width="1.3" stroke-opacity="0.5"/>
<path d="M283.5,548.8L284.0,548.8 284.5,548.8 285.1,548.8 285.6,548.8 286.1,548.8 286.6,548.7 287.1,548.6 287.7,548.5 288.2,548.1 288.7,547.6 289.2,546.7 289.8,545.2 290.3,542.7 290.8,538.6 291.3,532.8 291.8,525.7 292.4,517.5 292.9,508.1 293.4,497.5 293.9,485.7 294.5,473.4 295.0,461.2 295.5,449.9 296.0,440.5 296.5,433.7 297.1,430.1 297.6,429.4 298.1,430.4 298.6,432.8 299.2,436.5 299.7,441.1 300.2,446.3 300.7,451.8 301.2,457.3 301.8,462.6 302.3,467.5 302.8,472.0 303.3,475.9 303.8,479.4 304.4,482.5 304.9,485.2 305.4,487.7 305.9,489.9 306.5,492.0 307.0,494.0 307.5,495.9 308.0,497.7 308.5,499.5 309.1,501.3 309.6,502.9 310.1,504.5 310.6,505.9 311.2,507.2 311.7,508.5 312.2,509.7 312.7,510.7 313.2,511.7 313.8,512.6 314.3,513.4 314.8,514.2 317.2,516.7 319.6,518.2 321.9,519.0 324.3,519.3 326.7,519.1 329.0,518.3 331.4,517.0 333.8,514.9 336.1,512.0 338.5,508.5 340.9,504.7 343.3,500.8 345.6,497.2 348.0,494.5 350.4,493.1 352.7,493.2 355.1,494.1 357.5,495.4 359.8,496.9 362.2,498.7 364.6,500.8 367.0,503.2 369.3,505.7 371.7,508.4 374.1,511.3 376.4,514.1 378.8,516.9 381.2,519.7 383.6,522.3 385.9,524.9 388.3,527.2 390.7,529.5 393.0,531.5 395.4,533.4 397.8,535.1 400.1,536.6 402.5,538.0 404.9,539.2 407.3,540.3 409.6,541.2 412.0,542.1 414.4,542.8 416.7,543.5 419.1,544.1 421.5,544.6 423.8,545.1 426.2,545.5 428.6,545.9 431.0,546.2 433.3,546.5 435.7,546.8 438.1,547.0 440.4,547.2 442.8,547.4 445.2,547.6 447.5,547.7 449.9,547.9 452.3,548.0 454.7,548.1" stroke="#006400" stroke-width="1.3" stroke-opacity="0.5"/>
<path d="M283.5,548.8L284.0,548.8 284.5,548.8 285.1,548.8 285.6,548.8 286.1,548.8 286.6,548.7 287.1,548.5 287.7,548.3 288.2,547.8 288.7,547.1 289.2,545.9 289.8,544.1 290.3,541.0 290.8,536.2 291.3,529.5 291.8,521.4 292.4,512.4 292.9,502.3 293.4,491.4 293.9,479.7 294.5,468.0 295.0,457.0 295.5,447.5 296.0,440.3 296.5,435.9 297.1,434.5 297.6,434.8 298.1,436.5 298.6,439.5 299.2,443.4 299.7,447.9 300.2,452.7 300.7,457.7 301.2,462.5 301.8,467.0 302.3,471.0 302.8,474.7 303.3,477.8 303.8,480.6 304.4,483.0 304.9,485.2 305.4,487.2 305.9,489.0 306.5,490.7 307.0,492.3 307.5,494.0 308.0,495.6 308.5,497.2 309.1,498.8 309.6,500.2 310.1,501.6 310.6,502.9 311.2,504.1 311.7,505.2 312.2,506.2 312.7,507.2 313.2,508.1 313.8,508.8 314.3,509.6 314.8,510.2 317.2,512.5 319.6,513.9 321.9,514.7 324.3,514.9 326.7,514.7 329.0,513.9 331.4,512.3 333.8,510.1 336.1,507.3 338.5,504.1 340.9,501.0 343.3,498.2 345.6,496.4 348.0,495.8 350.4,496.6 352.7,497.7 355.1,499.1 357.5,500.7 359.8,502.4 362.2,504.4 364.6,506.5 367.0,508.8 369.3,511.1 371.7,513.6 374.1,516.1 376.4,518.5 378.8,520.9 381.2,523.3 383.6,525.5 385.9,527.6 388.3,529.5 390.7,531.3 393.0,533.0 395.4,534.6 397.8,536.0 400.1,537.3 402.5,538.4 404.9,539.5 407.3,540.4 409.6,541.2 412.0,542.0 414.4,542.7 416.7,543.3 419.1,543.9 421.5,544.4 423.8,544.8 426.2,545.3 428.6,545.6 431.0,546.0 433.3,546.3 435.7,546.6 438.1,546.8 440.4,547.1 442.8,547.3 445.2,547.5 447.5,547.6 449.9,547.8 452.3,547.9 454.7,548.1" stroke="#006400" stroke-width="1.3" stroke-opacity="0.5"/>
<path d="M283.5,548.8L284.0,548.8 284.5,548.8 285.1,548.8 285.6,548.8 286.1,548.8 286.6,548.7 287.1,548.6 287.7,548.3 288.2,547.9 288.7,547.2 289.2,546.1 289.8,544.3 290.3,541.2 290.8,536.2 291.3,529.1 291.8,520.7 292.4,511.4 292.9,501.1 293.4,489.8 293.9,477.8 294.5,465.5 295.0,453.7 295.5,443.4 296.0,435.2 296.5,429.9 297.1,427.7 297.6,427.5 298.1,428.8 298.6,431.4 299.2,435.0 299.7,439.3 300.2,444.1 300.7,449.0 301.2,453.8 301.8,458.3 302.3,462.4 302.8,466.0 303.3,469.2 303.8,472.0 304.4,474.4 304.9,476.6 305.4,478.5 305.9,480.3 306.5,482.0 307.0,483.7 307.5,485.3 308.0,487.0 308.5,488.7 309.1,490.3 309.6,491.8 310.1,493.2 310.6,494.6 311.2,495.8 311.7,497.0 312.2,498.0 312.7,499.0 313.2,499.9 313.8,500.7 314.3,501.5 314.8,502.2 317.2,504.5 319.6,506.0 321.9,506.8 324.3,507.2 326.7,507.2 329.0,506.8 331.4,506.1 333.8,505.1 336.1,503.9 338.5,502.6 340.9,501.4 343.3,500.5 345.6,500.2 348.0,500.6 350.4,501.8 352.7,503.2 355.1,504.9 357.5,506.9 359.8,509.0 362.2,511.3 364.6,513.8 367.0,516.3 369.3,518.8 371.7,521.3 374.1,523.7 376.4,526.0 378.8,528.1 381.2,530.0 383.6,531.8 385.9,533.3 388.3,534.7 390.7,536.0 393.0,537.0 395.4,538.0 397.8,538.9 400.1,539.6 402.5,540.3 404.9,541.0 407.3,541.5 409.6,542.1 412.0,542.6 414.4,543.1 416.7,543.5 419.1,544.0 421.5,544.4 423.8,544.8 426.2,545.1 428.6,545.5 431.0,545.8 433.3,546.1 435.7,546.4 438.1,546.7 440.4,546.9 442.8,547.1 445.2,547.3 447.5,547.5 449.9,547.7 452.3,547.8 454.7,548.0" stroke="#006400" stroke-width="1.3" stroke-opacity="0.5"/>
<path d="M283.5,548.8L284.0,548.8 284.5,548.8 285.1,548.8 285.6,548.8 286.1,548.8 286.6,548.8 287.1,548.8 287.7,548.8 288.2,548.7 288.7,548.6 289.2,548.4 289.8,547.9 290.3,547.0 290.8,545.2 291.3,542.4 291.8,539.3 292.4,536.0 292.9,532.4 293.4,528.3 293.9,523.5 294.5,518.0 295.0,512.2 295.5,506.1 296.0,500.3 296.5,495.0 297.1,490.7 297.6,487.6 298.1,486.0 298.6,485.5 299.2,485.6 299.7,486.4 300.2,487.7 300.7,489.4 301.2,491.3 301.8,493.3 302.3,495.3 302.8,497.2 303.3,499.0 303.8,500.5 304.4,501.9 304.9,503.1 305.4,504.2 305.9,505.2 306.5,506.0 307.0,506.9 307.5,507.7 308.0,508.6 308.5,509.4 309.1,510.2 309.6,511.0 310.1,511.8 310.6,512.5 311.2,513.1 311.7,513.7 312.2,514.3 312.7,514.9 313.2,515.4 313.8,515.8 314.3,516.2 314.8,516.6 317.2,517.9 319.6,518.6 321.9,518.8 324.3,518.6 326.7,517.9 329.0,516.9 331.4,515.4 333.8,513.7 336.1,511.7 338.5,509.7 340.9,507.8 343.3,506.4 345.6,505.5 348.0,505.3 350.4,505.8 352.7,506.6 355.1,507.5 357.5,508.6 359.8,509.8 362.2,511.2 364.6,512.8 367.0,514.4 369.3,516.2 371.7,518.1 374.1,520.1 376.4,522.0 378.8,524.0 381.2,525.9 383.6,527.7 385.9,529.4 388.3,531.1 390.7,532.6 393.0,534.1 395.4,535.4 397.8,536.7 400.1,537.8 402.5,538.8 404.9,539.8 407.3,540.6 409.6,541.4 412.0,542.1 414.4,542.8 416.7,543.4 419.1,543.9 421.5,544.4 423.8,544.9 426.2,545.3 428.6,545.6 431.0,546.0 433.3,546.3 435.7,546.6 438.1,546.8 440.4,547.1 442.8,547.3 445.2,547.5 447.5,547.6 449.9,547.8 452.3,547.9 454.7,548.1" stroke="#006400" stroke-width="1.3" stroke-opacity="0.5"/>
<path d="M283.5,548.8L284.0,548.8 284.5,548.8 285.1,548.8 285.6,548.8 286.1,548.8 286.6,548.7 287.1,548.7 287.7,548.5 288.2,548.2 288.7,547.7 289.2,546.9 289.8,545.5 290.3,543.2 290.8,539.3 291.3,533.8 291.8,527.1 292.4,519.5 292.9,510.9 293.4,501.2 293.9,490.5 294.5,479.2 295.0,468.1 295.5,457.9 296.0,449.3 296.5,443.0 297.1,439.6 297.6,438.9 298.1,439.6 298.6,441.6 299.2,444.7 299.7,448.6 300.2,453.1 300.7,457.9 301.2,462.7 301.8,467.3 302.3,471.5 302.8,475.4 303.3,478.8 303.8,481.8 304.4,484.5 304.9,486.8 305.4,488.9 305.9,490.8 306.5,492.6 307.0,494.3 307.5,495.9 308.0,497.5 308.5,499.1 309.1,500.7 309.6,502.1 310.1,503.5 310.6,504.8 311.2,506.0 311.7,507.1 312.2,508.1 312.7,509.0 313.2,509.8 313.8,510.6 314.3,511.3 314.8,511.9 317.2,514.0 319.6,515.1 321.9,515.4 324.3,515.3 326.7,514.7 329.0,513.7 331.4,512.3 333.8,510.6 336.1,508.6 338.5,506.5 340.9,504.6 343.3,503.1 345.6,502.1 348.0,501.9 350.4,502.5 352.7,503.4 355.1,504.6 357.5,506.0 359.8,507.7 362.2,509.5 364.6,511.6 367.0,513.7 369.3,516.0 371.7,518.3 374.1,520.6 376.4,522.9 378.8,525.0 381.2,527.0 383.6,528.8 385.9,530.5 388.3,532.1 390.7,533.5 393.0,534.7 395.4,535.9 397.8,536.9 400.1,537.9 402.5,538.7 404.9,539.5 407.3,540.2 409.6,540.9 412.0,541.5 414.4,542.1 416.7,542.6 419.1,543.1 421.5,543.6 423.8,544.1 426.2,544.5 428.6,544.9 431.0,545.3 433.3,545.7 435.7,546.0 438.1,546.3 440.4,546.6 442.8,546.9 445.2,547.1 447.5,547.3 449.9,547.5 452.3,547.7 454.7,547.8" stroke="#006400" stroke-width="1.3" stroke-opacity="0.5"/>
<path d="M283.5,548.8L284.0,548.8 284.5,548.8 285.1,548.8 285.6,548.8 286.1,548.8 286.6,548.8 287.1,548.8 287.7,548.7 288.2,548.5 288.7,548.2 289.2,547.8 289.8,546.9 290.3,545.4 290.8,542.8 291.3,538.9 291.8,534.1 292.4,528.8 292.9,522.7 293.4,515.6 293.9,507.6 294.5,498.9 295.0,489.9 295.5,481.1 296.0,473.2 296.5,466.8 297.1,462.3 297.6,460.3 298.1,460.0 298.6,460.8 299.2,462.6 299.7,465.2 300.2,468.5 300.7,472.1 301.2,475.9 301.8,479.7 302.3,483.3 302.8,486.5 303.3,489.5 303.8,492.2 304.4,494.5 304.9,496.5 305.4,498.3 305.9,500.0 306.5,501.5 307.0,503.0 307.5,504.3 308.0,505.7 308.5,507.1 309.1,508.4 309.6,509.6 310.1,510.8 310.6,511.9 311.2,513.0 311.7,514.0 312.2,514.9 312.7,515.8 313.2,516.6 313.8,517.4 314.3,518.1 314.8,518.8 317.2,521.2 319.6,523.1 321.9,524.4 324.3,525.3 326.7,525.8 329.0,525.7 331.4,524.7 333.8,522.7 336.1,519.6 338.5,515.7 340.9,511.1 343.3,506.5 345.6,502.5 348.0,499.7 350.4,498.7 352.7,499.1 355.1,499.8 357.5,500.9 359.8,502.3 362.2,504.1 364.6,506.1 367.0,508.3 369.3,510.8 371.7,513.4 374.1,516.1 376.4,518.7 378.8,521.4 381.2,523.9 383.6,526.3 385.9,528.5 388.3,530.6 390.7,532.5 393.0,534.2 395.4,535.7 397.8,537.1 400.1,538.3 402.5,539.4 404.9,540.3 407.3,541.2 409.6,541.9 412.0,542.6 414.4,543.2 416.7,543.8 419.1,544.2 421.5,544.7 423.8,545.1 426.2,545.5 428.6,545.8 431.0,546.1 433.3,546.4 435.7,546.7 438.1,546.9 440.4,547.1 442.8,547.3 445.2,547.5 447.5,547.7 449.9,547.8 452.3,548.0 454.7,548.1" stroke="#006400" stroke-width="1.3" stroke-opacity="0.5"/>
<path d="M283.5,548.8L284.0,548.8 284.5,548.8 285.1,548.8 285.6,548.8 286.1,548.8 286.6,548.8 287.1,548.7 287.7,548.6 288.2,548.4 288.7,548.0 289.2,547.3 289.8,546.1 290.3,543.9 290.8,540.2 291.3,534.7 291.8,528.1 292.4,520.8 292.9,512.7 293.4,503.3 293.9,492.9 294.5,481.8 295.0,470.4 295.5,459.5 296.0,449.9 296.5,442.3 297.1,437.3 297.6,435.2 298.1,435.0 298.6,436.1 299.2,438.4 299.7,441.6 300.2,445.5 300.7,449.9 301.2,454.3 301.8,458.7 302.3,462.8 302.8,466.6 303.3,470.0 303.8,472.9 304.4,475.5 304.9,477.8 305.4,479.8 305.9,481.7 306.5,483.4 307.0,485.1 307.5,486.8 308.0,488.4 308.5,490.0 309.1,491.6 309.6,493.2 310.1,494.6 310.6,496.0 311.2,497.4 311.7,498.6 312.2,499.8 312.7,500.9 313.2,502.0 313.8,503.0 314.3,503.9 314.8,504.8 317.2,508.3 319.6,511.3 321.9,513.9 324.3,516.4 326.7,518.8 329.0,521.1 331.4,523.2 333.8,524.9 336.1,526.2 338.5,526.7 340.9,526.5 343.3,525.4 345.6,523.3 348.0,520.4 350.4,516.9 352.7,513.1 355.1,509.4 357.5,506.3 359.8,504.1 362.2,503.2 364.6,503.4 367.0,503.9 369.3,504.8 371.7,506.0 374.1,507.5 376.4,509.3 378.8,511.3 381.2,513.5 383.6,515.8 385.9,518.2 388.3,520.6 390.7,523.0 393.0,525.4 395.4,527.7 397.8,529.9 400.1,531.9 402.5,533.8 404.9,535.5 407.3,537.1 409.6,538.6 412.0,539.9 414.4,541.0 416.7,542.0 419.1,542.9 421.5,543.7 423.8,544.4 426.2,544.9 428.6,545.5 431.0,545.9 433.3,546.3 435.7,546.6 438.1,546.9 440.4,547.2 442.8,547.4 445.2,547.6 447.5,547.8 449.9,547.9 452.3,548.0 454.7,548.1" stroke="#006400" stroke-width="1.3" stroke-opacity="0.5"/>
<path d="M283.5,548.8L284.0,548.8 284.5,548.8 285.1,548.8 285.6,548.8 286.1,548.7 286.6,548.6 287.1,548.4 287.7,548.1 288.2,547.5 288.7,546.5 289.2,544.9 289.8,542.5 290.3,538.7 290.8,532.7 291.3,524.4 291.8,514.5 292.4,503.7 292.9,491.9 293.4,479.1 293.9,465.9 294.5,452.9 295.0,441.1 295.5,431.2 296.0,424.2 296.5,420.6 297.1,419.8 297.6,420.8 298.1,423.2 298.6,426.8 299.2,431.4 299.7,436.6 300.2,442.0 300.7,447.4 301.2,452.6 301.8,457.4 302.3,461.6 302.8,465.4 303.3,468.7 303.8,471.6 304.4,474.1 304.9,476.3 305.4,478.3 305.9,480.2 306.5,482.1 307.0,483.8 307.5,485.6 308.0,487.3 308.5,489.1 309.1,490.8 309.6,492.4 310.1,493.9 310.6,495.3 311.2,496.6 311.7,497.8 312.2,498.9 312.7,499.9 313.2,500.8 313.8,501.7 314.3,502.5 314.8,503.2 317.2,505.6 319.6,507.1 321.9,507.9 324.3,508.2 326.7,508.0 329.0,507.4 331.4,506.1 333.8,504.2 336.1,501.8 338.5,498.9 340.9,495.8 343.3,492.8 345.6,490.2 348.0,488.3 350.4,487.5 352.7,487.9 355.1,489.2 357.5,490.9 359.8,493.1 362.2,495.8 364.6,498.7 367.0,501.9 369.3,505.4 371.7,508.9 374.1,512.5 376.4,516.0 378.8,519.4 381.2,522.6 383.6,525.5 385.9,528.2 388.3,530.6 390.7,532.7 393.0,534.6 395.4,536.3 397.8,537.7 400.1,538.9 402.5,540.0 404.9,540.9 407.3,541.7 409.6,542.4 412.0,543.0 414.4,543.5 416.7,544.0 419.1,544.5 421.5,544.9 423.8,545.2 426.2,545.6 428.6,545.9 431.0,546.2 433.3,546.5 435.7,546.7 438.1,546.9 440.4,547.2 442.8,547.4 445.2,547.5 447.5,547.7 449.9,547.8 452.3,548.0 454.7,548.1" stroke="#006400" stroke-width="1.3" stroke-opacity="0.5"/>
<path d="M283.5,548.8L284.0,548.8 284.5,548.8 285.1,548.8 285.6,548.8 286.1,548.8 286.6,548.8 287.1,548.7 287.7,548.6 288.2,548.4 288.7,548.0 289.2,547.3 289.8,546.2 290.3,544.2 290.8,540.7 291.3,535.7 291.8,529.7 292.4,523.2 292.9,515.9 293.4,507.7 293.9,498.7 294.5,489.2 295.0,479.7 295.5,470.8 296.0,463.1 296.5,457.3 297.1,453.7 297.6,452.5 298.1,452.6 298.6,453.7 299.2,455.8 299.7,458.7 300.2,462.0 300.7,465.6 301.2,469.2 301.8,472.7 302.3,476.0 302.8,479.0 303.3,481.6 303.8,483.9 304.4,485.9 304.9,487.7 305.4,489.2 305.9,490.7 306.5,492.1 307.0,493.4 307.5,494.7 308.0,496.0 308.5,497.4 309.1,498.7 309.6,499.9 310.1,501.1 310.6,502.2 311.2,503.2 311.7,504.2 312.2,505.1 312.7,505.9 313.2,506.7 313.8,507.4 314.3,508.1 314.8,508.7 317.2,511.0 319.6,512.6 321.9,513.9 324.3,515.0 326.7,516.0 329.0,516.9 331.4,517.6 333.8,518.0 336.1,517.9 338.5,517.4 340.9,516.4 343.3,514.8 345.6,512.9 348.0,510.8 350.4,508.8 352.7,507.2 355.1,506.3 357.5,506.4 359.8,507.1 362.2,508.0 364.6,509.1 367.0,510.4 369.3,511.9 371.7,513.6 374.1,515.4 376.4,517.3 378.8,519.2 381.2,521.2 383.6,523.1 385.9,525.0 388.3,526.9 390.7,528.7 393.0,530.4 395.4,532.1 397.8,533.6 400.1,535.0 402.5,536.3 404.9,537.6 407.3,538.7 409.6,539.7 412.0,540.6 414.4,541.5 416.7,542.2 419.1,542.9 421.5,543.5 423.8,544.1 426.2,544.6 428.6,545.1 431.0,545.5 433.3,545.9 435.7,546.2 438.1,546.5 440.4,546.8 442.8,547.0 445.2,547.3 447.5,547.5 449.9,547.6 452.3,547.8 454.7,547.9" stroke="#006400" stroke-width="1.3" stroke-opacity="0.5"/>
<path d="M283.5,548.8L284.0,548.8 284.5,548.8 285.1,548.8 285.6,548.8 286.1,548.8 286.6,548.8 287.1,548.7 287.7,548.5 288.2,548.3 288.7,547.8 289.2,547.1 289.8,545.8 290.3,543.5 290.8,539.7 291.3,534.1 291.8,527.5 292.4,520.1 292.9,511.7 293.4,502.3 293.9,492.0 294.5,481.0 295.0,470.1 295.5,459.9 296.0,451.2 296.5,444.6 297.1,440.7 297.6,439.5 298.1,439.8 298.6,441.4 299.2,444.1 299.7,447.6 300.2,451.7 300.7,456.0 301.2,460.5 301.8,464.7 302.3,468.7 302.8,472.3 303.3,475.5 303.8,478.3 304.4,480.8 304.9,482.9 305.4,484.9 305.9,486.6 306.5,488.3 307.0,489.9 307.5,491.5 308.0,493.1 308.5,494.6 309.1,496.2 309.6,497.6 310.1,499.0 310.6,500.3 311.2,501.5 311.7,502.7 312.2,503.8 312.7,504.8 313.2,505.7 313.8,506.6 314.3,507.4 314.8,508.2 317.2,511.1 319.6,513.4 321.9,515.2 324.3,516.8 326.7,518.3 329.0,519.5 331.4,520.5 333.8,521.2 336.1,521.4 338.5,521.1 340.9,520.5 343.3,519.4 345.6,518.0 348.0,516.4 350.4,514.9 352.7,513.7 355.1,512.8 357.5,512.5 359.8,512.8 362.2,513.3 364.6,514.1 367.0,515.1 369.3,516.4 371.7,517.8 374.1,519.4 376.4,521.1 378.8,522.9 381.2,524.7 383.6,526.6 385.9,528.4 388.3,530.2 390.7,531.9 393.0,533.5 395.4,535.0 397.8,536.5 400.1,537.8 402.5,539.0 404.9,540.0 407.3,541.0 409.6,541.9 412.0,542.6 414.4,543.3 416.7,543.9 419.1,544.5 421.5,545.0 423.8,545.4 426.2,545.8 428.6,546.1 431.0,546.4 433.3,546.7 435.7,546.9 438.1,547.2 440.4,547.4 442.8,547.5 445.2,547.7 447.5,547.8 449.9,548.0 452.3,548.1 454.7,548.2" stroke="#006400" stroke-width="1.3" stroke-opacity="0.5"/>
<path d="M283.5,548.8L284.0,548.8 284.5,548.8 285.1,548.8 285.6,548.8 286.1,548.8 286.6,548.8 287.1,548.7 287.7,548.6 288.2,548.4 288.7,548.0 289.2,547.4 289.8,546.3 290.3,544.3 290.8,540.9 291.3,535.9 291.8,529.9 292.4,523.2 292.9,515.7 293.4,507.1 293.9,497.5 294.5,487.2 295.0,476.7 295.5,466.7 296.0,457.9 296.5,451.0 297.1,446.4 297.6,444.6 298.1,444.4 298.6,445.5 299.2,447.7 299.7,450.8 300.2,454.5 300.7,458.6 301.2,462.8 301.8,466.9 302.3,470.7 302.8,474.2 303.3,477.4 303.8,480.1 304.4,482.6 304.9,484.7 305.4,486.6 305.9,488.3 306.5,489.9 307.0,491.5 307.5,493.0 308.0,494.4 308.5,495.9 309.1,497.3 309.6,498.7 310.1,499.9 310.6,501.1 311.2,502.2 311.7,503.2 312.2,504.2 312.7,505.0 313.2,505.8 313.8,506.5 314.3,507.1 314.8,507.7 317.2,509.3 319.6,509.8 321.9,509.2 324.3,507.8 326.7,505.4 329.0,502.3 331.4,498.6 333.8,494.5 336.1,490.5 338.5,487.1 340.9,484.8 343.3,484.0 345.6,484.8 348.0,486.1 350.4,487.7 352.7,489.7 355.1,491.9 357.5,494.4 359.8,497.1 362.2,499.9 364.6,502.9 367.0,505.9 369.3,509.0 371.7,512.0 374.1,515.0 376.4,517.9 378.8,520.6 381.2,523.1 383.6,525.4 385.9,527.6 388.3,529.5 390.7,531.2 393.0,532.8 395.4,534.2 397.8,535.4 400.1,536.6 402.5,537.6 404.9,538.5 407.3,539.4 409.6,540.2 412.0,540.9 414.4,541.6 416.7,542.2 419.1,542.8 421.5,543.3 423.8,543.8 426.2,544.3 428.6,544.7 431.0,545.1 433.3,545.5 435.7,545.8 438.1,546.2 440.4,546.5 442.8,546.7 445.2,547.0 447.5,547.2 449.9,547.4 452.3,547.6 454.7,547.8" stroke="#006400" stroke-width="1.3" stroke-opacity="0.5"/>
<path d="M283.5,548.8L284.0,548.8 284.5,548.8 285.1,548.8 285.6,548.8 286.1,548.8 286.6,548.8 287.1,548.8 287.7,548.8 288.2,548.7 288.7,548.5 289.2,548.2 289.8,547.5 290.3,546.2 290.8,543.9 291.3,540.4 291.8,536.1 292.4,531.4 292.9,526.0 293.4,519.7 293.9,512.5 294.5,504.6 295.0,496.5 295.5,488.6 296.0,481.5 296.5,475.9 297.1,472.3 297.6,470.9 298.1,471.0 298.6,472.2 299.2,474.5 299.7,477.4 300.2,480.7 300.7,484.1 301.2,487.4 301.8,490.3 302.3,492.9 302.8,495.0 303.3,496.8 303.8,498.3 304.4,499.6 304.9,500.7 305.4,501.7 305.9,502.7 306.5,503.7 307.0,504.6 307.5,505.6 308.0,506.7 308.5,507.7 309.1,508.8 309.6,509.8 310.1,510.7 310.6,511.6 311.2,512.4 311.7,513.2 312.2,514.0 312.7,514.7 313.2,515.4 313.8,516.0 314.3,516.5 314.8,517.1 317.2,519.2 319.6,520.9 321.9,522.5 324.3,523.9 326.7,525.2 329.0,526.1 331.4,526.5 333.8,525.9 336.1,524.2 338.5,520.9 340.9,516.1 343.3,510.0 345.6,503.1 348.0,496.5 350.4,491.0 352.7,487.8 355.1,487.4 357.5,488.0 359.8,489.2 362.2,490.8 364.6,492.9 367.0,495.4 369.3,498.2 371.7,501.4 374.1,504.8 376.4,508.2 378.8,511.7 381.2,515.1 383.6,518.4 385.9,521.6 388.3,524.5 390.7,527.3 393.0,529.8 395.4,532.0 397.8,534.0 400.1,535.8 402.5,537.4 404.9,538.8 407.3,540.0 409.6,541.0 412.0,541.9 414.4,542.7 416.7,543.4 419.1,544.0 421.5,544.5 423.8,545.0 426.2,545.4 428.6,545.8 431.0,546.1 433.3,546.4 435.7,546.7 438.1,546.9 440.4,547.2 442.8,547.4 445.2,547.5 447.5,547.7 449.9,547.8 452.3,548.0 454.7,548.1" stroke="#006400" stroke-width="1.3" stroke-opacity="0.5"/>
<path d="M283.5,548.8L284.0,548.8 284.5,548.8 285.1,548.8 285.6,548.8 286.1,548.8 286.6,548.8 287.1,548.8 287.7,548.8 288.2,548.7 288.7,548.5 289.2,548.3 289.8,547.7 290.3,546.6 290.8,544.4 291.3,541.2 291.8,537.4 292.4,533.2 292.9,528.6 293.4,523.2 293.9,517.1 294.5,510.5 295.0,503.5 295.5,496.8 296.0,490.9 296.5,486.1 297.1,482.9 297.6,481.5 298.1,481.4 298.6,482.3 299.2,484.0 299.7,486.3 300.2,488.8 300.7,491.5 301.2,494.0 301.8,496.3 302.3,498.3 302.8,499.9 303.3,501.3 303.8,502.4 304.4,503.3 304.9,504.1 305.4,504.8 305.9,505.6 306.5,506.3 307.0,507.1 307.5,507.8 308.0,508.7 308.5,509.5 309.1,510.4 309.6,511.2 310.1,512.0 310.6,512.8 311.2,513.5 311.7,514.2 312.2,514.8 312.7,515.4 313.2,516.0 313.8,516.5 314.3,517.0 314.8,517.5 317.2,519.4 319.6,521.1 321.9,522.7 324.3,524.3 326.7,525.9 329.0,527.5 331.4,529.1 333.8,530.6 336.1,531.8 338.5,532.8 340.9,533.3 343.3,533.1 345.6,532.2 348.0,530.2 350.4,527.1 352.7,522.7 355.1,517.2 357.5,510.7 359.8,503.8 362.2,497.0 364.6,491.2 367.0,486.9 369.3,484.9 371.7,485.0 374.1,486.0 376.4,487.9 378.8,490.5 381.2,493.8 383.6,497.5 385.9,501.6 388.3,505.9 390.7,510.3 393.0,514.6 395.4,518.7 397.8,522.6 400.1,526.2 402.5,529.5 404.9,532.4 407.3,534.9 409.6,537.0 412.0,538.9 414.4,540.4 416.7,541.7 419.1,542.8 421.5,543.6 423.8,544.4 426.2,545.0 428.6,545.5 431.0,545.9 433.3,546.3 435.7,546.6 438.1,546.9 440.4,547.1 442.8,547.3 445.2,547.5 447.5,547.7 449.9,547.8 452.3,548.0 454.7,548.1" stroke="#006400" stroke-width="1.3" stroke-opacity="0.5"/>
<path d="M283.5,548.8L284.0,548.8 284.5,548.8 285.1,548.8 285.6,548.8 286.1,548.8 286.6,548.8 287.1,548.8 287.7,548.7 288.2,548.6 288.7,548.5 289.2,548.1 289.8,547.4 290.3,546.1 290.8,543.7 291.3,540.0 291.8,535.5 292.4,530.5 292.9,524.8 293.4,518.1 293.9,510.4 294.5,501.9 295.0,493.2 295.5,484.7 296.0,477.2 296.5,471.3 297.1,467.4 297.6,466.0 298.1,466.1 298.6,467.6 299.2,470.1 299.7,473.3 300.2,477.0 300.7,480.7 301.2,484.3 301.8,487.6 302.3,490.4 302.8,492.8 303.3,494.8 303.8,496.5 304.4,497.9 304.9,499.1 305.4,500.3 305.9,501.4 306.5,502.4 307.0,503.5 307.5,504.6 308.0,505.7 308.5,506.9 309.1,508.0 309.6,509.1 310.1,510.1 310.6,511.1 311.2,512.0 311.7,512.8 312.2,513.6 312.7,514.4 313.2,515.1 313.8,515.7 314.3,516.3 314.8,516.9 317.2,519.1 319.6,520.9 321.9,522.6 324.3,524.2 326.7,525.8 329.0,527.4 331.4,529.0 333.8,530.3 336.1,531.4 338.5,532.0 340.9,532.1 343.3,531.4 345.6,529.8 348.0,527.2 350.4,523.4 352.7,518.7 355.1,513.3 357.5,507.6 359.8,502.2 362.2,497.8 364.6,494.8 367.0,493.8 369.3,494.1 371.7,495.0 374.1,496.6 376.4,498.6 378.8,501.1 381.2,504.0 383.6,507.2 385.9,510.5 388.3,513.9 390.7,517.3 393.0,520.6 395.4,523.8 397.8,526.7 400.1,529.5 402.5,532.0 404.9,534.3 407.3,536.3 409.6,538.0 412.0,539.5 414.4,540.8 416.7,541.9 419.1,542.9 421.5,543.7 423.8,544.4 426.2,545.0 428.6,545.5 431.0,545.9 433.3,546.3 435.7,546.6 438.1,546.9 440.4,547.1 442.8,547.3 445.2,547.5 447.5,547.7 449.9,547.8 452.3,548.0 454.7,548.1" stroke="#006400" stroke-width="1.3" stroke-opacity="0.5"/>
<path d="M283.5,548.8L284.0,548.8 284.5,548.8 285.1,548.8 285.6,548.8 286.1,548.8 286.6,548.8 287.1,548.8 287.7,548.8 288.2,548.7 288.7,548.5 289.2,548.3 289.8,547.7 290.3,546.5 290.8,544.4 291.3,541.1 291.8,537.3 292.4,533.1 292.9,528.4 293.4,523.0 293.9,516.8 294.5,510.1 295.0,503.1 295.5,496.3 296.0,490.2 296.5,485.4 297.1,482.2 297.6,480.9 298.1,480.8 298.6,481.7 299.2,483.4 299.7,485.7 300.2,488.3 300.7,491.0 301.2,493.5 301.8,495.9 302.3,497.9 302.8,499.5 303.3,500.9 303.8,502.0 304.4,503.0 304.9,503.8 305.4,504.5 305.9,505.3 306.5,506.0 307.0,506.8 307.5,507.6 308.0,508.4 308.5,509.3 309.1,510.1 309.6,510.9 310.1,511.7 310.6,512.5 311.2,513.2 311.7,513.9 312.2,514.5 312.7,515.1 313.2,515.6 313.8,516.1 314.3,516.6 314.8,517.1 317.2,518.9 319.6,520.4 321.9,521.9 324.3,523.2 326.7,524.6 329.0,525.9 331.4,527.2 333.8,528.3 336.1,529.3 338.5,530.0 340.9,530.5 343.3,530.7 345.6,530.6 348.0,530.3 350.4,529.7 352.7,528.8 355.1,527.8 357.5,526.5 359.8,525.1 362.2,523.7 364.6,522.1 367.0,520.6 369.3,519.2 371.7,517.8 374.1,516.6 376.4,515.5 378.8,514.6 381.2,513.9 383.6,513.4 385.9,513.2 388.3,513.2 390.7,513.5 393.0,514.1 395.4,515.1 397.8,516.3 400.1,517.8 402.5,519.5 404.9,521.4 407.3,523.4 409.6,525.5 412.0,527.7 414.4,529.8 416.7,531.8 419.1,533.8 421.5,535.7 423.8,537.4 426.2,539.0 428.6,540.4 431.0,541.7 433.3,542.8 435.7,543.8 438.1,544.6 440.4,545.3 442.8,545.9 445.2,546.4 447.5,546.9 449.9,547.2 452.3,547.5 454.7,547.8" stroke="#006400" stroke-width="1.3" stroke-opacity="0.5"/>
</g>
<line x1="308.96" y1="406.74" x2="308.96" y2="553.84" stroke="#2a2a2a" stroke-width="1.4" stroke-dasharray="3.4 3.3" stroke-dashoffset="2.0"/>
<line x1="321.14" y1="406.74" x2="321.14" y2="553.84" stroke="#777" stroke-width="1.4" stroke-dasharray="3.4 3.3" stroke-dashoffset="2.0"/>
<path d="M283.00,406.74 L283.00,553.84 L454.30,553.84" fill="none" stroke="#000" stroke-width="1.9"/>
<line x1="273.80" y1="548.84" x2="283.00" y2="548.84" stroke="#000" stroke-width="1.3"/>
<line x1="273.80" y1="518.57" x2="283.00" y2="518.57" stroke="#000" stroke-width="1.3"/>
<line x1="273.80" y1="488.31" x2="283.00" y2="488.31" stroke="#000" stroke-width="1.3"/>
<line x1="273.80" y1="458.04" x2="283.00" y2="458.04" stroke="#000" stroke-width="1.3"/>
<line x1="273.80" y1="427.77" x2="283.00" y2="427.77" stroke="#000" stroke-width="1.3"/>
<text transform="translate(270.60,548.84) rotate(-90)" text-anchor="middle">0.0</text>
<text transform="translate(270.60,518.57) rotate(-90)" text-anchor="middle">0.1</text>
<text transform="translate(270.60,488.31) rotate(-90)" text-anchor="middle">0.2</text>
<text transform="translate(270.60,458.04) rotate(-90)" text-anchor="middle">0.3</text>
<text transform="translate(270.60,427.77) rotate(-90)" text-anchor="middle">0.4</text>
<line x1="289.50" y1="553.84" x2="289.50" y2="562.84" stroke="#000" stroke-width="1.3"/>
<text x="289.50" y="577.04" text-anchor="middle">6</text>
<line x1="321.14" y1="553.84" x2="321.14" y2="562.84" stroke="#000" stroke-width="1.3"/>
<text x="321.14" y="577.04" text-anchor="middle">8</text>
<line x1="352.78" y1="553.84" x2="352.78" y2="562.84" stroke="#000" stroke-width="1.3"/>
<text x="352.78" y="577.04" text-anchor="middle">10</text>
<line x1="384.42" y1="553.84" x2="384.42" y2="562.84" stroke="#000" stroke-width="1.3"/>
<text x="384.42" y="577.04" text-anchor="middle">12</text>
<line x1="416.06" y1="553.84" x2="416.06" y2="562.84" stroke="#000" stroke-width="1.3"/>
<text x="416.06" y="577.04" text-anchor="middle">14</text>
<line x1="447.70" y1="553.84" x2="447.70" y2="562.84" stroke="#000" stroke-width="1.3"/>
<text x="447.70" y="577.04" text-anchor="middle">16</text>
<text x="368.65" y="589.44" text-anchor="middle">log2(Intron length)</text>
<text transform="translate(258.80,480.29) rotate(-90)" text-anchor="middle">Density</text>
<text x="389.83" y="421.84" font-size="9.15">Characiformes</text>
<text x="389.83" y="433.09" font-size="9.15">Siluriformes</text>
<text x="389.83" y="444.34" font-size="9.15">Cypriniformes</text>
<text x="234.20" y="415.54" font-size="23.2" stroke="none" stroke-width="0.5">F</text></g>
<g font-family="&quot;Liberation Sans&quot;, sans-serif" font-size="11" fill="#000" stroke="#000" stroke-width="0.22"><clipPath id="clipG"><rect x="513.50" y="406.74" width="171.30" height="147.10"/></clipPath>
<g fill="none" stroke-linejoin="round" stroke-linecap="round" clip-path="url(#clipG)">
<path d="M514.0,548.8L514.5,548.8 515.0,548.8 515.6,548.8 516.1,548.7 516.6,548.7 517.1,548.6 517.6,548.4 518.2,548.3 518.7,548.0 519.2,547.7 519.7,547.2 520.3,546.5 520.8,545.6 521.3,544.4 521.8,542.9 522.3,540.9 522.9,538.4 523.4,535.4 523.9,531.9 524.4,528.2 525.0,524.2 525.5,520.2 526.0,516.3 526.5,512.6 527.0,509.3 527.6,506.2 528.1,503.3 528.6,500.7 529.1,498.2 529.7,496.1 530.2,494.3 530.7,493.0 531.2,492.3 531.7,492.2 532.3,492.5 532.8,493.2 533.3,494.2 533.8,495.3 534.3,496.5 534.9,497.6 535.4,498.6 535.9,499.5 536.4,500.2 537.0,500.6 537.5,500.9 538.0,501.0 538.5,500.9 539.0,500.7 539.6,500.3 540.1,499.8 540.6,499.2 541.1,498.4 541.7,497.5 542.2,496.6 542.7,495.5 543.2,494.3 543.7,493.0 544.3,491.6 544.8,490.1 545.3,488.4 547.7,479.9 550.1,469.6 552.4,458.3 554.8,446.9 557.2,436.6 559.5,428.5 561.9,423.7 564.3,422.8 566.6,424.3 569.0,427.6 571.4,432.4 573.8,438.5 576.1,445.4 578.5,452.7 580.9,459.9 583.2,466.8 585.6,473.0 588.0,478.4 590.3,483.2 592.7,487.8 595.1,492.3 597.5,497.2 599.8,502.4 602.2,507.1 604.6,511.1 606.9,514.5 609.3,517.6 611.7,520.2 614.1,522.5 616.4,524.6 618.8,526.5 621.2,528.3 623.5,529.9 625.9,531.5 628.3,533.0 630.6,534.4 633.0,535.8 635.4,537.0 637.8,538.3 640.1,539.4 642.5,540.5 644.9,541.5 647.2,542.4 649.6,543.3 652.0,544.0 654.3,544.7 656.7,545.3 659.1,545.9 661.5,546.3 663.8,546.8 666.2,547.1 668.6,547.4 670.9,547.7 673.3,547.9 675.7,548.1 678.0,548.2 680.4,548.3 682.8,548.5 685.2,548.5" stroke="#cd2990" stroke-width="1.5" stroke-opacity="0.85"/>
<path d="M514.0,548.8L514.5,548.8 515.0,548.8 515.6,548.8 516.1,548.7 516.6,548.7 517.1,548.6 517.6,548.5 518.2,548.3 518.7,548.0 519.2,547.7 519.7,547.2 520.3,546.6 520.8,545.7 521.3,544.5 521.8,543.0 522.3,541.0 522.9,538.6 523.4,535.7 523.9,532.3 524.4,528.6 525.0,524.7 525.5,520.8 526.0,517.0 526.5,513.4 527.0,510.1 527.6,507.1 528.1,504.3 528.6,501.7 529.1,499.3 529.7,497.2 530.2,495.5 530.7,494.3 531.2,493.6 531.7,493.5 532.3,493.8 532.8,494.5 533.3,495.4 533.8,496.5 534.3,497.7 534.9,498.8 535.4,499.9 535.9,500.7 536.4,501.4 537.0,501.9 537.5,502.1 538.0,502.3 538.5,502.2 539.0,502.0 539.6,501.6 540.1,501.1 540.6,500.5 541.1,499.8 541.7,499.0 542.2,498.1 542.7,497.0 543.2,495.8 543.7,494.6 544.3,493.2 544.8,491.8 545.3,490.2 547.7,481.8 550.1,471.8 552.4,460.6 554.8,449.3 557.2,438.9 559.5,430.8 561.9,425.8 564.3,424.6 566.6,426.0 569.0,429.0 571.4,433.6 573.8,439.3 576.1,445.9 578.5,452.8 580.9,459.8 583.2,466.3 585.6,472.2 588.0,477.4 590.3,482.0 592.7,486.3 595.1,490.7 597.5,495.6 599.8,500.9 602.2,505.6 604.6,509.7 606.9,513.2 609.3,516.3 611.7,519.1 614.1,521.5 616.4,523.7 618.8,525.7 621.2,527.5 623.5,529.2 625.9,530.9 628.3,532.4 630.6,533.9 633.0,535.3 635.4,536.6 637.8,537.9 640.1,539.1 642.5,540.2 644.9,541.2 647.2,542.2 649.6,543.1 652.0,543.9 654.3,544.6 656.7,545.2 659.1,545.8 661.5,546.3 663.8,546.7 666.2,547.0 668.6,547.4 670.9,547.6 673.3,547.9 675.7,548.0 678.0,548.2 680.4,548.3 682.8,548.4 685.2,548.5" stroke="#cd2990" stroke-width="1.5" stroke-opacity="0.85"/>
<path d="M514.0,548.8L514.5,548.8 515.0,548.8 515.6,548.8 516.1,548.7 516.6,548.7 517.1,548.6 517.6,548.5 518.2,548.3 518.7,548.1 519.2,547.7 519.7,547.3 520.3,546.6 520.8,545.7 521.3,544.6 521.8,543.0 522.3,541.1 522.9,538.7 523.4,535.8 523.9,532.4 524.4,528.8 525.0,524.9 525.5,521.0 526.0,517.3 526.5,513.7 527.0,510.5 527.6,507.5 528.1,504.7 528.6,502.1 529.1,499.8 529.7,497.7 530.2,496.0 530.7,494.8 531.2,494.1 531.7,494.0 532.3,494.3 532.8,495.0 533.3,496.0 533.8,497.1 534.3,498.2 534.9,499.4 535.4,500.4 535.9,501.3 536.4,502.0 537.0,502.4 537.5,502.8 538.0,502.9 538.5,502.8 539.0,502.7 539.6,502.4 540.1,501.9 540.6,501.4 541.1,500.7 541.7,499.9 542.2,499.1 542.7,498.1 543.2,497.0 543.7,495.8 544.3,494.5 544.8,493.1 545.3,491.7 547.7,483.8 550.1,474.2 552.4,463.4 554.8,452.5 557.2,442.3 559.5,434.2 561.9,428.9 564.3,427.3 566.6,428.4 569.0,431.1 571.4,435.3 573.8,440.6 576.1,446.8 578.5,453.5 580.9,460.2 583.2,466.5 585.6,472.3 588.0,477.3 590.3,481.7 592.7,485.8 595.1,489.9 597.5,494.4 599.8,499.4 602.2,504.2 604.6,508.4 606.9,512.0 609.3,515.3 611.7,518.1 614.1,520.6 616.4,522.8 618.8,524.9 621.2,526.8 623.5,528.5 625.9,530.2 628.3,531.8 630.6,533.3 633.0,534.7 635.4,536.1 637.8,537.4 640.1,538.6 642.5,539.7 644.9,540.8 647.2,541.8 649.6,542.7 652.0,543.5 654.3,544.3 656.7,544.9 659.1,545.5 661.5,546.0 663.8,546.5 666.2,546.9 668.6,547.2 670.9,547.5 673.3,547.7 675.7,548.0 678.0,548.1 680.4,548.3 682.8,548.4 685.2,548.5" stroke="#cd2990" stroke-width="1.5" stroke-opacity="0.85"/>
<path d="M514.0,548.8L514.5,548.8 515.0,548.8 515.6,548.8 516.1,548.7 516.6,548.7 517.1,548.6 517.6,548.5 518.2,548.3 518.7,548.1 519.2,547.7 519.7,547.3 520.3,546.7 520.8,545.8 521.3,544.7 521.8,543.2 522.3,541.2 522.9,538.9 523.4,536.0 523.9,532.8 524.4,529.2 525.0,525.4 525.5,521.6 526.0,517.9 526.5,514.4 527.0,511.2 527.6,508.3 528.1,505.5 528.6,503.0 529.1,500.7 529.7,498.7 530.2,497.0 530.7,495.8 531.2,495.2 531.7,495.1 532.3,495.4 532.8,496.1 533.3,497.0 533.8,498.1 534.3,499.2 534.9,500.3 535.4,501.3 535.9,502.2 536.4,502.9 537.0,503.3 537.5,503.6 538.0,503.8 538.5,503.8 539.0,503.6 539.6,503.3 540.1,502.9 540.6,502.4 541.1,501.7 541.7,501.0 542.2,500.2 542.7,499.3 543.2,498.2 543.7,497.1 544.3,495.9 544.8,494.5 545.3,493.1 547.7,485.6 550.1,476.4 552.4,466.0 554.8,455.3 557.2,445.3 559.5,437.2 561.9,431.7 564.3,429.6 566.6,430.4 569.0,432.7 571.4,436.4 573.8,441.2 576.1,446.8 578.5,452.9 580.9,459.0 583.2,464.8 585.6,470.1 588.0,474.8 590.3,478.9 592.7,482.7 595.1,486.7 597.5,491.2 599.8,496.4 602.2,501.4 604.6,505.8 606.9,509.6 609.3,513.1 611.7,516.1 614.1,518.8 616.4,521.2 618.8,523.4 621.2,525.4 623.5,527.2 625.9,529.0 628.3,530.6 630.6,532.2 633.0,533.8 635.4,536.1 637.8,540.8 640.1,545.1 642.5,546.2 644.9,546.6 647.2,546.9 649.6,547.1 652.0,547.3 654.3,547.5 656.7,547.7 659.1,547.9 661.5,548.0 663.8,548.1 666.2,548.3 668.6,548.4 670.9,548.4 673.3,548.5 675.7,548.6 678.0,548.6 680.4,548.7 682.8,548.7 685.2,548.7" stroke="#cd2990" stroke-width="1.5" stroke-opacity="0.85"/>
<path d="M514.0,548.8L514.5,548.8 515.0,548.8 515.6,548.8 516.1,548.7 516.6,548.7 517.1,548.6 517.6,548.5 518.2,548.3 518.7,548.1 519.2,547.8 519.7,547.3 520.3,546.7 520.8,545.8 521.3,544.7 521.8,543.2 522.3,541.3 522.9,539.0 523.4,536.2 523.9,532.9 524.4,529.4 525.0,525.7 525.5,521.9 526.0,518.2 526.5,514.8 527.0,511.6 527.6,508.7 528.1,506.0 528.6,503.6 529.1,501.3 529.7,499.3 530.2,497.6 530.7,496.5 531.2,495.8 531.7,495.8 532.3,496.1 532.8,496.8 533.3,497.7 533.8,498.8 534.3,500.0 534.9,501.1 535.4,502.1 535.9,503.0 536.4,503.7 537.0,504.2 537.5,504.6 538.0,504.8 538.5,504.8 539.0,504.7 539.6,504.4 540.1,504.1 540.6,503.6 541.1,503.1 541.7,502.4 542.2,501.7 542.7,500.8 543.2,499.9 543.7,498.9 544.3,497.8 544.8,496.5 545.3,495.2 547.7,488.2 550.1,479.5 552.4,469.6 554.8,459.2 557.2,449.4 559.5,441.1 561.9,435.2 564.3,432.6 566.6,432.9 569.0,434.9 571.4,438.1 573.8,442.6 576.1,447.9 578.5,453.9 580.9,460.0 583.2,465.9 585.6,471.4 588.0,476.2 590.3,480.4 592.7,484.1 595.1,487.6 597.5,491.4 599.8,495.7 602.2,500.6 604.6,505.0 606.9,509.0 609.3,512.4 611.7,515.5 614.1,518.2 616.4,520.7 618.8,522.9 621.2,524.9 623.5,526.8 625.9,528.5 628.3,530.1 630.6,531.7 633.0,533.2 635.4,534.6 637.8,535.9 640.1,537.2 642.5,538.4 644.9,539.6 647.2,540.6 649.6,541.6 652.0,542.5 654.3,543.3 656.7,544.0 659.1,544.7 661.5,545.3 663.8,545.8 666.2,546.3 668.6,546.7 670.9,547.1 673.3,547.4 675.7,547.6 678.0,547.8 680.4,548.0 682.8,548.2 685.2,548.3" stroke="#cd2990" stroke-width="1.5" stroke-opacity="0.85"/>
<path d="M514.0,548.8L514.5,548.8 515.0,548.8 515.6,548.8 516.1,548.7 516.6,548.7 517.1,548.6 517.6,548.5 518.2,548.3 518.7,548.1 519.2,547.8 519.7,547.3 520.3,546.7 520.8,545.9 521.3,544.7 521.8,543.3 522.3,541.4 522.9,539.1 523.4,536.3 523.9,533.1 524.4,529.6 525.0,525.9 525.5,522.2 526.0,518.5 526.5,515.1 527.0,512.0 527.6,509.1 528.1,506.5 528.6,504.0 529.1,501.8 529.7,499.8 530.2,498.2 530.7,497.1 531.2,496.4 531.7,496.4 532.3,496.7 532.8,497.4 533.3,498.4 533.8,499.5 534.3,500.7 534.9,501.8 535.4,502.9 535.9,503.8 536.4,504.5 537.0,505.1 537.5,505.5 538.0,505.7 538.5,505.8 539.0,505.8 539.6,505.6 540.1,505.4 540.6,505.0 541.1,504.5 541.7,504.0 542.2,503.3 542.7,502.6 543.2,501.8 543.7,500.9 544.3,499.9 544.8,498.8 545.3,497.7 547.7,491.3 550.1,483.3 552.4,474.1 554.8,464.2 557.2,454.6 559.5,446.2 561.9,439.9 564.3,436.3 566.6,435.9 569.0,437.2 571.4,439.9 573.8,443.7 576.1,448.5 578.5,454.0 580.9,459.8 583.2,465.6 585.6,471.0 588.0,475.8 590.3,480.0 592.7,483.6 595.1,486.7 597.5,489.9 599.8,493.6 602.2,497.9 604.6,502.5 606.9,506.6 609.3,510.2 611.7,513.5 614.1,516.4 616.4,519.0 618.8,521.3 621.2,523.4 623.5,525.4 625.9,527.3 628.3,529.0 630.6,530.6 633.0,532.2 635.4,533.6 637.8,535.0 640.1,536.4 642.5,537.6 644.9,538.8 647.2,539.9 649.6,540.9 652.0,541.9 654.3,542.8 656.7,543.6 659.1,544.3 661.5,544.9 663.8,545.5 666.2,546.0 668.6,546.5 670.9,546.8 673.3,547.2 675.7,547.5 678.0,547.7 680.4,547.9 682.8,548.1 685.2,548.2" stroke="#cd2990" stroke-width="1.5" stroke-opacity="0.85"/>
<path d="M514.0,548.8L514.5,548.8 515.0,548.8 515.6,548.8 516.1,548.7 516.6,548.7 517.1,548.6 517.6,548.5 518.2,548.3 518.7,548.1 519.2,547.8 519.7,547.3 520.3,546.7 520.8,545.9 521.3,544.8 521.8,543.3 522.3,541.5 522.9,539.2 523.4,536.5 523.9,533.3 524.4,529.8 525.0,526.2 525.5,522.5 526.0,519.0 526.5,515.6 527.0,512.5 527.6,509.7 528.1,507.1 528.6,504.8 529.1,502.6 529.7,500.7 530.2,499.1 530.7,498.0 531.2,497.4 531.7,497.4 532.3,497.8 532.8,498.5 533.3,499.5 533.8,500.7 534.3,501.9 534.9,503.1 535.4,504.2 535.9,505.2 536.4,506.0 537.0,506.7 537.5,507.2 538.0,507.5 538.5,507.7 539.0,507.8 539.6,507.7 540.1,507.6 540.6,507.4 541.1,507.0 541.7,506.6 542.2,506.2 542.7,505.6 543.2,505.0 543.7,504.2 544.3,503.4 544.8,502.5 545.3,501.5 547.7,496.1 550.1,488.9 552.4,480.5 554.8,471.2 557.2,462.0 559.5,453.6 561.9,446.9 564.3,442.6 566.6,441.3 569.0,442.1 571.4,444.1 573.8,447.4 576.1,451.5 578.5,456.4 580.9,461.7 583.2,467.0 585.6,471.9 588.0,476.4 590.3,480.3 592.7,483.6 595.1,486.6 597.5,489.6 599.8,493.2 602.2,497.5 604.6,502.1 606.9,506.2 609.3,509.9 611.7,513.1 614.1,516.1 616.4,518.7 618.8,521.1 621.2,523.3 623.5,525.3 625.9,527.2 628.3,528.9 630.6,530.5 633.0,532.1 635.4,533.6 637.8,535.0 640.1,536.3 642.5,537.6 644.9,538.8 647.2,539.9 649.6,540.9 652.0,541.9 654.3,542.8 656.7,543.6 659.1,544.3 661.5,544.9 663.8,545.5 666.2,546.0 668.6,546.5 670.9,546.8 673.3,547.2 675.7,547.5 678.0,547.7 680.4,547.9 682.8,548.1 685.2,548.2" stroke="#cd2990" stroke-width="1.5" stroke-opacity="0.85"/>
<path d="M514.0,548.8L514.5,548.8 515.0,548.8 515.6,548.8 516.1,548.7 516.6,548.7 517.1,548.6 517.6,548.5 518.2,548.3 518.7,548.1 519.2,547.8 519.7,547.4 520.3,546.8 520.8,546.0 521.3,544.9 521.8,543.5 522.3,541.6 522.9,539.4 523.4,536.7 523.9,533.6 524.4,530.2 525.0,526.6 525.5,523.0 526.0,519.5 526.5,516.2 527.0,513.1 527.6,510.3 528.1,507.8 528.6,505.4 529.1,503.2 529.7,501.3 530.2,499.7 530.7,498.6 531.2,498.0 531.7,498.0 532.3,498.3 532.8,499.0 533.3,499.9 533.8,501.0 534.3,502.1 534.9,503.3 535.4,504.3 535.9,505.2 536.4,505.9 537.0,506.5 537.5,506.9 538.0,507.2 538.5,507.3 539.0,507.3 539.6,507.2 540.1,507.0 540.6,506.7 541.1,506.3 541.7,505.8 542.2,505.3 542.7,504.7 543.2,504.0 543.7,503.2 544.3,502.4 544.8,501.5 545.3,500.5 547.7,495.1 550.1,488.4 552.4,480.8 554.8,472.7 557.2,465.1 559.5,458.6 561.9,454.0 564.3,451.9 566.6,452.0 569.0,453.4 571.4,455.6 573.8,458.5 576.1,461.7 578.5,464.9 580.9,467.9 583.2,470.5 585.6,472.7 588.0,474.8 590.3,477.2 592.7,480.3 595.1,484.5 597.5,489.6 599.8,494.5 602.2,499.0 604.6,503.1 606.9,506.7 609.3,510.1 611.7,513.2 614.1,516.0 616.4,518.5 618.8,520.9 621.2,523.2 623.5,525.3 625.9,527.3 628.3,529.2 630.6,531.0 633.0,532.7 635.4,534.3 637.8,535.8 640.1,537.2 642.5,538.5 644.9,539.8 647.2,540.9 649.6,541.9 652.0,542.8 654.3,543.7 656.7,544.4 659.1,545.1 661.5,545.7 663.8,546.2 666.2,546.6 668.6,547.0 670.9,547.3 673.3,547.6 675.7,547.8 678.0,548.0 680.4,548.2 682.8,548.3 685.2,548.4" stroke="#cd2990" stroke-width="1.5" stroke-opacity="0.85"/>
<path d="M514.0,548.8L514.5,548.8 515.0,548.8 515.6,548.8 516.1,548.7 516.6,548.7 517.1,548.6 517.6,548.5 518.2,548.4 518.7,548.1 519.2,547.9 519.7,547.4 520.3,546.9 520.8,546.1 521.3,545.1 521.8,543.7 522.3,542.0 522.9,539.9 523.4,537.3 523.9,534.4 524.4,531.2 525.0,527.8 525.5,524.4 526.0,521.1 526.5,518.1 527.0,515.2 527.6,512.6 528.1,510.3 528.6,508.1 529.1,506.1 529.7,504.4 530.2,503.0 530.7,502.1 531.2,501.6 531.7,501.7 532.3,502.2 532.8,503.0 533.3,504.0 533.8,505.2 534.3,506.5 534.9,507.8 535.4,509.1 535.9,510.2 536.4,511.2 537.0,512.0 537.5,512.8 538.0,513.4 538.5,513.9 539.0,514.3 539.6,514.7 540.1,515.0 540.6,515.2 541.1,515.4 541.7,515.6 542.2,515.7 542.7,515.7 543.2,515.7 543.7,515.7 544.3,515.6 544.8,515.5 545.3,515.4 547.7,513.9 550.1,511.3 552.4,507.6 554.8,502.7 557.2,497.2 559.5,491.2 561.9,485.2 564.3,479.6 566.6,474.8 569.0,471.1 571.4,468.7 573.8,467.9 576.1,468.3 578.5,469.5 580.9,471.5 583.2,474.0 585.6,476.8 588.0,479.6 590.3,482.2 592.7,484.5 595.1,486.3 597.5,487.9 599.8,489.4 602.2,491.2 604.6,493.8 606.9,497.4 609.3,501.4 611.7,505.2 614.1,508.7 616.4,511.9 618.8,514.8 621.2,517.6 623.5,520.1 625.9,522.4 628.3,524.5 630.6,526.5 633.0,528.4 635.4,530.1 637.8,531.8 640.1,533.3 642.5,534.8 644.9,536.2 647.2,537.5 649.6,538.7 652.0,539.8 654.3,540.9 656.7,541.9 659.1,542.7 661.5,543.5 663.8,544.3 666.2,544.9 668.6,545.5 670.9,546.0 673.3,546.4 675.7,546.8 678.0,547.2 680.4,547.5 682.8,547.7 685.2,547.9" stroke="#cd2990" stroke-width="1.5" stroke-opacity="0.85"/>
<path d="M514.0,548.8L514.5,548.8 515.0,548.8 515.6,548.8 516.1,548.7 516.6,548.7 517.1,548.6 517.6,548.5 518.2,548.3 518.7,548.1 519.2,547.8 519.7,547.4 520.3,546.8 520.8,546.0 521.3,544.9 521.8,543.5 522.3,541.7 522.9,539.4 523.4,536.7 523.9,533.7 524.4,530.3 525.0,526.7 525.5,523.1 526.0,519.7 526.5,516.4 527.0,513.4 527.6,510.7 528.1,508.2 528.6,505.8 529.1,503.7 529.7,501.9 530.2,500.4 530.7,499.3 531.2,498.8 531.7,498.8 532.3,499.2 532.8,499.9 533.3,501.0 533.8,502.1 534.3,503.4 534.9,504.6 535.4,505.7 535.9,506.7 536.4,507.6 537.0,508.2 537.5,508.8 538.0,509.2 538.5,509.4 539.0,509.6 539.6,509.6 540.1,509.6 540.6,509.4 541.1,509.2 541.7,508.9 542.2,508.6 542.7,508.2 543.2,507.7 543.7,507.1 544.3,506.4 544.8,505.7 545.3,504.9 547.7,500.4 550.1,494.5 552.4,487.5 554.8,479.9 557.2,472.4 559.5,465.8 561.9,460.7 564.3,457.8 566.6,457.4 569.0,458.5 571.4,460.9 573.8,464.2 576.1,467.9 578.5,471.6 580.9,474.9 583.2,477.3 585.6,478.8 588.0,479.5 590.3,480.0 592.7,480.8 595.1,482.6 597.5,485.9 599.8,490.1 602.2,494.1 604.6,497.9 606.9,501.5 609.3,505.0 611.7,508.5 614.1,511.9 616.4,515.2 618.8,518.4 621.2,521.6 623.5,524.6 625.9,527.5 628.3,530.2 630.6,532.7 633.0,535.1 635.4,537.2 637.8,539.1 640.1,540.7 642.5,542.2 644.9,543.4 647.2,544.5 649.6,545.4 652.0,546.1 654.3,546.7 656.7,547.2 659.1,547.6 661.5,547.9 663.8,548.1 666.2,548.3 668.6,548.5 670.9,548.6 673.3,548.6 675.7,548.7 678.0,548.7 680.4,548.8 682.8,548.8 685.2,548.8" stroke="#cd2990" stroke-width="1.5" stroke-opacity="0.85"/>
</g>
<line x1="539.46" y1="406.74" x2="539.46" y2="553.84" stroke="#222" stroke-width="1.4" stroke-dasharray="3.4 3.3" stroke-dashoffset="2.0"/>
<line x1="551.64" y1="406.74" x2="551.64" y2="553.84" stroke="#222" stroke-width="1.4" stroke-dasharray="3.4 3.3" stroke-dashoffset="2.0"/>
<path d="M513.50,406.74 L513.50,553.84 L684.80,553.84" fill="none" stroke="#000" stroke-width="1.9"/>
<line x1="504.30" y1="548.84" x2="513.50" y2="548.84" stroke="#000" stroke-width="1.3"/>
<line x1="504.30" y1="526.14" x2="513.50" y2="526.14" stroke="#000" stroke-width="1.3"/>
<line x1="504.30" y1="503.44" x2="513.50" y2="503.44" stroke="#000" stroke-width="1.3"/>
<line x1="504.30" y1="480.74" x2="513.50" y2="480.74" stroke="#000" stroke-width="1.3"/>
<line x1="504.30" y1="458.04" x2="513.50" y2="458.04" stroke="#000" stroke-width="1.3"/>
<line x1="504.30" y1="435.34" x2="513.50" y2="435.34" stroke="#000" stroke-width="1.3"/>
<line x1="504.30" y1="412.64" x2="513.50" y2="412.64" stroke="#000" stroke-width="1.3"/>
<text transform="translate(501.10,548.84) rotate(-90)" text-anchor="middle">0.00</text>
<text transform="translate(501.10,503.44) rotate(-90)" text-anchor="middle">0.10</text>
<text transform="translate(501.10,458.04) rotate(-90)" text-anchor="middle">0.20</text>
<text transform="translate(501.10,412.64) rotate(-90)" text-anchor="middle">0.30</text>
<line x1="520.00" y1="553.84" x2="520.00" y2="562.84" stroke="#000" stroke-width="1.3"/>
<text x="520.00" y="577.04" text-anchor="middle">6</text>
<line x1="551.64" y1="553.84" x2="551.64" y2="562.84" stroke="#000" stroke-width="1.3"/>
<text x="551.64" y="577.04" text-anchor="middle">8</text>
<line x1="583.28" y1="553.84" x2="583.28" y2="562.84" stroke="#000" stroke-width="1.3"/>
<text x="583.28" y="577.04" text-anchor="middle">10</text>
<line x1="614.92" y1="553.84" x2="614.92" y2="562.84" stroke="#000" stroke-width="1.3"/>
<text x="614.92" y="577.04" text-anchor="middle">12</text>
<line x1="646.56" y1="553.84" x2="646.56" y2="562.84" stroke="#000" stroke-width="1.3"/>
<text x="646.56" y="577.04" text-anchor="middle">14</text>
<line x1="678.20" y1="553.84" x2="678.20" y2="562.84" stroke="#000" stroke-width="1.3"/>
<text x="678.20" y="577.04" text-anchor="middle">16</text>
<text x="599.15" y="589.44" text-anchor="middle">log2(Intron length)</text>
<text transform="translate(489.30,480.29) rotate(-90)" text-anchor="middle">Density</text>
<text x="608.19" y="421.84" font-size="9.15">Anguilliformes</text>
<text x="608.19" y="433.09" font-size="9.15">Albuliformes</text>
<text x="608.19" y="444.34" font-size="9.15">Elopiformes</text>
<text x="608.19" y="455.59" font-size="9.15">Notacanthiformes</text>
<text x="461.70" y="415.54" font-size="23.2" stroke="none" stroke-width="0.5">G</text></g>
<g font-family="&quot;Liberation Sans&quot;, sans-serif" font-size="11" fill="#000" stroke="#000" stroke-width="0.22"><clipPath id="clipH"><rect x="283.00" y="606.31" width="171.30" height="147.10"/></clipPath>
<g fill="none" stroke-linejoin="round" stroke-linecap="round" clip-path="url(#clipH)">
<path d="M285.7,748.4L286.2,748.4 286.7,748.2 287.2,748.0 287.6,747.8 288.1,747.4 288.6,747.0 289.1,746.5 289.6,746.0 290.1,745.4 290.6,744.5 291.0,742.7 291.5,740.1 292.0,736.9 292.5,733.6 293.0,730.3 293.5,727.3 294.0,723.9 294.4,720.4 294.9,716.9 295.4,713.7 295.9,710.8 296.4,708.2 296.9,705.5 297.3,703.1 297.8,700.9 298.3,699.3 298.8,698.3 299.3,697.5 299.8,696.7 300.3,696.1 300.7,695.6 301.2,695.3 301.7,695.1 302.2,695.2 302.7,695.3 303.2,695.5 303.7,695.8 304.1,696.1 304.6,696.4 305.1,696.7 305.6,697.1 306.1,697.5 306.6,698.0 307.0,698.5 307.5,698.9 308.0,699.2 308.5,699.4 309.0,699.3 309.5,699.0 310.0,698.4 310.4,697.7 310.9,696.9 311.4,695.9 311.9,695.0 312.4,694.0 312.9,693.1 313.4,692.2 313.8,691.3 314.3,690.4 314.8,689.5 317.2,684.8 319.6,680.5 321.9,676.7 324.3,674.1 326.7,672.5 329.0,673.8 331.4,676.8 333.8,681.0 336.1,684.6 338.5,687.8 340.9,690.8 343.3,693.4 345.6,695.6 348.0,697.5 350.4,699.3 352.7,701.2 355.1,703.1 357.5,704.9 359.8,706.8 362.2,708.9 364.6,711.0 367.0,713.2 369.3,715.4 371.7,717.6 374.1,719.8 376.4,721.9 378.8,724.1 381.2,726.2 383.6,727.9 385.9,729.3 388.3,730.6 390.7,731.9 393.0,733.1 395.4,734.4 397.8,735.6 400.1,736.7 402.5,737.8 404.9,738.7 407.3,739.5 409.6,740.3 412.0,741.1 414.4,741.8 416.7,742.4 419.1,743.0 421.5,743.6 423.8,744.2 426.2,744.7 428.6,745.2 431.0,745.6 433.3,745.9 435.7,746.1 438.1,746.4 440.4,746.7 442.8,746.9 445.2,747.1 447.5,747.3 449.9,747.4 452.3,747.5 454.7,747.5" stroke="#00cdcd" stroke-width="2.0" stroke-opacity="1"/>
<path d="M285.7,748.4L286.2,748.4 286.7,748.2 287.2,748.0 287.6,747.8 288.1,747.4 288.6,747.0 289.1,746.5 289.6,746.0 290.1,745.4 290.6,744.5 291.0,742.7 291.5,740.1 292.0,736.9 292.5,733.6 293.0,730.3 293.5,727.3 294.0,723.9 294.4,720.4 294.9,716.9 295.4,713.7 295.9,710.8 296.4,708.2 296.9,705.5 297.3,703.1 297.8,700.9 298.3,699.3 298.8,698.3 299.3,697.5 299.8,696.7 300.3,696.1 300.7,695.6 301.2,695.3 301.7,695.1 302.2,695.2 302.7,695.3 303.2,695.5 303.7,695.8 304.1,696.1 304.6,696.4 305.1,696.7 305.6,697.1 306.1,697.5 306.6,698.0 307.0,698.5 307.5,698.9 308.0,699.2 308.5,699.4 309.0,699.3 309.5,699.0 310.0,698.6 310.4,698.0 310.9,697.3 311.4,696.6 311.9,695.8 312.4,695.0 312.9,694.4 313.4,693.8 313.8,693.2 314.3,692.7 314.8,692.1 317.2,689.4 319.6,687.3 321.9,685.7 324.3,684.3 326.7,683.7 329.0,684.1 331.4,685.6 333.8,687.6 336.1,689.4 338.5,691.0 340.9,692.6 343.3,694.3 345.6,695.9 348.0,697.7 350.4,699.4 352.7,701.2 355.1,703.0 357.5,704.9 359.8,707.0 362.2,709.1 364.6,711.2 367.0,713.3 369.3,715.5 371.7,717.7 374.1,719.8 376.4,721.9 378.8,724.1 381.2,726.2 383.6,727.9 385.9,729.3 388.3,730.6 390.7,731.9 393.0,733.1 395.4,734.4 397.8,735.6 400.1,736.7 402.5,737.8 404.9,738.7 407.3,739.5 409.6,740.3 412.0,741.1 414.4,741.8 416.7,742.4 419.1,743.0 421.5,743.6 423.8,744.2 426.2,744.7 428.6,745.2 431.0,745.6 433.3,745.9 435.7,746.1 438.1,746.4 440.4,746.7 442.8,746.9 445.2,747.1 447.5,747.3 449.9,747.4 452.3,747.5 454.7,747.5" stroke="#00cdcd" stroke-width="2.0" stroke-opacity="1"/>
<path d="M285.7,748.4L286.2,748.4 286.7,748.2 287.2,748.0 287.6,747.8 288.1,747.4 288.6,747.0 289.1,746.5 289.6,746.0 290.1,745.4 290.6,744.5 291.0,742.7 291.5,740.1 292.0,736.9 292.5,733.6 293.0,730.3 293.5,727.3 294.0,723.9 294.4,720.4 294.9,716.9 295.4,713.7 295.9,710.9 296.4,708.2 296.9,705.6 297.3,703.2 297.8,701.0 298.3,699.4 298.8,698.4 299.3,697.6 299.8,697.0 300.3,696.4 300.7,695.9 301.2,695.6 301.7,695.4 302.2,695.5 302.7,695.6 303.2,695.8 303.7,696.1 304.1,696.5 304.6,696.8 305.1,697.2 305.6,697.6 306.1,698.0 306.6,698.6 307.0,699.1 307.5,699.5 308.0,699.9 308.5,700.0 309.0,700.0 309.5,699.7 310.0,699.3 310.4,698.8 310.9,698.1 311.4,697.4 311.9,696.8 312.4,696.1 312.9,695.5 313.4,695.0 313.8,694.5 314.3,694.0 314.8,693.5 317.2,691.1 319.6,689.3 321.9,687.9 324.3,686.7 326.7,686.1 329.0,686.6 331.4,687.8 333.8,689.5 336.1,691.0 338.5,692.2 340.9,693.5 343.3,694.8 345.6,696.1 348.0,697.6 350.4,699.1 352.7,700.6 355.1,702.3 357.5,704.1 359.8,706.1 362.2,708.2 364.6,710.3 367.0,712.5 369.3,714.7 371.7,717.0 374.1,719.2 376.4,721.4 378.8,723.6 381.2,725.8 383.6,727.6 385.9,729.1 388.3,730.4 390.7,731.7 393.0,733.0 395.4,734.3 397.8,735.5 400.1,736.7 402.5,737.7 404.9,738.7 407.3,739.5 409.6,740.3 412.0,741.1 414.4,741.8 416.7,742.4 419.1,743.0 421.5,743.6 423.8,744.2 426.2,744.7 428.6,745.2 431.0,745.6 433.3,745.9 435.7,746.1 438.1,746.4 440.4,746.7 442.8,746.9 445.2,747.1 447.5,747.3 449.9,747.4 452.3,747.5 454.7,747.5" stroke="#00cdcd" stroke-width="2.0" stroke-opacity="1"/>
<path d="M286.3,748.4L286.8,748.3 287.3,747.9 287.8,747.3 288.2,746.6 288.7,745.6 289.2,743.4 289.7,739.7 290.1,734.9 290.6,729.1 291.1,722.6 291.6,714.1 292.0,700.8 292.5,685.2 293.0,670.0 293.5,656.2 293.9,641.2 294.4,628.4 294.9,621.6 295.4,619.4 295.8,618.0 296.3,617.8 296.8,620.0 297.3,623.3 297.7,626.5 298.2,630.2 298.7,634.3 299.2,639.0 299.6,644.3 300.1,650.0 300.6,655.5 301.0,660.7 301.5,665.1 302.0,669.2 302.5,673.1 302.9,676.7 303.4,680.0 303.9,682.8 304.4,685.2 304.8,687.4 305.3,689.4 305.8,691.2 306.3,692.8 306.7,694.1 307.2,695.3 307.7,696.5 308.2,697.7 308.6,698.7 309.1,699.6 309.6,700.4 310.1,700.9 310.5,701.2 311.0,701.3 311.5,701.4 312.0,701.5 312.4,701.6 312.9,701.7 313.4,701.8 313.9,701.8 314.3,701.9 314.8,702.0 317.2,702.1 319.6,702.1 321.9,701.9 324.3,701.7 326.7,701.5 329.0,701.2 331.4,700.7 333.8,700.1 336.1,699.5 338.5,699.4 340.9,699.5 343.3,699.7 345.6,700.0 348.0,700.6 350.4,702.4 352.7,705.2 355.1,708.1 357.5,710.6 359.8,713.0 362.2,715.4 364.6,717.8 367.0,720.1 369.3,722.2 371.7,724.4 374.1,726.5 376.4,728.5 378.8,730.4 381.2,732.1 383.6,733.6 385.9,734.9 388.3,736.1 390.7,737.1 393.0,738.1 395.4,739.0 397.8,739.9 400.1,740.7 402.5,741.5 404.9,742.1 407.3,742.8 409.6,743.3 412.0,743.8 414.4,744.3 416.7,744.7 419.1,745.1 421.5,745.4 423.8,745.7 426.2,745.9 428.6,746.2 431.0,746.4 433.3,746.6 435.7,746.8 438.1,747.0 440.4,747.2 442.8,747.4 445.2,747.5 447.5,747.6 449.9,747.7 452.3,747.8 454.7,747.8" stroke="#00cdcd" stroke-width="2.0" stroke-opacity="1" stroke-dasharray="1.8 5.5 7 5.7"/>
</g>
<line x1="308.96" y1="606.31" x2="308.96" y2="753.41" stroke="#2a2a2a" stroke-width="1.4" stroke-dasharray="3.4 3.3" stroke-dashoffset="2.0"/>
<line x1="321.14" y1="606.31" x2="321.14" y2="753.41" stroke="#777" stroke-width="1.4" stroke-dasharray="3.4 3.3" stroke-dashoffset="2.0"/>
<path d="M283.00,606.31 L283.00,753.41 L454.30,753.41" fill="none" stroke="#000" stroke-width="1.9"/>
<line x1="273.80" y1="748.41" x2="283.00" y2="748.41" stroke="#000" stroke-width="1.3"/>
<line x1="273.80" y1="718.14" x2="283.00" y2="718.14" stroke="#000" stroke-width="1.3"/>
<line x1="273.80" y1="687.88" x2="283.00" y2="687.88" stroke="#000" stroke-width="1.3"/>
<line x1="273.80" y1="657.61" x2="283.00" y2="657.61" stroke="#000" stroke-width="1.3"/>
<line x1="273.80" y1="627.34" x2="283.00" y2="627.34" stroke="#000" stroke-width="1.3"/>
<text transform="translate(270.60,748.41) rotate(-90)" text-anchor="middle">0.0</text>
<text transform="translate(270.60,718.14) rotate(-90)" text-anchor="middle">0.1</text>
<text transform="translate(270.60,687.88) rotate(-90)" text-anchor="middle">0.2</text>
<text transform="translate(270.60,657.61) rotate(-90)" text-anchor="middle">0.3</text>
<text transform="translate(270.60,627.34) rotate(-90)" text-anchor="middle">0.4</text>
<line x1="289.50" y1="753.41" x2="289.50" y2="762.41" stroke="#000" stroke-width="1.3"/>
<text x="289.50" y="776.61" text-anchor="middle">6</text>
<line x1="321.14" y1="753.41" x2="321.14" y2="762.41" stroke="#000" stroke-width="1.3"/>
<text x="321.14" y="776.61" text-anchor="middle">8</text>
<line x1="352.78" y1="753.41" x2="352.78" y2="762.41" stroke="#000" stroke-width="1.3"/>
<text x="352.78" y="776.61" text-anchor="middle">10</text>
<line x1="384.42" y1="753.41" x2="384.42" y2="762.41" stroke="#000" stroke-width="1.3"/>
<text x="384.42" y="776.61" text-anchor="middle">12</text>
<line x1="416.06" y1="753.41" x2="416.06" y2="762.41" stroke="#000" stroke-width="1.3"/>
<text x="416.06" y="776.61" text-anchor="middle">14</text>
<line x1="447.70" y1="753.41" x2="447.70" y2="762.41" stroke="#000" stroke-width="1.3"/>
<text x="447.70" y="776.61" text-anchor="middle">16</text>
<text x="368.65" y="789.01" text-anchor="middle">log2(Intron length)</text>
<text transform="translate(258.80,679.86) rotate(-90)" text-anchor="middle">Density</text>
<text x="362.50" y="621.41" font-size="9.15">Alosa alosa</text>
<text x="362.50" y="632.66" font-size="9.15">Alosa sapidissima</text>
<text x="362.50" y="643.91" font-size="9.15">Clupea harengus</text>
<text x="362.50" y="655.16" font-size="9.15">Denticeps clupeoides</text>
<text x="232.10" y="615.11" font-size="23.2" stroke="none" stroke-width="0.5">H</text></g>
<g font-family="&quot;Liberation Sans&quot;, sans-serif" font-size="11" fill="#000" stroke="#000" stroke-width="0.22"><clipPath id="clipI"><rect x="513.50" y="606.31" width="171.30" height="147.10"/></clipPath>
<g fill="none" stroke-linejoin="round" stroke-linecap="round" clip-path="url(#clipI)">
<path d="M516.7,747.9L517.2,747.8 517.6,747.4 518.1,746.9 518.6,746.2 519.1,745.4 519.5,744.4 520.0,743.2 520.5,741.8 521.0,738.9 521.5,734.5 521.9,728.9 522.4,722.5 522.9,715.5 523.4,708.2 523.8,698.5 524.3,687.4 524.8,676.6 525.3,666.9 525.7,657.2 526.2,648.3 526.7,640.9 527.2,634.5 527.7,629.3 528.1,626.2 528.6,623.8 529.1,622.6 529.6,623.0 530.0,624.4 530.5,626.3 531.0,629.3 531.5,632.1 531.9,634.8 532.4,637.5 532.9,640.2 533.4,642.6 533.9,644.6 534.3,646.3 534.8,648.0 535.3,649.7 535.8,651.3 536.2,652.8 536.7,654.1 537.2,655.2 537.7,656.1 538.2,656.7 538.6,656.9 539.1,656.8 539.6,656.6 540.1,656.2 540.5,655.7 541.0,655.1 541.5,654.4 542.0,653.7 542.4,653.0 542.9,652.3 543.4,651.7 543.9,651.1 544.4,650.6 544.8,650.0 545.3,649.5 547.7,646.8 550.1,644.4 552.4,642.7 554.8,641.4 557.2,640.5 559.5,639.9 561.9,639.5 564.3,639.6 566.6,641.3 569.0,644.0 571.4,646.9 573.8,649.7 576.1,653.0 578.5,656.6 580.9,660.3 583.2,664.3 585.6,668.5 588.0,672.8 590.3,677.3 592.7,682.1 595.1,687.2 597.5,692.1 599.8,696.6 602.2,700.4 604.6,703.8 606.9,706.9 609.3,709.8 611.7,712.6 614.1,715.3 616.4,717.8 618.8,720.3 621.2,722.5 623.5,724.5 625.9,726.3 628.3,728.0 630.6,729.6 633.0,731.1 635.4,732.5 637.8,733.8 640.1,735.0 642.5,736.1 644.9,737.2 647.2,738.2 649.6,739.1 652.0,740.0 654.3,740.9 656.7,741.8 659.1,742.6 661.5,743.2 663.8,743.7 666.2,744.1 668.6,744.5 670.9,744.9 673.3,745.3 675.7,745.6 678.0,745.9 680.4,746.1 682.8,746.2 685.2,746.2" stroke="#cd9b1d" stroke-width="2.2" stroke-opacity="1"/>
<path d="M516.7,747.9L517.2,747.8 517.6,747.4 518.1,746.9 518.6,746.2 519.1,745.4 519.5,744.4 520.0,743.2 520.5,741.8 521.0,739.0 521.5,734.9 521.9,729.6 522.4,723.5 522.9,717.0 523.4,710.0 523.8,700.6 524.3,690.0 524.8,679.8 525.3,670.6 525.7,661.6 526.2,653.4 526.7,647.0 527.2,641.8 527.7,637.5 528.1,634.4 528.6,632.6 529.1,631.2 529.6,630.7 530.0,631.3 530.5,632.5 531.0,633.8 531.5,635.2 531.9,636.9 532.4,638.8 532.9,640.7 533.4,642.6 533.9,644.2 534.3,645.6 534.8,647.0 535.3,648.4 535.8,649.7 536.2,651.0 536.7,652.2 537.2,653.2 537.7,654.0 538.2,654.5 538.6,654.7 539.1,654.6 539.6,654.2 540.1,653.6 540.5,652.8 541.0,651.9 541.5,651.0 542.0,650.0 542.4,649.1 542.9,648.2 543.4,647.5 543.9,646.9 544.4,646.4 544.8,645.9 545.3,645.3 547.7,643.0 550.1,641.2 552.4,640.3 554.8,639.7 557.2,639.4 559.5,639.7 561.9,640.2 564.3,640.9 566.6,642.7 569.0,645.2 571.4,647.9 573.8,651.0 576.1,654.5 578.5,658.5 580.9,662.6 583.2,666.6 585.6,670.8 588.0,675.1 590.3,679.5 592.7,684.1 595.1,688.9 597.5,693.5 599.8,697.8 602.2,701.4 604.6,704.6 606.9,707.6 609.3,710.4 611.7,713.0 614.1,715.6 616.4,718.1 618.8,720.4 621.2,722.5 623.5,724.5 625.9,726.3 628.3,728.0 630.6,729.6 633.0,731.1 635.4,732.5 637.8,733.8 640.1,735.0 642.5,736.1 644.9,737.2 647.2,738.2 649.6,739.1 652.0,740.0 654.3,740.9 656.7,741.8 659.1,742.6 661.5,743.2 663.8,743.7 666.2,744.1 668.6,744.5 670.9,744.9 673.3,745.3 675.7,745.6 678.0,745.9 680.4,746.1 682.8,746.2 685.2,746.2" stroke="#cd9b1d" stroke-width="2.2" stroke-opacity="1"/>
</g>
<line x1="539.46" y1="606.31" x2="539.46" y2="753.41" stroke="#222" stroke-width="1.4" stroke-dasharray="3.4 3.3" stroke-dashoffset="2.0"/>
<line x1="551.64" y1="606.31" x2="551.64" y2="753.41" stroke="#222" stroke-width="1.4" stroke-dasharray="3.4 3.3" stroke-dashoffset="2.0"/>
<path d="M513.50,606.31 L513.50,753.41 L684.80,753.41" fill="none" stroke="#000" stroke-width="1.9"/>
<line x1="504.30" y1="748.41" x2="513.50" y2="748.41" stroke="#000" stroke-width="1.3"/>
<line x1="504.30" y1="721.17" x2="513.50" y2="721.17" stroke="#000" stroke-width="1.3"/>
<line x1="504.30" y1="693.93" x2="513.50" y2="693.93" stroke="#000" stroke-width="1.3"/>
<line x1="504.30" y1="666.69" x2="513.50" y2="666.69" stroke="#000" stroke-width="1.3"/>
<line x1="504.30" y1="639.45" x2="513.50" y2="639.45" stroke="#000" stroke-width="1.3"/>
<line x1="504.30" y1="612.21" x2="513.50" y2="612.21" stroke="#000" stroke-width="1.3"/>
<text transform="translate(501.10,748.41) rotate(-90)" text-anchor="middle">0.00</text>
<text transform="translate(501.10,693.93) rotate(-90)" text-anchor="middle">0.10</text>
<text transform="translate(501.10,639.45) rotate(-90)" text-anchor="middle">0.20</text>
<line x1="520.00" y1="753.41" x2="520.00" y2="762.41" stroke="#000" stroke-width="1.3"/>
<text x="520.00" y="776.61" text-anchor="middle">6</text>
<line x1="551.64" y1="753.41" x2="551.64" y2="762.41" stroke="#000" stroke-width="1.3"/>
<text x="551.64" y="776.61" text-anchor="middle">8</text>
<line x1="583.28" y1="753.41" x2="583.28" y2="762.41" stroke="#000" stroke-width="1.3"/>
<text x="583.28" y="776.61" text-anchor="middle">10</text>
<line x1="614.92" y1="753.41" x2="614.92" y2="762.41" stroke="#000" stroke-width="1.3"/>
<text x="614.92" y="776.61" text-anchor="middle">12</text>
<line x1="646.56" y1="753.41" x2="646.56" y2="762.41" stroke="#000" stroke-width="1.3"/>
<text x="646.56" y="776.61" text-anchor="middle">14</text>
<line x1="678.20" y1="753.41" x2="678.20" y2="762.41" stroke="#000" stroke-width="1.3"/>
<text x="678.20" y="776.61" text-anchor="middle">16</text>
<text x="599.15" y="789.01" text-anchor="middle">log2(Intron length)</text>
<text transform="translate(489.30,679.86) rotate(-90)" text-anchor="middle">Density</text>
<text x="604.15" y="621.41" font-size="9.15">Osteoglossiformes</text>
<text x="472.40" y="615.11" font-size="23.2" stroke="#000" stroke-width="0.5">I</text></g>
</svg>
</body></html>
